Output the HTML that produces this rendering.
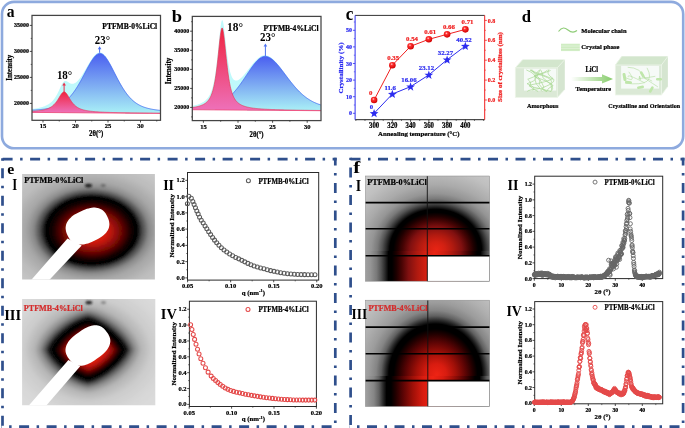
<!DOCTYPE html>
<html><head><meta charset="utf-8"><style>
html,body{margin:0;padding:0;background:#fff;overflow:hidden;}
svg{display:block;will-change:transform;}
text{font-family:"Liberation Serif",serif;font-weight:bold;}
</style></head><body>
<svg width="685" height="428" viewBox="0 0 685 428">
<defs>
<linearGradient id="bga" x1="0" y1="53.429182879377436" x2="0" y2="112.4" gradientUnits="userSpaceOnUse"><stop offset="0" stop-color="#4a5ff0"/><stop offset="0.5" stop-color="#7aa6f2"/><stop offset="1" stop-color="#a8eef6"/></linearGradient>
<linearGradient id="pga" x1="0" y1="91.85222688532514" x2="0" y2="112.4" gradientUnits="userSpaceOnUse"><stop offset="0" stop-color="#ef2440"/><stop offset="1" stop-color="#ee70b8"/></linearGradient>
<linearGradient id="bgb" x1="0" y1="56.36962344900046" x2="0" y2="109.7" gradientUnits="userSpaceOnUse"><stop offset="0" stop-color="#4a5ff0"/><stop offset="0.5" stop-color="#7aa6f2"/><stop offset="1" stop-color="#a8eef6"/></linearGradient>
<linearGradient id="pgb" x1="0" y1="28.04026920285156" x2="0" y2="109.7" gradientUnits="userSpaceOnUse"><stop offset="0" stop-color="#ef2440"/><stop offset="1" stop-color="#ee70b8"/></linearGradient>
<radialGradient id="sph" cx="0.4" cy="0.35" r="0.65"><stop offset="0" stop-color="#ffd0d0"/><stop offset="0.3" stop-color="#ff3030"/><stop offset="1" stop-color="#d00000"/></radialGradient>
<linearGradient id="arr" x1="0" y1="0" x2="1" y2="0"><stop offset="0" stop-color="#ffffff"/><stop offset="1" stop-color="#86cc6a"/></linearGradient>
<filter id="bl3" x="-50%" y="-50%" width="200%" height="200%"><feGaussianBlur stdDeviation="3"/></filter>
<filter id="bl5" x="-50%" y="-50%" width="200%" height="200%"><feGaussianBlur stdDeviation="5"/></filter>
<filter id="bl8" x="-50%" y="-50%" width="200%" height="200%"><feGaussianBlur stdDeviation="8"/></filter>
<filter id="bl1" x="-50%" y="-50%" width="200%" height="200%"><feGaussianBlur stdDeviation="1"/></filter>
<radialGradient id="wgf1" gradientUnits="userSpaceOnUse" cx="434.5" cy="251.0" fx="436.4" fy="249.5" r="118.00" gradientTransform="translate(434.5 251.0) scale(1 0.8900) translate(-434.5 -251.0)"><stop offset="0.0000" stop-color="#e82414"/><stop offset="0.0763" stop-color="#d22012"/><stop offset="0.1441" stop-color="#b01a10"/><stop offset="0.2203" stop-color="#801010"/><stop offset="0.2797" stop-color="#460404"/><stop offset="0.3220" stop-color="#1e0000"/><stop offset="0.3602" stop-color="#000000"/><stop offset="0.3898" stop-color="#000000"/><stop offset="0.4195" stop-color="#2a2a2a"/><stop offset="0.4534" stop-color="#555555"/><stop offset="0.4915" stop-color="#7a7a7a"/><stop offset="0.5424" stop-color="#959595"/><stop offset="0.6271" stop-color="#aaaaaa"/><stop offset="0.7627" stop-color="#c0c0c0"/><stop offset="1.0000" stop-color="#d2d2d2"/></radialGradient>
<linearGradient id="wlf1" gradientUnits="userSpaceOnUse" x1="316.50" y1="0" x2="552.50" y2="0"><stop offset="0.0000" stop-color="#d2d2d2"/><stop offset="0.1186" stop-color="#c0c0c0"/><stop offset="0.1864" stop-color="#aaaaaa"/><stop offset="0.2288" stop-color="#959595"/><stop offset="0.2542" stop-color="#7a7a7a"/><stop offset="0.2733" stop-color="#555555"/><stop offset="0.2903" stop-color="#2a2a2a"/><stop offset="0.3051" stop-color="#000000"/><stop offset="0.3199" stop-color="#000000"/><stop offset="0.3390" stop-color="#1e0000"/><stop offset="0.3602" stop-color="#460404"/><stop offset="0.3898" stop-color="#801010"/><stop offset="0.4280" stop-color="#b01a10"/><stop offset="0.4619" stop-color="#d22012"/><stop offset="0.5000" stop-color="#e82414"/><stop offset="0.5381" stop-color="#d22012"/><stop offset="0.5720" stop-color="#b01a10"/><stop offset="0.6102" stop-color="#801010"/><stop offset="0.6398" stop-color="#460404"/><stop offset="0.6610" stop-color="#1e0000"/><stop offset="0.6801" stop-color="#000000"/><stop offset="0.6949" stop-color="#000000"/><stop offset="0.7097" stop-color="#2a2a2a"/><stop offset="0.7267" stop-color="#555555"/><stop offset="0.7458" stop-color="#7a7a7a"/><stop offset="0.7712" stop-color="#959595"/><stop offset="0.8136" stop-color="#aaaaaa"/><stop offset="0.8814" stop-color="#c0c0c0"/><stop offset="1.0000" stop-color="#d2d2d2"/></linearGradient>
<radialGradient id="wgf3" gradientUnits="userSpaceOnUse" cx="433.0" cy="376.0" fx="436.8" fy="374.8" r="120.00" gradientTransform="translate(433.0 376.0) scale(1 1.1000) translate(-433.0 -376.0)"><stop offset="0.0000" stop-color="#ee2414"/><stop offset="0.0833" stop-color="#d81c10"/><stop offset="0.1667" stop-color="#a01008"/><stop offset="0.2500" stop-color="#5a0404"/><stop offset="0.3083" stop-color="#240000"/><stop offset="0.3500" stop-color="#000000"/><stop offset="0.3875" stop-color="#000000"/><stop offset="0.4167" stop-color="#2a2a2a"/><stop offset="0.4500" stop-color="#606060"/><stop offset="0.4917" stop-color="#858585"/><stop offset="0.5500" stop-color="#9c9c9c"/><stop offset="0.6417" stop-color="#b0b0b0"/><stop offset="0.7667" stop-color="#c4c4c4"/><stop offset="1.0000" stop-color="#d2d2d2"/></radialGradient>
<linearGradient id="wlf3" gradientUnits="userSpaceOnUse" x1="313.00" y1="0" x2="553.00" y2="0"><stop offset="0.0000" stop-color="#d2d2d2"/><stop offset="0.1167" stop-color="#c4c4c4"/><stop offset="0.1792" stop-color="#b0b0b0"/><stop offset="0.2250" stop-color="#9c9c9c"/><stop offset="0.2542" stop-color="#858585"/><stop offset="0.2750" stop-color="#606060"/><stop offset="0.2917" stop-color="#2a2a2a"/><stop offset="0.3063" stop-color="#000000"/><stop offset="0.3250" stop-color="#000000"/><stop offset="0.3458" stop-color="#240000"/><stop offset="0.3750" stop-color="#5a0404"/><stop offset="0.4167" stop-color="#a01008"/><stop offset="0.4583" stop-color="#d81c10"/><stop offset="0.5000" stop-color="#ee2414"/><stop offset="0.5417" stop-color="#d81c10"/><stop offset="0.5833" stop-color="#a01008"/><stop offset="0.6250" stop-color="#5a0404"/><stop offset="0.6542" stop-color="#240000"/><stop offset="0.6750" stop-color="#000000"/><stop offset="0.6937" stop-color="#000000"/><stop offset="0.7083" stop-color="#2a2a2a"/><stop offset="0.7250" stop-color="#606060"/><stop offset="0.7458" stop-color="#858585"/><stop offset="0.7750" stop-color="#9c9c9c"/><stop offset="0.8208" stop-color="#b0b0b0"/><stop offset="0.8833" stop-color="#c4c4c4"/><stop offset="1.0000" stop-color="#d2d2d2"/></linearGradient>
</defs>
<rect x="0" y="0" width="685" height="428" fill="#fff"/>
<rect x="2.0" y="1.9" width="681.2" height="146.4" rx="12" ry="12" fill="none" stroke="#8eaade" stroke-width="2.6"/>
<path d="M32.00,109.00 L32.50,108.93 L33.00,108.87 L33.50,108.80 L34.00,108.73 L34.50,108.66 L35.00,108.58 L35.50,108.50 L36.00,108.42 L36.50,108.33 L37.00,108.24 L37.50,108.15 L38.00,108.05 L38.50,107.95 L39.00,107.84 L39.50,107.73 L40.00,107.61 L40.50,107.49 L41.00,107.36 L41.50,107.23 L42.00,107.08 L42.50,106.93 L43.00,106.77 L43.50,106.61 L44.00,106.43 L44.50,106.24 L45.00,106.04 L45.50,105.83 L46.00,105.61 L46.50,105.37 L47.00,105.12 L47.50,104.85 L48.00,104.57 L48.50,104.26 L49.00,103.94 L49.50,103.59 L50.00,103.22 L50.50,102.83 L51.00,102.41 L51.50,101.95 L52.00,101.47 L52.50,100.95 L53.00,100.40 L53.50,99.81 L54.00,99.17 L54.50,98.50 L55.00,97.78 L55.50,97.01 L56.00,96.20 L56.50,95.34 L57.00,94.43 L57.50,93.47 L58.00,92.48 L58.50,91.44 L59.00,90.38 L59.50,89.29 L60.00,88.19 L60.50,87.11 L61.00,86.05 L61.50,85.04 L62.00,84.10 L62.50,83.25 L63.00,82.51 L63.50,81.90 L64.00,81.44 L64.50,81.11 L65.00,80.93 L65.50,80.89 L66.00,80.96 L66.50,81.13 L67.00,81.37 L67.50,81.67 L68.00,82.00 L68.50,82.33 L69.00,82.66 L69.50,82.97 L70.00,83.24 L70.50,83.47 L71.00,83.66 L71.50,83.78 L72.00,83.85 L72.50,83.87 L73.00,83.82 L73.50,83.72 L74.00,83.57 L74.50,83.35 L75.00,83.09 L75.50,82.78 L76.00,82.42 L76.50,82.01 L77.00,81.56 L77.50,81.07 L78.00,80.54 L78.50,79.97 L79.00,79.37 L79.50,78.74 L80.00,78.08 L80.50,77.39 L81.00,76.67 L81.50,75.93 L82.00,75.17 L82.50,74.39 L83.00,73.59 L83.50,72.78 L84.00,71.95 L84.50,71.11 L85.00,70.26 L85.50,69.40 L86.00,68.54 L86.50,67.68 L87.00,66.82 L87.50,65.95 L88.00,65.09 L88.50,64.24 L89.00,63.40 L89.50,62.57 L90.00,61.75 L90.50,60.95 L91.00,60.17 L91.50,59.41 L92.00,58.68 L92.50,57.98 L93.00,57.30 L93.50,56.67 L94.00,56.06 L94.50,55.50 L95.00,54.97 L95.50,54.50 L96.00,54.06 L96.50,53.68 L97.00,53.35 L97.50,53.07 L98.00,52.84 L98.50,52.67 L99.00,52.55 L99.50,52.49 L100.00,52.49 L100.50,52.55 L101.00,52.68 L101.50,52.86 L102.00,53.10 L102.50,53.40 L103.00,53.77 L103.50,54.18 L104.00,54.65 L104.50,55.18 L105.00,55.75 L105.50,56.37 L106.00,57.04 L106.50,57.74 L107.00,58.49 L107.50,59.27 L108.00,60.08 L108.50,60.93 L109.00,61.80 L109.50,62.69 L110.00,63.61 L110.50,64.54 L111.00,65.49 L111.50,66.46 L112.00,67.43 L112.50,68.41 L113.00,69.40 L113.50,70.40 L114.00,71.39 L114.50,72.39 L115.00,73.39 L115.50,74.38 L116.00,75.36 L116.50,76.34 L117.00,77.32 L117.50,78.28 L118.00,79.24 L118.50,80.18 L119.00,81.11 L119.50,82.03 L120.00,82.94 L120.50,83.83 L121.00,84.70 L121.50,85.56 L122.00,86.41 L122.50,87.24 L123.00,88.05 L123.50,88.84 L124.00,89.61 L124.50,90.37 L125.00,91.11 L125.50,91.83 L126.00,92.53 L126.50,93.21 L127.00,93.87 L127.50,94.52 L128.00,95.14 L128.50,95.75 L129.00,96.34 L129.50,96.91 L130.00,97.47 L130.50,98.00 L131.00,98.52 L131.50,99.02 L132.00,99.51 L132.50,99.97 L133.00,100.42 L133.50,100.86 L134.00,101.28 L134.50,101.68 L135.00,102.07 L135.50,102.44 L136.00,102.80 L136.50,103.15 L137.00,103.48 L137.50,103.80 L138.00,104.11 L138.50,104.40 L139.00,104.68 L139.50,104.95 L140.00,105.21 L140.50,105.46 L141.00,105.70 L141.50,105.93 L142.00,106.15 L142.50,106.36 L143.00,106.56 L143.50,106.76 L144.00,106.94 L144.50,107.12 L145.00,107.29 L145.50,107.45 L146.00,107.61 L146.50,107.76 L147.00,107.90 L147.50,108.04 L148.00,108.17 L148.50,108.30 L149.00,108.42 L149.50,108.54 L150.00,108.65 L150.50,108.76 L151.00,108.87 L151.50,108.97 L152.00,109.06 L152.50,109.16 L153.00,109.25 L153.50,109.33 L154.00,109.42 L154.50,109.50 L155.00,109.57 L155.50,109.65 L156.00,109.72 L156.50,109.79 L157.00,109.86 L157.50,109.93 L158.00,109.99 L158.50,110.05 L159.00,110.11 L159.50,110.17 L160.00,110.23 L160.50,110.28 L160.50,113.40 L160.00,113.40 L159.50,113.39 L159.00,113.39 L158.50,113.38 L158.00,113.38 L157.50,113.38 L157.00,113.37 L156.50,113.37 L156.00,113.36 L155.50,113.36 L155.00,113.36 L154.50,113.35 L154.00,113.35 L153.50,113.35 L153.00,113.34 L152.50,113.34 L152.00,113.33 L151.50,113.33 L151.00,113.33 L150.50,113.32 L150.00,113.32 L149.50,113.31 L149.00,113.31 L148.50,113.31 L148.00,113.30 L147.50,113.30 L147.00,113.29 L146.50,113.29 L146.00,113.29 L145.50,113.28 L145.00,113.28 L144.50,113.28 L144.00,113.27 L143.50,113.27 L143.00,113.26 L142.50,113.26 L142.00,113.26 L141.50,113.25 L141.00,113.25 L140.50,113.24 L140.00,113.24 L139.50,113.24 L139.00,113.23 L138.50,113.23 L138.00,113.22 L137.50,113.22 L137.00,113.22 L136.50,113.21 L136.00,113.21 L135.50,113.21 L135.00,113.20 L134.50,113.20 L134.00,113.19 L133.50,113.19 L133.00,113.19 L132.50,113.18 L132.00,113.18 L131.50,113.17 L131.00,113.17 L130.50,113.17 L130.00,113.16 L129.50,113.16 L129.00,113.15 L128.50,113.15 L128.00,113.15 L127.50,113.14 L127.00,113.14 L126.50,113.14 L126.00,113.13 L125.50,113.13 L125.00,113.12 L124.50,113.12 L124.00,113.12 L123.50,113.11 L123.00,113.11 L122.50,113.10 L122.00,113.10 L121.50,113.10 L121.00,113.09 L120.50,113.09 L120.00,113.08 L119.50,113.08 L119.00,113.08 L118.50,113.07 L118.00,113.07 L117.50,113.07 L117.00,113.06 L116.50,113.06 L116.00,113.05 L115.50,113.05 L115.00,113.05 L114.50,113.04 L114.00,113.04 L113.50,113.03 L113.00,113.03 L112.50,113.03 L112.00,113.02 L111.50,113.02 L111.00,113.01 L110.50,113.01 L110.00,113.01 L109.50,113.00 L109.00,113.00 L108.50,113.00 L108.00,112.99 L107.50,112.99 L107.00,112.98 L106.50,112.98 L106.00,112.98 L105.50,112.97 L105.00,112.97 L104.50,112.96 L104.00,112.96 L103.50,112.96 L103.00,112.95 L102.50,112.95 L102.00,112.94 L101.50,112.94 L101.00,112.94 L100.50,112.93 L100.00,112.93 L99.50,112.93 L99.00,112.92 L98.50,112.92 L98.00,112.91 L97.50,112.91 L97.00,112.91 L96.50,112.90 L96.00,112.90 L95.50,112.89 L95.00,112.89 L94.50,112.89 L94.00,112.88 L93.50,112.88 L93.00,112.87 L92.50,112.87 L92.00,112.87 L91.50,112.86 L91.00,112.86 L90.50,112.86 L90.00,112.85 L89.50,112.85 L89.00,112.84 L88.50,112.84 L88.00,112.84 L87.50,112.83 L87.00,112.83 L86.50,112.82 L86.00,112.82 L85.50,112.82 L85.00,112.81 L84.50,112.81 L84.00,112.80 L83.50,112.80 L83.00,112.80 L82.50,112.79 L82.00,112.79 L81.50,112.79 L81.00,112.78 L80.50,112.78 L80.00,112.77 L79.50,112.77 L79.00,112.77 L78.50,112.76 L78.00,112.76 L77.50,112.75 L77.00,112.75 L76.50,112.75 L76.00,112.74 L75.50,112.74 L75.00,112.73 L74.50,112.73 L74.00,112.73 L73.50,112.72 L73.00,112.72 L72.50,112.72 L72.00,112.71 L71.50,112.71 L71.00,112.70 L70.50,112.70 L70.00,112.70 L69.50,112.69 L69.00,112.69 L68.50,112.68 L68.00,112.68 L67.50,112.68 L67.00,112.67 L66.50,112.67 L66.00,112.66 L65.50,112.66 L65.00,112.66 L64.50,112.65 L64.00,112.65 L63.50,112.65 L63.00,112.64 L62.50,112.64 L62.00,112.63 L61.50,112.63 L61.00,112.63 L60.50,112.62 L60.00,112.62 L59.50,112.61 L59.00,112.61 L58.50,112.61 L58.00,112.60 L57.50,112.60 L57.00,112.59 L56.50,112.59 L56.00,112.59 L55.50,112.58 L55.00,112.58 L54.50,112.58 L54.00,112.57 L53.50,112.57 L53.00,112.56 L52.50,112.56 L52.00,112.56 L51.50,112.55 L51.00,112.55 L50.50,112.54 L50.00,112.54 L49.50,112.54 L49.00,112.53 L48.50,112.53 L48.00,112.52 L47.50,112.52 L47.00,112.52 L46.50,112.51 L46.00,112.51 L45.50,112.51 L45.00,112.50 L44.50,112.50 L44.00,112.49 L43.50,112.49 L43.00,112.49 L42.50,112.48 L42.00,112.48 L41.50,112.47 L41.00,112.47 L40.50,112.47 L40.00,112.46 L39.50,112.46 L39.00,112.45 L38.50,112.45 L38.00,112.45 L37.50,112.44 L37.00,112.44 L36.50,112.44 L36.00,112.43 L35.50,112.43 L35.00,112.42 L34.50,112.42 L34.00,112.42 L33.50,112.41 L33.00,112.41 L32.50,112.40 L32.00,112.40 Z" fill="#bff9fb"/>
<path d="M32.00,110.15 L32.50,110.12 L33.00,110.10 L33.50,110.07 L34.00,110.03 L34.50,110.00 L35.00,109.97 L35.50,109.94 L36.00,109.90 L36.50,109.87 L37.00,109.83 L37.50,109.79 L38.00,109.75 L38.50,109.71 L39.00,109.67 L39.50,109.62 L40.00,109.58 L40.50,109.53 L41.00,109.48 L41.50,109.43 L42.00,109.38 L42.50,109.32 L43.00,109.26 L43.50,109.21 L44.00,109.14 L44.50,109.08 L45.00,109.01 L45.50,108.94 L46.00,108.87 L46.50,108.79 L47.00,108.71 L47.50,108.63 L48.00,108.54 L48.50,108.45 L49.00,108.36 L49.50,108.26 L50.00,108.16 L50.50,108.05 L51.00,107.94 L51.50,107.82 L52.00,107.69 L52.50,107.56 L53.00,107.43 L53.50,107.29 L54.00,107.14 L54.50,106.98 L55.00,106.82 L55.50,106.65 L56.00,106.47 L56.50,106.28 L57.00,106.09 L57.50,105.88 L58.00,105.67 L58.50,105.44 L59.00,105.21 L59.50,104.97 L60.00,104.71 L60.50,104.44 L61.00,104.17 L61.50,103.88 L62.00,103.57 L62.50,103.26 L63.00,102.93 L63.50,102.59 L64.00,102.23 L64.50,101.86 L65.00,101.48 L65.50,101.08 L66.00,100.66 L66.50,100.23 L67.00,99.79 L67.50,99.32 L68.00,98.84 L68.50,98.35 L69.00,97.83 L69.50,97.30 L70.00,96.76 L70.50,96.19 L71.00,95.61 L71.50,95.01 L72.00,94.39 L72.50,93.75 L73.00,93.10 L73.50,92.42 L74.00,91.73 L74.50,91.02 L75.00,90.30 L75.50,89.55 L76.00,88.79 L76.50,88.01 L77.00,87.22 L77.50,86.41 L78.00,85.58 L78.50,84.74 L79.00,83.89 L79.50,83.02 L80.00,82.14 L80.50,81.24 L81.00,80.34 L81.50,79.42 L82.00,78.49 L82.50,77.56 L83.00,76.61 L83.50,75.67 L84.00,74.71 L84.50,73.75 L85.00,72.79 L85.50,71.83 L86.00,70.88 L86.50,69.92 L87.00,68.97 L87.50,68.02 L88.00,67.09 L88.50,66.16 L89.00,65.25 L89.50,64.35 L90.00,63.47 L90.50,62.61 L91.00,61.78 L91.50,60.97 L92.00,60.18 L92.50,59.43 L93.00,58.71 L93.50,58.03 L94.00,57.38 L94.50,56.78 L95.00,56.22 L95.50,55.70 L96.00,55.23 L96.50,54.81 L97.00,54.45 L97.50,54.14 L98.00,53.88 L98.50,53.68 L99.00,53.54 L99.50,53.45 L100.00,53.43 L100.50,53.46 L101.00,53.56 L101.50,53.72 L102.00,53.94 L102.50,54.23 L103.00,54.57 L103.50,54.97 L104.00,55.42 L104.50,55.92 L105.00,56.48 L105.50,57.08 L106.00,57.73 L106.50,58.42 L107.00,59.15 L107.50,59.92 L108.00,60.72 L108.50,61.55 L109.00,62.41 L109.50,63.29 L110.00,64.19 L110.50,65.11 L111.00,66.05 L111.50,67.00 L112.00,67.97 L112.50,68.94 L113.00,69.92 L113.50,70.90 L114.00,71.89 L114.50,72.88 L115.00,73.86 L115.50,74.84 L116.00,75.82 L116.50,76.79 L117.00,77.76 L117.50,78.72 L118.00,79.66 L118.50,80.60 L119.00,81.52 L119.50,82.44 L120.00,83.33 L120.50,84.22 L121.00,85.09 L121.50,85.94 L122.00,86.78 L122.50,87.60 L123.00,88.40 L123.50,89.19 L124.00,89.96 L124.50,90.71 L125.00,91.44 L125.50,92.16 L126.00,92.85 L126.50,93.53 L127.00,94.19 L127.50,94.83 L128.00,95.45 L128.50,96.05 L129.00,96.64 L129.50,97.21 L130.00,97.75 L130.50,98.29 L131.00,98.80 L131.50,99.30 L132.00,99.78 L132.50,100.24 L133.00,100.69 L133.50,101.12 L134.00,101.53 L134.50,101.93 L135.00,102.32 L135.50,102.69 L136.00,103.04 L136.50,103.39 L137.00,103.72 L137.50,104.03 L138.00,104.34 L138.50,104.63 L139.00,104.91 L139.50,105.17 L140.00,105.43 L140.50,105.68 L141.00,105.91 L141.50,106.14 L142.00,106.36 L142.50,106.57 L143.00,106.76 L143.50,106.96 L144.00,107.14 L144.50,107.31 L145.00,107.48 L145.50,107.64 L146.00,107.80 L146.50,107.94 L147.00,108.09 L147.50,108.22 L148.00,108.35 L148.50,108.48 L149.00,108.60 L149.50,108.71 L150.00,108.82 L150.50,108.93 L151.00,109.03 L151.50,109.13 L152.00,109.23 L152.50,109.32 L153.00,109.40 L153.50,109.49 L154.00,109.57 L154.50,109.65 L155.00,109.73 L155.50,109.80 L156.00,109.87 L156.50,109.94 L157.00,110.00 L157.50,110.07 L158.00,110.13 L158.50,110.19 L159.00,110.25 L159.50,110.31 L160.00,110.36 L160.50,110.42 L160.50,113.40 L160.00,113.40 L159.50,113.39 L159.00,113.39 L158.50,113.38 L158.00,113.38 L157.50,113.38 L157.00,113.37 L156.50,113.37 L156.00,113.36 L155.50,113.36 L155.00,113.36 L154.50,113.35 L154.00,113.35 L153.50,113.35 L153.00,113.34 L152.50,113.34 L152.00,113.33 L151.50,113.33 L151.00,113.33 L150.50,113.32 L150.00,113.32 L149.50,113.31 L149.00,113.31 L148.50,113.31 L148.00,113.30 L147.50,113.30 L147.00,113.29 L146.50,113.29 L146.00,113.29 L145.50,113.28 L145.00,113.28 L144.50,113.28 L144.00,113.27 L143.50,113.27 L143.00,113.26 L142.50,113.26 L142.00,113.26 L141.50,113.25 L141.00,113.25 L140.50,113.24 L140.00,113.24 L139.50,113.24 L139.00,113.23 L138.50,113.23 L138.00,113.22 L137.50,113.22 L137.00,113.22 L136.50,113.21 L136.00,113.21 L135.50,113.21 L135.00,113.20 L134.50,113.20 L134.00,113.19 L133.50,113.19 L133.00,113.19 L132.50,113.18 L132.00,113.18 L131.50,113.17 L131.00,113.17 L130.50,113.17 L130.00,113.16 L129.50,113.16 L129.00,113.15 L128.50,113.15 L128.00,113.15 L127.50,113.14 L127.00,113.14 L126.50,113.14 L126.00,113.13 L125.50,113.13 L125.00,113.12 L124.50,113.12 L124.00,113.12 L123.50,113.11 L123.00,113.11 L122.50,113.10 L122.00,113.10 L121.50,113.10 L121.00,113.09 L120.50,113.09 L120.00,113.08 L119.50,113.08 L119.00,113.08 L118.50,113.07 L118.00,113.07 L117.50,113.07 L117.00,113.06 L116.50,113.06 L116.00,113.05 L115.50,113.05 L115.00,113.05 L114.50,113.04 L114.00,113.04 L113.50,113.03 L113.00,113.03 L112.50,113.03 L112.00,113.02 L111.50,113.02 L111.00,113.01 L110.50,113.01 L110.00,113.01 L109.50,113.00 L109.00,113.00 L108.50,113.00 L108.00,112.99 L107.50,112.99 L107.00,112.98 L106.50,112.98 L106.00,112.98 L105.50,112.97 L105.00,112.97 L104.50,112.96 L104.00,112.96 L103.50,112.96 L103.00,112.95 L102.50,112.95 L102.00,112.94 L101.50,112.94 L101.00,112.94 L100.50,112.93 L100.00,112.93 L99.50,112.93 L99.00,112.92 L98.50,112.92 L98.00,112.91 L97.50,112.91 L97.00,112.91 L96.50,112.90 L96.00,112.90 L95.50,112.89 L95.00,112.89 L94.50,112.89 L94.00,112.88 L93.50,112.88 L93.00,112.87 L92.50,112.87 L92.00,112.87 L91.50,112.86 L91.00,112.86 L90.50,112.86 L90.00,112.85 L89.50,112.85 L89.00,112.84 L88.50,112.84 L88.00,112.84 L87.50,112.83 L87.00,112.83 L86.50,112.82 L86.00,112.82 L85.50,112.82 L85.00,112.81 L84.50,112.81 L84.00,112.80 L83.50,112.80 L83.00,112.80 L82.50,112.79 L82.00,112.79 L81.50,112.79 L81.00,112.78 L80.50,112.78 L80.00,112.77 L79.50,112.77 L79.00,112.77 L78.50,112.76 L78.00,112.76 L77.50,112.75 L77.00,112.75 L76.50,112.75 L76.00,112.74 L75.50,112.74 L75.00,112.73 L74.50,112.73 L74.00,112.73 L73.50,112.72 L73.00,112.72 L72.50,112.72 L72.00,112.71 L71.50,112.71 L71.00,112.70 L70.50,112.70 L70.00,112.70 L69.50,112.69 L69.00,112.69 L68.50,112.68 L68.00,112.68 L67.50,112.68 L67.00,112.67 L66.50,112.67 L66.00,112.66 L65.50,112.66 L65.00,112.66 L64.50,112.65 L64.00,112.65 L63.50,112.65 L63.00,112.64 L62.50,112.64 L62.00,112.63 L61.50,112.63 L61.00,112.63 L60.50,112.62 L60.00,112.62 L59.50,112.61 L59.00,112.61 L58.50,112.61 L58.00,112.60 L57.50,112.60 L57.00,112.59 L56.50,112.59 L56.00,112.59 L55.50,112.58 L55.00,112.58 L54.50,112.58 L54.00,112.57 L53.50,112.57 L53.00,112.56 L52.50,112.56 L52.00,112.56 L51.50,112.55 L51.00,112.55 L50.50,112.54 L50.00,112.54 L49.50,112.54 L49.00,112.53 L48.50,112.53 L48.00,112.52 L47.50,112.52 L47.00,112.52 L46.50,112.51 L46.00,112.51 L45.50,112.51 L45.00,112.50 L44.50,112.50 L44.00,112.49 L43.50,112.49 L43.00,112.49 L42.50,112.48 L42.00,112.48 L41.50,112.47 L41.00,112.47 L40.50,112.47 L40.00,112.46 L39.50,112.46 L39.00,112.45 L38.50,112.45 L38.00,112.45 L37.50,112.44 L37.00,112.44 L36.50,112.44 L36.00,112.43 L35.50,112.43 L35.00,112.42 L34.50,112.42 L34.00,112.42 L33.50,112.41 L33.00,112.41 L32.50,112.40 L32.00,112.40 Z" fill="url(#bga)"/>
<path d="M32.00,110.15 L32.50,110.12 L33.00,110.10 L33.50,110.07 L34.00,110.03 L34.50,110.00 L35.00,109.97 L35.50,109.94 L36.00,109.90 L36.50,109.87 L37.00,109.83 L37.50,109.79 L38.00,109.75 L38.50,109.71 L39.00,109.67 L39.50,109.62 L40.00,109.58 L40.50,109.53 L41.00,109.48 L41.50,109.43 L42.00,109.38 L42.50,109.32 L43.00,109.26 L43.50,109.21 L44.00,109.14 L44.50,109.08 L45.00,109.01 L45.50,108.94 L46.00,108.87 L46.50,108.79 L47.00,108.71 L47.50,108.63 L48.00,108.54 L48.50,108.45 L49.00,108.36 L49.50,108.26 L50.00,108.16 L50.50,108.05 L51.00,107.94 L51.50,107.82 L52.00,107.69 L52.50,107.56 L53.00,107.43 L53.50,107.29 L54.00,107.14 L54.50,106.98 L55.00,106.82 L55.50,106.65 L56.00,106.47 L56.50,106.28 L57.00,106.09 L57.50,105.88 L58.00,105.67 L58.50,105.44 L59.00,105.21 L59.50,104.97 L60.00,104.71 L60.50,104.44 L61.00,104.17 L61.50,103.88 L62.00,103.57 L62.50,103.26 L63.00,102.93 L63.50,102.59 L64.00,102.23 L64.50,101.86 L65.00,101.48 L65.50,101.08 L66.00,100.66 L66.50,100.23 L67.00,99.79 L67.50,99.32 L68.00,98.84 L68.50,98.35 L69.00,97.83 L69.50,97.30 L70.00,96.76 L70.50,96.19 L71.00,95.61 L71.50,95.01 L72.00,94.39 L72.50,93.75 L73.00,93.10 L73.50,92.42 L74.00,91.73 L74.50,91.02 L75.00,90.30 L75.50,89.55 L76.00,88.79 L76.50,88.01 L77.00,87.22 L77.50,86.41 L78.00,85.58 L78.50,84.74 L79.00,83.89 L79.50,83.02 L80.00,82.14 L80.50,81.24 L81.00,80.34 L81.50,79.42 L82.00,78.49 L82.50,77.56 L83.00,76.61 L83.50,75.67 L84.00,74.71 L84.50,73.75 L85.00,72.79 L85.50,71.83 L86.00,70.88 L86.50,69.92 L87.00,68.97 L87.50,68.02 L88.00,67.09 L88.50,66.16 L89.00,65.25 L89.50,64.35 L90.00,63.47 L90.50,62.61 L91.00,61.78 L91.50,60.97 L92.00,60.18 L92.50,59.43 L93.00,58.71 L93.50,58.03 L94.00,57.38 L94.50,56.78 L95.00,56.22 L95.50,55.70 L96.00,55.23 L96.50,54.81 L97.00,54.45 L97.50,54.14 L98.00,53.88 L98.50,53.68 L99.00,53.54 L99.50,53.45 L100.00,53.43 L100.50,53.46 L101.00,53.56 L101.50,53.72 L102.00,53.94 L102.50,54.23 L103.00,54.57 L103.50,54.97 L104.00,55.42 L104.50,55.92 L105.00,56.48 L105.50,57.08 L106.00,57.73 L106.50,58.42 L107.00,59.15 L107.50,59.92 L108.00,60.72 L108.50,61.55 L109.00,62.41 L109.50,63.29 L110.00,64.19 L110.50,65.11 L111.00,66.05 L111.50,67.00 L112.00,67.97 L112.50,68.94 L113.00,69.92 L113.50,70.90 L114.00,71.89 L114.50,72.88 L115.00,73.86 L115.50,74.84 L116.00,75.82 L116.50,76.79 L117.00,77.76 L117.50,78.72 L118.00,79.66 L118.50,80.60 L119.00,81.52 L119.50,82.44 L120.00,83.33 L120.50,84.22 L121.00,85.09 L121.50,85.94 L122.00,86.78 L122.50,87.60 L123.00,88.40 L123.50,89.19 L124.00,89.96 L124.50,90.71 L125.00,91.44 L125.50,92.16 L126.00,92.85 L126.50,93.53 L127.00,94.19 L127.50,94.83 L128.00,95.45 L128.50,96.05 L129.00,96.64 L129.50,97.21 L130.00,97.75 L130.50,98.29 L131.00,98.80 L131.50,99.30 L132.00,99.78 L132.50,100.24 L133.00,100.69 L133.50,101.12 L134.00,101.53 L134.50,101.93 L135.00,102.32 L135.50,102.69 L136.00,103.04 L136.50,103.39 L137.00,103.72 L137.50,104.03 L138.00,104.34 L138.50,104.63 L139.00,104.91 L139.50,105.17 L140.00,105.43 L140.50,105.68 L141.00,105.91 L141.50,106.14 L142.00,106.36 L142.50,106.57 L143.00,106.76 L143.50,106.96 L144.00,107.14 L144.50,107.31 L145.00,107.48 L145.50,107.64 L146.00,107.80 L146.50,107.94 L147.00,108.09 L147.50,108.22 L148.00,108.35 L148.50,108.48 L149.00,108.60 L149.50,108.71 L150.00,108.82 L150.50,108.93 L151.00,109.03 L151.50,109.13 L152.00,109.23 L152.50,109.32 L153.00,109.40 L153.50,109.49 L154.00,109.57 L154.50,109.65 L155.00,109.73 L155.50,109.80 L156.00,109.87 L156.50,109.94 L157.00,110.00 L157.50,110.07 L158.00,110.13 L158.50,110.19 L159.00,110.25 L159.50,110.31 L160.00,110.36 L160.50,110.42" fill="none" stroke="#3b5cf0" stroke-width="0.7"/>
<path d="M32.00,111.24 L32.50,111.21 L33.00,111.18 L33.50,111.15 L34.00,111.11 L34.50,111.07 L35.00,111.03 L35.50,110.99 L36.00,110.95 L36.50,110.90 L37.00,110.85 L37.50,110.80 L38.00,110.75 L38.50,110.69 L39.00,110.63 L39.50,110.57 L40.00,110.50 L40.50,110.43 L41.00,110.35 L41.50,110.27 L42.00,110.18 L42.50,110.09 L43.00,109.99 L43.50,109.89 L44.00,109.78 L44.50,109.66 L45.00,109.53 L45.50,109.40 L46.00,109.25 L46.50,109.09 L47.00,108.92 L47.50,108.74 L48.00,108.55 L48.50,108.34 L49.00,108.11 L49.50,107.87 L50.00,107.61 L50.50,107.32 L51.00,107.02 L51.50,106.69 L52.00,106.33 L52.50,105.95 L53.00,105.53 L53.50,105.09 L54.00,104.61 L54.50,104.09 L55.00,103.54 L55.50,102.95 L56.00,102.32 L56.50,101.65 L57.00,100.94 L57.50,100.19 L58.00,99.41 L58.50,98.60 L59.00,97.78 L59.50,96.94 L60.00,96.10 L60.50,95.29 L61.00,94.51 L61.50,93.79 L62.00,93.16 L62.50,92.63 L63.00,92.22 L63.50,91.96 L64.00,91.85 L64.50,91.90 L65.00,92.11 L65.50,92.47 L66.00,92.96 L66.50,93.56 L67.00,94.26 L67.50,95.02 L68.00,95.83 L68.50,96.67 L69.00,97.52 L69.50,98.36 L70.00,99.18 L70.50,99.98 L71.00,100.75 L71.50,101.48 L72.00,102.18 L72.50,102.83 L73.00,103.45 L73.50,104.02 L74.00,104.56 L74.50,105.06 L75.00,105.53 L75.50,105.96 L76.00,106.37 L76.50,106.74 L77.00,107.09 L77.50,107.41 L78.00,107.71 L78.50,107.99 L79.00,108.25 L79.50,108.49 L80.00,108.71 L80.50,108.92 L81.00,109.12 L81.50,109.30 L82.00,109.47 L82.50,109.62 L83.00,109.77 L83.50,109.91 L84.00,110.04 L84.50,110.16 L85.00,110.28 L85.50,110.39 L86.00,110.49 L86.50,110.58 L87.00,110.68 L87.50,110.76 L88.00,110.84 L88.50,110.92 L89.00,110.99 L89.50,111.06 L90.00,111.13 L90.50,111.19 L91.00,111.25 L91.50,111.31 L92.00,111.37 L92.50,111.42 L93.00,111.47 L93.50,111.52 L94.00,111.56 L94.50,111.61 L95.00,111.65 L95.50,111.69 L96.00,111.73 L96.50,111.77 L97.00,111.80 L97.50,111.84 L98.00,111.87 L98.50,111.90 L99.00,111.93 L99.50,111.97 L100.00,111.99 L100.50,112.02 L101.00,112.05 L101.50,112.08 L102.00,112.10 L102.50,112.13 L103.00,112.15 L103.50,112.17 L104.00,112.20 L104.50,112.22 L105.00,112.24 L105.50,112.26 L106.00,112.28 L106.50,112.30 L107.00,112.32 L107.50,112.34 L108.00,112.36 L108.50,112.37 L109.00,112.39 L109.50,112.41 L110.00,112.42 L110.50,112.44 L111.00,112.46 L111.50,112.47 L112.00,112.49 L112.50,112.50 L113.00,112.52 L113.50,112.53 L114.00,112.54 L114.50,112.56 L115.00,112.57 L115.50,112.58 L116.00,112.60 L116.50,112.61 L117.00,112.62 L117.50,112.63 L118.00,112.64 L118.50,112.65 L119.00,112.67 L119.50,112.68 L120.00,112.69 L120.50,112.70 L121.00,112.71 L121.50,112.72 L122.00,112.73 L122.50,112.74 L123.00,112.75 L123.50,112.76 L124.00,112.77 L124.50,112.78 L125.00,112.79 L125.50,112.80 L126.00,112.81 L126.50,112.82 L127.00,112.82 L127.50,112.83 L128.00,112.84 L128.50,112.85 L129.00,112.86 L129.50,112.87 L130.00,112.88 L130.50,112.88 L131.00,112.89 L131.50,112.90 L132.00,112.91 L132.50,112.92 L133.00,112.92 L133.50,112.93 L134.00,112.94 L134.50,112.95 L135.00,112.95 L135.50,112.96 L136.00,112.97 L136.50,112.97 L137.00,112.98 L137.50,112.99 L138.00,113.00 L138.50,113.00 L139.00,113.01 L139.50,113.02 L140.00,113.02 L140.50,113.03 L141.00,113.04 L141.50,113.04 L142.00,113.05 L142.50,113.06 L143.00,113.06 L143.50,113.07 L144.00,113.08 L144.50,113.08 L145.00,113.09 L145.50,113.09 L146.00,113.10 L146.50,113.11 L147.00,113.11 L147.50,113.12 L148.00,113.12 L148.50,113.13 L149.00,113.14 L149.50,113.14 L150.00,113.15 L150.50,113.15 L151.00,113.16 L151.50,113.17 L152.00,113.17 L152.50,113.18 L153.00,113.18 L153.50,113.19 L154.00,113.19 L154.50,113.20 L155.00,113.21 L155.50,113.21 L156.00,113.22 L156.50,113.22 L157.00,113.23 L157.50,113.23 L158.00,113.24 L158.50,113.24 L159.00,113.25 L159.50,113.25 L160.00,113.26 L160.50,113.26 L160.50,113.40 L160.00,113.40 L159.50,113.39 L159.00,113.39 L158.50,113.38 L158.00,113.38 L157.50,113.38 L157.00,113.37 L156.50,113.37 L156.00,113.36 L155.50,113.36 L155.00,113.36 L154.50,113.35 L154.00,113.35 L153.50,113.35 L153.00,113.34 L152.50,113.34 L152.00,113.33 L151.50,113.33 L151.00,113.33 L150.50,113.32 L150.00,113.32 L149.50,113.31 L149.00,113.31 L148.50,113.31 L148.00,113.30 L147.50,113.30 L147.00,113.29 L146.50,113.29 L146.00,113.29 L145.50,113.28 L145.00,113.28 L144.50,113.28 L144.00,113.27 L143.50,113.27 L143.00,113.26 L142.50,113.26 L142.00,113.26 L141.50,113.25 L141.00,113.25 L140.50,113.24 L140.00,113.24 L139.50,113.24 L139.00,113.23 L138.50,113.23 L138.00,113.22 L137.50,113.22 L137.00,113.22 L136.50,113.21 L136.00,113.21 L135.50,113.21 L135.00,113.20 L134.50,113.20 L134.00,113.19 L133.50,113.19 L133.00,113.19 L132.50,113.18 L132.00,113.18 L131.50,113.17 L131.00,113.17 L130.50,113.17 L130.00,113.16 L129.50,113.16 L129.00,113.15 L128.50,113.15 L128.00,113.15 L127.50,113.14 L127.00,113.14 L126.50,113.14 L126.00,113.13 L125.50,113.13 L125.00,113.12 L124.50,113.12 L124.00,113.12 L123.50,113.11 L123.00,113.11 L122.50,113.10 L122.00,113.10 L121.50,113.10 L121.00,113.09 L120.50,113.09 L120.00,113.08 L119.50,113.08 L119.00,113.08 L118.50,113.07 L118.00,113.07 L117.50,113.07 L117.00,113.06 L116.50,113.06 L116.00,113.05 L115.50,113.05 L115.00,113.05 L114.50,113.04 L114.00,113.04 L113.50,113.03 L113.00,113.03 L112.50,113.03 L112.00,113.02 L111.50,113.02 L111.00,113.01 L110.50,113.01 L110.00,113.01 L109.50,113.00 L109.00,113.00 L108.50,113.00 L108.00,112.99 L107.50,112.99 L107.00,112.98 L106.50,112.98 L106.00,112.98 L105.50,112.97 L105.00,112.97 L104.50,112.96 L104.00,112.96 L103.50,112.96 L103.00,112.95 L102.50,112.95 L102.00,112.94 L101.50,112.94 L101.00,112.94 L100.50,112.93 L100.00,112.93 L99.50,112.93 L99.00,112.92 L98.50,112.92 L98.00,112.91 L97.50,112.91 L97.00,112.91 L96.50,112.90 L96.00,112.90 L95.50,112.89 L95.00,112.89 L94.50,112.89 L94.00,112.88 L93.50,112.88 L93.00,112.87 L92.50,112.87 L92.00,112.87 L91.50,112.86 L91.00,112.86 L90.50,112.86 L90.00,112.85 L89.50,112.85 L89.00,112.84 L88.50,112.84 L88.00,112.84 L87.50,112.83 L87.00,112.83 L86.50,112.82 L86.00,112.82 L85.50,112.82 L85.00,112.81 L84.50,112.81 L84.00,112.80 L83.50,112.80 L83.00,112.80 L82.50,112.79 L82.00,112.79 L81.50,112.79 L81.00,112.78 L80.50,112.78 L80.00,112.77 L79.50,112.77 L79.00,112.77 L78.50,112.76 L78.00,112.76 L77.50,112.75 L77.00,112.75 L76.50,112.75 L76.00,112.74 L75.50,112.74 L75.00,112.73 L74.50,112.73 L74.00,112.73 L73.50,112.72 L73.00,112.72 L72.50,112.72 L72.00,112.71 L71.50,112.71 L71.00,112.70 L70.50,112.70 L70.00,112.70 L69.50,112.69 L69.00,112.69 L68.50,112.68 L68.00,112.68 L67.50,112.68 L67.00,112.67 L66.50,112.67 L66.00,112.66 L65.50,112.66 L65.00,112.66 L64.50,112.65 L64.00,112.65 L63.50,112.65 L63.00,112.64 L62.50,112.64 L62.00,112.63 L61.50,112.63 L61.00,112.63 L60.50,112.62 L60.00,112.62 L59.50,112.61 L59.00,112.61 L58.50,112.61 L58.00,112.60 L57.50,112.60 L57.00,112.59 L56.50,112.59 L56.00,112.59 L55.50,112.58 L55.00,112.58 L54.50,112.58 L54.00,112.57 L53.50,112.57 L53.00,112.56 L52.50,112.56 L52.00,112.56 L51.50,112.55 L51.00,112.55 L50.50,112.54 L50.00,112.54 L49.50,112.54 L49.00,112.53 L48.50,112.53 L48.00,112.52 L47.50,112.52 L47.00,112.52 L46.50,112.51 L46.00,112.51 L45.50,112.51 L45.00,112.50 L44.50,112.50 L44.00,112.49 L43.50,112.49 L43.00,112.49 L42.50,112.48 L42.00,112.48 L41.50,112.47 L41.00,112.47 L40.50,112.47 L40.00,112.46 L39.50,112.46 L39.00,112.45 L38.50,112.45 L38.00,112.45 L37.50,112.44 L37.00,112.44 L36.50,112.44 L36.00,112.43 L35.50,112.43 L35.00,112.42 L34.50,112.42 L34.00,112.42 L33.50,112.41 L33.00,112.41 L32.50,112.40 L32.00,112.40 Z" fill="url(#pga)"/>
<path d="M32.00,111.24 L32.50,111.21 L33.00,111.18 L33.50,111.15 L34.00,111.11 L34.50,111.07 L35.00,111.03 L35.50,110.99 L36.00,110.95 L36.50,110.90 L37.00,110.85 L37.50,110.80 L38.00,110.75 L38.50,110.69 L39.00,110.63 L39.50,110.57 L40.00,110.50 L40.50,110.43 L41.00,110.35 L41.50,110.27 L42.00,110.18 L42.50,110.09 L43.00,109.99 L43.50,109.89 L44.00,109.78 L44.50,109.66 L45.00,109.53 L45.50,109.40 L46.00,109.25 L46.50,109.09 L47.00,108.92 L47.50,108.74 L48.00,108.55 L48.50,108.34 L49.00,108.11 L49.50,107.87 L50.00,107.61 L50.50,107.32 L51.00,107.02 L51.50,106.69 L52.00,106.33 L52.50,105.95 L53.00,105.53 L53.50,105.09 L54.00,104.61 L54.50,104.09 L55.00,103.54 L55.50,102.95 L56.00,102.32 L56.50,101.65 L57.00,100.94 L57.50,100.19 L58.00,99.41 L58.50,98.60 L59.00,97.78 L59.50,96.94 L60.00,96.10 L60.50,95.29 L61.00,94.51 L61.50,93.79 L62.00,93.16 L62.50,92.63 L63.00,92.22 L63.50,91.96 L64.00,91.85 L64.50,91.90 L65.00,92.11 L65.50,92.47 L66.00,92.96 L66.50,93.56 L67.00,94.26 L67.50,95.02 L68.00,95.83 L68.50,96.67 L69.00,97.52 L69.50,98.36 L70.00,99.18 L70.50,99.98 L71.00,100.75 L71.50,101.48 L72.00,102.18 L72.50,102.83 L73.00,103.45 L73.50,104.02 L74.00,104.56 L74.50,105.06 L75.00,105.53 L75.50,105.96 L76.00,106.37 L76.50,106.74 L77.00,107.09 L77.50,107.41 L78.00,107.71 L78.50,107.99 L79.00,108.25 L79.50,108.49 L80.00,108.71 L80.50,108.92 L81.00,109.12 L81.50,109.30 L82.00,109.47 L82.50,109.62 L83.00,109.77 L83.50,109.91 L84.00,110.04 L84.50,110.16 L85.00,110.28 L85.50,110.39 L86.00,110.49 L86.50,110.58 L87.00,110.68 L87.50,110.76 L88.00,110.84 L88.50,110.92 L89.00,110.99 L89.50,111.06 L90.00,111.13 L90.50,111.19 L91.00,111.25 L91.50,111.31 L92.00,111.37 L92.50,111.42 L93.00,111.47 L93.50,111.52 L94.00,111.56 L94.50,111.61 L95.00,111.65 L95.50,111.69 L96.00,111.73 L96.50,111.77 L97.00,111.80 L97.50,111.84 L98.00,111.87 L98.50,111.90 L99.00,111.93 L99.50,111.97 L100.00,111.99 L100.50,112.02 L101.00,112.05 L101.50,112.08 L102.00,112.10 L102.50,112.13 L103.00,112.15 L103.50,112.17 L104.00,112.20 L104.50,112.22 L105.00,112.24 L105.50,112.26 L106.00,112.28 L106.50,112.30 L107.00,112.32 L107.50,112.34 L108.00,112.36 L108.50,112.37 L109.00,112.39 L109.50,112.41 L110.00,112.42 L110.50,112.44 L111.00,112.46 L111.50,112.47 L112.00,112.49 L112.50,112.50 L113.00,112.52 L113.50,112.53 L114.00,112.54 L114.50,112.56 L115.00,112.57 L115.50,112.58 L116.00,112.60 L116.50,112.61 L117.00,112.62 L117.50,112.63 L118.00,112.64 L118.50,112.65 L119.00,112.67 L119.50,112.68 L120.00,112.69 L120.50,112.70 L121.00,112.71 L121.50,112.72 L122.00,112.73 L122.50,112.74 L123.00,112.75 L123.50,112.76 L124.00,112.77 L124.50,112.78 L125.00,112.79 L125.50,112.80 L126.00,112.81 L126.50,112.82 L127.00,112.82 L127.50,112.83 L128.00,112.84 L128.50,112.85 L129.00,112.86 L129.50,112.87 L130.00,112.88 L130.50,112.88 L131.00,112.89 L131.50,112.90 L132.00,112.91 L132.50,112.92 L133.00,112.92 L133.50,112.93 L134.00,112.94 L134.50,112.95 L135.00,112.95 L135.50,112.96 L136.00,112.97 L136.50,112.97 L137.00,112.98 L137.50,112.99 L138.00,113.00 L138.50,113.00 L139.00,113.01 L139.50,113.02 L140.00,113.02 L140.50,113.03 L141.00,113.04 L141.50,113.04 L142.00,113.05 L142.50,113.06 L143.00,113.06 L143.50,113.07 L144.00,113.08 L144.50,113.08 L145.00,113.09 L145.50,113.09 L146.00,113.10 L146.50,113.11 L147.00,113.11 L147.50,113.12 L148.00,113.12 L148.50,113.13 L149.00,113.14 L149.50,113.14 L150.00,113.15 L150.50,113.15 L151.00,113.16 L151.50,113.17 L152.00,113.17 L152.50,113.18 L153.00,113.18 L153.50,113.19 L154.00,113.19 L154.50,113.20 L155.00,113.21 L155.50,113.21 L156.00,113.22 L156.50,113.22 L157.00,113.23 L157.50,113.23 L158.00,113.24 L158.50,113.24 L159.00,113.25 L159.50,113.25 L160.00,113.26 L160.50,113.26" fill="none" stroke="#e4304c" stroke-width="0.6"/>
<line x1="32.00" y1="112.40" x2="160.50" y2="113.40" stroke="#f05080" stroke-width="0.9" />
<rect x="32.00" y="15.40" width="128.50" height="104.90" fill="none" stroke="#444" stroke-width="1.25"/>
<line x1="29.80" y1="25.40" x2="32.00" y2="25.40" stroke="#222" stroke-width="0.8" />
<text x="29.00" y="27.44" font-size="6" fill="#000" text-anchor="end"  stroke="#000" stroke-width="0.22">35000</text>
<line x1="29.80" y1="51.40" x2="32.00" y2="51.40" stroke="#222" stroke-width="0.8" />
<text x="29.00" y="53.44" font-size="6" fill="#000" text-anchor="end"  stroke="#000" stroke-width="0.22">30000</text>
<line x1="29.80" y1="77.40" x2="32.00" y2="77.40" stroke="#222" stroke-width="0.8" />
<text x="29.00" y="79.44" font-size="6" fill="#000" text-anchor="end"  stroke="#000" stroke-width="0.22">25000</text>
<line x1="29.80" y1="103.40" x2="32.00" y2="103.40" stroke="#222" stroke-width="0.8" />
<text x="29.00" y="105.44" font-size="6" fill="#000" text-anchor="end"  stroke="#000" stroke-width="0.22">20000</text>
<line x1="30.68" y1="38.40" x2="32.00" y2="38.40" stroke="#222" stroke-width="0.6" />
<line x1="30.68" y1="64.40" x2="32.00" y2="64.40" stroke="#222" stroke-width="0.6" />
<line x1="30.68" y1="90.40" x2="32.00" y2="90.40" stroke="#222" stroke-width="0.6" />
<line x1="43.00" y1="120.30" x2="43.00" y2="122.50" stroke="#222" stroke-width="0.8" />
<text x="43.00" y="128.00" font-size="6.5" fill="#000" text-anchor="middle"  stroke="#000" stroke-width="0.22">15</text>
<line x1="75.50" y1="120.30" x2="75.50" y2="122.50" stroke="#222" stroke-width="0.8" />
<text x="75.50" y="128.00" font-size="6.5" fill="#000" text-anchor="middle"  stroke="#000" stroke-width="0.22">20</text>
<line x1="108.00" y1="120.30" x2="108.00" y2="122.50" stroke="#222" stroke-width="0.8" />
<text x="108.00" y="128.00" font-size="6.5" fill="#000" text-anchor="middle"  stroke="#000" stroke-width="0.22">25</text>
<line x1="140.50" y1="120.30" x2="140.50" y2="122.50" stroke="#222" stroke-width="0.8" />
<text x="140.50" y="128.00" font-size="6.5" fill="#000" text-anchor="middle"  stroke="#000" stroke-width="0.22">30</text>
<line x1="59.25" y1="120.30" x2="59.25" y2="121.62" stroke="#222" stroke-width="0.6" />
<line x1="91.75" y1="120.30" x2="91.75" y2="121.62" stroke="#222" stroke-width="0.6" />
<line x1="124.25" y1="120.30" x2="124.25" y2="121.62" stroke="#222" stroke-width="0.6" />
<line x1="156.75" y1="120.30" x2="156.75" y2="121.62" stroke="#222" stroke-width="0.6" />
<text x="0" y="0" font-size="7.4" fill="#000" text-anchor="middle" transform="translate(12.00,67.70) rotate(-90)"  textLength="26.0" lengthAdjust="spacingAndGlyphs" stroke="#000" stroke-width="0.22">Intensity</text>
<text x="89.10" y="136.30" font-size="7.3" fill="#000" text-anchor="start"  textLength="14.1" lengthAdjust="spacingAndGlyphs" stroke="#000" stroke-width="0.22">2θ(°)</text>
<text x="6.70" y="17.20" font-size="17" fill="#000" text-anchor="start"  textLength="7.8" lengthAdjust="spacingAndGlyphs">a</text>
<text x="102.30" y="28.90" font-size="7.6" fill="#000" text-anchor="start"  textLength="54.9" lengthAdjust="spacingAndGlyphs" stroke="#000" stroke-width="0.22">PTFMB-0%LiCl</text>
<text x="56.90" y="79.30" font-size="12" fill="#000" text-anchor="start"  textLength="15.3" lengthAdjust="spacingAndGlyphs">18°</text>
<text x="94.80" y="43.80" font-size="12" fill="#000" text-anchor="start"  textLength="15.2" lengthAdjust="spacingAndGlyphs">23°</text>
<line x1="64.10" y1="92.00" x2="64.10" y2="85.00" stroke="#e8304c" stroke-width="1.0" />
<path d="M62.30,85.50 L64.10,82.50 L65.90,85.50 Z" fill="#e8304c"/>
<line x1="99.60" y1="52.80" x2="99.60" y2="48.70" stroke="#4a70f0" stroke-width="1.0" />
<path d="M97.80,49.20 L99.60,46.20 L101.40,49.20 Z" fill="#4a70f0"/>
<path d="M192.30,105.83 L192.80,105.74 L193.30,105.64 L193.80,105.53 L194.30,105.42 L194.80,105.31 L195.30,105.19 L195.80,105.06 L196.30,104.92 L196.80,104.78 L197.30,104.63 L197.80,104.48 L198.30,104.31 L198.80,104.13 L199.30,103.95 L199.80,103.75 L200.30,103.54 L200.80,103.32 L201.30,103.08 L201.80,102.83 L202.30,102.56 L202.80,102.28 L203.30,101.97 L203.80,101.64 L204.30,101.29 L204.80,100.91 L205.30,100.51 L205.80,100.07 L206.30,99.59 L206.80,99.07 L207.30,98.51 L207.80,97.89 L208.30,97.21 L208.80,96.46 L209.30,95.64 L209.80,94.72 L210.30,93.70 L210.80,92.57 L211.30,91.30 L211.80,89.87 L212.30,88.28 L212.80,86.49 L213.30,84.49 L213.80,82.25 L214.30,79.75 L214.80,76.96 L215.30,73.87 L215.80,70.45 L216.30,66.70 L216.80,62.60 L217.30,58.18 L217.80,53.45 L218.30,48.49 L218.80,43.38 L219.30,38.26 L219.80,33.33 L220.30,28.82 L220.80,25.00 L221.30,22.12 L221.80,20.42 L222.30,20.01 L222.80,20.91 L223.30,23.02 L223.80,26.12 L224.30,29.96 L224.80,34.27 L225.30,38.81 L225.80,43.37 L226.30,47.81 L226.80,52.02 L227.30,55.93 L227.80,59.52 L228.30,62.76 L228.80,65.66 L229.30,68.22 L229.80,70.47 L230.30,72.43 L230.80,74.11 L231.30,75.54 L231.80,76.74 L232.30,77.74 L232.80,78.55 L233.30,79.21 L233.80,79.71 L234.30,80.09 L234.80,80.36 L235.30,80.53 L235.80,80.60 L236.30,80.60 L236.80,80.53 L237.30,80.40 L237.80,80.21 L238.30,79.97 L238.80,79.69 L239.30,79.36 L239.80,79.00 L240.30,78.61 L240.80,78.19 L241.30,77.73 L241.80,77.26 L242.30,76.76 L242.80,76.23 L243.30,75.69 L243.80,75.13 L244.30,74.56 L244.80,73.97 L245.30,73.37 L245.80,72.76 L246.30,72.13 L246.80,71.50 L247.30,70.87 L247.80,70.22 L248.30,69.58 L248.80,68.93 L249.30,68.28 L249.80,67.63 L250.30,66.98 L250.80,66.34 L251.30,65.70 L251.80,65.07 L252.30,64.44 L252.80,63.82 L253.30,63.22 L253.80,62.62 L254.30,62.04 L254.80,61.47 L255.30,60.92 L255.80,60.39 L256.30,59.88 L256.80,59.38 L257.30,58.91 L257.80,58.46 L258.30,58.04 L258.80,57.64 L259.30,57.27 L259.80,56.93 L260.30,56.62 L260.80,56.33 L261.30,56.08 L261.80,55.87 L262.30,55.68 L262.80,55.53 L263.30,55.41 L263.80,55.33 L264.30,55.28 L264.80,55.27 L265.30,55.30 L265.80,55.35 L266.30,55.44 L266.80,55.55 L267.30,55.69 L267.80,55.86 L268.30,56.06 L268.80,56.29 L269.30,56.55 L269.80,56.83 L270.30,57.13 L270.80,57.47 L271.30,57.82 L271.80,58.21 L272.30,58.61 L272.80,59.04 L273.30,59.49 L273.80,59.95 L274.30,60.44 L274.80,60.95 L275.30,61.47 L275.80,62.01 L276.30,62.57 L276.80,63.14 L277.30,63.72 L277.80,64.32 L278.30,64.93 L278.80,65.55 L279.30,66.17 L279.80,66.81 L280.30,67.46 L280.80,68.11 L281.30,68.77 L281.80,69.43 L282.30,70.10 L282.80,70.77 L283.30,71.44 L283.80,72.12 L284.30,72.80 L284.80,73.48 L285.30,74.15 L285.80,74.83 L286.30,75.51 L286.80,76.19 L287.30,76.86 L287.80,77.53 L288.30,78.20 L288.80,78.86 L289.30,79.52 L289.80,80.17 L290.30,80.82 L290.80,81.47 L291.30,82.11 L291.80,82.74 L292.30,83.36 L292.80,83.98 L293.30,84.59 L293.80,85.20 L294.30,85.79 L294.80,86.38 L295.30,86.96 L295.80,87.53 L296.30,88.09 L296.80,88.65 L297.30,89.19 L297.80,89.73 L298.30,90.25 L298.80,90.77 L299.30,91.28 L299.80,91.78 L300.30,92.27 L300.80,92.75 L301.30,93.21 L301.80,93.68 L302.30,94.13 L302.80,94.57 L303.30,95.00 L303.80,95.42 L304.30,95.83 L304.80,96.23 L305.30,96.63 L305.80,97.01 L306.30,97.38 L306.80,97.75 L307.30,98.10 L307.80,98.45 L308.30,98.79 L308.80,99.12 L309.30,99.44 L309.80,99.75 L310.30,100.05 L310.80,100.35 L311.30,100.63 L311.80,100.91 L312.30,101.18 L312.80,101.44 L313.30,101.70 L313.80,101.94 L314.30,102.18 L314.80,102.41 L315.30,102.64 L315.80,102.86 L316.30,103.07 L316.80,103.27 L317.30,103.47 L317.80,103.67 L318.30,103.85 L318.80,104.03 L319.30,104.21 L319.80,104.37 L320.30,104.54 L320.80,104.70 L320.80,110.70 L320.30,110.69 L319.80,110.69 L319.30,110.69 L318.80,110.68 L318.30,110.68 L317.80,110.68 L317.30,110.67 L316.80,110.67 L316.30,110.66 L315.80,110.66 L315.30,110.66 L314.80,110.65 L314.30,110.65 L313.80,110.64 L313.30,110.64 L312.80,110.64 L312.30,110.63 L311.80,110.63 L311.30,110.62 L310.80,110.62 L310.30,110.62 L309.80,110.61 L309.30,110.61 L308.80,110.61 L308.30,110.60 L307.80,110.60 L307.30,110.59 L306.80,110.59 L306.30,110.59 L305.80,110.58 L305.30,110.58 L304.80,110.57 L304.30,110.57 L303.80,110.57 L303.30,110.56 L302.80,110.56 L302.30,110.55 L301.80,110.55 L301.30,110.55 L300.80,110.54 L300.30,110.54 L299.80,110.54 L299.30,110.53 L298.80,110.53 L298.30,110.52 L297.80,110.52 L297.30,110.52 L296.80,110.51 L296.30,110.51 L295.80,110.50 L295.30,110.50 L294.80,110.50 L294.30,110.49 L293.80,110.49 L293.30,110.48 L292.80,110.48 L292.30,110.48 L291.80,110.47 L291.30,110.47 L290.80,110.47 L290.30,110.46 L289.80,110.46 L289.30,110.45 L288.80,110.45 L288.30,110.45 L287.80,110.44 L287.30,110.44 L286.80,110.43 L286.30,110.43 L285.80,110.43 L285.30,110.42 L284.80,110.42 L284.30,110.41 L283.80,110.41 L283.30,110.41 L282.80,110.40 L282.30,110.40 L281.80,110.40 L281.30,110.39 L280.80,110.39 L280.30,110.38 L279.80,110.38 L279.30,110.38 L278.80,110.37 L278.30,110.37 L277.80,110.36 L277.30,110.36 L276.80,110.36 L276.30,110.35 L275.80,110.35 L275.30,110.34 L274.80,110.34 L274.30,110.34 L273.80,110.33 L273.30,110.33 L272.80,110.33 L272.30,110.32 L271.80,110.32 L271.30,110.31 L270.80,110.31 L270.30,110.31 L269.80,110.30 L269.30,110.30 L268.80,110.29 L268.30,110.29 L267.80,110.29 L267.30,110.28 L266.80,110.28 L266.30,110.27 L265.80,110.27 L265.30,110.27 L264.80,110.26 L264.30,110.26 L263.80,110.26 L263.30,110.25 L262.80,110.25 L262.30,110.24 L261.80,110.24 L261.30,110.24 L260.80,110.23 L260.30,110.23 L259.80,110.22 L259.30,110.22 L258.80,110.22 L258.30,110.21 L257.80,110.21 L257.30,110.21 L256.80,110.20 L256.30,110.20 L255.80,110.19 L255.30,110.19 L254.80,110.19 L254.30,110.18 L253.80,110.18 L253.30,110.17 L252.80,110.17 L252.30,110.17 L251.80,110.16 L251.30,110.16 L250.80,110.15 L250.30,110.15 L249.80,110.15 L249.30,110.14 L248.80,110.14 L248.30,110.14 L247.80,110.13 L247.30,110.13 L246.80,110.12 L246.30,110.12 L245.80,110.12 L245.30,110.11 L244.80,110.11 L244.30,110.10 L243.80,110.10 L243.30,110.10 L242.80,110.09 L242.30,110.09 L241.80,110.08 L241.30,110.08 L240.80,110.08 L240.30,110.07 L239.80,110.07 L239.30,110.07 L238.80,110.06 L238.30,110.06 L237.80,110.05 L237.30,110.05 L236.80,110.05 L236.30,110.04 L235.80,110.04 L235.30,110.03 L234.80,110.03 L234.30,110.03 L233.80,110.02 L233.30,110.02 L232.80,110.01 L232.30,110.01 L231.80,110.01 L231.30,110.00 L230.80,110.00 L230.30,110.00 L229.80,109.99 L229.30,109.99 L228.80,109.98 L228.30,109.98 L227.80,109.98 L227.30,109.97 L226.80,109.97 L226.30,109.96 L225.80,109.96 L225.30,109.96 L224.80,109.95 L224.30,109.95 L223.80,109.94 L223.30,109.94 L222.80,109.94 L222.30,109.93 L221.80,109.93 L221.30,109.93 L220.80,109.92 L220.30,109.92 L219.80,109.91 L219.30,109.91 L218.80,109.91 L218.30,109.90 L217.80,109.90 L217.30,109.89 L216.80,109.89 L216.30,109.89 L215.80,109.88 L215.30,109.88 L214.80,109.87 L214.30,109.87 L213.80,109.87 L213.30,109.86 L212.80,109.86 L212.30,109.86 L211.80,109.85 L211.30,109.85 L210.80,109.84 L210.30,109.84 L209.80,109.84 L209.30,109.83 L208.80,109.83 L208.30,109.82 L207.80,109.82 L207.30,109.82 L206.80,109.81 L206.30,109.81 L205.80,109.80 L205.30,109.80 L204.80,109.80 L204.30,109.79 L203.80,109.79 L203.30,109.79 L202.80,109.78 L202.30,109.78 L201.80,109.77 L201.30,109.77 L200.80,109.77 L200.30,109.76 L199.80,109.76 L199.30,109.75 L198.80,109.75 L198.30,109.75 L197.80,109.74 L197.30,109.74 L196.80,109.73 L196.30,109.73 L195.80,109.73 L195.30,109.72 L194.80,109.72 L194.30,109.72 L193.80,109.71 L193.30,109.71 L192.80,109.70 L192.30,109.70 Z" fill="#bff9fb"/>
<path d="M192.30,108.05 L192.80,108.03 L193.30,108.01 L193.80,107.98 L194.30,107.96 L194.80,107.93 L195.30,107.91 L195.80,107.88 L196.30,107.85 L196.80,107.82 L197.30,107.79 L197.80,107.76 L198.30,107.72 L198.80,107.69 L199.30,107.65 L199.80,107.61 L200.30,107.57 L200.80,107.53 L201.30,107.48 L201.80,107.44 L202.30,107.39 L202.80,107.34 L203.30,107.29 L203.80,107.23 L204.30,107.17 L204.80,107.11 L205.30,107.05 L205.80,106.98 L206.30,106.91 L206.80,106.84 L207.30,106.76 L207.80,106.68 L208.30,106.60 L208.80,106.51 L209.30,106.42 L209.80,106.32 L210.30,106.22 L210.80,106.12 L211.30,106.01 L211.80,105.89 L212.30,105.77 L212.80,105.64 L213.30,105.51 L213.80,105.37 L214.30,105.23 L214.80,105.08 L215.30,104.92 L215.80,104.76 L216.30,104.59 L216.80,104.41 L217.30,104.23 L217.80,104.03 L218.30,103.83 L218.80,103.62 L219.30,103.40 L219.80,103.18 L220.30,102.94 L220.80,102.70 L221.30,102.44 L221.80,102.18 L222.30,101.90 L222.80,101.62 L223.30,101.32 L223.80,101.02 L224.30,100.70 L224.80,100.37 L225.30,100.04 L225.80,99.69 L226.30,99.32 L226.80,98.95 L227.30,98.57 L227.80,98.17 L228.30,97.76 L228.80,97.34 L229.30,96.90 L229.80,96.46 L230.30,96.00 L230.80,95.53 L231.30,95.04 L231.80,94.54 L232.30,94.03 L232.80,93.51 L233.30,92.98 L233.80,92.43 L234.30,91.87 L234.80,91.30 L235.30,90.71 L235.80,90.12 L236.30,89.51 L236.80,88.89 L237.30,88.26 L237.80,87.62 L238.30,86.96 L238.80,86.30 L239.30,85.63 L239.80,84.95 L240.30,84.25 L240.80,83.55 L241.30,82.84 L241.80,82.13 L242.30,81.41 L242.80,80.68 L243.30,79.94 L243.80,79.20 L244.30,78.45 L244.80,77.70 L245.30,76.95 L245.80,76.20 L246.30,75.44 L246.80,74.68 L247.30,73.93 L247.80,73.17 L248.30,72.42 L248.80,71.67 L249.30,70.92 L249.80,70.18 L250.30,69.45 L250.80,68.72 L251.30,68.00 L251.80,67.30 L252.30,66.60 L252.80,65.91 L253.30,65.24 L253.80,64.59 L254.30,63.95 L254.80,63.32 L255.30,62.72 L255.80,62.13 L256.30,61.57 L256.80,61.03 L257.30,60.51 L257.80,60.02 L258.30,59.56 L258.80,59.12 L259.30,58.71 L259.80,58.33 L260.30,57.98 L260.80,57.67 L261.30,57.38 L261.80,57.13 L262.30,56.92 L262.80,56.73 L263.30,56.59 L263.80,56.48 L264.30,56.41 L264.80,56.37 L265.30,56.37 L265.80,56.40 L266.30,56.46 L266.80,56.55 L267.30,56.67 L267.80,56.82 L268.30,57.00 L268.80,57.21 L269.30,57.45 L269.80,57.71 L270.30,58.00 L270.80,58.31 L271.30,58.65 L271.80,59.02 L272.30,59.41 L272.80,59.82 L273.30,60.25 L273.80,60.71 L274.30,61.18 L274.80,61.67 L275.30,62.18 L275.80,62.71 L276.30,63.25 L276.80,63.81 L277.30,64.38 L277.80,64.97 L278.30,65.56 L278.80,66.17 L279.30,66.79 L279.80,67.42 L280.30,68.05 L280.80,68.69 L281.30,69.34 L281.80,69.99 L282.30,70.65 L282.80,71.31 L283.30,71.98 L283.80,72.65 L284.30,73.32 L284.80,73.99 L285.30,74.66 L285.80,75.33 L286.30,76.00 L286.80,76.67 L287.30,77.33 L287.80,78.00 L288.30,78.66 L288.80,79.31 L289.30,79.97 L289.80,80.61 L290.30,81.26 L290.80,81.90 L291.30,82.53 L291.80,83.15 L292.30,83.77 L292.80,84.38 L293.30,84.99 L293.80,85.59 L294.30,86.18 L294.80,86.76 L295.30,87.34 L295.80,87.90 L296.30,88.46 L296.80,89.01 L297.30,89.55 L297.80,90.08 L298.30,90.60 L298.80,91.11 L299.30,91.62 L299.80,92.11 L300.30,92.60 L300.80,93.07 L301.30,93.54 L301.80,93.99 L302.30,94.44 L302.80,94.88 L303.30,95.30 L303.80,95.72 L304.30,96.13 L304.80,96.53 L305.30,96.92 L305.80,97.30 L306.30,97.67 L306.80,98.03 L307.30,98.38 L307.80,98.73 L308.30,99.06 L308.80,99.39 L309.30,99.70 L309.80,100.01 L310.30,100.31 L310.80,100.60 L311.30,100.89 L311.80,101.16 L312.30,101.43 L312.80,101.69 L313.30,101.94 L313.80,102.18 L314.30,102.42 L314.80,102.65 L315.30,102.87 L315.80,103.09 L316.30,103.30 L316.80,103.50 L317.30,103.70 L317.80,103.89 L318.30,104.07 L318.80,104.25 L319.30,104.42 L319.80,104.59 L320.30,104.75 L320.80,104.90 L320.80,110.70 L320.30,110.69 L319.80,110.69 L319.30,110.69 L318.80,110.68 L318.30,110.68 L317.80,110.68 L317.30,110.67 L316.80,110.67 L316.30,110.66 L315.80,110.66 L315.30,110.66 L314.80,110.65 L314.30,110.65 L313.80,110.64 L313.30,110.64 L312.80,110.64 L312.30,110.63 L311.80,110.63 L311.30,110.62 L310.80,110.62 L310.30,110.62 L309.80,110.61 L309.30,110.61 L308.80,110.61 L308.30,110.60 L307.80,110.60 L307.30,110.59 L306.80,110.59 L306.30,110.59 L305.80,110.58 L305.30,110.58 L304.80,110.57 L304.30,110.57 L303.80,110.57 L303.30,110.56 L302.80,110.56 L302.30,110.55 L301.80,110.55 L301.30,110.55 L300.80,110.54 L300.30,110.54 L299.80,110.54 L299.30,110.53 L298.80,110.53 L298.30,110.52 L297.80,110.52 L297.30,110.52 L296.80,110.51 L296.30,110.51 L295.80,110.50 L295.30,110.50 L294.80,110.50 L294.30,110.49 L293.80,110.49 L293.30,110.48 L292.80,110.48 L292.30,110.48 L291.80,110.47 L291.30,110.47 L290.80,110.47 L290.30,110.46 L289.80,110.46 L289.30,110.45 L288.80,110.45 L288.30,110.45 L287.80,110.44 L287.30,110.44 L286.80,110.43 L286.30,110.43 L285.80,110.43 L285.30,110.42 L284.80,110.42 L284.30,110.41 L283.80,110.41 L283.30,110.41 L282.80,110.40 L282.30,110.40 L281.80,110.40 L281.30,110.39 L280.80,110.39 L280.30,110.38 L279.80,110.38 L279.30,110.38 L278.80,110.37 L278.30,110.37 L277.80,110.36 L277.30,110.36 L276.80,110.36 L276.30,110.35 L275.80,110.35 L275.30,110.34 L274.80,110.34 L274.30,110.34 L273.80,110.33 L273.30,110.33 L272.80,110.33 L272.30,110.32 L271.80,110.32 L271.30,110.31 L270.80,110.31 L270.30,110.31 L269.80,110.30 L269.30,110.30 L268.80,110.29 L268.30,110.29 L267.80,110.29 L267.30,110.28 L266.80,110.28 L266.30,110.27 L265.80,110.27 L265.30,110.27 L264.80,110.26 L264.30,110.26 L263.80,110.26 L263.30,110.25 L262.80,110.25 L262.30,110.24 L261.80,110.24 L261.30,110.24 L260.80,110.23 L260.30,110.23 L259.80,110.22 L259.30,110.22 L258.80,110.22 L258.30,110.21 L257.80,110.21 L257.30,110.21 L256.80,110.20 L256.30,110.20 L255.80,110.19 L255.30,110.19 L254.80,110.19 L254.30,110.18 L253.80,110.18 L253.30,110.17 L252.80,110.17 L252.30,110.17 L251.80,110.16 L251.30,110.16 L250.80,110.15 L250.30,110.15 L249.80,110.15 L249.30,110.14 L248.80,110.14 L248.30,110.14 L247.80,110.13 L247.30,110.13 L246.80,110.12 L246.30,110.12 L245.80,110.12 L245.30,110.11 L244.80,110.11 L244.30,110.10 L243.80,110.10 L243.30,110.10 L242.80,110.09 L242.30,110.09 L241.80,110.08 L241.30,110.08 L240.80,110.08 L240.30,110.07 L239.80,110.07 L239.30,110.07 L238.80,110.06 L238.30,110.06 L237.80,110.05 L237.30,110.05 L236.80,110.05 L236.30,110.04 L235.80,110.04 L235.30,110.03 L234.80,110.03 L234.30,110.03 L233.80,110.02 L233.30,110.02 L232.80,110.01 L232.30,110.01 L231.80,110.01 L231.30,110.00 L230.80,110.00 L230.30,110.00 L229.80,109.99 L229.30,109.99 L228.80,109.98 L228.30,109.98 L227.80,109.98 L227.30,109.97 L226.80,109.97 L226.30,109.96 L225.80,109.96 L225.30,109.96 L224.80,109.95 L224.30,109.95 L223.80,109.94 L223.30,109.94 L222.80,109.94 L222.30,109.93 L221.80,109.93 L221.30,109.93 L220.80,109.92 L220.30,109.92 L219.80,109.91 L219.30,109.91 L218.80,109.91 L218.30,109.90 L217.80,109.90 L217.30,109.89 L216.80,109.89 L216.30,109.89 L215.80,109.88 L215.30,109.88 L214.80,109.87 L214.30,109.87 L213.80,109.87 L213.30,109.86 L212.80,109.86 L212.30,109.86 L211.80,109.85 L211.30,109.85 L210.80,109.84 L210.30,109.84 L209.80,109.84 L209.30,109.83 L208.80,109.83 L208.30,109.82 L207.80,109.82 L207.30,109.82 L206.80,109.81 L206.30,109.81 L205.80,109.80 L205.30,109.80 L204.80,109.80 L204.30,109.79 L203.80,109.79 L203.30,109.79 L202.80,109.78 L202.30,109.78 L201.80,109.77 L201.30,109.77 L200.80,109.77 L200.30,109.76 L199.80,109.76 L199.30,109.75 L198.80,109.75 L198.30,109.75 L197.80,109.74 L197.30,109.74 L196.80,109.73 L196.30,109.73 L195.80,109.73 L195.30,109.72 L194.80,109.72 L194.30,109.72 L193.80,109.71 L193.30,109.71 L192.80,109.70 L192.30,109.70 Z" fill="url(#bgb)"/>
<path d="M192.30,108.05 L192.80,108.03 L193.30,108.01 L193.80,107.98 L194.30,107.96 L194.80,107.93 L195.30,107.91 L195.80,107.88 L196.30,107.85 L196.80,107.82 L197.30,107.79 L197.80,107.76 L198.30,107.72 L198.80,107.69 L199.30,107.65 L199.80,107.61 L200.30,107.57 L200.80,107.53 L201.30,107.48 L201.80,107.44 L202.30,107.39 L202.80,107.34 L203.30,107.29 L203.80,107.23 L204.30,107.17 L204.80,107.11 L205.30,107.05 L205.80,106.98 L206.30,106.91 L206.80,106.84 L207.30,106.76 L207.80,106.68 L208.30,106.60 L208.80,106.51 L209.30,106.42 L209.80,106.32 L210.30,106.22 L210.80,106.12 L211.30,106.01 L211.80,105.89 L212.30,105.77 L212.80,105.64 L213.30,105.51 L213.80,105.37 L214.30,105.23 L214.80,105.08 L215.30,104.92 L215.80,104.76 L216.30,104.59 L216.80,104.41 L217.30,104.23 L217.80,104.03 L218.30,103.83 L218.80,103.62 L219.30,103.40 L219.80,103.18 L220.30,102.94 L220.80,102.70 L221.30,102.44 L221.80,102.18 L222.30,101.90 L222.80,101.62 L223.30,101.32 L223.80,101.02 L224.30,100.70 L224.80,100.37 L225.30,100.04 L225.80,99.69 L226.30,99.32 L226.80,98.95 L227.30,98.57 L227.80,98.17 L228.30,97.76 L228.80,97.34 L229.30,96.90 L229.80,96.46 L230.30,96.00 L230.80,95.53 L231.30,95.04 L231.80,94.54 L232.30,94.03 L232.80,93.51 L233.30,92.98 L233.80,92.43 L234.30,91.87 L234.80,91.30 L235.30,90.71 L235.80,90.12 L236.30,89.51 L236.80,88.89 L237.30,88.26 L237.80,87.62 L238.30,86.96 L238.80,86.30 L239.30,85.63 L239.80,84.95 L240.30,84.25 L240.80,83.55 L241.30,82.84 L241.80,82.13 L242.30,81.41 L242.80,80.68 L243.30,79.94 L243.80,79.20 L244.30,78.45 L244.80,77.70 L245.30,76.95 L245.80,76.20 L246.30,75.44 L246.80,74.68 L247.30,73.93 L247.80,73.17 L248.30,72.42 L248.80,71.67 L249.30,70.92 L249.80,70.18 L250.30,69.45 L250.80,68.72 L251.30,68.00 L251.80,67.30 L252.30,66.60 L252.80,65.91 L253.30,65.24 L253.80,64.59 L254.30,63.95 L254.80,63.32 L255.30,62.72 L255.80,62.13 L256.30,61.57 L256.80,61.03 L257.30,60.51 L257.80,60.02 L258.30,59.56 L258.80,59.12 L259.30,58.71 L259.80,58.33 L260.30,57.98 L260.80,57.67 L261.30,57.38 L261.80,57.13 L262.30,56.92 L262.80,56.73 L263.30,56.59 L263.80,56.48 L264.30,56.41 L264.80,56.37 L265.30,56.37 L265.80,56.40 L266.30,56.46 L266.80,56.55 L267.30,56.67 L267.80,56.82 L268.30,57.00 L268.80,57.21 L269.30,57.45 L269.80,57.71 L270.30,58.00 L270.80,58.31 L271.30,58.65 L271.80,59.02 L272.30,59.41 L272.80,59.82 L273.30,60.25 L273.80,60.71 L274.30,61.18 L274.80,61.67 L275.30,62.18 L275.80,62.71 L276.30,63.25 L276.80,63.81 L277.30,64.38 L277.80,64.97 L278.30,65.56 L278.80,66.17 L279.30,66.79 L279.80,67.42 L280.30,68.05 L280.80,68.69 L281.30,69.34 L281.80,69.99 L282.30,70.65 L282.80,71.31 L283.30,71.98 L283.80,72.65 L284.30,73.32 L284.80,73.99 L285.30,74.66 L285.80,75.33 L286.30,76.00 L286.80,76.67 L287.30,77.33 L287.80,78.00 L288.30,78.66 L288.80,79.31 L289.30,79.97 L289.80,80.61 L290.30,81.26 L290.80,81.90 L291.30,82.53 L291.80,83.15 L292.30,83.77 L292.80,84.38 L293.30,84.99 L293.80,85.59 L294.30,86.18 L294.80,86.76 L295.30,87.34 L295.80,87.90 L296.30,88.46 L296.80,89.01 L297.30,89.55 L297.80,90.08 L298.30,90.60 L298.80,91.11 L299.30,91.62 L299.80,92.11 L300.30,92.60 L300.80,93.07 L301.30,93.54 L301.80,93.99 L302.30,94.44 L302.80,94.88 L303.30,95.30 L303.80,95.72 L304.30,96.13 L304.80,96.53 L305.30,96.92 L305.80,97.30 L306.30,97.67 L306.80,98.03 L307.30,98.38 L307.80,98.73 L308.30,99.06 L308.80,99.39 L309.30,99.70 L309.80,100.01 L310.30,100.31 L310.80,100.60 L311.30,100.89 L311.80,101.16 L312.30,101.43 L312.80,101.69 L313.30,101.94 L313.80,102.18 L314.30,102.42 L314.80,102.65 L315.30,102.87 L315.80,103.09 L316.30,103.30 L316.80,103.50 L317.30,103.70 L317.80,103.89 L318.30,104.07 L318.80,104.25 L319.30,104.42 L319.80,104.59 L320.30,104.75 L320.80,104.90" fill="none" stroke="#3b5cf0" stroke-width="0.7"/>
<path d="M192.30,107.48 L192.80,107.41 L193.30,107.34 L193.80,107.26 L194.30,107.18 L194.80,107.10 L195.30,107.00 L195.80,106.91 L196.30,106.81 L196.80,106.70 L197.30,106.58 L197.80,106.46 L198.30,106.33 L198.80,106.20 L199.30,106.05 L199.80,105.90 L200.30,105.73 L200.80,105.56 L201.30,105.37 L201.80,105.17 L202.30,104.95 L202.80,104.72 L203.30,104.47 L203.80,104.20 L204.30,103.91 L204.80,103.60 L205.30,103.26 L205.80,102.89 L206.30,102.49 L206.80,102.04 L207.30,101.56 L207.80,101.03 L208.30,100.44 L208.80,99.78 L209.30,99.05 L209.80,98.24 L210.30,97.32 L210.80,96.29 L211.30,95.14 L211.80,93.84 L212.30,92.37 L212.80,90.71 L213.30,88.85 L213.80,86.75 L214.30,84.39 L214.80,81.76 L215.30,78.83 L215.80,75.57 L216.30,71.99 L216.80,68.08 L217.30,63.85 L217.80,59.32 L218.30,54.56 L218.80,49.66 L219.30,44.77 L219.80,40.07 L220.30,35.80 L220.80,32.22 L221.30,29.61 L221.80,28.17 L222.30,28.04 L222.80,29.23 L223.30,31.63 L223.80,35.05 L224.30,39.21 L224.80,43.85 L225.30,48.73 L225.80,53.65 L226.30,58.45 L226.80,63.03 L227.30,67.34 L227.80,71.33 L228.30,74.98 L228.80,78.31 L229.30,81.31 L229.80,84.01 L230.30,86.42 L230.80,88.58 L231.30,90.50 L231.80,92.20 L232.30,93.71 L232.80,95.06 L233.30,96.25 L233.80,97.31 L234.30,98.25 L234.80,99.09 L235.30,99.85 L235.80,100.52 L236.30,101.13 L236.80,101.69 L237.30,102.19 L237.80,102.65 L238.30,103.06 L238.80,103.45 L239.30,103.80 L239.80,104.13 L240.30,104.43 L240.80,104.71 L241.30,104.97 L241.80,105.21 L242.30,105.44 L242.80,105.65 L243.30,105.85 L243.80,106.04 L244.30,106.21 L244.80,106.37 L245.30,106.53 L245.80,106.68 L246.30,106.81 L246.80,106.94 L247.30,107.07 L247.80,107.18 L248.30,107.29 L248.80,107.40 L249.30,107.50 L249.80,107.59 L250.30,107.69 L250.80,107.77 L251.30,107.85 L251.80,107.93 L252.30,108.01 L252.80,108.08 L253.30,108.15 L253.80,108.21 L254.30,108.28 L254.80,108.34 L255.30,108.39 L255.80,108.45 L256.30,108.50 L256.80,108.55 L257.30,108.60 L257.80,108.65 L258.30,108.70 L258.80,108.74 L259.30,108.78 L259.80,108.82 L260.30,108.86 L260.80,108.90 L261.30,108.94 L261.80,108.97 L262.30,109.01 L262.80,109.04 L263.30,109.07 L263.80,109.11 L264.30,109.14 L264.80,109.17 L265.30,109.19 L265.80,109.22 L266.30,109.25 L266.80,109.28 L267.30,109.30 L267.80,109.33 L268.30,109.35 L268.80,109.37 L269.30,109.40 L269.80,109.42 L270.30,109.44 L270.80,109.46 L271.30,109.48 L271.80,109.50 L272.30,109.52 L272.80,109.54 L273.30,109.56 L273.80,109.58 L274.30,109.60 L274.80,109.62 L275.30,109.63 L275.80,109.65 L276.30,109.67 L276.80,109.68 L277.30,109.70 L277.80,109.72 L278.30,109.73 L278.80,109.75 L279.30,109.76 L279.80,109.77 L280.30,109.79 L280.80,109.80 L281.30,109.82 L281.80,109.83 L282.30,109.84 L282.80,109.86 L283.30,109.87 L283.80,109.88 L284.30,109.89 L284.80,109.91 L285.30,109.92 L285.80,109.93 L286.30,109.94 L286.80,109.95 L287.30,109.96 L287.80,109.97 L288.30,109.99 L288.80,110.00 L289.30,110.01 L289.80,110.02 L290.30,110.03 L290.80,110.04 L291.30,110.05 L291.80,110.06 L292.30,110.07 L292.80,110.08 L293.30,110.09 L293.80,110.10 L294.30,110.10 L294.80,110.11 L295.30,110.12 L295.80,110.13 L296.30,110.14 L296.80,110.15 L297.30,110.16 L297.80,110.17 L298.30,110.18 L298.80,110.18 L299.30,110.19 L299.80,110.20 L300.30,110.21 L300.80,110.22 L301.30,110.22 L301.80,110.23 L302.30,110.24 L302.80,110.25 L303.30,110.26 L303.80,110.26 L304.30,110.27 L304.80,110.28 L305.30,110.29 L305.80,110.29 L306.30,110.30 L306.80,110.31 L307.30,110.31 L307.80,110.32 L308.30,110.33 L308.80,110.34 L309.30,110.34 L309.80,110.35 L310.30,110.36 L310.80,110.36 L311.30,110.37 L311.80,110.38 L312.30,110.38 L312.80,110.39 L313.30,110.40 L313.80,110.40 L314.30,110.41 L314.80,110.42 L315.30,110.42 L315.80,110.43 L316.30,110.44 L316.80,110.44 L317.30,110.45 L317.80,110.45 L318.30,110.46 L318.80,110.47 L319.30,110.47 L319.80,110.48 L320.30,110.48 L320.80,110.49 L320.80,110.70 L320.30,110.69 L319.80,110.69 L319.30,110.69 L318.80,110.68 L318.30,110.68 L317.80,110.68 L317.30,110.67 L316.80,110.67 L316.30,110.66 L315.80,110.66 L315.30,110.66 L314.80,110.65 L314.30,110.65 L313.80,110.64 L313.30,110.64 L312.80,110.64 L312.30,110.63 L311.80,110.63 L311.30,110.62 L310.80,110.62 L310.30,110.62 L309.80,110.61 L309.30,110.61 L308.80,110.61 L308.30,110.60 L307.80,110.60 L307.30,110.59 L306.80,110.59 L306.30,110.59 L305.80,110.58 L305.30,110.58 L304.80,110.57 L304.30,110.57 L303.80,110.57 L303.30,110.56 L302.80,110.56 L302.30,110.55 L301.80,110.55 L301.30,110.55 L300.80,110.54 L300.30,110.54 L299.80,110.54 L299.30,110.53 L298.80,110.53 L298.30,110.52 L297.80,110.52 L297.30,110.52 L296.80,110.51 L296.30,110.51 L295.80,110.50 L295.30,110.50 L294.80,110.50 L294.30,110.49 L293.80,110.49 L293.30,110.48 L292.80,110.48 L292.30,110.48 L291.80,110.47 L291.30,110.47 L290.80,110.47 L290.30,110.46 L289.80,110.46 L289.30,110.45 L288.80,110.45 L288.30,110.45 L287.80,110.44 L287.30,110.44 L286.80,110.43 L286.30,110.43 L285.80,110.43 L285.30,110.42 L284.80,110.42 L284.30,110.41 L283.80,110.41 L283.30,110.41 L282.80,110.40 L282.30,110.40 L281.80,110.40 L281.30,110.39 L280.80,110.39 L280.30,110.38 L279.80,110.38 L279.30,110.38 L278.80,110.37 L278.30,110.37 L277.80,110.36 L277.30,110.36 L276.80,110.36 L276.30,110.35 L275.80,110.35 L275.30,110.34 L274.80,110.34 L274.30,110.34 L273.80,110.33 L273.30,110.33 L272.80,110.33 L272.30,110.32 L271.80,110.32 L271.30,110.31 L270.80,110.31 L270.30,110.31 L269.80,110.30 L269.30,110.30 L268.80,110.29 L268.30,110.29 L267.80,110.29 L267.30,110.28 L266.80,110.28 L266.30,110.27 L265.80,110.27 L265.30,110.27 L264.80,110.26 L264.30,110.26 L263.80,110.26 L263.30,110.25 L262.80,110.25 L262.30,110.24 L261.80,110.24 L261.30,110.24 L260.80,110.23 L260.30,110.23 L259.80,110.22 L259.30,110.22 L258.80,110.22 L258.30,110.21 L257.80,110.21 L257.30,110.21 L256.80,110.20 L256.30,110.20 L255.80,110.19 L255.30,110.19 L254.80,110.19 L254.30,110.18 L253.80,110.18 L253.30,110.17 L252.80,110.17 L252.30,110.17 L251.80,110.16 L251.30,110.16 L250.80,110.15 L250.30,110.15 L249.80,110.15 L249.30,110.14 L248.80,110.14 L248.30,110.14 L247.80,110.13 L247.30,110.13 L246.80,110.12 L246.30,110.12 L245.80,110.12 L245.30,110.11 L244.80,110.11 L244.30,110.10 L243.80,110.10 L243.30,110.10 L242.80,110.09 L242.30,110.09 L241.80,110.08 L241.30,110.08 L240.80,110.08 L240.30,110.07 L239.80,110.07 L239.30,110.07 L238.80,110.06 L238.30,110.06 L237.80,110.05 L237.30,110.05 L236.80,110.05 L236.30,110.04 L235.80,110.04 L235.30,110.03 L234.80,110.03 L234.30,110.03 L233.80,110.02 L233.30,110.02 L232.80,110.01 L232.30,110.01 L231.80,110.01 L231.30,110.00 L230.80,110.00 L230.30,110.00 L229.80,109.99 L229.30,109.99 L228.80,109.98 L228.30,109.98 L227.80,109.98 L227.30,109.97 L226.80,109.97 L226.30,109.96 L225.80,109.96 L225.30,109.96 L224.80,109.95 L224.30,109.95 L223.80,109.94 L223.30,109.94 L222.80,109.94 L222.30,109.93 L221.80,109.93 L221.30,109.93 L220.80,109.92 L220.30,109.92 L219.80,109.91 L219.30,109.91 L218.80,109.91 L218.30,109.90 L217.80,109.90 L217.30,109.89 L216.80,109.89 L216.30,109.89 L215.80,109.88 L215.30,109.88 L214.80,109.87 L214.30,109.87 L213.80,109.87 L213.30,109.86 L212.80,109.86 L212.30,109.86 L211.80,109.85 L211.30,109.85 L210.80,109.84 L210.30,109.84 L209.80,109.84 L209.30,109.83 L208.80,109.83 L208.30,109.82 L207.80,109.82 L207.30,109.82 L206.80,109.81 L206.30,109.81 L205.80,109.80 L205.30,109.80 L204.80,109.80 L204.30,109.79 L203.80,109.79 L203.30,109.79 L202.80,109.78 L202.30,109.78 L201.80,109.77 L201.30,109.77 L200.80,109.77 L200.30,109.76 L199.80,109.76 L199.30,109.75 L198.80,109.75 L198.30,109.75 L197.80,109.74 L197.30,109.74 L196.80,109.73 L196.30,109.73 L195.80,109.73 L195.30,109.72 L194.80,109.72 L194.30,109.72 L193.80,109.71 L193.30,109.71 L192.80,109.70 L192.30,109.70 Z" fill="url(#pgb)"/>
<path d="M192.30,107.48 L192.80,107.41 L193.30,107.34 L193.80,107.26 L194.30,107.18 L194.80,107.10 L195.30,107.00 L195.80,106.91 L196.30,106.81 L196.80,106.70 L197.30,106.58 L197.80,106.46 L198.30,106.33 L198.80,106.20 L199.30,106.05 L199.80,105.90 L200.30,105.73 L200.80,105.56 L201.30,105.37 L201.80,105.17 L202.30,104.95 L202.80,104.72 L203.30,104.47 L203.80,104.20 L204.30,103.91 L204.80,103.60 L205.30,103.26 L205.80,102.89 L206.30,102.49 L206.80,102.04 L207.30,101.56 L207.80,101.03 L208.30,100.44 L208.80,99.78 L209.30,99.05 L209.80,98.24 L210.30,97.32 L210.80,96.29 L211.30,95.14 L211.80,93.84 L212.30,92.37 L212.80,90.71 L213.30,88.85 L213.80,86.75 L214.30,84.39 L214.80,81.76 L215.30,78.83 L215.80,75.57 L216.30,71.99 L216.80,68.08 L217.30,63.85 L217.80,59.32 L218.30,54.56 L218.80,49.66 L219.30,44.77 L219.80,40.07 L220.30,35.80 L220.80,32.22 L221.30,29.61 L221.80,28.17 L222.30,28.04 L222.80,29.23 L223.30,31.63 L223.80,35.05 L224.30,39.21 L224.80,43.85 L225.30,48.73 L225.80,53.65 L226.30,58.45 L226.80,63.03 L227.30,67.34 L227.80,71.33 L228.30,74.98 L228.80,78.31 L229.30,81.31 L229.80,84.01 L230.30,86.42 L230.80,88.58 L231.30,90.50 L231.80,92.20 L232.30,93.71 L232.80,95.06 L233.30,96.25 L233.80,97.31 L234.30,98.25 L234.80,99.09 L235.30,99.85 L235.80,100.52 L236.30,101.13 L236.80,101.69 L237.30,102.19 L237.80,102.65 L238.30,103.06 L238.80,103.45 L239.30,103.80 L239.80,104.13 L240.30,104.43 L240.80,104.71 L241.30,104.97 L241.80,105.21 L242.30,105.44 L242.80,105.65 L243.30,105.85 L243.80,106.04 L244.30,106.21 L244.80,106.37 L245.30,106.53 L245.80,106.68 L246.30,106.81 L246.80,106.94 L247.30,107.07 L247.80,107.18 L248.30,107.29 L248.80,107.40 L249.30,107.50 L249.80,107.59 L250.30,107.69 L250.80,107.77 L251.30,107.85 L251.80,107.93 L252.30,108.01 L252.80,108.08 L253.30,108.15 L253.80,108.21 L254.30,108.28 L254.80,108.34 L255.30,108.39 L255.80,108.45 L256.30,108.50 L256.80,108.55 L257.30,108.60 L257.80,108.65 L258.30,108.70 L258.80,108.74 L259.30,108.78 L259.80,108.82 L260.30,108.86 L260.80,108.90 L261.30,108.94 L261.80,108.97 L262.30,109.01 L262.80,109.04 L263.30,109.07 L263.80,109.11 L264.30,109.14 L264.80,109.17 L265.30,109.19 L265.80,109.22 L266.30,109.25 L266.80,109.28 L267.30,109.30 L267.80,109.33 L268.30,109.35 L268.80,109.37 L269.30,109.40 L269.80,109.42 L270.30,109.44 L270.80,109.46 L271.30,109.48 L271.80,109.50 L272.30,109.52 L272.80,109.54 L273.30,109.56 L273.80,109.58 L274.30,109.60 L274.80,109.62 L275.30,109.63 L275.80,109.65 L276.30,109.67 L276.80,109.68 L277.30,109.70 L277.80,109.72 L278.30,109.73 L278.80,109.75 L279.30,109.76 L279.80,109.77 L280.30,109.79 L280.80,109.80 L281.30,109.82 L281.80,109.83 L282.30,109.84 L282.80,109.86 L283.30,109.87 L283.80,109.88 L284.30,109.89 L284.80,109.91 L285.30,109.92 L285.80,109.93 L286.30,109.94 L286.80,109.95 L287.30,109.96 L287.80,109.97 L288.30,109.99 L288.80,110.00 L289.30,110.01 L289.80,110.02 L290.30,110.03 L290.80,110.04 L291.30,110.05 L291.80,110.06 L292.30,110.07 L292.80,110.08 L293.30,110.09 L293.80,110.10 L294.30,110.10 L294.80,110.11 L295.30,110.12 L295.80,110.13 L296.30,110.14 L296.80,110.15 L297.30,110.16 L297.80,110.17 L298.30,110.18 L298.80,110.18 L299.30,110.19 L299.80,110.20 L300.30,110.21 L300.80,110.22 L301.30,110.22 L301.80,110.23 L302.30,110.24 L302.80,110.25 L303.30,110.26 L303.80,110.26 L304.30,110.27 L304.80,110.28 L305.30,110.29 L305.80,110.29 L306.30,110.30 L306.80,110.31 L307.30,110.31 L307.80,110.32 L308.30,110.33 L308.80,110.34 L309.30,110.34 L309.80,110.35 L310.30,110.36 L310.80,110.36 L311.30,110.37 L311.80,110.38 L312.30,110.38 L312.80,110.39 L313.30,110.40 L313.80,110.40 L314.30,110.41 L314.80,110.42 L315.30,110.42 L315.80,110.43 L316.30,110.44 L316.80,110.44 L317.30,110.45 L317.80,110.45 L318.30,110.46 L318.80,110.47 L319.30,110.47 L319.80,110.48 L320.30,110.48 L320.80,110.49" fill="none" stroke="#e4304c" stroke-width="0.6"/>
<line x1="192.30" y1="109.70" x2="321.00" y2="110.70" stroke="#f05080" stroke-width="0.9" />
<rect x="192.30" y="16.40" width="128.70" height="104.20" fill="none" stroke="#444" stroke-width="1.25"/>
<line x1="190.10" y1="31.20" x2="192.30" y2="31.20" stroke="#222" stroke-width="0.8" />
<text x="189.30" y="33.24" font-size="6" fill="#000" text-anchor="end"  stroke="#000" stroke-width="0.22">40000</text>
<line x1="190.10" y1="50.30" x2="192.30" y2="50.30" stroke="#222" stroke-width="0.8" />
<text x="189.30" y="52.34" font-size="6" fill="#000" text-anchor="end"  stroke="#000" stroke-width="0.22">35000</text>
<line x1="190.10" y1="69.40" x2="192.30" y2="69.40" stroke="#222" stroke-width="0.8" />
<text x="189.30" y="71.44" font-size="6" fill="#000" text-anchor="end"  stroke="#000" stroke-width="0.22">30000</text>
<line x1="190.10" y1="88.40" x2="192.30" y2="88.40" stroke="#222" stroke-width="0.8" />
<text x="189.30" y="90.44" font-size="6" fill="#000" text-anchor="end"  stroke="#000" stroke-width="0.22">25000</text>
<line x1="190.10" y1="107.40" x2="192.30" y2="107.40" stroke="#222" stroke-width="0.8" />
<text x="189.30" y="109.44" font-size="6" fill="#000" text-anchor="end"  stroke="#000" stroke-width="0.22">20000</text>
<line x1="190.98" y1="21.70" x2="192.30" y2="21.70" stroke="#222" stroke-width="0.6" />
<line x1="190.98" y1="40.70" x2="192.30" y2="40.70" stroke="#222" stroke-width="0.6" />
<line x1="190.98" y1="59.90" x2="192.30" y2="59.90" stroke="#222" stroke-width="0.6" />
<line x1="190.98" y1="78.90" x2="192.30" y2="78.90" stroke="#222" stroke-width="0.6" />
<line x1="190.98" y1="97.90" x2="192.30" y2="97.90" stroke="#222" stroke-width="0.6" />
<line x1="190.98" y1="116.90" x2="192.30" y2="116.90" stroke="#222" stroke-width="0.6" />
<line x1="203.40" y1="120.60" x2="203.40" y2="122.80" stroke="#222" stroke-width="0.8" />
<text x="203.40" y="129.10" font-size="6.5" fill="#000" text-anchor="middle"  stroke="#000" stroke-width="0.22">15</text>
<line x1="238.00" y1="120.60" x2="238.00" y2="122.80" stroke="#222" stroke-width="0.8" />
<text x="238.00" y="129.10" font-size="6.5" fill="#000" text-anchor="middle"  stroke="#000" stroke-width="0.22">20</text>
<line x1="272.60" y1="120.60" x2="272.60" y2="122.80" stroke="#222" stroke-width="0.8" />
<text x="272.60" y="129.10" font-size="6.5" fill="#000" text-anchor="middle"  stroke="#000" stroke-width="0.22">25</text>
<line x1="307.20" y1="120.60" x2="307.20" y2="122.80" stroke="#222" stroke-width="0.8" />
<text x="307.20" y="129.10" font-size="6.5" fill="#000" text-anchor="middle"  stroke="#000" stroke-width="0.22">30</text>
<line x1="220.70" y1="120.60" x2="220.70" y2="121.92" stroke="#222" stroke-width="0.6" />
<line x1="255.30" y1="120.60" x2="255.30" y2="121.92" stroke="#222" stroke-width="0.6" />
<line x1="289.90" y1="120.60" x2="289.90" y2="121.92" stroke="#222" stroke-width="0.6" />
<text x="0" y="0" font-size="7.4" fill="#000" text-anchor="middle" transform="translate(170.90,71.00) rotate(-90)"  textLength="26.4" lengthAdjust="spacingAndGlyphs" stroke="#000" stroke-width="0.22">Intensity</text>
<text x="249.60" y="136.70" font-size="7.2" fill="#000" text-anchor="start"  textLength="14.0" lengthAdjust="spacingAndGlyphs" stroke="#000" stroke-width="0.22">2θ(°)</text>
<text x="171.70" y="21.80" font-size="16.5" fill="#000" text-anchor="start"  textLength="10.3" lengthAdjust="spacingAndGlyphs">b</text>
<text x="263.60" y="30.60" font-size="7.6" fill="#000" text-anchor="start"  textLength="55.1" lengthAdjust="spacingAndGlyphs" stroke="#000" stroke-width="0.22">PTFMB-4%LiCl</text>
<text x="227.10" y="31.20" font-size="12.3" fill="#000" text-anchor="start"  textLength="15.9" lengthAdjust="spacingAndGlyphs">18°</text>
<text x="260.10" y="41.10" font-size="11.8" fill="#000" text-anchor="start"  textLength="15.4" lengthAdjust="spacingAndGlyphs">23°</text>
<line x1="265.40" y1="56.00" x2="265.40" y2="46.10" stroke="#4a70f0" stroke-width="1.0" />
<path d="M263.60,46.60 L265.40,43.60 L267.20,46.60 Z" fill="#4a70f0"/>
<line x1="355.10" y1="15.40" x2="484.70" y2="15.40" stroke="#333" stroke-width="1.0" />
<line x1="355.10" y1="119.70" x2="484.70" y2="119.70" stroke="#222" stroke-width="1.0" />
<line x1="355.10" y1="15.40" x2="355.10" y2="119.70" stroke="#2d2df0" stroke-width="1.0" />
<line x1="484.70" y1="15.40" x2="484.70" y2="119.70" stroke="#f02020" stroke-width="1.0" />
<line x1="352.90" y1="113.30" x2="355.10" y2="113.30" stroke="#2d2df0" stroke-width="0.8" />
<text x="352.10" y="115.40" font-size="6" fill="#2d2df0" text-anchor="end"  stroke="#2d2df0" stroke-width="0.22">0</text>
<line x1="352.90" y1="96.70" x2="355.10" y2="96.70" stroke="#2d2df0" stroke-width="0.8" />
<text x="352.10" y="98.80" font-size="6" fill="#2d2df0" text-anchor="end"  stroke="#2d2df0" stroke-width="0.22">10</text>
<line x1="352.90" y1="80.10" x2="355.10" y2="80.10" stroke="#2d2df0" stroke-width="0.8" />
<text x="352.10" y="82.20" font-size="6" fill="#2d2df0" text-anchor="end"  stroke="#2d2df0" stroke-width="0.22">20</text>
<line x1="352.90" y1="63.50" x2="355.10" y2="63.50" stroke="#2d2df0" stroke-width="0.8" />
<text x="352.10" y="65.60" font-size="6" fill="#2d2df0" text-anchor="end"  stroke="#2d2df0" stroke-width="0.22">30</text>
<line x1="352.90" y1="46.90" x2="355.10" y2="46.90" stroke="#2d2df0" stroke-width="0.8" />
<text x="352.10" y="49.00" font-size="6" fill="#2d2df0" text-anchor="end"  stroke="#2d2df0" stroke-width="0.22">40</text>
<line x1="352.90" y1="30.30" x2="355.10" y2="30.30" stroke="#2d2df0" stroke-width="0.8" />
<text x="352.10" y="32.40" font-size="6" fill="#2d2df0" text-anchor="end"  stroke="#2d2df0" stroke-width="0.22">50</text>
<line x1="353.80" y1="105.00" x2="355.10" y2="105.00" stroke="#2d2df0" stroke-width="0.6" />
<line x1="353.80" y1="88.40" x2="355.10" y2="88.40" stroke="#2d2df0" stroke-width="0.6" />
<line x1="353.80" y1="71.80" x2="355.10" y2="71.80" stroke="#2d2df0" stroke-width="0.6" />
<line x1="353.80" y1="55.20" x2="355.10" y2="55.20" stroke="#2d2df0" stroke-width="0.6" />
<line x1="353.80" y1="38.60" x2="355.10" y2="38.60" stroke="#2d2df0" stroke-width="0.6" />
<line x1="353.80" y1="22.00" x2="355.10" y2="22.00" stroke="#2d2df0" stroke-width="0.6" />
<line x1="484.70" y1="100.00" x2="486.90" y2="100.00" stroke="#f02020" stroke-width="0.8" />
<text x="487.70" y="102.10" font-size="6" fill="#f02020" text-anchor="start"  stroke="#f02020" stroke-width="0.22">0.0</text>
<line x1="484.70" y1="80.10" x2="486.90" y2="80.10" stroke="#f02020" stroke-width="0.8" />
<text x="487.70" y="82.20" font-size="6" fill="#f02020" text-anchor="start"  stroke="#f02020" stroke-width="0.22">0.2</text>
<line x1="484.70" y1="60.20" x2="486.90" y2="60.20" stroke="#f02020" stroke-width="0.8" />
<text x="487.70" y="62.30" font-size="6" fill="#f02020" text-anchor="start"  stroke="#f02020" stroke-width="0.22">0.4</text>
<line x1="484.70" y1="40.30" x2="486.90" y2="40.30" stroke="#f02020" stroke-width="0.8" />
<text x="487.70" y="42.40" font-size="6" fill="#f02020" text-anchor="start"  stroke="#f02020" stroke-width="0.22">0.6</text>
<line x1="484.70" y1="20.40" x2="486.90" y2="20.40" stroke="#f02020" stroke-width="0.8" />
<text x="487.70" y="22.50" font-size="6" fill="#f02020" text-anchor="start"  stroke="#f02020" stroke-width="0.22">0.8</text>
<line x1="484.70" y1="109.95" x2="486.00" y2="109.95" stroke="#f02020" stroke-width="0.6" />
<line x1="484.70" y1="90.05" x2="486.00" y2="90.05" stroke="#f02020" stroke-width="0.6" />
<line x1="484.70" y1="70.15" x2="486.00" y2="70.15" stroke="#f02020" stroke-width="0.6" />
<line x1="484.70" y1="50.25" x2="486.00" y2="50.25" stroke="#f02020" stroke-width="0.6" />
<line x1="484.70" y1="30.35" x2="486.00" y2="30.35" stroke="#f02020" stroke-width="0.6" />
<line x1="374.10" y1="119.70" x2="374.10" y2="121.90" stroke="#222" stroke-width="0.8" />
<text x="374.10" y="127.80" font-size="7.4" fill="#000" text-anchor="middle"  textLength="10.2" lengthAdjust="spacingAndGlyphs" stroke="#000" stroke-width="0.22">300</text>
<line x1="392.35" y1="119.70" x2="392.35" y2="121.90" stroke="#222" stroke-width="0.8" />
<text x="392.35" y="127.80" font-size="7.4" fill="#000" text-anchor="middle"  textLength="10.2" lengthAdjust="spacingAndGlyphs" stroke="#000" stroke-width="0.22">320</text>
<line x1="410.60" y1="119.70" x2="410.60" y2="121.90" stroke="#222" stroke-width="0.8" />
<text x="410.60" y="127.80" font-size="7.4" fill="#000" text-anchor="middle"  textLength="10.2" lengthAdjust="spacingAndGlyphs" stroke="#000" stroke-width="0.22">340</text>
<line x1="428.85" y1="119.70" x2="428.85" y2="121.90" stroke="#222" stroke-width="0.8" />
<text x="428.85" y="127.80" font-size="7.4" fill="#000" text-anchor="middle"  textLength="10.2" lengthAdjust="spacingAndGlyphs" stroke="#000" stroke-width="0.22">360</text>
<line x1="447.10" y1="119.70" x2="447.10" y2="121.90" stroke="#222" stroke-width="0.8" />
<text x="447.10" y="127.80" font-size="7.4" fill="#000" text-anchor="middle"  textLength="10.2" lengthAdjust="spacingAndGlyphs" stroke="#000" stroke-width="0.22">380</text>
<line x1="465.35" y1="119.70" x2="465.35" y2="121.90" stroke="#222" stroke-width="0.8" />
<text x="465.35" y="127.80" font-size="7.4" fill="#000" text-anchor="middle"  textLength="10.2" lengthAdjust="spacingAndGlyphs" stroke="#000" stroke-width="0.22">400</text>
<line x1="355.85" y1="119.70" x2="355.85" y2="121.00" stroke="#222" stroke-width="0.6" />
<line x1="364.98" y1="119.70" x2="364.98" y2="121.00" stroke="#222" stroke-width="0.6" />
<line x1="383.23" y1="119.70" x2="383.23" y2="121.00" stroke="#222" stroke-width="0.6" />
<line x1="401.48" y1="119.70" x2="401.48" y2="121.00" stroke="#222" stroke-width="0.6" />
<line x1="419.73" y1="119.70" x2="419.73" y2="121.00" stroke="#222" stroke-width="0.6" />
<line x1="437.98" y1="119.70" x2="437.98" y2="121.00" stroke="#222" stroke-width="0.6" />
<line x1="456.23" y1="119.70" x2="456.23" y2="121.00" stroke="#222" stroke-width="0.6" />
<line x1="474.48" y1="119.70" x2="474.48" y2="121.00" stroke="#222" stroke-width="0.6" />
<line x1="483.60" y1="119.70" x2="483.60" y2="121.00" stroke="#222" stroke-width="0.6" />
<text x="378.00" y="135.60" font-size="6.7" fill="#000" text-anchor="start"  textLength="81.5" lengthAdjust="spacingAndGlyphs" stroke="#000" stroke-width="0.22">Annealing temperature (°C)</text>
<text x="0" y="0" font-size="7" fill="#2d2df0" text-anchor="middle" transform="translate(342.50,68.00) rotate(-90)"  stroke="#2d2df0" stroke-width="0.22">Crystallinity (%)</text>
<text x="0" y="0" font-size="7" fill="#f02020" text-anchor="middle" transform="translate(501.50,67.00) rotate(-90)"  stroke="#f02020" stroke-width="0.22">Size of crystallites (nm)</text>
<text x="345.80" y="20.20" font-size="18.5" fill="#000" text-anchor="start"  textLength="7.6" lengthAdjust="spacingAndGlyphs">c</text>
<path d="M374.10,113.30 L392.35,94.04 L410.60,86.64 L428.85,74.92 L447.10,59.73 L465.35,46.04" fill="none" stroke="#2d2df0" stroke-width="1"/>
<path d="M374.10,100.00 L392.35,65.18 L410.60,46.27 L428.85,39.30 L447.10,34.33 L465.35,29.36" fill="none" stroke="#f02020" stroke-width="1"/>
<path d="M374.10,109.00 L375.22,112.06 L378.47,112.18 L375.91,114.19 L376.80,117.32 L374.10,115.50 L371.40,117.32 L372.29,114.19 L369.73,112.18 L372.98,112.06 Z" fill="#2d2df0"/>
<path d="M392.35,89.74 L393.47,92.81 L396.72,92.92 L394.16,94.93 L395.05,98.07 L392.35,96.24 L389.65,98.07 L390.54,94.93 L387.98,92.92 L391.23,92.81 Z" fill="#2d2df0"/>
<path d="M410.60,82.34 L411.72,85.40 L414.97,85.52 L412.41,87.53 L413.30,90.66 L410.60,88.84 L407.90,90.66 L408.79,87.53 L406.23,85.52 L409.48,85.40 Z" fill="#2d2df0"/>
<path d="M428.85,70.62 L429.97,73.68 L433.22,73.80 L430.66,75.81 L431.55,78.94 L428.85,77.12 L426.15,78.94 L427.04,75.81 L424.48,73.80 L427.73,73.68 Z" fill="#2d2df0"/>
<path d="M447.10,55.43 L448.22,58.49 L451.47,58.61 L448.91,60.62 L449.80,63.75 L447.10,61.93 L444.40,63.75 L445.29,60.62 L442.73,58.61 L445.98,58.49 Z" fill="#2d2df0"/>
<path d="M465.35,41.74 L466.47,44.80 L469.72,44.92 L467.16,46.92 L468.05,50.06 L465.35,48.24 L462.65,50.06 L463.54,46.92 L460.98,44.92 L464.23,44.80 Z" fill="#2d2df0"/>
<circle cx="374.10" cy="100.00" r="3.3" fill="url(#sph)"/>
<circle cx="392.35" cy="65.18" r="3.3" fill="url(#sph)"/>
<circle cx="410.60" cy="46.27" r="3.3" fill="url(#sph)"/>
<circle cx="428.85" cy="39.30" r="3.3" fill="url(#sph)"/>
<circle cx="447.10" cy="34.33" r="3.3" fill="url(#sph)"/>
<circle cx="465.35" cy="29.36" r="3.3" fill="url(#sph)"/>
<text x="371.50" y="108.80" font-size="6.8" fill="#2d2df0" text-anchor="middle"  stroke="#2d2df0" stroke-width="0.22">0</text>
<text x="390.20" y="89.80" font-size="6.8" fill="#2d2df0" text-anchor="middle"  stroke="#2d2df0" stroke-width="0.22">11.6</text>
<text x="408.90" y="82.30" font-size="6.8" fill="#2d2df0" text-anchor="middle"  stroke="#2d2df0" stroke-width="0.22">16.06</text>
<text x="426.50" y="69.60" font-size="6.8" fill="#2d2df0" text-anchor="middle"  stroke="#2d2df0" stroke-width="0.22">23.12</text>
<text x="445.40" y="54.60" font-size="6.8" fill="#2d2df0" text-anchor="middle"  stroke="#2d2df0" stroke-width="0.22">32.27</text>
<text x="464.00" y="41.60" font-size="6.8" fill="#2d2df0" text-anchor="middle"  stroke="#2d2df0" stroke-width="0.22">40.52</text>
<text x="370.60" y="95.30" font-size="6.8" fill="#f02020" text-anchor="middle"  stroke="#f02020" stroke-width="0.22">0</text>
<text x="393.20" y="60.40" font-size="6.8" fill="#f02020" text-anchor="middle"  stroke="#f02020" stroke-width="0.22">0.35</text>
<text x="412.00" y="41.40" font-size="6.8" fill="#f02020" text-anchor="middle"  stroke="#f02020" stroke-width="0.22">0.54</text>
<text x="430.10" y="34.40" font-size="6.8" fill="#f02020" text-anchor="middle"  stroke="#f02020" stroke-width="0.22">0.61</text>
<text x="448.90" y="29.10" font-size="6.8" fill="#f02020" text-anchor="middle"  stroke="#f02020" stroke-width="0.22">0.66</text>
<text x="467.50" y="24.40" font-size="6.8" fill="#f02020" text-anchor="middle"  stroke="#f02020" stroke-width="0.22">0.71</text>
<text x="521.70" y="21.80" font-size="17" fill="#000" text-anchor="start"  textLength="9.3" lengthAdjust="spacingAndGlyphs">d</text>
<path d="M558.5,31.5 C562,26.5 565,27.5 568,30 C571,32.5 574,33 577,30.5" fill="none" stroke="#8fcc78" stroke-width="1.1"/>
<text x="581.30" y="33.00" font-size="6.5" fill="#000" text-anchor="start"  stroke="#000" stroke-width="0.22">Molecular chain</text>
<rect x="561" y="43.8" width="18.8" height="6.8" fill="#e6f5de"/>
<line x1="561.00" y1="44.30" x2="579.80" y2="44.30" stroke="#b7e2a4" stroke-width="0.6" />
<line x1="561.00" y1="46.00" x2="579.80" y2="46.00" stroke="#b7e2a4" stroke-width="0.6" />
<line x1="561.00" y1="47.70" x2="579.80" y2="47.70" stroke="#b7e2a4" stroke-width="0.6" />
<line x1="561.00" y1="49.40" x2="579.80" y2="49.40" stroke="#b7e2a4" stroke-width="0.6" />
<line x1="561.00" y1="50.60" x2="579.80" y2="50.60" stroke="#b7e2a4" stroke-width="0.6" />
<text x="581.30" y="49.40" font-size="6.5" fill="#000" text-anchor="start"  stroke="#000" stroke-width="0.22">Crystal phase</text>
<path d="M515.30,67.80 L522.60,59.80 L564.60,59.80 L564.60,89.60 L557.30,97.60 L515.30,97.60 Z" fill="#dbe9d6"/>
<path d="M515.30,67.80 L522.60,59.80 L564.60,59.80 L557.30,67.80 Z" fill="#d3e6cd"/>
<path d="M557.30,67.80 L564.60,59.80 L564.60,89.60 L557.30,97.60 Z" fill="#d5e5d0"/>
<rect x="524" y="68.6" width="32.200000000000045" height="22.0" fill="#f6faf7"/>
<rect x="515.3" y="67.8" width="42.0" height="29.799999999999997" fill="none" stroke="#eef6ea" stroke-width="0.8"/>
<line x1="557.30" y1="67.80" x2="564.60" y2="59.80" stroke="#eef6ea" stroke-width="0.8" />
<line x1="557.30" y1="97.60" x2="564.60" y2="89.60" stroke="#eef6ea" stroke-width="0.8" />
<line x1="515.30" y1="67.80" x2="522.60" y2="59.80" stroke="#eef6ea" stroke-width="0.8" />
<path d="M532.1,69.6 Q535.9,73.6 536.1,77.7 Q536.3,80.7 527.0,83.7 Q536.8,87.2 532.8,90.6" fill="none" stroke="#a9d993" stroke-width="0.7"/>
<path d="M539.1,70.2 Q534.3,74.3 539.3,78.4 Q542.0,82.9 544.0,87.4 Q539.5,89.5 547.2,91.5" fill="none" stroke="#a9d993" stroke-width="0.7"/>
<path d="M547.7,69.7 Q546.0,72.7 534.0,75.8 Q541.9,80.0 539.2,84.3 Q541.3,87.9 546.4,91.5" fill="none" stroke="#a9d993" stroke-width="0.7"/>
<path d="M549.0,69.4 Q545.4,73.9 553.1,78.5 Q547.6,81.8 529.1,85.2 Q530.8,88.4 538.1,91.5" fill="none" stroke="#a9d993" stroke-width="0.7"/>
<path d="M540.2,69.3 Q539.1,73.3 535.5,77.3 Q549.8,81.5 552.1,85.7 Q553.8,88.6 550.7,91.5" fill="none" stroke="#a9d993" stroke-width="0.7"/>
<path d="M529.9,70.2 Q542.9,74.8 553.9,79.4 Q554.8,82.8 546.4,86.1 Q538.2,88.8 542.2,91.5" fill="none" stroke="#a9d993" stroke-width="0.7"/>
<path d="M550.6,70.5 Q537.9,74.9 527.7,79.3 Q532.4,82.8 529.5,86.3 Q542.0,88.9 551.2,91.5" fill="none" stroke="#a9d993" stroke-width="0.7"/>
<path d="M526.3,69.9 Q537.4,74.5 534.9,79.0 Q534.9,83.8 540.2,88.5 Q527.2,90.0 527.3,91.5" fill="none" stroke="#a9d993" stroke-width="0.7"/>
<path d="M530.9,69.3 Q530.7,72.6 543.3,75.9 Q553.6,79.4 551.0,83.0 Q550.9,86.6 551.9,90.3" fill="none" stroke="#a9d993" stroke-width="0.7"/>
<path d="M540.6,69.8 Q543.4,73.8 542.9,77.7 Q547.1,81.6 553.2,85.5 Q547.1,88.5 546.6,91.5" fill="none" stroke="#a9d993" stroke-width="0.7"/>
<text x="526.90" y="108.00" font-size="6.3" fill="#000" text-anchor="start"  textLength="31.5" lengthAdjust="spacingAndGlyphs" stroke="#000" stroke-width="0.22">Amorphous</text>
<path d="M615.30,65.00 L621.60,56.60 L667.70,56.60 L667.70,86.60 L661.40,95.00 L615.30,95.00 Z" fill="#dbe9d6"/>
<path d="M615.30,65.00 L621.60,56.60 L667.70,56.60 L661.40,65.00 Z" fill="#d3e6cd"/>
<path d="M661.40,65.00 L667.70,56.60 L667.70,86.60 L661.40,95.00 Z" fill="#d5e5d0"/>
<rect x="621.1" y="65.8" width="38.0" height="22.799999999999997" fill="#f6faf7"/>
<rect x="615.3" y="65.0" width="46.10000000000002" height="30.0" fill="none" stroke="#eef6ea" stroke-width="0.8"/>
<line x1="661.40" y1="65.00" x2="667.70" y2="56.60" stroke="#eef6ea" stroke-width="0.8" />
<line x1="661.40" y1="95.00" x2="667.70" y2="86.60" stroke="#eef6ea" stroke-width="0.8" />
<line x1="615.30" y1="65.00" x2="621.60" y2="56.60" stroke="#eef6ea" stroke-width="0.8" />
<path d="M638.3,78.2 Q640.3,78.9 655.3,76.3" fill="none" stroke="#b0dc9c" stroke-width="0.6"/>
<path d="M628.6,77.2 Q625.4,72.7 644.7,82.9" fill="none" stroke="#b0dc9c" stroke-width="0.6"/>
<path d="M625.3,83.2 Q657.4,87.2 647.0,67.8" fill="none" stroke="#b0dc9c" stroke-width="0.6"/>
<path d="M645.5,79.3 Q641.0,67.3 627.7,67.3" fill="none" stroke="#b0dc9c" stroke-width="0.6"/>
<path d="M628.8,71.8 Q637.9,84.5 623.1,76.3" fill="none" stroke="#b0dc9c" stroke-width="0.6"/>
<path d="M640.7,79.8 Q638.5,72.1 640.0,80.2" fill="none" stroke="#b0dc9c" stroke-width="0.6"/>
<path d="M657.9,86.9 Q633.3,71.1 652.2,81.2" fill="none" stroke="#b0dc9c" stroke-width="0.6"/>
<rect x="623.0" y="73.0" width="3" height="8" rx="1.2" fill="#bfe6aa" transform="rotate(-10 624.5 77.0)"/>
<rect x="625.0" y="81.0" width="7" height="2.8" rx="1.2" fill="#bfe6aa" transform="rotate(5 628.5 82.4)"/>
<rect x="641.0" y="71.0" width="2.6" height="7" rx="1.2" fill="#bfe6aa" transform="rotate(-30 642.3 74.5)"/>
<rect x="637.0" y="86.0" width="7" height="2.6" rx="1.2" fill="#bfe6aa" transform="rotate(-10 640.5 87.3)"/>
<rect x="656.0" y="78.0" width="6" height="2.5" rx="1.2" fill="#bfe6aa" transform="rotate(0 659.0 79.2)"/>
<rect x="650.0" y="86.0" width="2.6" height="7" rx="1.2" fill="#bfe6aa" transform="rotate(30 651.3 89.5)"/>
<text x="608.30" y="108.00" font-size="6.3" fill="#000" text-anchor="start"  textLength="71.8" lengthAdjust="spacingAndGlyphs" stroke="#000" stroke-width="0.22">Crystalline and Orientation</text>
<path d="M571,77 L602,77 L602,74.3 L613,79 L602,83.6 L602,81 L571,81 Z" fill="url(#arr)"/>
<text x="585.60" y="72.00" font-size="7.2" fill="#000" text-anchor="start"  textLength="12.4" lengthAdjust="spacingAndGlyphs" stroke="#000" stroke-width="0.22">LiCl</text>
<text x="575.60" y="90.60" font-size="6.5" fill="#000" text-anchor="start"  textLength="35.5" lengthAdjust="spacingAndGlyphs" stroke="#000" stroke-width="0.22">Temperature</text>
<line x1="1.15" y1="159.2" x2="336.7" y2="159.2" stroke="#2f4f8c" stroke-width="2.7" stroke-dasharray="10 7.5 2.5 7.5" stroke-dashoffset="26.05"/>
<line x1="335.3" y1="157.85" x2="335.3" y2="428" stroke="#2f4f8c" stroke-width="2.7" stroke-dasharray="10 7.5 2.5 7.5" stroke-dashoffset="2.35"/>
<line x1="1.15" y1="426.6" x2="336.7" y2="426.6" stroke="#2f4f8c" stroke-width="2.7" stroke-dasharray="10 7.5 2.5 7.5" stroke-dashoffset="9.55"/>
<line x1="2.5" y1="157.85" x2="2.5" y2="428" stroke="#2f4f8c" stroke-width="2.7" stroke-dasharray="10 7.5 2.5 7.5" stroke-dashoffset="17.15"/>
<line x1="349.2" y1="159.2" x2="684.5" y2="159.2" stroke="#2f4f8c" stroke-width="2.7" stroke-dasharray="10 7.5 2.5 7.5" stroke-dashoffset="26.20"/>
<line x1="683.1" y1="157.85" x2="683.1" y2="428" stroke="#2f4f8c" stroke-width="2.7" stroke-dasharray="10 7.5 2.5 7.5" stroke-dashoffset="2.35"/>
<line x1="349.2" y1="426.6" x2="684.5" y2="426.6" stroke="#2f4f8c" stroke-width="2.7" stroke-dasharray="10 7.5 2.5 7.5" stroke-dashoffset="9.70"/>
<line x1="350.6" y1="157.85" x2="350.6" y2="428" stroke="#2f4f8c" stroke-width="2.7" stroke-dasharray="10 7.5 2.5 7.5" stroke-dashoffset="17.85"/>
<clipPath id="clipe1"><rect x="22.1" y="174.0" width="132.8" height="105.60000000000002"/></clipPath>
<g clip-path="url(#clipe1)">
<g filter="url(#bl1)">
<rect x="12.100000000000001" y="164.0" width="152.8" height="125.60000000000002" fill="#d2d2d2"/>
<path d="M224.9,230.5 L224.1,241.6 L221.6,252.5 L217.5,263.1 L211.7,273.4 L204.5,283.1 L195.8,292.1 L185.8,300.4 L174.6,307.8 L162.4,314.2 L149.3,319.5 L135.4,323.8 L121.0,326.8 L106.3,328.7 L91.3,329.3 L76.3,328.7 L61.6,326.8 L47.2,323.8 L33.3,319.5 L20.2,314.2 L8.0,307.8 L-3.2,300.4 L-13.2,292.1 L-21.9,283.1 L-29.1,273.4 L-34.9,263.1 L-39.0,252.5 L-41.5,241.6 L-42.4,230.5 L-41.5,219.4 L-39.0,208.5 L-34.9,197.9 L-29.1,187.6 L-21.9,177.9 L-13.2,168.9 L-3.2,160.6 L8.0,153.2 L20.2,146.8 L33.3,141.5 L47.2,137.2 L61.6,134.2 L76.3,132.3 L91.3,131.7 L106.3,132.3 L121.0,134.2 L135.4,137.2 L149.3,141.5 L162.4,146.8 L174.6,153.2 L185.8,160.6 L195.8,168.9 L204.5,177.9 L211.7,187.6 L217.5,197.9 L221.6,208.5 L224.1,219.4 Z" fill="#d2d2d2"/><path d="M222.5,230.5 L221.7,241.4 L219.2,252.1 L215.1,262.5 L209.5,272.6 L202.4,282.1 L193.9,291.0 L184.1,299.1 L173.1,306.3 L161.1,312.6 L148.2,317.9 L134.6,322.0 L120.5,325.1 L106.0,326.9 L91.3,327.5 L76.6,326.9 L62.1,325.1 L48.0,322.0 L34.4,317.9 L21.5,312.6 L9.5,306.3 L-1.5,299.1 L-11.3,291.0 L-19.8,282.1 L-26.9,272.6 L-32.5,262.5 L-36.6,252.1 L-39.1,241.4 L-39.9,230.5 L-39.1,219.6 L-36.6,208.9 L-32.5,198.5 L-26.9,188.4 L-19.8,178.9 L-11.3,170.0 L-1.5,161.9 L9.5,154.7 L21.5,148.4 L34.4,143.1 L48.0,139.0 L62.1,135.9 L76.6,134.1 L91.3,133.5 L106.0,134.1 L120.5,135.9 L134.6,139.0 L148.2,143.1 L161.1,148.4 L173.1,154.7 L184.1,161.9 L193.9,170.0 L202.4,178.9 L209.5,188.4 L215.1,198.5 L219.2,208.9 L221.7,219.6 Z" fill="#d1d1d1"/><path d="M220.0,230.5 L219.2,241.2 L216.8,251.7 L212.8,261.9 L207.3,271.8 L200.3,281.1 L191.9,289.8 L182.3,297.8 L171.5,304.9 L159.8,311.1 L147.1,316.2 L133.8,320.3 L119.9,323.3 L105.7,325.1 L91.3,325.7 L76.9,325.1 L62.7,323.3 L48.8,320.3 L35.5,316.2 L22.8,311.1 L11.1,304.9 L0.3,297.8 L-9.3,289.8 L-17.7,281.1 L-24.7,271.8 L-30.2,261.9 L-34.2,251.7 L-36.6,241.2 L-37.4,230.5 L-36.6,219.8 L-34.2,209.3 L-30.2,199.1 L-24.7,189.2 L-17.7,179.9 L-9.3,171.2 L0.3,163.2 L11.1,156.1 L22.8,149.9 L35.5,144.8 L48.8,140.7 L62.7,137.7 L76.9,135.9 L91.3,135.3 L105.7,135.9 L119.9,137.7 L133.8,140.7 L147.1,144.8 L159.8,149.9 L171.5,156.1 L182.3,163.2 L191.9,171.2 L200.3,179.9 L207.3,189.2 L212.8,199.1 L216.8,209.3 L219.2,219.8 Z" fill="#d1d1d1"/><path d="M217.5,230.5 L216.7,240.9 L214.4,251.3 L210.4,261.3 L205.0,271.0 L198.2,280.2 L190.0,288.7 L180.6,296.5 L170.0,303.5 L158.5,309.5 L146.1,314.6 L133.0,318.6 L119.4,321.5 L105.4,323.2 L91.3,323.8 L77.2,323.2 L63.2,321.5 L49.6,318.6 L36.5,314.6 L24.1,309.5 L12.6,303.5 L2.0,296.5 L-7.4,288.7 L-15.6,280.2 L-22.4,271.0 L-27.8,261.3 L-31.8,251.3 L-34.1,240.9 L-34.9,230.5 L-34.1,220.1 L-31.8,209.7 L-27.8,199.7 L-22.4,190.0 L-15.6,180.8 L-7.4,172.3 L2.0,164.5 L12.6,157.5 L24.1,151.5 L36.5,146.4 L49.6,142.4 L63.2,139.5 L77.2,137.8 L91.3,137.2 L105.4,137.8 L119.4,139.5 L133.0,142.4 L146.1,146.4 L158.5,151.5 L170.0,157.5 L180.6,164.5 L190.0,172.3 L198.2,180.8 L205.0,190.0 L210.4,199.7 L214.4,209.7 L216.7,220.1 Z" fill="#d0d0d0"/><path d="M215.1,230.5 L214.3,240.7 L211.9,250.9 L208.1,260.7 L202.8,270.2 L196.1,279.2 L188.1,287.5 L178.8,295.2 L168.5,302.0 L157.1,308.0 L145.0,312.9 L132.2,316.9 L118.8,319.7 L105.2,321.4 L91.3,322.0 L77.4,321.4 L63.8,319.7 L50.4,316.9 L37.6,312.9 L25.5,308.0 L14.1,302.0 L3.8,295.2 L-5.5,287.5 L-13.5,279.2 L-20.2,270.2 L-25.5,260.7 L-29.3,250.9 L-31.7,240.7 L-32.5,230.5 L-31.7,220.3 L-29.3,210.1 L-25.5,200.3 L-20.2,190.8 L-13.5,181.8 L-5.5,173.5 L3.8,165.8 L14.1,159.0 L25.5,153.0 L37.6,148.1 L50.4,144.1 L63.8,141.3 L77.4,139.6 L91.3,139.0 L105.2,139.6 L118.8,141.3 L132.2,144.1 L145.0,148.1 L157.1,153.0 L168.5,159.0 L178.8,165.8 L188.1,173.5 L196.1,181.8 L202.8,190.8 L208.1,200.3 L211.9,210.1 L214.3,220.3 Z" fill="#d0d0d0"/><path d="M212.6,230.5 L211.8,240.5 L209.5,250.5 L205.8,260.1 L200.6,269.4 L194.0,278.2 L186.1,286.4 L177.1,293.9 L166.9,300.6 L155.8,306.4 L143.9,311.3 L131.4,315.1 L118.3,317.9 L104.9,319.6 L91.3,320.2 L77.7,319.6 L64.3,317.9 L51.2,315.1 L38.7,311.3 L26.8,306.4 L15.7,300.6 L5.5,293.9 L-3.5,286.4 L-11.4,278.2 L-18.0,269.4 L-23.2,260.1 L-26.9,250.5 L-29.2,240.5 L-30.0,230.5 L-29.2,220.5 L-26.9,210.5 L-23.2,200.9 L-18.0,191.6 L-11.4,182.8 L-3.5,174.6 L5.5,167.1 L15.7,160.4 L26.8,154.6 L38.7,149.7 L51.2,145.9 L64.3,143.1 L77.7,141.4 L91.3,140.8 L104.9,141.4 L118.3,143.1 L131.4,145.9 L143.9,149.7 L155.8,154.6 L166.9,160.4 L177.1,167.1 L186.1,174.6 L194.0,182.8 L200.6,191.6 L205.8,200.9 L209.5,210.5 L211.8,220.5 Z" fill="#cfcfcf"/><path d="M210.1,230.5 L209.4,240.3 L207.1,250.0 L203.4,259.5 L198.3,268.6 L191.9,277.2 L184.2,285.3 L175.3,292.6 L165.4,299.2 L154.5,304.9 L142.8,309.6 L130.5,313.4 L117.7,316.1 L104.6,317.8 L91.3,318.3 L78.0,317.8 L64.9,316.1 L52.1,313.4 L39.8,309.6 L28.1,304.9 L17.2,299.2 L7.3,292.6 L-1.6,285.3 L-9.3,277.2 L-15.7,268.6 L-20.8,259.5 L-24.5,250.0 L-26.8,240.3 L-27.5,230.5 L-26.8,220.7 L-24.5,211.0 L-20.8,201.5 L-15.7,192.4 L-9.3,183.8 L-1.6,175.7 L7.3,168.4 L17.2,161.8 L28.1,156.1 L39.8,151.4 L52.1,147.6 L64.9,144.9 L78.0,143.2 L91.3,142.7 L104.6,143.2 L117.7,144.9 L130.5,147.6 L142.8,151.4 L154.5,156.1 L165.4,161.8 L175.3,168.4 L184.2,175.7 L191.9,183.8 L198.3,192.4 L203.4,201.5 L207.1,211.0 L209.4,220.7 Z" fill="#cecece"/><path d="M207.6,230.5 L206.9,240.1 L204.7,249.6 L201.1,258.9 L196.1,267.8 L189.8,276.3 L182.2,284.1 L173.6,291.3 L163.8,297.7 L153.2,303.3 L141.8,308.0 L129.7,311.7 L117.2,314.4 L104.3,316.0 L91.3,316.5 L78.3,316.0 L65.4,314.4 L52.9,311.7 L40.8,308.0 L29.4,303.3 L18.8,297.7 L9.0,291.3 L0.4,284.1 L-7.2,276.3 L-13.5,267.8 L-18.5,258.9 L-22.1,249.6 L-24.3,240.1 L-25.0,230.5 L-24.3,220.9 L-22.1,211.4 L-18.5,202.1 L-13.5,193.2 L-7.2,184.7 L0.4,176.9 L9.0,169.7 L18.8,163.3 L29.4,157.7 L40.8,153.0 L52.9,149.3 L65.4,146.6 L78.3,145.0 L91.3,144.5 L104.3,145.0 L117.2,146.6 L129.7,149.3 L141.8,153.0 L153.2,157.7 L163.8,163.3 L173.6,169.7 L182.2,176.9 L189.8,184.7 L196.1,193.2 L201.1,202.1 L204.7,211.4 L206.9,220.9 Z" fill="#cecece"/><path d="M205.2,230.5 L204.4,239.9 L202.3,249.2 L198.8,258.3 L193.9,267.0 L187.7,275.3 L180.3,283.0 L171.8,290.0 L162.3,296.3 L151.9,301.8 L140.7,306.3 L128.9,310.0 L116.6,312.6 L104.0,314.2 L91.3,314.7 L78.6,314.2 L66.0,312.6 L53.7,310.0 L41.9,306.3 L30.7,301.8 L20.3,296.3 L10.8,290.0 L2.3,283.0 L-5.1,275.3 L-11.3,267.0 L-16.2,258.3 L-19.7,249.2 L-21.8,239.9 L-22.6,230.5 L-21.8,221.1 L-19.7,211.8 L-16.2,202.7 L-11.3,194.0 L-5.1,185.7 L2.3,178.0 L10.8,171.0 L20.3,164.7 L30.7,159.2 L41.9,154.7 L53.7,151.0 L66.0,148.4 L78.6,146.8 L91.3,146.3 L104.0,146.8 L116.6,148.4 L128.9,151.0 L140.7,154.7 L151.9,159.2 L162.3,164.7 L171.8,171.0 L180.3,178.0 L187.7,185.7 L193.9,194.0 L198.8,202.7 L202.3,211.8 L204.4,221.1 Z" fill="#cdcdcd"/><path d="M202.7,230.5 L202.0,239.7 L199.9,248.8 L196.4,257.7 L191.6,266.2 L185.6,274.3 L178.4,281.8 L170.1,288.7 L160.7,294.9 L150.6,300.2 L139.6,304.7 L128.1,308.2 L116.1,310.8 L103.8,312.3 L91.3,312.9 L78.8,312.3 L66.5,310.8 L54.5,308.2 L43.0,304.7 L32.0,300.2 L21.9,294.9 L12.5,288.7 L4.2,281.8 L-3.0,274.3 L-9.0,266.2 L-13.8,257.7 L-17.3,248.8 L-19.4,239.7 L-20.1,230.5 L-19.4,221.3 L-17.3,212.2 L-13.8,203.3 L-9.0,194.8 L-3.0,186.7 L4.2,179.2 L12.5,172.3 L21.9,166.1 L32.0,160.8 L43.0,156.3 L54.5,152.8 L66.5,150.2 L78.8,148.7 L91.3,148.1 L103.8,148.7 L116.1,150.2 L128.1,152.8 L139.6,156.3 L150.6,160.8 L160.7,166.1 L170.1,172.3 L178.4,179.2 L185.6,186.7 L191.6,194.8 L196.4,203.3 L199.9,212.2 L202.0,221.3 Z" fill="#cdcdcd"/><path d="M200.2,230.5 L199.5,239.5 L197.5,248.4 L194.1,257.1 L189.4,265.4 L183.5,273.3 L176.4,280.7 L168.3,287.4 L159.2,293.5 L149.2,298.7 L138.5,303.0 L127.3,306.5 L115.5,309.0 L103.5,310.5 L91.3,311.0 L79.1,310.5 L67.1,309.0 L55.3,306.5 L44.1,303.0 L33.4,298.7 L23.4,293.5 L14.3,287.4 L6.2,280.7 L-0.9,273.3 L-6.8,265.4 L-11.5,257.1 L-14.9,248.4 L-16.9,239.5 L-17.6,230.5 L-16.9,221.5 L-14.9,212.6 L-11.5,203.9 L-6.8,195.6 L-0.9,187.7 L6.2,180.3 L14.3,173.6 L23.4,167.5 L33.4,162.3 L44.1,158.0 L55.3,154.5 L67.1,152.0 L79.1,150.5 L91.3,150.0 L103.5,150.5 L115.5,152.0 L127.3,154.5 L138.5,158.0 L149.2,162.3 L159.2,167.5 L168.3,173.6 L176.4,180.3 L183.5,187.7 L189.4,195.6 L194.1,203.9 L197.5,212.6 L199.5,221.5 Z" fill="#cccccc"/><path d="M197.7,230.5 L197.1,239.3 L195.1,248.0 L191.8,256.5 L187.2,264.6 L181.4,272.4 L174.5,279.6 L166.6,286.1 L157.7,292.0 L147.9,297.1 L137.5,301.4 L126.4,304.8 L115.0,307.2 L103.2,308.7 L91.3,309.2 L79.4,308.7 L67.6,307.2 L56.2,304.8 L45.1,301.4 L34.7,297.1 L24.9,292.0 L16.0,286.1 L8.1,279.6 L1.2,272.4 L-4.6,264.6 L-9.2,256.5 L-12.5,248.0 L-14.5,239.3 L-15.1,230.5 L-14.5,221.7 L-12.5,213.0 L-9.2,204.5 L-4.6,196.4 L1.2,188.6 L8.1,181.4 L16.0,174.9 L24.9,169.0 L34.7,163.9 L45.1,159.6 L56.2,156.2 L67.6,153.8 L79.4,152.3 L91.3,151.8 L103.2,152.3 L115.0,153.8 L126.4,156.2 L137.5,159.6 L147.9,163.9 L157.7,169.0 L166.6,174.9 L174.5,181.4 L181.4,188.6 L187.2,196.4 L191.8,204.5 L195.1,213.0 L197.1,221.7 Z" fill="#cccccc"/><path d="M195.3,230.5 L194.6,239.1 L192.6,247.6 L189.4,255.9 L185.0,263.8 L179.3,271.4 L172.6,278.4 L164.8,284.8 L156.1,290.6 L146.6,295.6 L136.4,299.7 L125.6,303.0 L114.4,305.4 L102.9,306.9 L91.3,307.4 L79.7,306.9 L68.2,305.4 L57.0,303.0 L46.2,299.7 L36.0,295.6 L26.5,290.6 L17.8,284.8 L10.0,278.4 L3.3,271.4 L-2.4,263.8 L-6.8,255.9 L-10.0,247.6 L-12.0,239.1 L-12.7,230.5 L-12.0,221.9 L-10.0,213.4 L-6.8,205.1 L-2.4,197.2 L3.3,189.6 L10.0,182.6 L17.8,176.2 L26.5,170.4 L36.0,165.4 L46.2,161.3 L57.0,158.0 L68.2,155.6 L79.7,154.1 L91.3,153.6 L102.9,154.1 L114.4,155.6 L125.6,158.0 L136.4,161.3 L146.6,165.4 L156.1,170.4 L164.8,176.2 L172.6,182.6 L179.3,189.6 L185.0,197.2 L189.4,205.1 L192.6,213.4 L194.6,221.9 Z" fill="#cbcbcb"/><path d="M192.8,230.5 L192.1,238.9 L190.2,247.2 L187.1,255.3 L182.7,263.1 L177.2,270.4 L170.6,277.3 L163.1,283.6 L154.6,289.2 L145.3,294.0 L135.3,298.1 L124.8,301.3 L113.9,303.6 L102.7,305.1 L91.3,305.5 L79.9,305.1 L68.7,303.6 L57.8,301.3 L47.3,298.1 L37.3,294.0 L28.0,289.2 L19.5,283.6 L12.0,277.3 L5.4,270.4 L-0.1,263.1 L-4.5,255.3 L-7.6,247.2 L-9.5,238.9 L-10.2,230.5 L-9.5,222.1 L-7.6,213.8 L-4.5,205.7 L-0.1,197.9 L5.4,190.6 L12.0,183.7 L19.5,177.4 L28.0,171.8 L37.3,167.0 L47.3,162.9 L57.8,159.7 L68.7,157.4 L79.9,155.9 L91.3,155.5 L102.7,155.9 L113.9,157.4 L124.8,159.7 L135.3,162.9 L145.3,167.0 L154.6,171.8 L163.1,177.4 L170.6,183.7 L177.2,190.6 L182.7,197.9 L187.1,205.7 L190.2,213.8 L192.1,222.1 Z" fill="#c9c9c9"/><path d="M190.3,230.5 L189.7,238.7 L187.8,246.8 L184.7,254.7 L180.5,262.3 L175.1,269.4 L168.7,276.1 L161.3,282.3 L153.0,287.7 L144.0,292.5 L134.3,296.5 L124.0,299.6 L113.3,301.9 L102.4,303.2 L91.3,303.7 L80.2,303.2 L69.3,301.9 L58.6,299.6 L48.3,296.5 L38.6,292.5 L29.6,287.7 L21.3,282.3 L13.9,276.1 L7.5,269.4 L2.1,262.3 L-2.1,254.7 L-5.2,246.8 L-7.1,238.7 L-7.7,230.5 L-7.1,222.3 L-5.2,214.2 L-2.1,206.3 L2.1,198.7 L7.5,191.6 L13.9,184.9 L21.3,178.7 L29.6,173.3 L38.6,168.5 L48.3,164.5 L58.6,161.4 L69.3,159.1 L80.2,157.8 L91.3,157.3 L102.4,157.8 L113.3,159.1 L124.0,161.4 L134.3,164.5 L144.0,168.5 L153.0,173.3 L161.3,178.7 L168.7,184.9 L175.1,191.6 L180.5,198.7 L184.7,206.3 L187.8,214.2 L189.7,222.3 Z" fill="#c8c8c8"/><path d="M187.8,230.5 L187.2,238.5 L185.4,246.4 L182.4,254.1 L178.3,261.5 L173.0,268.5 L166.8,275.0 L159.6,281.0 L151.5,286.3 L142.7,290.9 L133.2,294.8 L123.2,297.9 L112.8,300.1 L102.1,301.4 L91.3,301.9 L80.5,301.4 L69.8,300.1 L59.4,297.9 L49.4,294.8 L39.9,290.9 L31.1,286.3 L23.0,281.0 L15.8,275.0 L9.6,268.5 L4.3,261.5 L0.2,254.1 L-2.8,246.4 L-4.6,238.5 L-5.2,230.5 L-4.6,222.5 L-2.8,214.6 L0.2,206.9 L4.3,199.5 L9.6,192.5 L15.8,186.0 L23.0,180.0 L31.1,174.7 L39.9,170.1 L49.4,166.2 L59.4,163.1 L69.8,160.9 L80.5,159.6 L91.3,159.1 L102.1,159.6 L112.8,160.9 L123.2,163.1 L133.2,166.2 L142.7,170.1 L151.5,174.7 L159.6,180.0 L166.8,186.0 L173.0,192.5 L178.3,199.5 L182.4,206.9 L185.4,214.6 L187.2,222.5 Z" fill="#c6c6c6"/><path d="M185.4,230.5 L184.8,238.3 L183.0,246.0 L180.1,253.5 L176.0,260.7 L170.9,267.5 L164.8,273.9 L157.8,279.7 L149.9,284.9 L141.3,289.4 L132.1,293.2 L122.4,296.1 L112.2,298.3 L101.8,299.6 L91.3,300.0 L80.8,299.6 L70.4,298.3 L60.2,296.1 L50.5,293.2 L41.3,289.4 L32.7,284.9 L24.8,279.7 L17.8,273.9 L11.7,267.5 L6.6,260.7 L2.5,253.5 L-0.4,246.0 L-2.2,238.3 L-2.8,230.5 L-2.2,222.7 L-0.4,215.0 L2.5,207.5 L6.6,200.3 L11.7,193.5 L17.8,187.1 L24.8,181.3 L32.7,176.1 L41.3,171.6 L50.5,167.8 L60.2,164.9 L70.4,162.7 L80.8,161.4 L91.3,161.0 L101.8,161.4 L112.2,162.7 L122.4,164.9 L132.1,167.8 L141.3,171.6 L149.9,176.1 L157.8,181.3 L164.8,187.1 L170.9,193.5 L176.0,200.3 L180.1,207.5 L183.0,215.0 L184.8,222.7 Z" fill="#c4c4c4"/><path d="M182.9,230.5 L182.3,238.1 L180.6,245.6 L177.7,252.9 L173.8,259.9 L168.8,266.5 L162.9,272.7 L156.1,278.4 L148.4,283.4 L140.0,287.8 L131.0,291.5 L121.5,294.4 L111.7,296.5 L101.6,297.8 L91.3,298.2 L81.0,297.8 L70.9,296.5 L61.1,294.4 L51.6,291.5 L42.6,287.8 L34.2,283.4 L26.5,278.4 L19.7,272.7 L13.8,266.5 L8.8,259.9 L4.9,252.9 L2.0,245.6 L0.3,238.1 L-0.3,230.5 L0.3,222.9 L2.0,215.4 L4.9,208.1 L8.8,201.1 L13.8,194.5 L19.7,188.3 L26.5,182.6 L34.2,177.6 L42.6,173.2 L51.6,169.5 L61.1,166.6 L70.9,164.5 L81.0,163.2 L91.3,162.8 L101.6,163.2 L111.7,164.5 L121.5,166.6 L131.0,169.5 L140.0,173.2 L148.4,177.6 L156.1,182.6 L162.9,188.3 L168.8,194.5 L173.8,201.1 L177.7,208.1 L180.6,215.4 L182.3,222.9 Z" fill="#c3c3c3"/><path d="M180.4,230.5 L179.8,237.9 L178.2,245.2 L175.4,252.3 L171.6,259.1 L166.7,265.6 L161.0,271.6 L154.3,277.1 L146.9,282.0 L138.7,286.3 L130.0,289.9 L120.7,292.7 L111.1,294.7 L101.3,296.0 L91.3,296.4 L81.3,296.0 L71.5,294.7 L61.9,292.7 L52.6,289.9 L43.9,286.3 L35.7,282.0 L28.3,277.1 L21.6,271.6 L15.9,265.6 L11.0,259.1 L7.2,252.3 L4.4,245.2 L2.8,237.9 L2.2,230.5 L2.8,223.1 L4.4,215.8 L7.2,208.7 L11.0,201.9 L15.9,195.4 L21.6,189.4 L28.3,183.9 L35.7,179.0 L43.9,174.7 L52.6,171.1 L61.9,168.3 L71.5,166.3 L81.3,165.0 L91.3,164.6 L101.3,165.0 L111.1,166.3 L120.7,168.3 L130.0,171.1 L138.7,174.7 L146.9,179.0 L154.3,183.9 L161.0,189.4 L166.7,195.4 L171.6,201.9 L175.4,208.7 L178.2,215.8 L179.8,223.1 Z" fill="#c1c1c1"/><path d="M177.9,230.5 L177.4,237.7 L175.8,244.8 L173.1,251.7 L169.3,258.3 L164.6,264.6 L159.0,270.4 L152.6,275.8 L145.3,280.6 L137.4,284.7 L128.9,288.2 L119.9,291.0 L110.6,292.9 L101.0,294.1 L91.3,294.6 L81.6,294.1 L72.0,292.9 L62.7,291.0 L53.7,288.2 L45.2,284.7 L37.3,280.6 L30.0,275.8 L23.6,270.4 L18.0,264.6 L13.3,258.3 L9.5,251.7 L6.8,244.8 L5.2,237.7 L4.7,230.5 L5.2,223.3 L6.8,216.2 L9.5,209.3 L13.3,202.7 L18.0,196.4 L23.6,190.6 L30.0,185.2 L37.3,180.4 L45.2,176.3 L53.7,172.8 L62.7,170.0 L72.0,168.1 L81.6,166.9 L91.3,166.4 L101.0,166.9 L110.6,168.1 L119.9,170.0 L128.9,172.8 L137.4,176.3 L145.3,180.4 L152.6,185.2 L159.0,190.6 L164.6,196.4 L169.3,202.7 L173.1,209.3 L175.8,216.2 L177.4,223.3 Z" fill="#bfbfbf"/><path d="M175.5,230.5 L174.9,237.5 L173.3,244.3 L170.7,251.0 L167.1,257.5 L162.6,263.6 L157.1,269.3 L150.8,274.5 L143.8,279.1 L136.1,283.2 L127.8,286.6 L119.1,289.2 L110.0,291.2 L100.7,292.3 L91.3,292.7 L81.9,292.3 L72.6,291.2 L63.5,289.2 L54.8,286.6 L46.5,283.2 L38.8,279.1 L31.8,274.5 L25.5,269.3 L20.0,263.6 L15.5,257.5 L11.9,251.0 L9.3,244.3 L7.7,237.5 L7.1,230.5 L7.7,223.5 L9.3,216.7 L11.9,210.0 L15.5,203.5 L20.0,197.4 L25.5,191.7 L31.8,186.5 L38.8,181.9 L46.5,177.8 L54.8,174.4 L63.5,171.8 L72.6,169.8 L81.9,168.7 L91.3,168.3 L100.7,168.7 L110.0,169.8 L119.1,171.8 L127.8,174.4 L136.1,177.8 L143.8,181.9 L150.8,186.5 L157.1,191.7 L162.6,197.4 L167.1,203.5 L170.7,210.0 L173.3,216.7 L174.9,223.5 Z" fill="#bebebe"/><path d="M173.0,230.5 L172.5,237.3 L170.9,243.9 L168.4,250.4 L164.9,256.7 L160.5,262.6 L155.2,268.2 L149.1,273.2 L142.2,277.7 L134.8,281.6 L126.7,284.9 L118.3,287.5 L109.5,289.4 L100.4,290.5 L91.3,290.9 L82.2,290.5 L73.1,289.4 L64.3,287.5 L55.9,284.9 L47.8,281.6 L40.4,277.7 L33.5,273.2 L27.4,268.2 L22.1,262.6 L17.7,256.7 L14.2,250.4 L11.7,243.9 L10.1,237.3 L9.6,230.5 L10.1,223.7 L11.7,217.1 L14.2,210.6 L17.7,204.3 L22.1,198.4 L27.4,192.8 L33.5,187.8 L40.4,183.3 L47.8,179.4 L55.9,176.1 L64.3,173.5 L73.1,171.6 L82.2,170.5 L91.3,170.1 L100.4,170.5 L109.5,171.6 L118.3,173.5 L126.7,176.1 L134.8,179.4 L142.2,183.3 L149.1,187.8 L155.2,192.8 L160.5,198.4 L164.9,204.3 L168.4,210.6 L170.9,217.1 L172.5,223.7 Z" fill="#bcbcbc"/><path d="M170.5,230.5 L170.0,237.1 L168.5,243.5 L166.1,249.8 L162.7,255.9 L158.4,261.7 L153.2,267.0 L147.3,271.9 L140.7,276.3 L133.4,280.1 L125.7,283.3 L117.5,285.8 L108.9,287.6 L100.2,288.7 L91.3,289.1 L82.4,288.7 L73.7,287.6 L65.1,285.8 L56.9,283.3 L49.2,280.1 L41.9,276.3 L35.3,271.9 L29.4,267.0 L24.2,261.7 L19.9,255.9 L16.5,249.8 L14.1,243.5 L12.6,237.1 L12.1,230.5 L12.6,223.9 L14.1,217.5 L16.5,211.2 L19.9,205.1 L24.2,199.3 L29.4,194.0 L35.3,189.1 L41.9,184.7 L49.2,180.9 L56.9,177.7 L65.1,175.2 L73.7,173.4 L82.4,172.3 L91.3,171.9 L100.2,172.3 L108.9,173.4 L117.5,175.2 L125.7,177.7 L133.4,180.9 L140.7,184.7 L147.3,189.1 L153.2,194.0 L158.4,199.3 L162.7,205.1 L166.1,211.2 L168.5,217.5 L170.0,223.9 Z" fill="#b8b8b8"/><path d="M168.0,230.5 L167.5,236.9 L166.1,243.1 L163.7,249.2 L160.4,255.1 L156.3,260.7 L151.3,265.9 L145.6,270.6 L139.1,274.9 L132.1,278.5 L124.6,281.6 L116.6,284.0 L108.4,285.8 L99.9,286.9 L91.3,287.2 L82.7,286.9 L74.2,285.8 L66.0,284.0 L58.0,281.6 L50.5,278.5 L43.5,274.9 L37.0,270.6 L31.3,265.9 L26.3,260.7 L22.2,255.1 L18.9,249.2 L16.5,243.1 L15.1,236.9 L14.6,230.5 L15.1,224.1 L16.5,217.9 L18.9,211.8 L22.2,205.9 L26.3,200.3 L31.3,195.1 L37.0,190.4 L43.5,186.1 L50.5,182.5 L58.0,179.4 L66.0,177.0 L74.2,175.2 L82.7,174.1 L91.3,173.8 L99.9,174.1 L108.4,175.2 L116.6,177.0 L124.6,179.4 L132.1,182.5 L139.1,186.1 L145.6,190.4 L151.3,195.1 L156.3,200.3 L160.4,205.9 L163.7,211.8 L166.1,217.9 L167.5,224.1 Z" fill="#b5b5b5"/><path d="M165.6,230.5 L165.1,236.6 L163.7,242.7 L161.4,248.6 L158.2,254.3 L154.2,259.7 L149.4,264.7 L143.8,269.3 L137.6,273.4 L130.8,277.0 L123.5,280.0 L115.8,282.3 L107.8,284.0 L99.6,285.1 L91.3,285.4 L83.0,285.1 L74.8,284.0 L66.8,282.3 L59.1,280.0 L51.8,277.0 L45.0,273.4 L38.8,269.3 L33.2,264.7 L28.4,259.7 L24.4,254.3 L21.2,248.6 L18.9,242.7 L17.5,236.6 L17.0,230.5 L17.5,224.4 L18.9,218.3 L21.2,212.4 L24.4,206.7 L28.4,201.3 L33.2,196.3 L38.8,191.7 L45.0,187.6 L51.8,184.0 L59.1,181.0 L66.8,178.7 L74.8,177.0 L83.0,175.9 L91.3,175.6 L99.6,175.9 L107.8,177.0 L115.8,178.7 L123.5,181.0 L130.8,184.0 L137.6,187.6 L143.8,191.7 L149.4,196.3 L154.2,201.3 L158.2,206.7 L161.4,212.4 L163.7,218.3 L165.1,224.4 Z" fill="#b1b1b1"/><path d="M163.1,230.5 L162.6,236.4 L161.3,242.3 L159.0,248.0 L156.0,253.5 L152.1,258.7 L147.4,263.6 L142.1,268.0 L136.1,272.0 L129.5,275.4 L122.4,278.3 L115.0,280.6 L107.3,282.2 L99.3,283.2 L91.3,283.6 L83.3,283.2 L75.3,282.2 L67.6,280.6 L60.2,278.3 L53.1,275.4 L46.5,272.0 L40.5,268.0 L35.2,263.6 L30.5,258.7 L26.6,253.5 L23.6,248.0 L21.3,242.3 L20.0,236.4 L19.5,230.5 L20.0,224.6 L21.3,218.7 L23.6,213.0 L26.6,207.5 L30.5,202.3 L35.2,197.4 L40.5,193.0 L46.5,189.0 L53.1,185.6 L60.2,182.7 L67.6,180.4 L75.3,178.8 L83.3,177.8 L91.3,177.4 L99.3,177.8 L107.3,178.8 L115.0,180.4 L122.4,182.7 L129.5,185.6 L136.1,189.0 L142.1,193.0 L147.4,197.4 L152.1,202.3 L156.0,207.5 L159.0,213.0 L161.3,218.7 L162.6,224.6 Z" fill="#adadad"/><path d="M160.6,230.5 L160.2,236.2 L158.9,241.9 L156.7,247.4 L153.7,252.7 L150.0,257.8 L145.5,262.4 L140.3,266.7 L134.5,270.6 L128.2,273.9 L121.4,276.7 L114.2,278.9 L106.7,280.5 L99.1,281.4 L91.3,281.7 L83.5,281.4 L75.9,280.5 L68.4,278.9 L61.2,276.7 L54.4,273.9 L48.1,270.6 L42.3,266.7 L37.1,262.4 L32.6,257.8 L28.9,252.7 L25.9,247.4 L23.7,241.9 L22.4,236.2 L22.0,230.5 L22.4,224.8 L23.7,219.1 L25.9,213.6 L28.9,208.3 L32.6,203.2 L37.1,198.6 L42.3,194.3 L48.1,190.4 L54.4,187.1 L61.2,184.3 L68.4,182.1 L75.9,180.5 L83.5,179.6 L91.3,179.3 L99.1,179.6 L106.7,180.5 L114.2,182.1 L121.4,184.3 L128.2,187.1 L134.5,190.4 L140.3,194.3 L145.5,198.6 L150.0,203.2 L153.7,208.3 L156.7,213.6 L158.9,219.1 L160.2,224.8 Z" fill="#aaaaaa"/><path d="M158.1,230.5 L157.7,236.0 L156.4,241.5 L154.4,246.8 L151.5,251.9 L147.9,256.8 L143.5,261.3 L138.6,265.4 L133.0,269.1 L126.9,272.3 L120.3,275.0 L113.4,277.1 L106.2,278.7 L98.8,279.6 L91.3,279.9 L83.8,279.6 L76.4,278.7 L69.2,277.1 L62.3,275.0 L55.7,272.3 L49.6,269.1 L44.0,265.4 L39.1,261.3 L34.7,256.8 L31.1,251.9 L28.2,246.8 L26.2,241.5 L24.9,236.0 L24.5,230.5 L24.9,225.0 L26.2,219.5 L28.2,214.2 L31.1,209.1 L34.7,204.2 L39.1,199.7 L44.0,195.6 L49.6,191.9 L55.7,188.7 L62.3,186.0 L69.2,183.9 L76.4,182.3 L83.8,181.4 L91.3,181.1 L98.8,181.4 L106.2,182.3 L113.4,183.9 L120.3,186.0 L126.9,188.7 L133.0,191.9 L138.6,195.6 L143.5,199.7 L147.9,204.2 L151.5,209.1 L154.4,214.2 L156.4,219.5 L157.7,225.0 Z" fill="#a6a6a6"/><path d="M155.7,230.5 L155.2,235.8 L154.0,241.1 L152.0,246.2 L149.3,251.1 L145.8,255.8 L141.6,260.2 L136.8,264.1 L131.4,267.7 L125.5,270.8 L119.2,273.4 L112.6,275.4 L105.6,276.9 L98.5,277.8 L91.3,278.1 L84.1,277.8 L77.0,276.9 L70.0,275.4 L63.4,273.4 L57.1,270.8 L51.2,267.7 L45.8,264.1 L41.0,260.2 L36.8,255.8 L33.3,251.1 L30.6,246.2 L28.6,241.1 L27.4,235.8 L26.9,230.5 L27.4,225.2 L28.6,219.9 L30.6,214.8 L33.3,209.9 L36.8,205.2 L41.0,200.8 L45.8,196.9 L51.2,193.3 L57.1,190.2 L63.4,187.6 L70.0,185.6 L77.0,184.1 L84.1,183.2 L91.3,182.9 L98.5,183.2 L105.6,184.1 L112.6,185.6 L119.2,187.6 L125.5,190.2 L131.4,193.3 L136.8,196.9 L141.6,200.8 L145.8,205.2 L149.3,209.9 L152.0,214.8 L154.0,219.9 L155.2,225.2 Z" fill="#9e9e9e"/><path d="M153.2,230.5 L152.8,235.6 L151.6,240.7 L149.7,245.6 L147.0,250.4 L143.7,254.8 L139.7,259.0 L135.1,262.9 L129.9,266.3 L124.2,269.2 L118.1,271.7 L111.7,273.7 L105.1,275.1 L98.2,276.0 L91.3,276.3 L84.4,276.0 L77.5,275.1 L70.9,273.7 L64.5,271.7 L58.4,269.2 L52.7,266.3 L47.5,262.9 L42.9,259.0 L38.9,254.8 L35.6,250.4 L32.9,245.6 L31.0,240.7 L29.8,235.6 L29.4,230.5 L29.8,225.4 L31.0,220.3 L32.9,215.4 L35.6,210.6 L38.9,206.2 L42.9,202.0 L47.5,198.1 L52.7,194.7 L58.4,191.8 L64.5,189.3 L70.9,187.3 L77.5,185.9 L84.4,185.0 L91.3,184.7 L98.2,185.0 L105.1,185.9 L111.7,187.3 L118.1,189.3 L124.2,191.8 L129.9,194.7 L135.1,198.1 L139.7,202.0 L143.7,206.2 L147.0,210.6 L149.7,215.4 L151.6,220.3 L152.8,225.4 Z" fill="#969696"/><path d="M151.7,230.5 L151.3,235.5 L150.2,240.4 L148.3,245.2 L145.7,249.9 L142.4,254.3 L138.5,258.3 L134.0,262.1 L129.0,265.4 L123.4,268.3 L117.5,270.7 L111.2,272.6 L104.7,274.0 L98.1,274.9 L91.3,275.2 L84.5,274.9 L77.9,274.0 L71.4,272.6 L65.1,270.7 L59.2,268.3 L53.6,265.4 L48.6,262.1 L44.1,258.3 L40.2,254.3 L36.9,249.9 L34.3,245.2 L32.4,240.4 L31.3,235.5 L30.9,230.5 L31.3,225.5 L32.4,220.6 L34.3,215.8 L36.9,211.1 L40.2,206.7 L44.1,202.7 L48.6,198.9 L53.6,195.6 L59.2,192.7 L65.1,190.3 L71.4,188.4 L77.9,187.0 L84.5,186.1 L91.3,185.8 L98.1,186.1 L104.7,187.0 L111.2,188.4 L117.5,190.3 L123.4,192.7 L129.0,195.6 L134.0,198.9 L138.5,202.7 L142.4,206.7 L145.7,211.1 L148.3,215.8 L150.2,220.6 L151.3,225.5 Z" fill="#919191"/><path d="M150.2,230.5 L149.8,235.4 L148.7,240.2 L146.9,244.9 L144.4,249.4 L141.2,253.7 L137.4,257.7 L133.0,261.3 L128.0,264.6 L122.6,267.4 L116.9,269.7 L110.8,271.6 L104.4,273.0 L97.9,273.8 L91.3,274.1 L84.7,273.8 L78.2,273.0 L71.8,271.6 L65.7,269.7 L60.0,267.4 L54.6,264.6 L49.6,261.3 L45.2,257.7 L41.4,253.7 L38.2,249.4 L35.7,244.9 L33.9,240.2 L32.8,235.4 L32.4,230.5 L32.8,225.6 L33.9,220.8 L35.7,216.1 L38.2,211.6 L41.4,207.3 L45.2,203.3 L49.6,199.7 L54.6,196.4 L60.0,193.6 L65.7,191.3 L71.8,189.4 L78.2,188.0 L84.7,187.2 L91.3,186.9 L97.9,187.2 L104.4,188.0 L110.8,189.4 L116.9,191.3 L122.6,193.6 L128.0,196.4 L133.0,199.7 L137.4,203.3 L141.2,207.3 L144.4,211.6 L146.9,216.1 L148.7,220.8 L149.8,225.6 Z" fill="#8c8c8c"/><path d="M148.7,230.5 L148.4,235.3 L147.3,239.9 L145.5,244.5 L143.0,248.9 L139.9,253.1 L136.2,257.0 L131.9,260.5 L127.1,263.7 L121.8,266.4 L116.2,268.8 L110.3,270.6 L104.1,271.9 L97.7,272.7 L91.3,273.0 L84.9,272.7 L78.5,271.9 L72.3,270.6 L66.4,268.8 L60.8,266.4 L55.5,263.7 L50.7,260.5 L46.4,257.0 L42.7,253.1 L39.6,248.9 L37.1,244.5 L35.3,239.9 L34.2,235.3 L33.9,230.5 L34.2,225.7 L35.3,221.1 L37.1,216.5 L39.6,212.1 L42.7,207.9 L46.4,204.0 L50.7,200.5 L55.5,197.3 L60.8,194.6 L66.4,192.2 L72.3,190.4 L78.5,189.1 L84.9,188.3 L91.3,188.0 L97.7,188.3 L104.1,189.1 L110.3,190.4 L116.2,192.2 L121.8,194.6 L127.1,197.3 L131.9,200.5 L136.2,204.0 L139.9,207.9 L143.0,212.1 L145.5,216.5 L147.3,221.1 L148.4,225.7 Z" fill="#818181"/><path d="M147.2,230.5 L146.9,235.1 L145.8,239.7 L144.1,244.2 L141.7,248.4 L138.7,252.5 L135.0,256.3 L130.9,259.7 L126.2,262.8 L121.1,265.5 L115.6,267.8 L109.8,269.5 L103.7,270.8 L97.6,271.6 L91.3,271.9 L85.0,271.6 L78.9,270.8 L72.8,269.5 L67.0,267.8 L61.5,265.5 L56.4,262.8 L51.7,259.7 L47.6,256.3 L43.9,252.5 L40.9,248.4 L38.5,244.2 L36.8,239.7 L35.7,235.1 L35.4,230.5 L35.7,225.9 L36.8,221.3 L38.5,216.8 L40.9,212.6 L43.9,208.5 L47.6,204.7 L51.7,201.3 L56.4,198.2 L61.5,195.5 L67.0,193.2 L72.8,191.5 L78.9,190.2 L85.0,189.4 L91.3,189.1 L97.6,189.4 L103.7,190.2 L109.8,191.5 L115.6,193.2 L121.1,195.5 L126.2,198.2 L130.9,201.3 L135.0,204.7 L138.7,208.5 L141.7,212.6 L144.1,216.8 L145.8,221.3 L146.9,225.9 Z" fill="#727272"/><path d="M145.8,230.5 L145.4,235.0 L144.4,239.5 L142.7,243.8 L140.4,248.0 L137.4,251.9 L133.9,255.6 L129.8,259.0 L125.2,262.0 L120.3,264.6 L114.9,266.8 L109.3,268.5 L103.4,269.8 L97.4,270.5 L91.3,270.8 L85.2,270.5 L79.2,269.8 L73.3,268.5 L67.7,266.8 L62.3,264.6 L57.4,262.0 L52.8,259.0 L48.7,255.6 L45.2,251.9 L42.2,248.0 L39.9,243.8 L38.2,239.5 L37.2,235.0 L36.8,230.5 L37.2,226.0 L38.2,221.5 L39.9,217.2 L42.2,213.0 L45.2,209.1 L48.7,205.4 L52.8,202.0 L57.4,199.0 L62.3,196.4 L67.7,194.2 L73.3,192.5 L79.2,191.2 L85.2,190.5 L91.3,190.2 L97.4,190.5 L103.4,191.2 L109.3,192.5 L114.9,194.2 L120.3,196.4 L125.2,199.0 L129.8,202.0 L133.9,205.4 L137.4,209.1 L140.4,213.0 L142.7,217.2 L144.4,221.5 L145.4,226.0 Z" fill="#646464"/><path d="M144.3,230.5 L143.9,234.9 L142.9,239.2 L141.3,243.4 L139.0,247.5 L136.1,251.3 L132.7,254.9 L128.8,258.2 L124.3,261.1 L119.5,263.7 L114.3,265.8 L108.8,267.5 L103.1,268.7 L97.2,269.4 L91.3,269.7 L85.4,269.4 L79.5,268.7 L73.8,267.5 L68.3,265.8 L63.1,263.7 L58.3,261.1 L53.8,258.2 L49.9,254.9 L46.5,251.3 L43.6,247.5 L41.3,243.4 L39.7,239.2 L38.7,234.9 L38.3,230.5 L38.7,226.1 L39.7,221.8 L41.3,217.6 L43.6,213.5 L46.5,209.7 L49.9,206.1 L53.8,202.8 L58.3,199.9 L63.1,197.3 L68.3,195.2 L73.8,193.5 L79.5,192.3 L85.4,191.6 L91.3,191.3 L97.2,191.6 L103.1,192.3 L108.8,193.5 L114.3,195.2 L119.5,197.3 L124.3,199.9 L128.8,202.8 L132.7,206.1 L136.1,209.7 L139.0,213.5 L141.3,217.6 L142.9,221.8 L143.9,226.1 Z" fill="#565656"/><path d="M142.8,230.5 L142.5,234.8 L141.5,239.0 L139.9,243.1 L137.7,247.0 L134.9,250.8 L131.5,254.2 L127.7,257.4 L123.4,260.3 L118.7,262.7 L113.6,264.8 L108.3,266.4 L102.8,267.6 L97.1,268.3 L91.3,268.6 L85.5,268.3 L79.8,267.6 L74.3,266.4 L69.0,264.8 L63.9,262.7 L59.2,260.3 L54.9,257.4 L51.1,254.2 L47.7,250.8 L44.9,247.0 L42.7,243.1 L41.1,239.0 L40.1,234.8 L39.8,230.5 L40.1,226.2 L41.1,222.0 L42.7,217.9 L44.9,214.0 L47.7,210.2 L51.1,206.8 L54.9,203.6 L59.2,200.7 L63.9,198.3 L69.0,196.2 L74.3,194.6 L79.8,193.4 L85.5,192.7 L91.3,192.4 L97.1,192.7 L102.8,193.4 L108.3,194.6 L113.6,196.2 L118.7,198.3 L123.4,200.7 L127.7,203.6 L131.5,206.8 L134.9,210.2 L137.7,214.0 L139.9,217.9 L141.5,222.0 L142.5,226.2 Z" fill="#484848"/><path d="M141.3,230.5 L141.0,234.6 L140.0,238.7 L138.5,242.7 L136.3,246.5 L133.6,250.2 L130.4,253.5 L126.7,256.6 L122.5,259.4 L117.9,261.8 L113.0,263.8 L107.8,265.4 L102.4,266.5 L96.9,267.2 L91.3,267.5 L85.7,267.2 L80.2,266.5 L74.8,265.4 L69.6,263.8 L64.7,261.8 L60.1,259.4 L55.9,256.6 L52.2,253.5 L49.0,250.2 L46.3,246.5 L44.1,242.7 L42.6,238.7 L41.6,234.6 L41.3,230.5 L41.6,226.4 L42.6,222.3 L44.1,218.3 L46.3,214.5 L49.0,210.8 L52.2,207.5 L55.9,204.4 L60.1,201.6 L64.7,199.2 L69.6,197.2 L74.8,195.6 L80.2,194.5 L85.7,193.8 L91.3,193.5 L96.9,193.8 L102.4,194.5 L107.8,195.6 L113.0,197.2 L117.9,199.2 L122.5,201.6 L126.7,204.4 L130.4,207.5 L133.6,210.8 L136.3,214.5 L138.5,218.3 L140.0,222.3 L141.0,226.4 Z" fill="#313131"/><path d="M139.9,230.5 L139.6,234.5 L138.6,238.5 L137.1,242.4 L135.1,246.1 L132.4,249.6 L129.3,252.9 L125.7,255.9 L121.6,258.6 L117.2,260.9 L112.4,262.8 L107.4,264.4 L102.1,265.5 L96.8,266.2 L91.3,266.4 L85.9,266.2 L80.6,265.5 L75.3,264.4 L70.3,262.8 L65.5,260.9 L61.1,258.6 L57.0,255.9 L53.4,252.9 L50.3,249.6 L47.6,246.1 L45.6,242.4 L44.1,238.5 L43.1,234.5 L42.8,230.5 L43.1,226.5 L44.1,222.5 L45.6,218.7 L47.6,215.0 L50.3,211.4 L53.4,208.2 L57.0,205.2 L61.1,202.5 L65.5,200.2 L70.3,198.2 L75.3,196.7 L80.6,195.6 L85.9,194.9 L91.3,194.7 L96.8,194.9 L102.1,195.6 L107.4,196.7 L112.4,198.2 L117.2,200.2 L121.6,202.5 L125.7,205.2 L129.3,208.2 L132.4,211.4 L135.1,215.0 L137.1,218.7 L138.6,222.5 L139.6,226.5 Z" fill="#1a1a1a"/><path d="M138.5,230.6 L138.2,234.5 L137.3,238.3 L135.8,242.1 L133.8,245.7 L131.2,249.1 L128.2,252.3 L124.7,255.2 L120.7,257.8 L116.4,260.0 L111.8,261.9 L107.0,263.4 L101.9,264.5 L96.7,265.1 L91.4,265.3 L86.2,265.1 L81.0,264.5 L75.9,263.4 L71.0,261.9 L66.4,260.0 L62.1,257.8 L58.2,255.2 L54.7,252.3 L51.6,249.1 L49.1,245.7 L47.0,242.1 L45.6,238.3 L44.7,234.5 L44.4,230.6 L44.7,226.7 L45.6,222.8 L47.0,219.1 L49.1,215.5 L51.6,212.1 L54.7,208.9 L58.2,206.0 L62.1,203.4 L66.4,201.1 L71.0,199.2 L75.9,197.8 L81.0,196.7 L86.2,196.0 L91.4,195.8 L96.7,196.0 L101.9,196.7 L107.0,197.8 L111.8,199.2 L116.4,201.1 L120.7,203.4 L124.7,206.0 L128.2,208.9 L131.2,212.1 L133.8,215.5 L135.8,219.1 L137.3,222.8 L138.2,226.7 Z" fill="#080808"/><path d="M137.0,230.6 L136.8,234.4 L135.9,238.1 L134.5,241.7 L132.5,245.2 L130.1,248.5 L127.1,251.6 L123.7,254.4 L119.9,256.9 L115.7,259.1 L111.3,261.0 L106.5,262.4 L101.6,263.4 L96.6,264.1 L91.5,264.3 L86.4,264.1 L81.4,263.4 L76.5,262.4 L71.7,261.0 L67.3,259.1 L63.1,256.9 L59.3,254.4 L55.9,251.6 L52.9,248.5 L50.5,245.2 L48.5,241.7 L47.1,238.1 L46.2,234.4 L46.0,230.6 L46.2,226.8 L47.1,223.1 L48.5,219.5 L50.5,216.0 L52.9,212.7 L55.9,209.6 L59.3,206.8 L63.1,204.3 L67.3,202.1 L71.7,200.3 L76.5,198.8 L81.4,197.8 L86.4,197.2 L91.5,196.9 L96.6,197.2 L101.6,197.8 L106.5,198.8 L111.3,200.3 L115.7,202.1 L119.9,204.3 L123.7,206.8 L127.1,209.6 L130.1,212.7 L132.5,216.0 L134.5,219.5 L135.9,223.1 L136.8,226.8 Z" fill="#030303"/><path d="M135.6,230.7 L135.4,234.3 L134.5,237.9 L133.2,241.4 L131.3,244.8 L128.9,248.0 L126.0,251.0 L122.7,253.7 L119.0,256.1 L115.0,258.2 L110.7,260.0 L106.1,261.4 L101.4,262.4 L96.5,263.0 L91.6,263.2 L86.6,263.0 L81.8,262.4 L77.0,261.4 L72.5,260.0 L68.1,258.2 L64.1,256.1 L60.4,253.7 L57.1,251.0 L54.3,248.0 L51.9,244.8 L50.0,241.4 L48.6,237.9 L47.8,234.3 L47.5,230.7 L47.8,227.0 L48.6,223.4 L50.0,219.9 L51.9,216.5 L54.3,213.3 L57.1,210.4 L60.4,207.6 L64.1,205.2 L68.1,203.1 L72.5,201.3 L77.0,199.9 L81.8,198.9 L86.6,198.3 L91.6,198.1 L96.5,198.3 L101.4,198.9 L106.1,199.9 L110.7,201.3 L115.0,203.1 L119.0,205.2 L122.7,207.6 L126.0,210.4 L128.9,213.3 L131.3,216.5 L133.2,219.9 L134.5,223.4 L135.4,227.0 Z" fill="#020000"/><path d="M134.2,230.7 L134.0,234.2 L133.2,237.7 L131.8,241.1 L130.0,244.4 L127.7,247.5 L124.9,250.3 L121.8,253.0 L118.2,255.3 L114.3,257.4 L110.1,259.1 L105.7,260.4 L101.1,261.4 L96.4,262.0 L91.6,262.2 L86.9,262.0 L82.2,261.4 L77.6,260.4 L73.2,259.1 L69.0,257.4 L65.1,255.3 L61.5,253.0 L58.4,250.3 L55.6,247.5 L53.3,244.4 L51.5,241.1 L50.1,237.7 L49.3,234.2 L49.1,230.7 L49.3,227.2 L50.1,223.7 L51.5,220.3 L53.3,217.1 L55.6,214.0 L58.4,211.1 L61.5,208.5 L65.1,206.1 L69.0,204.1 L73.2,202.4 L77.6,201.0 L82.2,200.0 L86.9,199.4 L91.6,199.2 L96.4,199.4 L101.1,200.0 L105.7,201.0 L110.1,202.4 L114.3,204.1 L118.2,206.1 L121.8,208.5 L124.9,211.1 L127.7,214.0 L130.0,217.1 L131.8,220.3 L133.2,223.7 L134.0,227.2 Z" fill="#0a0000"/><path d="M132.8,230.8 L132.6,234.2 L131.8,237.5 L130.5,240.8 L128.7,243.9 L126.5,246.9 L123.8,249.7 L120.8,252.2 L117.3,254.5 L113.6,256.5 L109.6,258.1 L105.3,259.4 L100.9,260.4 L96.3,260.9 L91.7,261.1 L87.1,260.9 L82.6,260.4 L78.2,259.4 L73.9,258.1 L69.9,256.5 L66.1,254.5 L62.7,252.2 L59.6,249.7 L56.9,246.9 L54.7,243.9 L52.9,240.8 L51.7,237.5 L50.9,234.2 L50.6,230.8 L50.9,227.4 L51.7,224.0 L52.9,220.7 L54.7,217.6 L56.9,214.6 L59.6,211.8 L62.7,209.3 L66.1,207.0 L69.9,205.0 L73.9,203.4 L78.2,202.1 L82.6,201.1 L87.1,200.6 L91.7,200.4 L96.3,200.6 L100.9,201.1 L105.3,202.1 L109.6,203.4 L113.6,205.0 L117.3,207.0 L120.8,209.3 L123.8,211.8 L126.5,214.6 L128.7,217.6 L130.5,220.7 L131.8,224.0 L132.6,227.4 Z" fill="#110000"/><path d="M131.4,230.8 L131.2,234.1 L130.4,237.3 L129.2,240.5 L127.5,243.5 L125.3,246.4 L122.8,249.1 L119.8,251.5 L116.5,253.7 L112.9,255.6 L109.0,257.2 L104.9,258.4 L100.6,259.3 L96.2,259.9 L91.8,260.1 L87.4,259.9 L83.0,259.3 L78.7,258.4 L74.6,257.2 L70.7,255.6 L67.1,253.7 L63.8,251.5 L60.8,249.1 L58.3,246.4 L56.1,243.5 L54.4,240.5 L53.2,237.3 L52.4,234.1 L52.2,230.8 L52.4,227.5 L53.2,224.3 L54.4,221.1 L56.1,218.1 L58.3,215.2 L60.8,212.5 L63.8,210.1 L67.1,207.9 L70.7,206.0 L74.6,204.4 L78.7,203.2 L83.0,202.3 L87.4,201.7 L91.8,201.5 L96.2,201.7 L100.6,202.3 L104.9,203.2 L109.0,204.4 L112.9,206.0 L116.5,207.9 L119.8,210.1 L122.8,212.5 L125.3,215.2 L127.5,218.1 L129.2,221.1 L130.4,224.3 L131.2,227.5 Z" fill="#180000"/><path d="M130.0,230.8 L129.8,234.0 L129.0,237.1 L127.9,240.2 L126.2,243.1 L124.1,245.8 L121.7,248.4 L118.8,250.8 L115.6,252.9 L112.2,254.7 L108.4,256.2 L104.5,257.4 L100.4,258.3 L96.1,258.8 L91.9,259.0 L87.6,258.8 L83.4,258.3 L79.3,257.4 L75.3,256.2 L71.6,254.7 L68.1,252.9 L64.9,250.8 L62.1,248.4 L59.6,245.8 L57.5,243.1 L55.9,240.2 L54.7,237.1 L54.0,234.0 L53.8,230.8 L54.0,227.7 L54.7,224.6 L55.9,221.5 L57.5,218.6 L59.6,215.9 L62.1,213.3 L64.9,210.9 L68.1,208.8 L71.6,207.0 L75.3,205.5 L79.3,204.2 L83.4,203.4 L87.6,202.8 L91.9,202.7 L96.1,202.8 L100.4,203.4 L104.5,204.2 L108.4,205.5 L112.2,207.0 L115.6,208.8 L118.8,210.9 L121.7,213.3 L124.1,215.9 L126.2,218.6 L127.9,221.5 L129.0,224.6 L129.8,227.7 Z" fill="#250101"/><path d="M128.6,230.9 L128.3,233.9 L127.7,236.9 L126.5,239.8 L125.0,242.6 L123.0,245.3 L120.6,247.8 L117.9,250.0 L114.8,252.1 L111.4,253.8 L107.8,255.3 L104.0,256.5 L100.1,257.3 L96.1,257.8 L91.9,258.0 L87.8,257.8 L83.8,257.3 L79.9,256.5 L76.1,255.3 L72.5,253.8 L69.1,252.1 L66.0,250.0 L63.3,247.8 L60.9,245.3 L58.9,242.6 L57.4,239.8 L56.2,236.9 L55.6,233.9 L55.3,230.9 L55.6,227.9 L56.2,224.9 L57.4,221.9 L58.9,219.1 L60.9,216.5 L63.3,214.0 L66.0,211.7 L69.1,209.7 L72.5,208.0 L76.1,206.5 L79.9,205.3 L83.8,204.5 L87.8,204.0 L91.9,203.8 L96.1,204.0 L100.1,204.5 L104.0,205.3 L107.8,206.5 L111.4,208.0 L114.8,209.7 L117.9,211.7 L120.6,214.0 L123.0,216.5 L125.0,219.1 L126.5,221.9 L127.7,224.9 L128.3,227.9 Z" fill="#310202"/><path d="M127.2,230.9 L126.9,233.8 L126.3,236.7 L125.2,239.5 L123.7,242.2 L121.8,244.8 L119.5,247.1 L116.9,249.3 L113.9,251.3 L110.7,252.9 L107.3,254.3 L103.6,255.5 L99.8,256.3 L96.0,256.8 L92.0,256.9 L88.1,256.8 L84.2,256.3 L80.4,255.5 L76.8,254.3 L73.3,252.9 L70.1,251.3 L67.2,249.3 L64.5,247.1 L62.3,244.8 L60.4,242.2 L58.9,239.5 L57.8,236.7 L57.1,233.8 L56.9,230.9 L57.1,228.0 L57.8,225.2 L58.9,222.4 L60.4,219.7 L62.3,217.1 L64.5,214.7 L67.2,212.6 L70.1,210.6 L73.3,208.9 L76.8,207.5 L80.4,206.4 L84.2,205.6 L88.1,205.1 L92.0,204.9 L96.0,205.1 L99.8,205.6 L103.6,206.4 L107.3,207.5 L110.7,208.9 L113.9,210.6 L116.9,212.6 L119.5,214.7 L121.8,217.1 L123.7,219.7 L125.2,222.4 L126.3,225.2 L126.9,228.0 Z" fill="#3e0303"/><path d="M125.8,231.0 L125.5,233.8 L124.9,236.5 L123.9,239.2 L122.4,241.8 L120.6,244.2 L118.4,246.5 L115.9,248.6 L113.1,250.4 L110.0,252.1 L106.7,253.4 L103.2,254.5 L99.6,255.2 L95.9,255.7 L92.1,255.9 L88.3,255.7 L84.6,255.2 L81.0,254.5 L77.5,253.4 L74.2,252.1 L71.1,250.4 L68.3,248.6 L65.8,246.5 L63.6,244.2 L61.8,241.8 L60.3,239.2 L59.3,236.5 L58.7,233.8 L58.4,231.0 L58.7,228.2 L59.3,225.4 L60.3,222.8 L61.8,220.2 L63.6,217.7 L65.8,215.5 L68.3,213.4 L71.1,211.5 L74.2,209.9 L77.5,208.6 L81.0,207.5 L84.6,206.7 L88.3,206.2 L92.1,206.1 L95.9,206.2 L99.6,206.7 L103.2,207.5 L106.7,208.6 L110.0,209.9 L113.1,211.5 L115.9,213.4 L118.4,215.5 L120.6,217.7 L122.4,220.2 L123.9,222.8 L124.9,225.4 L125.5,228.2 Z" fill="#4b0403"/><path d="M124.4,231.0 L124.1,233.7 L123.5,236.3 L122.5,238.9 L121.2,241.3 L119.4,243.7 L117.3,245.9 L114.9,247.8 L112.2,249.6 L109.3,251.2 L106.1,252.5 L102.8,253.5 L99.3,254.2 L95.8,254.7 L92.2,254.8 L88.6,254.7 L85.0,254.2 L81.5,253.5 L78.2,252.5 L75.1,251.2 L72.1,249.6 L69.4,247.8 L67.0,245.9 L64.9,243.7 L63.2,241.3 L61.8,238.9 L60.8,236.3 L60.2,233.7 L60.0,231.0 L60.2,228.4 L60.8,225.7 L61.8,223.2 L63.2,220.7 L64.9,218.4 L67.0,216.2 L69.4,214.2 L72.1,212.4 L75.1,210.9 L78.2,209.6 L81.5,208.6 L85.0,207.8 L88.6,207.4 L92.2,207.2 L95.8,207.4 L99.3,207.8 L102.8,208.6 L106.1,209.6 L109.3,210.9 L112.2,212.4 L114.9,214.2 L117.3,216.2 L119.4,218.4 L121.2,220.7 L122.5,223.2 L123.5,225.7 L124.1,228.4 Z" fill="#580504"/><path d="M122.9,231.1 L122.7,233.6 L122.2,236.1 L121.2,238.6 L119.9,240.9 L118.2,243.1 L116.2,245.2 L114.0,247.1 L111.4,248.8 L108.6,250.3 L105.6,251.5 L102.4,252.5 L99.1,253.2 L95.7,253.6 L92.2,253.8 L88.8,253.6 L85.4,253.2 L82.1,252.5 L78.9,251.5 L75.9,250.3 L73.1,248.8 L70.5,247.1 L68.3,245.2 L66.3,243.1 L64.6,240.9 L63.3,238.6 L62.3,236.1 L61.8,233.6 L61.6,231.1 L61.8,228.5 L62.3,226.0 L63.3,223.6 L64.6,221.2 L66.3,219.0 L68.3,216.9 L70.5,215.0 L73.1,213.3 L75.9,211.9 L78.9,210.6 L82.1,209.7 L85.4,208.9 L88.8,208.5 L92.2,208.4 L95.7,208.5 L99.1,208.9 L102.4,209.7 L105.6,210.6 L108.6,211.9 L111.4,213.3 L114.0,215.0 L116.2,216.9 L118.2,219.0 L119.9,221.2 L121.2,223.6 L122.2,226.0 L122.7,228.5 Z" fill="#650705"/><path d="M121.5,231.1 L121.3,233.5 L120.8,235.9 L119.9,238.2 L118.6,240.5 L117.1,242.6 L115.2,244.6 L113.0,246.4 L110.5,248.0 L107.9,249.4 L105.0,250.6 L102.0,251.5 L98.8,252.2 L95.6,252.6 L92.3,252.7 L89.1,252.6 L85.8,252.2 L82.7,251.5 L79.7,250.6 L76.8,249.4 L74.1,248.0 L71.7,246.4 L69.5,244.6 L67.6,242.6 L66.0,240.5 L64.8,238.2 L63.9,235.9 L63.3,233.5 L63.1,231.1 L63.3,228.7 L63.9,226.3 L64.8,224.0 L66.0,221.7 L67.6,219.6 L69.5,217.7 L71.7,215.8 L74.1,214.2 L76.8,212.8 L79.7,211.7 L82.7,210.7 L85.8,210.1 L89.1,209.7 L92.3,209.5 L95.6,209.7 L98.8,210.1 L102.0,210.7 L105.0,211.7 L107.9,212.8 L110.5,214.2 L113.0,215.8 L115.2,217.7 L117.1,219.6 L118.6,221.7 L119.9,224.0 L120.8,226.3 L121.3,228.7 Z" fill="#720806"/><path d="M120.1,231.2 L119.9,233.5 L119.4,235.7 L118.6,237.9 L117.4,240.1 L115.9,242.1 L114.1,243.9 L112.0,245.7 L109.7,247.2 L107.1,248.5 L104.4,249.6 L101.6,250.5 L98.6,251.1 L95.5,251.5 L92.4,251.7 L89.3,251.5 L86.2,251.1 L83.2,250.5 L80.4,249.6 L77.7,248.5 L75.1,247.2 L72.8,245.7 L70.7,243.9 L68.9,242.1 L67.4,240.1 L66.2,237.9 L65.4,235.7 L64.9,233.5 L64.7,231.2 L64.9,228.9 L65.4,226.6 L66.2,224.4 L67.4,222.3 L68.9,220.3 L70.7,218.4 L72.8,216.7 L75.1,215.1 L77.7,213.8 L80.4,212.7 L83.2,211.8 L86.2,211.2 L89.3,210.8 L92.4,210.7 L95.5,210.8 L98.6,211.2 L101.6,211.8 L104.4,212.7 L107.1,213.8 L109.7,215.1 L112.0,216.7 L114.1,218.4 L115.9,220.3 L117.4,222.3 L118.6,224.4 L119.4,226.6 L119.9,228.9 Z" fill="#7d0a07"/><path d="M118.7,231.2 L118.5,233.4 L118.1,235.5 L117.2,237.6 L116.1,239.6 L114.7,241.5 L113.0,243.3 L111.0,244.9 L108.8,246.4 L106.4,247.6 L103.9,248.7 L101.1,249.5 L98.3,250.1 L95.4,250.5 L92.5,250.6 L89.5,250.5 L86.6,250.1 L83.8,249.5 L81.1,248.7 L78.5,247.6 L76.1,246.4 L73.9,244.9 L72.0,243.3 L70.3,241.5 L68.8,239.6 L67.7,237.6 L66.9,235.5 L66.4,233.4 L66.2,231.2 L66.4,229.0 L66.9,226.9 L67.7,224.8 L68.8,222.8 L70.3,220.9 L72.0,219.1 L73.9,217.5 L76.1,216.0 L78.5,214.8 L81.1,213.7 L83.8,212.9 L86.6,212.3 L89.5,211.9 L92.5,211.8 L95.4,211.9 L98.3,212.3 L101.1,212.9 L103.9,213.7 L106.4,214.8 L108.8,216.0 L111.0,217.5 L113.0,219.1 L114.7,220.9 L116.1,222.8 L117.2,224.8 L118.1,226.9 L118.5,229.0 Z" fill="#870c08"/><path d="M117.3,231.2 L117.1,233.3 L116.7,235.3 L115.9,237.3 L114.8,239.2 L113.5,241.0 L111.9,242.7 L110.1,244.2 L108.0,245.6 L105.7,246.7 L103.3,247.7 L100.7,248.5 L98.1,249.1 L95.3,249.4 L92.5,249.6 L89.8,249.4 L87.0,249.1 L84.4,248.5 L81.8,247.7 L79.4,246.7 L77.1,245.6 L75.0,244.2 L73.2,242.7 L71.6,241.0 L70.3,239.2 L69.2,237.3 L68.4,235.3 L68.0,233.3 L67.8,231.2 L68.0,229.2 L68.4,227.2 L69.2,225.2 L70.3,223.3 L71.6,221.5 L73.2,219.8 L75.0,218.3 L77.1,216.9 L79.4,215.8 L81.8,214.8 L84.4,214.0 L87.0,213.4 L89.8,213.1 L92.5,212.9 L95.3,213.1 L98.1,213.4 L100.7,214.0 L103.3,214.8 L105.7,215.8 L108.0,216.9 L110.1,218.3 L111.9,219.8 L113.5,221.5 L114.8,223.3 L115.9,225.2 L116.7,227.2 L117.1,229.2 Z" fill="#910f08"/><path d="M115.9,231.3 L115.7,233.2 L115.3,235.1 L114.6,237.0 L113.6,238.8 L112.3,240.4 L110.8,242.0 L109.1,243.5 L107.1,244.7 L105.0,245.9 L102.7,246.8 L100.3,247.5 L97.8,248.1 L95.2,248.4 L92.6,248.5 L90.0,248.4 L87.4,248.1 L84.9,247.5 L82.5,246.8 L80.2,245.9 L78.1,244.7 L76.2,243.5 L74.4,242.0 L72.9,240.4 L71.7,238.8 L70.7,237.0 L69.9,235.1 L69.5,233.2 L69.4,231.3 L69.5,229.4 L69.9,227.5 L70.7,225.6 L71.7,223.8 L72.9,222.1 L74.4,220.6 L76.2,219.1 L78.1,217.8 L80.2,216.7 L82.5,215.8 L84.9,215.1 L87.4,214.5 L90.0,214.2 L92.6,214.1 L95.2,214.2 L97.8,214.5 L100.3,215.1 L102.7,215.8 L105.0,216.7 L107.1,217.8 L109.1,219.1 L110.8,220.6 L112.3,222.1 L113.6,223.8 L114.6,225.6 L115.3,227.5 L115.7,229.4 Z" fill="#9b1109"/><path d="M114.5,231.3 L114.3,233.1 L113.9,234.9 L113.3,236.7 L112.3,238.3 L111.1,239.9 L109.7,241.4 L108.1,242.7 L106.3,243.9 L104.3,245.0 L102.1,245.8 L99.9,246.5 L97.5,247.0 L95.1,247.3 L92.7,247.4 L90.3,247.3 L87.9,247.0 L85.5,246.5 L83.3,245.8 L81.1,245.0 L79.1,243.9 L77.3,242.7 L75.7,241.4 L74.3,239.9 L73.1,238.3 L72.1,236.7 L71.5,234.9 L71.1,233.1 L70.9,231.3 L71.1,229.5 L71.5,227.8 L72.1,226.0 L73.1,224.4 L74.3,222.8 L75.7,221.3 L77.3,220.0 L79.1,218.7 L81.1,217.7 L83.3,216.8 L85.5,216.1 L87.9,215.6 L90.3,215.3 L92.7,215.2 L95.1,215.3 L97.5,215.6 L99.9,216.1 L102.1,216.8 L104.3,217.7 L106.3,218.7 L108.1,220.0 L109.7,221.3 L111.1,222.8 L112.3,224.4 L113.3,226.0 L113.9,227.8 L114.3,229.5 Z" fill="#a5130a"/><path d="M113.1,231.4 L112.9,233.1 L112.6,234.7 L111.9,236.3 L111.1,237.9 L110.0,239.4 L108.6,240.7 L107.1,242.0 L105.4,243.1 L103.6,244.1 L101.6,244.9 L99.5,245.5 L97.3,246.0 L95.0,246.3 L92.8,246.4 L90.5,246.3 L88.3,246.0 L86.1,245.5 L84.0,244.9 L82.0,244.1 L80.1,243.1 L78.4,242.0 L76.9,240.7 L75.6,239.4 L74.5,237.9 L73.6,236.3 L73.0,234.7 L72.6,233.1 L72.5,231.4 L72.6,229.7 L73.0,228.0 L73.6,226.4 L74.5,224.9 L75.6,223.4 L76.9,222.0 L78.4,220.8 L80.1,219.7 L82.0,218.7 L84.0,217.9 L86.1,217.2 L88.3,216.8 L90.5,216.5 L92.8,216.4 L95.0,216.5 L97.3,216.8 L99.5,217.2 L101.6,217.9 L103.6,218.7 L105.4,219.7 L107.1,220.8 L108.6,222.0 L110.0,223.4 L111.1,224.9 L111.9,226.4 L112.6,228.0 L112.9,229.7 Z" fill="#b0150b"/><path d="M111.7,231.4 L111.5,233.0 L111.2,234.5 L110.6,236.0 L109.8,237.5 L108.8,238.8 L107.6,240.1 L106.2,241.3 L104.6,242.3 L102.9,243.2 L101.0,244.0 L99.1,244.6 L97.0,245.0 L95.0,245.3 L92.8,245.3 L90.7,245.3 L88.7,245.0 L86.6,244.6 L84.7,244.0 L82.8,243.2 L81.1,242.3 L79.5,241.3 L78.1,240.1 L76.9,238.8 L75.9,237.5 L75.1,236.0 L74.5,234.5 L74.2,233.0 L74.0,231.4 L74.2,229.9 L74.5,228.3 L75.1,226.8 L75.9,225.4 L76.9,224.0 L78.1,222.8 L79.5,221.6 L81.1,220.6 L82.8,219.7 L84.7,218.9 L86.6,218.3 L88.7,217.9 L90.7,217.6 L92.8,217.5 L95.0,217.6 L97.0,217.9 L99.1,218.3 L101.0,218.9 L102.9,219.7 L104.6,220.6 L106.2,221.6 L107.6,222.8 L108.8,224.0 L109.8,225.4 L110.6,226.8 L111.2,228.3 L111.5,229.9 Z" fill="#ba170c"/><path d="M110.3,231.5 L110.1,232.9 L109.8,234.3 L109.3,235.7 L108.5,237.0 L107.6,238.3 L106.5,239.5 L105.2,240.5 L103.7,241.5 L102.1,242.3 L100.4,243.0 L98.6,243.6 L96.8,244.0 L94.9,244.2 L92.9,244.3 L91.0,244.2 L89.1,244.0 L87.2,243.6 L85.4,243.0 L83.7,242.3 L82.1,241.5 L80.7,240.5 L79.4,239.5 L78.3,238.3 L77.3,237.0 L76.6,235.7 L76.0,234.3 L75.7,232.9 L75.6,231.5 L75.7,230.0 L76.0,228.6 L76.6,227.2 L77.3,225.9 L78.3,224.7 L79.4,223.5 L80.7,222.4 L82.1,221.5 L83.7,220.6 L85.4,219.9 L87.2,219.4 L89.1,219.0 L91.0,218.7 L92.9,218.7 L94.9,218.7 L96.8,219.0 L98.6,219.4 L100.4,219.9 L102.1,220.6 L103.7,221.5 L105.2,222.4 L106.5,223.5 L107.6,224.7 L108.5,225.9 L109.3,227.2 L109.8,228.6 L110.1,230.0 Z" fill="#c5190d"/><path d="M108.8,231.5 L108.7,232.8 L108.4,234.1 L108.0,235.4 L107.3,236.6 L106.4,237.8 L105.4,238.8 L104.2,239.8 L102.9,240.7 L101.4,241.4 L99.9,242.1 L98.2,242.6 L96.5,242.9 L94.8,243.2 L93.0,243.2 L91.2,243.2 L89.5,242.9 L87.8,242.6 L86.1,242.1 L84.6,241.4 L83.1,240.7 L81.8,239.8 L80.6,238.8 L79.6,237.8 L78.7,236.6 L78.0,235.4 L77.6,234.1 L77.3,232.8 L77.2,231.5 L77.3,230.2 L77.6,228.9 L78.0,227.7 L78.7,226.4 L79.6,225.3 L80.6,224.2 L81.8,223.2 L83.1,222.4 L84.6,221.6 L86.1,221.0 L87.8,220.5 L89.5,220.1 L91.2,219.9 L93.0,219.8 L94.8,219.9 L96.5,220.1 L98.2,220.5 L99.9,221.0 L101.4,221.6 L102.9,222.4 L104.2,223.2 L105.4,224.2 L106.4,225.3 L107.3,226.4 L108.0,227.7 L108.4,228.9 L108.7,230.2 Z" fill="#cd1a0e"/><path d="M107.4,231.6 L107.3,232.8 L107.1,233.9 L106.6,235.1 L106.0,236.2 L105.2,237.2 L104.3,238.2 L103.2,239.1 L102.0,239.9 L100.7,240.6 L99.3,241.1 L97.8,241.6 L96.3,241.9 L94.7,242.1 L93.1,242.2 L91.5,242.1 L89.9,241.9 L88.3,241.6 L86.8,241.1 L85.4,240.6 L84.1,239.9 L82.9,239.1 L81.9,238.2 L80.9,237.2 L80.1,236.2 L79.5,235.1 L79.1,233.9 L78.8,232.8 L78.7,231.6 L78.8,230.4 L79.1,229.2 L79.5,228.1 L80.1,227.0 L80.9,225.9 L81.9,224.9 L82.9,224.1 L84.1,223.3 L85.4,222.6 L86.8,222.0 L88.3,221.5 L89.9,221.2 L91.5,221.0 L93.1,221.0 L94.7,221.0 L96.3,221.2 L97.8,221.5 L99.3,222.0 L100.7,222.6 L102.0,223.3 L103.2,224.1 L104.3,224.9 L105.2,225.9 L106.0,227.0 L106.6,228.1 L107.1,229.2 L107.3,230.4 Z" fill="#ce1b0f"/><path d="M106.0,231.6 L105.9,232.7 L105.7,233.7 L105.3,234.8 L104.7,235.7 L104.0,236.7 L103.2,237.5 L102.3,238.3 L101.2,239.0 L100.0,239.7 L98.7,240.2 L97.4,240.6 L96.0,240.9 L94.6,241.1 L93.1,241.1 L91.7,241.1 L90.3,240.9 L88.9,240.6 L87.6,240.2 L86.3,239.7 L85.1,239.0 L84.0,238.3 L83.1,237.5 L82.3,236.7 L81.6,235.7 L81.0,234.8 L80.6,233.7 L80.4,232.7 L80.3,231.6 L80.4,230.5 L80.6,229.5 L81.0,228.5 L81.6,227.5 L82.3,226.5 L83.1,225.7 L84.0,224.9 L85.1,224.2 L86.3,223.6 L87.6,223.0 L88.9,222.6 L90.3,222.3 L91.7,222.2 L93.1,222.1 L94.6,222.2 L96.0,222.3 L97.4,222.6 L98.7,223.0 L100.0,223.6 L101.2,224.2 L102.3,224.9 L103.2,225.7 L104.0,226.5 L104.7,227.5 L105.3,228.5 L105.7,229.5 L105.9,230.5 Z" fill="#d01c0f"/><path d="M104.6,231.7 L104.5,232.6 L104.3,233.5 L104.0,234.4 L103.5,235.3 L102.9,236.1 L102.1,236.9 L101.3,237.6 L100.3,238.2 L99.3,238.8 L98.2,239.2 L97.0,239.6 L95.8,239.9 L94.5,240.0 L93.2,240.1 L92.0,240.0 L90.7,239.9 L89.5,239.6 L88.3,239.2 L87.2,238.8 L86.1,238.2 L85.2,237.6 L84.3,236.9 L83.6,236.1 L83.0,235.3 L82.5,234.4 L82.1,233.5 L81.9,232.6 L81.8,231.7 L81.9,230.7 L82.1,229.8 L82.5,228.9 L83.0,228.0 L83.6,227.2 L84.3,226.4 L85.2,225.7 L86.1,225.1 L87.2,224.5 L88.3,224.1 L89.5,223.7 L90.7,223.4 L92.0,223.3 L93.2,223.2 L94.5,223.3 L95.8,223.4 L97.0,223.7 L98.2,224.1 L99.3,224.5 L100.3,225.1 L101.3,225.7 L102.1,226.4 L102.9,227.2 L103.5,228.0 L104.0,228.9 L104.3,229.8 L104.5,230.7 Z" fill="#d21d10"/><path d="M103.2,231.7 L103.1,232.5 L103.0,233.3 L102.6,234.1 L102.2,234.9 L101.7,235.6 L101.0,236.3 L100.3,236.9 L99.5,237.4 L98.6,237.9 L97.6,238.3 L96.6,238.6 L95.5,238.8 L94.4,239.0 L93.3,239.0 L92.2,239.0 L91.1,238.8 L90.0,238.6 L89.0,238.3 L88.0,237.9 L87.1,237.4 L86.3,236.9 L85.6,236.3 L84.9,235.6 L84.4,234.9 L84.0,234.1 L83.6,233.3 L83.5,232.5 L83.4,231.7 L83.5,230.9 L83.6,230.1 L84.0,229.3 L84.4,228.5 L84.9,227.8 L85.6,227.1 L86.3,226.5 L87.1,226.0 L88.0,225.5 L89.0,225.1 L90.0,224.8 L91.1,224.6 L92.2,224.4 L93.3,224.4 L94.4,224.4 L95.5,224.6 L96.6,224.8 L97.6,225.1 L98.6,225.5 L99.5,226.0 L100.3,226.5 L101.0,227.1 L101.7,227.8 L102.2,228.5 L102.6,229.3 L103.0,230.1 L103.1,230.9 Z" fill="#d41e10"/><path d="M101.8,231.7 L101.7,232.4 L101.6,233.1 L101.3,233.8 L101.0,234.4 L100.5,235.1 L100.0,235.6 L99.3,236.1 L98.6,236.6 L97.9,237.0 L97.0,237.4 L96.2,237.6 L95.2,237.8 L94.3,237.9 L93.4,238.0 L92.4,237.9 L91.5,237.8 L90.6,237.6 L89.7,237.4 L88.9,237.0 L88.1,236.6 L87.4,236.1 L86.8,235.6 L86.2,235.1 L85.8,234.4 L85.4,233.8 L85.2,233.1 L85.0,232.4 L85.0,231.7 L85.0,231.0 L85.2,230.4 L85.4,229.7 L85.8,229.0 L86.2,228.4 L86.8,227.9 L87.4,227.3 L88.1,226.9 L88.9,226.5 L89.7,226.1 L90.6,225.9 L91.5,225.7 L92.4,225.6 L93.4,225.5 L94.3,225.6 L95.2,225.7 L96.2,225.9 L97.0,226.1 L97.9,226.5 L98.6,226.9 L99.3,227.3 L100.0,227.9 L100.5,228.4 L101.0,229.0 L101.3,229.7 L101.6,230.4 L101.7,231.0 Z" fill="#d61f11"/><path d="M100.4,231.8 L100.3,232.4 L100.2,232.9 L100.0,233.5 L99.7,234.0 L99.3,234.5 L98.9,235.0 L98.4,235.4 L97.8,235.8 L97.1,236.1 L96.5,236.4 L95.7,236.6 L95.0,236.8 L94.2,236.9 L93.4,236.9 L92.7,236.9 L91.9,236.8 L91.2,236.6 L90.4,236.4 L89.8,236.1 L89.1,235.8 L88.5,235.4 L88.0,235.0 L87.6,234.5 L87.2,234.0 L86.9,233.5 L86.7,232.9 L86.6,232.4 L86.5,231.8 L86.6,231.2 L86.7,230.6 L86.9,230.1 L87.2,229.6 L87.6,229.1 L88.0,228.6 L88.5,228.2 L89.1,227.8 L89.8,227.5 L90.4,227.2 L91.2,227.0 L91.9,226.8 L92.7,226.7 L93.4,226.7 L94.2,226.7 L95.0,226.8 L95.7,227.0 L96.5,227.2 L97.1,227.5 L97.8,227.8 L98.4,228.2 L98.9,228.6 L99.3,229.1 L99.7,229.6 L100.0,230.1 L100.2,230.6 L100.3,231.2 Z" fill="#d82011"/><path d="M99.0,231.8 L98.9,232.3 L98.8,232.7 L98.7,233.2 L98.4,233.6 L98.1,234.0 L97.8,234.3 L97.4,234.7 L96.9,235.0 L96.4,235.2 L95.9,235.5 L95.3,235.6 L94.7,235.8 L94.1,235.8 L93.5,235.9 L92.9,235.8 L92.3,235.8 L91.7,235.6 L91.2,235.5 L90.6,235.2 L90.1,235.0 L89.7,234.7 L89.3,234.3 L88.9,234.0 L88.6,233.6 L88.4,233.2 L88.2,232.7 L88.1,232.3 L88.1,231.8 L88.1,231.4 L88.2,230.9 L88.4,230.5 L88.6,230.1 L88.9,229.7 L89.3,229.3 L89.7,229.0 L90.1,228.7 L90.6,228.4 L91.2,228.2 L91.7,228.0 L92.3,227.9 L92.9,227.8 L93.5,227.8 L94.1,227.8 L94.7,227.9 L95.3,228.0 L95.9,228.2 L96.4,228.4 L96.9,228.7 L97.4,229.0 L97.8,229.3 L98.1,229.7 L98.4,230.1 L98.7,230.5 L98.8,230.9 L98.9,231.4 Z" fill="#d92112"/><path d="M97.6,231.9 L97.5,232.2 L97.5,232.5 L97.3,232.8 L97.2,233.2 L97.0,233.4 L96.7,233.7 L96.4,234.0 L96.1,234.2 L95.7,234.4 L95.3,234.5 L94.9,234.6 L94.5,234.7 L94.0,234.8 L93.6,234.8 L93.2,234.8 L92.7,234.7 L92.3,234.6 L91.9,234.5 L91.5,234.4 L91.1,234.2 L90.8,234.0 L90.5,233.7 L90.2,233.4 L90.0,233.2 L89.9,232.8 L89.7,232.5 L89.7,232.2 L89.6,231.9 L89.7,231.6 L89.7,231.2 L89.9,230.9 L90.0,230.6 L90.2,230.3 L90.5,230.1 L90.8,229.8 L91.1,229.6 L91.5,229.4 L91.9,229.2 L92.3,229.1 L92.7,229.0 L93.2,229.0 L93.6,229.0 L94.0,229.0 L94.5,229.0 L94.9,229.1 L95.3,229.2 L95.7,229.4 L96.1,229.6 L96.4,229.8 L96.7,230.1 L97.0,230.3 L97.2,230.6 L97.3,230.9 L97.5,231.2 L97.5,231.6 Z" fill="#db2213"/><path d="M96.2,231.9 L96.1,232.1 L96.1,232.3 L96.0,232.5 L95.9,232.7 L95.8,232.9 L95.6,233.1 L95.4,233.2 L95.2,233.4 L95.0,233.5 L94.7,233.6 L94.5,233.7 L94.2,233.7 L94.0,233.7 L93.7,233.8 L93.4,233.7 L93.1,233.7 L92.9,233.7 L92.6,233.6 L92.4,233.5 L92.1,233.4 L91.9,233.2 L91.7,233.1 L91.6,232.9 L91.4,232.7 L91.3,232.5 L91.3,232.3 L91.2,232.1 L91.2,231.9 L91.2,231.7 L91.3,231.5 L91.3,231.3 L91.4,231.1 L91.6,231.0 L91.7,230.8 L91.9,230.6 L92.1,230.5 L92.4,230.4 L92.6,230.3 L92.9,230.2 L93.1,230.1 L93.4,230.1 L93.7,230.1 L94.0,230.1 L94.2,230.1 L94.5,230.2 L94.7,230.3 L95.0,230.4 L95.2,230.5 L95.4,230.6 L95.6,230.8 L95.8,231.0 L95.9,231.1 L96.0,231.3 L96.1,231.5 L96.1,231.7 Z" fill="#dd2213"/><path d="M94.7,232.0 L94.7,232.1 L94.7,232.1 L94.7,232.2 L94.6,232.3 L94.6,232.4 L94.5,232.4 L94.5,232.5 L94.4,232.5 L94.3,232.6 L94.2,232.6 L94.1,232.7 L94.0,232.7 L93.9,232.7 L93.8,232.7 L93.6,232.7 L93.5,232.7 L93.4,232.7 L93.3,232.6 L93.2,232.6 L93.1,232.5 L93.0,232.5 L93.0,232.4 L92.9,232.4 L92.9,232.3 L92.8,232.2 L92.8,232.1 L92.8,232.1 L92.8,232.0 L92.8,231.9 L92.8,231.8 L92.8,231.7 L92.9,231.7 L92.9,231.6 L93.0,231.5 L93.0,231.5 L93.1,231.4 L93.2,231.4 L93.3,231.3 L93.4,231.3 L93.5,231.3 L93.6,231.2 L93.8,231.2 L93.9,231.2 L94.0,231.3 L94.1,231.3 L94.2,231.3 L94.3,231.4 L94.4,231.4 L94.5,231.5 L94.5,231.5 L94.6,231.6 L94.6,231.7 L94.7,231.7 L94.7,231.8 L94.7,231.9 Z" fill="#df2314"/>
</g>
<ellipse cx="88.5" cy="185.6" rx="3.4" ry="1.9" fill="#1a1a1a" filter="url(#bl1)"/>
<ellipse cx="103.2" cy="185.6" rx="2.6" ry="1.6" fill="#6a6a6a" filter="url(#bl1)"/>
<path d="M107.4,216.8 L108.3,218.7 L108.8,220.2 L109.1,221.6 L109.3,222.9 L109.4,224.2 L109.3,225.4 L109.1,226.7 L108.8,227.9 L108.4,229.0 L107.8,230.2 L107.1,231.3 L106.3,232.4 L105.4,233.5 L104.3,234.5 L103.2,235.6 L101.9,236.6 L100.4,237.6 L98.8,238.5 L96.9,239.5 L94.3,240.8 L91.7,242.0 L89.8,242.7 L88.0,243.4 L86.3,243.8 L84.7,244.2 L83.1,244.4 L81.7,244.6 L80.2,244.6 L78.9,244.5 L77.6,244.3 L76.3,244.0 L75.1,243.5 L74.0,243.0 L73.0,242.4 L72.0,241.6 L71.0,240.8 L70.1,239.8 L69.3,238.6 L68.5,237.3 L67.6,235.4 L66.7,233.5 L66.2,232.0 L65.9,230.6 L65.7,229.3 L65.6,228.0 L65.7,226.8 L65.9,225.5 L66.2,224.3 L66.6,223.2 L67.2,222.0 L67.9,220.9 L68.7,219.8 L69.6,218.7 L70.7,217.7 L71.8,216.6 L73.1,215.6 L74.6,214.6 L76.2,213.7 L78.1,212.7 L80.7,211.4 L83.3,210.2 L85.2,209.5 L87.0,208.8 L88.7,208.4 L90.3,208.0 L91.9,207.8 L93.3,207.6 L94.8,207.6 L96.1,207.7 L97.4,207.9 L98.7,208.2 L99.9,208.7 L101.0,209.2 L102.0,209.8 L103.0,210.6 L104.0,211.4 L104.9,212.4 L105.7,213.6 L106.5,214.9 Z" fill="#fff"/>
<path d="M67.50,238.50 L81.70,245.50 L48.30,281.00 L30.30,281.00 Z" fill="#fff"/>
</g>
<clipPath id="clipe3"><rect x="22.1" y="299.1" width="133.20000000000002" height="106.19999999999999"/></clipPath>
<g clip-path="url(#clipe3)">
<g filter="url(#bl1)">
<rect x="12.100000000000001" y="289.1" width="153.20000000000002" height="126.19999999999999" fill="#dedede"/>
<path d="M197.2,349.6 L196.5,359.6 L194.4,369.4 L191.0,379.0 L186.3,388.3 L180.4,397.0 L173.3,405.2 L165.1,412.6 L156.0,419.3 L146.0,425.0 L135.2,429.9 L123.9,433.7 L112.1,436.5 L100.0,438.1 L87.8,438.7 L75.6,438.1 L63.5,436.5 L51.7,433.7 L40.4,429.9 L29.6,425.0 L19.6,419.3 L10.5,412.6 L2.3,405.2 L-4.8,397.0 L-10.7,388.3 L-15.4,379.0 L-18.8,369.4 L-20.9,359.6 L-21.6,349.6 L-20.9,339.6 L-18.8,329.8 L-15.4,320.2 L-10.7,310.9 L-4.8,302.2 L2.3,294.0 L10.5,286.6 L19.6,279.9 L29.6,274.2 L40.4,269.3 L51.7,265.5 L63.5,262.7 L75.6,261.1 L87.8,260.5 L100.0,261.1 L112.1,262.7 L123.9,265.5 L135.2,269.3 L146.0,274.2 L156.0,279.9 L165.1,286.6 L173.3,294.0 L180.4,302.2 L186.3,310.9 L191.0,320.2 L194.4,329.8 L196.5,339.6 Z" fill="#dddddd"/><path d="M195.1,349.6 L194.5,359.4 L192.4,369.1 L189.1,378.5 L184.5,387.5 L178.7,396.1 L171.7,404.1 L163.7,411.4 L154.7,418.0 L144.9,423.6 L134.4,428.4 L123.2,432.1 L111.7,434.9 L99.8,436.5 L87.8,437.1 L75.8,436.5 L63.9,434.9 L52.4,432.1 L41.2,428.4 L30.7,423.6 L20.9,418.0 L11.9,411.4 L3.9,404.1 L-3.1,396.1 L-8.9,387.5 L-13.5,378.5 L-16.8,369.1 L-18.9,359.4 L-19.5,349.6 L-18.9,339.8 L-16.8,330.1 L-13.5,320.7 L-8.9,311.7 L-3.1,303.1 L3.9,295.1 L11.9,287.8 L20.9,281.2 L30.7,275.6 L41.2,270.8 L52.4,267.1 L63.9,264.3 L75.8,262.7 L87.8,262.1 L99.8,262.7 L111.7,264.3 L123.2,267.1 L134.4,270.8 L144.9,275.6 L154.7,281.2 L163.7,287.8 L171.7,295.1 L178.7,303.1 L184.5,311.7 L189.1,320.7 L192.4,330.1 L194.5,339.8 Z" fill="#dddddd"/><path d="M193.1,349.6 L192.4,359.2 L190.5,368.7 L187.2,377.9 L182.7,386.8 L177.0,395.2 L170.1,403.1 L162.3,410.3 L153.5,416.7 L143.8,422.2 L133.5,426.9 L122.6,430.6 L111.2,433.2 L99.6,434.9 L87.8,435.4 L76.0,434.9 L64.4,433.2 L53.0,430.6 L42.1,426.9 L31.8,422.2 L22.1,416.7 L13.3,410.3 L5.5,403.1 L-1.4,395.2 L-7.1,386.8 L-11.6,377.9 L-14.9,368.7 L-16.8,359.2 L-17.5,349.6 L-16.8,340.0 L-14.9,330.5 L-11.6,321.3 L-7.1,312.4 L-1.4,304.0 L5.5,296.1 L13.3,288.9 L22.1,282.5 L31.8,277.0 L42.1,272.3 L53.0,268.6 L64.4,266.0 L76.0,264.3 L87.8,263.8 L99.6,264.3 L111.2,266.0 L122.6,268.6 L133.5,272.3 L143.8,277.0 L153.5,282.5 L162.3,288.9 L170.1,296.1 L177.0,304.0 L182.7,312.4 L187.2,321.3 L190.5,330.5 L192.4,340.0 Z" fill="#dcdcdc"/><path d="M191.1,349.6 L190.4,359.0 L188.5,368.3 L185.3,377.4 L180.8,386.1 L175.2,394.4 L168.5,402.1 L160.8,409.1 L152.2,415.4 L142.7,420.9 L132.6,425.4 L121.9,429.0 L110.8,431.6 L99.4,433.2 L87.8,433.8 L76.2,433.2 L64.8,431.6 L53.7,429.0 L43.0,425.4 L32.9,420.9 L23.4,415.4 L14.8,409.1 L7.1,402.1 L0.4,394.4 L-5.2,386.1 L-9.7,377.4 L-12.9,368.3 L-14.8,359.0 L-15.5,349.6 L-14.8,340.2 L-12.9,330.9 L-9.7,321.8 L-5.2,313.1 L0.4,304.8 L7.1,297.1 L14.8,290.1 L23.4,283.8 L32.9,278.3 L43.0,273.8 L53.7,270.2 L64.8,267.6 L76.2,266.0 L87.8,265.4 L99.4,266.0 L110.8,267.6 L121.9,270.2 L132.6,273.8 L142.7,278.3 L152.2,283.8 L160.8,290.1 L168.5,297.1 L175.2,304.8 L180.8,313.1 L185.3,321.8 L188.5,330.9 L190.4,340.2 Z" fill="#dcdcdc"/><path d="M189.1,349.6 L188.4,358.8 L186.5,368.0 L183.4,376.8 L179.0,385.4 L173.5,393.5 L167.0,401.0 L159.4,407.9 L150.9,414.1 L141.7,419.5 L131.7,423.9 L121.2,427.5 L110.3,430.0 L99.1,431.6 L87.8,432.1 L76.5,431.6 L65.3,430.0 L54.4,427.5 L43.9,423.9 L33.9,419.5 L24.7,414.1 L16.2,407.9 L8.6,401.0 L2.1,393.5 L-3.4,385.4 L-7.8,376.8 L-10.9,368.0 L-12.8,358.8 L-13.5,349.6 L-12.8,340.4 L-10.9,331.2 L-7.8,322.4 L-3.4,313.8 L2.1,305.7 L8.6,298.2 L16.2,291.3 L24.7,285.1 L33.9,279.7 L43.9,275.3 L54.4,271.7 L65.3,269.2 L76.5,267.6 L87.8,267.1 L99.1,267.6 L110.3,269.2 L121.2,271.7 L131.7,275.3 L141.7,279.7 L150.9,285.1 L159.4,291.3 L167.0,298.2 L173.5,305.7 L179.0,313.8 L183.4,322.4 L186.5,331.2 L188.4,340.4 Z" fill="#dcdcdc"/><path d="M187.0,349.6 L186.4,358.7 L184.5,367.6 L181.5,376.3 L177.2,384.7 L171.8,392.6 L165.4,400.0 L158.0,406.8 L149.7,412.8 L140.6,418.1 L130.9,422.4 L120.6,425.9 L109.9,428.4 L98.9,429.9 L87.8,430.5 L76.7,429.9 L65.7,428.4 L55.0,425.9 L44.7,422.4 L35.0,418.1 L25.9,412.8 L17.6,406.8 L10.2,400.0 L3.8,392.6 L-1.6,384.7 L-5.9,376.3 L-8.9,367.6 L-10.8,358.7 L-11.4,349.6 L-10.8,340.5 L-8.9,331.6 L-5.9,322.9 L-1.6,314.5 L3.8,306.6 L10.2,299.2 L17.6,292.4 L25.9,286.4 L35.0,281.1 L44.7,276.8 L55.0,273.3 L65.7,270.8 L76.7,269.3 L87.8,268.8 L98.9,269.3 L109.9,270.8 L120.6,273.3 L130.9,276.8 L140.6,281.1 L149.7,286.4 L158.0,292.4 L165.4,299.2 L171.8,306.6 L177.2,314.5 L181.5,322.9 L184.5,331.6 L186.4,340.5 Z" fill="#dbdbdb"/><path d="M185.0,349.6 L184.4,358.5 L182.6,367.2 L179.5,375.8 L175.4,384.0 L170.1,391.7 L163.8,399.0 L156.5,405.6 L148.4,411.5 L139.5,416.7 L130.0,421.0 L119.9,424.4 L109.4,426.8 L98.7,428.3 L87.8,428.8 L76.9,428.3 L66.2,426.8 L55.7,424.4 L45.6,421.0 L36.1,416.7 L27.2,411.5 L19.1,405.6 L11.8,399.0 L5.5,391.7 L0.2,384.0 L-3.9,375.8 L-7.0,367.2 L-8.8,358.5 L-9.4,349.6 L-8.8,340.7 L-7.0,332.0 L-3.9,323.4 L0.2,315.2 L5.5,307.5 L11.8,300.2 L19.1,293.6 L27.2,287.7 L36.1,282.5 L45.6,278.2 L55.7,274.8 L66.2,272.4 L76.9,270.9 L87.8,270.4 L98.7,270.9 L109.4,272.4 L119.9,274.8 L130.0,278.2 L139.5,282.5 L148.4,287.7 L156.5,293.6 L163.8,300.2 L170.1,307.5 L175.4,315.2 L179.5,323.4 L182.6,332.0 L184.4,340.7 Z" fill="#dbdbdb"/><path d="M183.0,349.6 L182.4,358.3 L180.6,366.9 L177.6,375.2 L173.5,383.2 L168.4,390.9 L162.2,398.0 L155.1,404.4 L147.1,410.2 L138.4,415.3 L129.1,419.5 L119.2,422.8 L109.0,425.2 L98.5,426.7 L87.8,427.2 L77.1,426.7 L66.6,425.2 L56.4,422.8 L46.5,419.5 L37.2,415.3 L28.5,410.2 L20.5,404.4 L13.4,398.0 L7.2,390.9 L2.1,383.2 L-2.0,375.2 L-5.0,366.9 L-6.8,358.3 L-7.4,349.6 L-6.8,340.9 L-5.0,332.3 L-2.0,324.0 L2.1,316.0 L7.2,308.3 L13.4,301.2 L20.5,294.8 L28.5,289.0 L37.2,283.9 L46.5,279.7 L56.4,276.4 L66.6,274.0 L77.1,272.5 L87.8,272.0 L98.5,272.5 L109.0,274.0 L119.2,276.4 L129.1,279.7 L138.4,283.9 L147.1,289.0 L155.1,294.8 L162.2,301.2 L168.4,308.3 L173.5,316.0 L177.6,324.0 L180.6,332.3 L182.4,340.9 Z" fill="#dbdbdb"/><path d="M181.0,349.6 L180.4,358.1 L178.6,366.5 L175.7,374.7 L171.7,382.5 L166.7,390.0 L160.6,396.9 L153.7,403.3 L145.9,408.9 L137.4,413.9 L128.2,418.0 L118.6,421.2 L108.5,423.6 L98.2,425.0 L87.8,425.5 L77.4,425.0 L67.1,423.6 L57.0,421.2 L47.4,418.0 L38.2,413.9 L29.7,408.9 L21.9,403.3 L15.0,396.9 L8.9,390.0 L3.9,382.5 L-0.1,374.7 L-3.0,366.5 L-4.8,358.1 L-5.4,349.6 L-4.8,341.1 L-3.0,332.7 L-0.1,324.5 L3.9,316.7 L8.9,309.2 L15.0,302.3 L21.9,295.9 L29.7,290.3 L38.2,285.3 L47.4,281.2 L57.0,278.0 L67.1,275.6 L77.4,274.2 L87.8,273.7 L98.2,274.2 L108.5,275.6 L118.6,278.0 L128.2,281.2 L137.4,285.3 L145.9,290.3 L153.7,295.9 L160.6,302.3 L166.7,309.2 L171.7,316.7 L175.7,324.5 L178.6,332.7 L180.4,341.1 Z" fill="#dadada"/><path d="M178.9,349.6 L178.4,357.9 L176.6,366.1 L173.8,374.1 L169.9,381.8 L165.0,389.1 L159.0,395.9 L152.2,402.1 L144.6,407.7 L136.3,412.5 L127.3,416.5 L117.9,419.7 L108.1,422.0 L98.0,423.4 L87.8,423.9 L77.6,423.4 L67.5,422.0 L57.7,419.7 L48.3,416.5 L39.3,412.5 L31.0,407.7 L23.4,402.1 L16.6,395.9 L10.6,389.1 L5.7,381.8 L1.8,374.1 L-1.0,366.1 L-2.8,357.9 L-3.3,349.6 L-2.8,341.3 L-1.0,333.1 L1.8,325.1 L5.7,317.4 L10.6,310.1 L16.6,303.3 L23.4,297.1 L31.0,291.5 L39.3,286.7 L48.3,282.7 L57.7,279.5 L67.5,277.2 L77.6,275.8 L87.8,275.3 L98.0,275.8 L108.1,277.2 L117.9,279.5 L127.3,282.7 L136.3,286.7 L144.6,291.5 L152.2,297.1 L159.0,303.3 L165.0,310.1 L169.9,317.4 L173.8,325.1 L176.6,333.1 L178.4,341.3 Z" fill="#dadada"/><path d="M176.9,349.6 L176.3,357.7 L174.7,365.8 L171.9,373.6 L168.1,381.1 L163.2,388.2 L157.5,394.9 L150.8,400.9 L143.4,406.4 L135.2,411.1 L126.5,415.0 L117.2,418.1 L107.6,420.4 L97.8,421.7 L87.8,422.2 L77.8,421.7 L68.0,420.4 L58.4,418.1 L49.1,415.0 L40.4,411.1 L32.2,406.4 L24.8,400.9 L18.1,394.9 L12.4,388.2 L7.5,381.1 L3.7,373.6 L0.9,365.8 L-0.7,357.7 L-1.3,349.6 L-0.7,341.5 L0.9,333.4 L3.7,325.6 L7.5,318.1 L12.4,311.0 L18.1,304.3 L24.8,298.3 L32.2,292.8 L40.4,288.1 L49.1,284.2 L58.4,281.1 L68.0,278.8 L77.8,277.5 L87.8,277.0 L97.8,277.5 L107.6,278.8 L117.2,281.1 L126.5,284.2 L135.2,288.1 L143.4,292.8 L150.8,298.3 L157.5,304.3 L163.2,311.0 L168.1,318.1 L171.9,325.6 L174.7,333.4 L176.3,341.5 Z" fill="#dadada"/><path d="M174.9,349.6 L174.3,357.5 L172.7,365.4 L170.0,373.0 L166.3,380.4 L161.5,387.3 L155.9,393.8 L149.4,399.8 L142.1,405.1 L134.1,409.7 L125.6,413.5 L116.6,416.6 L107.2,418.8 L97.5,420.1 L87.8,420.6 L78.1,420.1 L68.4,418.8 L59.0,416.6 L50.0,413.5 L41.5,409.7 L33.5,405.1 L26.2,399.8 L19.7,393.8 L14.1,387.3 L9.3,380.4 L5.6,373.0 L2.9,365.4 L1.3,357.5 L0.7,349.6 L1.3,341.7 L2.9,333.8 L5.6,326.2 L9.3,318.8 L14.1,311.9 L19.7,305.4 L26.2,299.4 L33.5,294.1 L41.5,289.5 L50.0,285.7 L59.0,282.6 L68.4,280.4 L78.1,279.1 L87.8,278.6 L97.5,279.1 L107.2,280.4 L116.6,282.6 L125.6,285.7 L134.1,289.5 L142.1,294.1 L149.4,299.4 L155.9,305.4 L161.5,311.9 L166.3,318.8 L170.0,326.2 L172.7,333.8 L174.3,341.7 Z" fill="#d9d9d9"/><path d="M172.9,349.6 L172.3,357.4 L170.7,365.0 L168.1,372.5 L164.4,379.7 L159.8,386.5 L154.3,392.8 L147.9,398.6 L140.8,403.8 L133.0,408.3 L124.7,412.0 L115.9,415.0 L106.7,417.2 L97.3,418.5 L87.8,418.9 L78.3,418.5 L68.9,417.2 L59.7,415.0 L50.9,412.0 L42.6,408.3 L34.8,403.8 L27.7,398.6 L21.3,392.8 L15.8,386.5 L11.2,379.7 L7.5,372.5 L4.9,365.0 L3.3,357.4 L2.7,349.6 L3.3,341.8 L4.9,334.2 L7.5,326.7 L11.2,319.5 L15.8,312.7 L21.3,306.4 L27.7,300.6 L34.8,295.4 L42.6,290.9 L50.9,287.2 L59.7,284.2 L68.9,282.0 L78.3,280.7 L87.8,280.3 L97.3,280.7 L106.7,282.0 L115.9,284.2 L124.7,287.2 L133.0,290.9 L140.8,295.4 L147.9,300.6 L154.3,306.4 L159.8,312.7 L164.4,319.5 L168.1,326.7 L170.7,334.2 L172.3,341.8 Z" fill="#d9d9d9"/><path d="M170.8,349.6 L170.3,357.2 L168.7,364.7 L166.2,371.9 L162.6,379.0 L158.1,385.6 L152.7,391.8 L146.5,397.4 L139.6,402.5 L132.0,406.9 L123.8,410.6 L115.2,413.5 L106.3,415.6 L97.1,416.8 L87.8,417.3 L78.5,416.8 L69.3,415.6 L60.4,413.5 L51.8,410.6 L43.6,406.9 L36.0,402.5 L29.1,397.4 L22.9,391.8 L17.5,385.6 L13.0,379.0 L9.4,371.9 L6.9,364.7 L5.3,357.2 L4.8,349.6 L5.3,342.0 L6.9,334.5 L9.4,327.3 L13.0,320.2 L17.5,313.6 L22.9,307.4 L29.1,301.8 L36.0,296.7 L43.6,292.3 L51.8,288.6 L60.4,285.7 L69.3,283.6 L78.5,282.4 L87.8,281.9 L97.1,282.4 L106.3,283.6 L115.2,285.7 L123.8,288.6 L132.0,292.3 L139.6,296.7 L146.5,301.8 L152.7,307.4 L158.1,313.6 L162.6,320.2 L166.2,327.3 L168.7,334.5 L170.3,342.0 Z" fill="#d8d8d8"/><path d="M168.8,349.6 L168.3,357.0 L166.8,364.3 L164.3,371.4 L160.8,378.2 L156.4,384.7 L151.1,390.8 L145.1,396.3 L138.3,401.2 L130.9,405.5 L122.9,409.1 L114.6,411.9 L105.8,413.9 L96.9,415.2 L87.8,415.6 L78.7,415.2 L69.8,413.9 L61.0,411.9 L52.7,409.1 L44.7,405.5 L37.3,401.2 L30.5,396.3 L24.5,390.8 L19.2,384.7 L14.8,378.2 L11.3,371.4 L8.8,364.3 L7.3,357.0 L6.8,349.6 L7.3,342.2 L8.8,334.9 L11.3,327.8 L14.8,321.0 L19.2,314.5 L24.5,308.4 L30.5,302.9 L37.3,298.0 L44.7,293.7 L52.7,290.1 L61.0,287.3 L69.8,285.3 L78.7,284.0 L87.8,283.6 L96.9,284.0 L105.8,285.3 L114.6,287.3 L122.9,290.1 L130.9,293.7 L138.3,298.0 L145.1,302.9 L151.1,308.4 L156.4,314.5 L160.8,321.0 L164.3,327.8 L166.8,334.9 L168.3,342.2 Z" fill="#d8d8d8"/><path d="M166.8,349.6 L166.3,356.8 L164.8,363.9 L162.3,370.9 L159.0,377.5 L154.7,383.8 L149.5,389.7 L143.6,395.1 L137.0,399.9 L129.8,404.1 L122.1,407.6 L113.9,410.3 L105.4,412.3 L96.6,413.5 L87.8,414.0 L79.0,413.5 L70.2,412.3 L61.7,410.3 L53.5,407.6 L45.8,404.1 L38.6,399.9 L32.0,395.1 L26.1,389.7 L20.9,383.8 L16.6,377.5 L13.3,370.9 L10.8,363.9 L9.3,356.8 L8.8,349.6 L9.3,342.4 L10.8,335.3 L13.3,328.3 L16.6,321.7 L20.9,315.4 L26.1,309.5 L32.0,304.1 L38.6,299.3 L45.8,295.1 L53.5,291.6 L61.7,288.9 L70.2,286.9 L79.0,285.7 L87.8,285.2 L96.6,285.7 L105.4,286.9 L113.9,288.9 L122.1,291.6 L129.8,295.1 L137.0,299.3 L143.6,304.1 L149.5,309.5 L154.7,315.4 L159.0,321.7 L162.3,328.3 L164.8,335.3 L166.3,342.4 Z" fill="#d7d7d7"/><path d="M164.8,349.6 L164.3,356.6 L162.8,363.6 L160.4,370.3 L157.1,376.8 L153.0,383.0 L148.0,388.7 L142.2,393.9 L135.8,398.6 L128.7,402.7 L121.2,406.1 L113.2,408.8 L104.9,410.7 L96.4,411.9 L87.8,412.3 L79.2,411.9 L70.7,410.7 L62.4,408.8 L54.4,406.1 L46.9,402.7 L39.8,398.6 L33.4,393.9 L27.6,388.7 L22.6,383.0 L18.5,376.8 L15.2,370.3 L12.8,363.6 L11.3,356.6 L10.8,349.6 L11.3,342.6 L12.8,335.6 L15.2,328.9 L18.5,322.4 L22.6,316.2 L27.6,310.5 L33.4,305.3 L39.8,300.6 L46.9,296.5 L54.4,293.1 L62.4,290.4 L70.7,288.5 L79.2,287.3 L87.8,286.9 L96.4,287.3 L104.9,288.5 L113.2,290.4 L121.2,293.1 L128.7,296.5 L135.8,300.6 L142.2,305.3 L148.0,310.5 L153.0,316.2 L157.1,322.4 L160.4,328.9 L162.8,335.6 L164.3,342.6 Z" fill="#d5d5d5"/><path d="M162.7,349.6 L162.3,356.4 L160.8,363.2 L158.5,369.8 L155.3,376.1 L151.2,382.1 L146.4,387.7 L140.8,392.8 L134.5,397.3 L127.7,401.3 L120.3,404.6 L112.5,407.2 L104.5,409.1 L96.2,410.3 L87.8,410.7 L79.4,410.3 L71.1,409.1 L63.1,407.2 L55.3,404.6 L47.9,401.3 L41.1,397.3 L34.8,392.8 L29.2,387.7 L24.4,382.1 L20.3,376.1 L17.1,369.8 L14.8,363.2 L13.3,356.4 L12.9,349.6 L13.3,342.8 L14.8,336.0 L17.1,329.4 L20.3,323.1 L24.4,317.1 L29.2,311.5 L34.8,306.4 L41.1,301.9 L47.9,297.9 L55.3,294.6 L63.1,292.0 L71.1,290.1 L79.4,288.9 L87.8,288.5 L96.2,288.9 L104.5,290.1 L112.5,292.0 L120.3,294.6 L127.7,297.9 L134.5,301.9 L140.8,306.4 L146.4,311.5 L151.2,317.1 L155.3,323.1 L158.5,329.4 L160.8,336.0 L162.3,342.8 Z" fill="#d4d4d4"/><path d="M160.7,349.6 L160.2,356.3 L158.9,362.8 L156.6,369.2 L153.5,375.4 L149.5,381.2 L144.8,386.6 L139.3,391.6 L133.3,396.0 L126.6,399.9 L119.4,403.1 L111.9,405.7 L104.0,407.5 L96.0,408.6 L87.8,409.0 L79.6,408.6 L71.6,407.5 L63.7,405.7 L56.2,403.1 L49.0,399.9 L42.3,396.0 L36.3,391.6 L30.8,386.6 L26.1,381.2 L22.1,375.4 L19.0,369.2 L16.7,362.8 L15.4,356.3 L14.9,349.6 L15.4,342.9 L16.7,336.4 L19.0,330.0 L22.1,323.8 L26.1,318.0 L30.8,312.6 L36.3,307.6 L42.3,303.2 L49.0,299.3 L56.2,296.1 L63.7,293.5 L71.6,291.7 L79.6,290.6 L87.8,290.2 L96.0,290.6 L104.0,291.7 L111.9,293.5 L119.4,296.1 L126.6,299.3 L133.3,303.2 L139.3,307.6 L144.8,312.6 L149.5,318.0 L153.5,323.8 L156.6,330.0 L158.9,336.4 L160.2,342.9 Z" fill="#d2d2d2"/><path d="M158.7,349.6 L158.2,355.8 L156.9,362.1 L154.6,368.3 L151.5,374.3 L147.6,380.0 L143.0,385.3 L137.6,390.2 L131.6,394.5 L125.1,398.3 L118.1,401.5 L110.7,404.0 L103.1,405.9 L95.4,407.0 L87.8,407.4 L80.2,407.0 L72.5,405.9 L64.9,404.0 L57.5,401.5 L50.5,398.3 L44.0,394.5 L38.0,390.2 L32.6,385.3 L28.0,380.0 L24.1,374.3 L21.0,368.3 L18.7,362.1 L17.4,355.8 L16.9,349.6 L17.4,343.4 L18.7,337.1 L21.0,330.9 L24.1,324.9 L28.0,319.2 L32.6,313.9 L38.0,309.0 L44.0,304.7 L50.5,300.9 L57.5,297.7 L64.9,295.2 L72.5,293.3 L80.2,292.2 L87.8,291.8 L95.4,292.2 L103.1,293.3 L110.7,295.2 L118.1,297.7 L125.1,300.9 L131.6,304.7 L137.6,309.0 L143.0,313.9 L147.6,319.2 L151.5,324.9 L154.6,330.9 L156.9,337.1 L158.2,343.4 Z" fill="#d1d1d1"/><path d="M156.7,349.6 L156.2,355.4 L154.9,361.4 L152.6,367.3 L149.6,373.2 L145.7,378.7 L141.1,383.9 L135.8,388.7 L129.9,393.0 L123.5,396.8 L116.7,399.9 L109.6,402.4 L102.2,404.2 L94.9,405.3 L87.8,405.7 L80.7,405.3 L73.4,404.2 L66.0,402.4 L58.9,399.9 L52.1,396.8 L45.7,393.0 L39.8,388.7 L34.5,383.9 L29.9,378.7 L26.0,373.2 L23.0,367.3 L20.7,361.4 L19.4,355.4 L18.9,349.6 L19.4,343.8 L20.7,337.8 L23.0,331.9 L26.0,326.0 L29.9,320.5 L34.5,315.3 L39.8,310.5 L45.7,306.2 L52.1,302.4 L58.9,299.3 L66.0,296.8 L73.4,295.0 L80.7,293.9 L87.8,293.5 L94.9,293.9 L102.2,295.0 L109.6,296.8 L116.7,299.3 L123.5,302.4 L129.9,306.2 L135.8,310.5 L141.1,315.3 L145.7,320.5 L149.6,326.0 L152.6,331.9 L154.9,337.8 L156.2,343.8 Z" fill="#cfcfcf"/><path d="M154.6,349.6 L154.2,355.0 L152.9,360.7 L150.7,366.4 L147.6,372.1 L143.8,377.5 L139.3,382.6 L134.1,387.3 L128.3,391.6 L122.0,395.2 L115.4,398.4 L108.5,400.8 L101.4,402.6 L94.4,403.7 L87.8,404.1 L81.2,403.7 L74.2,402.6 L67.1,400.8 L60.2,398.4 L53.6,395.2 L47.3,391.6 L41.5,387.3 L36.3,382.6 L31.8,377.5 L28.0,372.1 L24.9,366.4 L22.7,360.7 L21.4,355.0 L21.0,349.6 L21.4,344.2 L22.7,338.5 L24.9,332.8 L28.0,327.1 L31.8,321.7 L36.3,316.6 L41.5,311.9 L47.3,307.6 L53.6,304.0 L60.2,300.8 L67.1,298.4 L74.2,296.6 L81.2,295.5 L87.8,295.1 L94.4,295.5 L101.4,296.6 L108.5,298.4 L115.4,300.8 L122.0,304.0 L128.3,307.6 L134.1,311.9 L139.3,316.6 L143.8,321.7 L147.6,327.1 L150.7,332.8 L152.9,338.5 L154.2,344.2 Z" fill="#cecece"/><path d="M152.6,349.6 L152.2,354.6 L150.8,360.0 L148.7,365.5 L145.7,371.0 L141.9,376.3 L137.5,381.3 L132.4,385.9 L126.7,390.1 L120.6,393.7 L114.1,396.8 L107.4,399.2 L100.6,401.0 L93.9,402.0 L87.8,402.4 L81.7,402.0 L75.0,401.0 L68.2,399.2 L61.5,396.8 L55.0,393.7 L48.9,390.1 L43.2,385.9 L38.1,381.3 L33.7,376.3 L29.9,371.0 L26.9,365.5 L24.8,360.0 L23.4,354.6 L23.0,349.6 L23.4,344.6 L24.8,339.2 L26.9,333.7 L29.9,328.2 L33.7,322.9 L38.1,317.9 L43.2,313.3 L48.9,309.1 L55.0,305.5 L61.5,302.4 L68.2,300.0 L75.0,298.2 L81.7,297.2 L87.8,296.8 L93.9,297.2 L100.6,298.2 L107.4,300.0 L114.1,302.4 L120.6,305.5 L126.7,309.1 L132.4,313.3 L137.5,317.9 L141.9,322.9 L145.7,328.2 L148.7,333.7 L150.8,339.2 L152.2,344.6 Z" fill="#cccccc"/><path d="M150.6,349.6 L150.1,354.2 L148.8,359.3 L146.7,364.7 L143.8,370.0 L140.0,375.1 L135.6,380.0 L130.6,384.5 L125.1,388.6 L119.1,392.2 L112.8,395.2 L106.3,397.6 L99.8,399.3 L93.4,400.4 L87.8,400.8 L82.2,400.4 L75.8,399.3 L69.3,397.6 L62.8,395.2 L56.5,392.2 L50.5,388.6 L45.0,384.5 L40.0,380.0 L35.6,375.1 L31.8,370.0 L28.9,364.7 L26.8,359.3 L25.5,354.2 L25.0,349.6 L25.5,345.0 L26.8,339.9 L28.9,334.5 L31.8,329.2 L35.6,324.1 L40.0,319.2 L45.0,314.7 L50.5,310.6 L56.5,307.0 L62.8,304.0 L69.3,301.6 L75.8,299.9 L82.2,298.8 L87.8,298.4 L93.4,298.8 L99.8,299.9 L106.3,301.6 L112.8,304.0 L119.1,307.0 L125.1,310.6 L130.6,314.7 L135.6,319.2 L140.0,324.1 L143.8,329.2 L146.7,334.5 L148.8,339.9 L150.1,345.0 Z" fill="#c8c8c8"/><path d="M148.6,349.6 L148.1,353.8 L146.8,358.7 L144.7,363.8 L141.8,368.9 L138.2,373.9 L133.8,378.7 L128.9,383.1 L123.5,387.1 L117.6,390.6 L111.5,393.6 L105.2,396.0 L99.0,397.7 L93.0,398.7 L87.8,399.1 L82.6,398.7 L76.6,397.7 L70.4,396.0 L64.1,393.6 L58.0,390.6 L52.1,387.1 L46.7,383.1 L41.8,378.7 L37.4,373.9 L33.8,368.9 L30.9,363.8 L28.8,358.7 L27.5,353.8 L27.0,349.6 L27.5,345.4 L28.8,340.5 L30.9,335.4 L33.8,330.3 L37.4,325.3 L41.8,320.5 L46.7,316.1 L52.1,312.1 L58.0,308.6 L64.1,305.6 L70.4,303.2 L76.6,301.5 L82.6,300.5 L87.8,300.1 L93.0,300.5 L99.0,301.5 L105.2,303.2 L111.5,305.6 L117.6,308.6 L123.5,312.1 L128.9,316.1 L133.8,320.5 L138.2,325.3 L141.8,330.3 L144.7,335.4 L146.8,340.5 L148.1,345.4 Z" fill="#c3c3c3"/><path d="M146.5,349.6 L146.1,353.4 L144.8,358.1 L142.7,363.0 L139.9,367.9 L136.3,372.7 L132.0,377.4 L127.2,381.7 L121.9,385.6 L116.2,389.1 L110.3,392.0 L104.2,394.4 L98.2,396.1 L92.5,397.1 L87.8,397.5 L83.1,397.1 L77.4,396.1 L71.4,394.4 L65.3,392.0 L59.4,389.1 L53.7,385.6 L48.4,381.7 L43.6,377.4 L39.3,372.7 L35.7,367.9 L32.9,363.0 L30.8,358.1 L29.5,353.4 L29.1,349.6 L29.5,345.8 L30.8,341.1 L32.9,336.2 L35.7,331.3 L39.3,326.5 L43.6,321.8 L48.4,317.5 L53.7,313.6 L59.4,310.1 L65.3,307.2 L71.4,304.8 L77.4,303.1 L83.1,302.1 L87.8,301.7 L92.5,302.1 L98.2,303.1 L104.2,304.8 L110.3,307.2 L116.2,310.1 L121.9,313.6 L127.2,317.5 L132.0,321.8 L136.3,326.5 L139.9,331.3 L142.7,336.2 L144.8,341.1 L146.1,345.8 Z" fill="#bfbfbf"/><path d="M144.5,349.6 L144.1,353.1 L142.8,357.5 L140.8,362.1 L138.0,366.9 L134.4,371.6 L130.2,376.1 L125.5,380.3 L120.3,384.2 L114.8,387.6 L109.0,390.5 L103.2,392.8 L97.5,394.4 L92.1,395.5 L87.8,395.8 L83.5,395.5 L78.1,394.4 L72.4,392.8 L66.6,390.5 L60.8,387.6 L55.3,384.2 L50.1,380.3 L45.4,376.1 L41.2,371.6 L37.6,366.9 L34.8,362.1 L32.8,357.5 L31.5,353.1 L31.1,349.6 L31.5,346.1 L32.8,341.7 L34.8,337.1 L37.6,332.3 L41.2,327.6 L45.4,323.1 L50.1,318.9 L55.3,315.0 L60.8,311.6 L66.6,308.7 L72.4,306.4 L78.1,304.8 L83.5,303.7 L87.8,303.4 L92.1,303.7 L97.5,304.8 L103.2,306.4 L109.0,308.7 L114.8,311.6 L120.3,315.0 L125.5,318.9 L130.2,323.1 L134.4,327.6 L138.0,332.3 L140.8,337.1 L142.8,341.7 L144.1,346.1 Z" fill="#bababa"/><path d="M142.5,349.6 L142.1,352.8 L140.8,356.9 L138.8,361.4 L136.0,365.9 L132.6,370.5 L128.5,374.8 L123.8,379.0 L118.8,382.7 L113.4,386.1 L107.8,388.9 L102.2,391.2 L96.8,392.8 L91.7,393.8 L87.8,394.2 L83.9,393.8 L78.8,392.8 L73.4,391.2 L67.8,388.9 L62.2,386.1 L56.8,382.7 L51.8,379.0 L47.1,374.8 L43.0,370.5 L39.6,365.9 L36.8,361.4 L34.8,356.9 L33.5,352.8 L33.1,349.6 L33.5,346.4 L34.8,342.3 L36.8,337.8 L39.6,333.3 L43.0,328.7 L47.1,324.4 L51.8,320.2 L56.8,316.5 L62.2,313.1 L67.8,310.3 L73.4,308.0 L78.8,306.4 L83.9,305.4 L87.8,305.0 L91.7,305.4 L96.8,306.4 L102.2,308.0 L107.8,310.3 L113.4,313.1 L118.8,316.5 L123.8,320.2 L128.5,324.4 L132.6,328.7 L136.0,333.3 L138.8,337.8 L140.8,342.3 L142.1,346.4 Z" fill="#b6b6b6"/><path d="M140.5,349.6 L140.0,352.5 L138.8,356.3 L136.8,360.6 L134.1,365.0 L130.7,369.3 L126.7,373.6 L122.2,377.6 L117.2,381.3 L112.0,384.6 L106.6,387.3 L101.3,389.6 L96.1,391.2 L91.4,392.2 L87.8,392.5 L84.2,392.2 L79.5,391.2 L74.3,389.6 L69.0,387.3 L63.6,384.6 L58.4,381.3 L53.4,377.6 L48.9,373.6 L44.9,369.3 L41.5,365.0 L38.8,360.6 L36.8,356.3 L35.6,352.5 L35.1,349.6 L35.6,346.7 L36.8,342.9 L38.8,338.6 L41.5,334.2 L44.9,329.9 L48.9,325.6 L53.4,321.6 L58.4,317.9 L63.6,314.6 L69.0,311.9 L74.3,309.6 L79.5,308.0 L84.2,307.0 L87.8,306.7 L91.4,307.0 L96.1,308.0 L101.3,309.6 L106.6,311.9 L112.0,314.6 L117.2,317.9 L122.2,321.6 L126.7,325.6 L130.7,329.9 L134.1,334.2 L136.8,338.6 L138.8,342.9 L140.0,346.7 Z" fill="#ababab"/><path d="M138.4,349.6 L138.0,352.2 L136.8,355.8 L134.9,359.8 L132.2,364.0 L128.9,368.2 L124.9,372.3 L120.5,376.3 L115.7,379.9 L110.7,383.0 L105.5,385.8 L100.3,388.0 L95.4,389.6 L91.0,390.5 L87.8,390.9 L84.6,390.5 L80.2,389.6 L75.3,388.0 L70.1,385.8 L64.9,383.0 L59.9,379.9 L55.1,376.3 L50.7,372.3 L46.7,368.2 L43.4,364.0 L40.7,359.8 L38.8,355.8 L37.6,352.2 L37.2,349.6 L37.6,347.0 L38.8,343.4 L40.7,339.4 L43.4,335.2 L46.7,331.0 L50.7,326.9 L55.1,322.9 L59.9,319.3 L64.9,316.2 L70.1,313.4 L75.3,311.2 L80.2,309.6 L84.6,308.7 L87.8,308.3 L91.0,308.7 L95.4,309.6 L100.3,311.2 L105.5,313.4 L110.7,316.2 L115.7,319.3 L120.5,322.9 L124.9,326.9 L128.9,331.0 L132.2,335.2 L134.9,339.4 L136.8,343.4 L138.0,347.0 Z" fill="#a0a0a0"/><path d="M137.2,349.6 L136.8,352.1 L135.6,355.5 L133.7,359.4 L131.0,363.5 L127.7,367.6 L123.9,371.6 L119.5,375.5 L114.8,379.0 L109.9,382.1 L104.8,384.8 L99.8,387.0 L95.0,388.6 L90.8,389.5 L87.8,389.9 L84.8,389.5 L80.6,388.6 L75.8,387.0 L70.8,384.8 L65.7,382.1 L60.8,379.0 L56.1,375.5 L51.7,371.6 L47.9,367.6 L44.6,363.5 L41.9,359.4 L40.0,355.5 L38.8,352.1 L38.4,349.6 L38.8,347.1 L40.0,343.7 L41.9,339.8 L44.6,335.7 L47.9,331.6 L51.7,327.6 L56.1,323.7 L60.8,320.2 L65.7,317.1 L70.8,314.4 L75.8,312.2 L80.6,310.6 L84.8,309.7 L87.8,309.3 L90.8,309.7 L95.0,310.6 L99.8,312.2 L104.8,314.4 L109.9,317.1 L114.8,320.2 L119.5,323.7 L123.9,327.6 L127.7,331.6 L131.0,335.7 L133.7,339.8 L135.6,343.7 L136.8,347.1 Z" fill="#999999"/><path d="M136.0,349.6 L135.6,351.9 L134.4,355.2 L132.5,358.9 L129.9,362.9 L126.6,366.9 L122.8,370.9 L118.5,374.7 L113.9,378.1 L109.1,381.2 L104.1,383.9 L99.3,386.0 L94.7,387.6 L90.6,388.6 L87.8,388.9 L85.0,388.6 L80.9,387.6 L76.3,386.0 L71.5,383.9 L66.5,381.2 L61.7,378.1 L57.1,374.7 L52.8,370.9 L49.0,366.9 L45.7,362.9 L43.1,358.9 L41.2,355.2 L40.0,351.9 L39.6,349.6 L40.0,347.3 L41.2,344.0 L43.1,340.3 L45.7,336.3 L49.0,332.3 L52.8,328.3 L57.1,324.5 L61.7,321.1 L66.5,318.0 L71.5,315.3 L76.3,313.2 L80.9,311.6 L85.0,310.6 L87.8,310.3 L90.6,310.6 L94.7,311.6 L99.3,313.2 L104.1,315.3 L109.1,318.0 L113.9,321.1 L118.5,324.5 L122.8,328.3 L126.6,332.3 L129.9,336.3 L132.5,340.3 L134.4,344.0 L135.6,347.3 Z" fill="#929292"/><path d="M134.8,349.6 L134.4,351.7 L133.2,354.9 L131.3,358.5 L128.8,362.4 L125.5,366.3 L121.8,370.2 L117.6,373.9 L113.0,377.3 L108.3,380.4 L103.5,383.0 L98.7,385.1 L94.3,386.6 L90.4,387.6 L87.8,387.9 L85.2,387.6 L81.3,386.6 L76.9,385.1 L72.1,383.0 L67.3,380.4 L62.6,377.3 L58.0,373.9 L53.8,370.2 L50.1,366.3 L46.8,362.4 L44.3,358.5 L42.4,354.9 L41.2,351.7 L40.8,349.6 L41.2,347.5 L42.4,344.3 L44.3,340.7 L46.8,336.8 L50.1,332.9 L53.8,329.0 L58.0,325.3 L62.6,321.9 L67.3,318.8 L72.1,316.2 L76.9,314.1 L81.3,312.6 L85.2,311.6 L87.8,311.3 L90.4,311.6 L94.3,312.6 L98.7,314.1 L103.5,316.2 L108.3,318.8 L113.0,321.9 L117.6,325.3 L121.8,329.0 L125.5,332.9 L128.8,336.8 L131.3,340.7 L133.2,344.3 L134.4,347.5 Z" fill="#868686"/><path d="M133.6,349.6 L133.2,351.6 L132.0,354.6 L130.2,358.1 L127.6,361.8 L124.4,365.7 L120.7,369.4 L116.6,373.1 L112.2,376.4 L107.5,379.5 L102.8,382.0 L98.2,384.1 L94.0,385.6 L90.3,386.6 L87.8,386.9 L85.3,386.6 L81.6,385.6 L77.4,384.1 L72.8,382.0 L68.1,379.5 L63.4,376.4 L59.0,373.1 L54.9,369.4 L51.2,365.7 L48.0,361.8 L45.4,358.1 L43.6,354.6 L42.4,351.6 L42.0,349.6 L42.4,347.6 L43.6,344.6 L45.4,341.1 L48.0,337.4 L51.2,333.5 L54.9,329.8 L59.0,326.1 L63.4,322.8 L68.1,319.7 L72.8,317.2 L77.4,315.1 L81.6,313.6 L85.3,312.6 L87.8,312.3 L90.3,312.6 L94.0,313.6 L98.2,315.1 L102.8,317.2 L107.5,319.7 L112.2,322.8 L116.6,326.1 L120.7,329.8 L124.4,333.5 L127.6,337.4 L130.2,341.1 L132.0,344.6 L133.2,347.6 Z" fill="#777777"/><path d="M132.4,349.6 L132.0,351.5 L130.8,354.3 L129.0,357.7 L126.5,361.3 L123.4,365.0 L119.7,368.7 L115.6,372.3 L111.3,375.6 L106.7,378.6 L102.2,381.1 L97.7,383.2 L93.6,384.7 L90.1,385.6 L87.8,385.9 L85.5,385.6 L82.0,384.7 L77.9,383.2 L73.4,381.1 L68.9,378.6 L64.3,375.6 L60.0,372.3 L55.9,368.7 L52.2,365.0 L49.1,361.3 L46.6,357.7 L44.8,354.3 L43.6,351.5 L43.2,349.6 L43.6,347.7 L44.8,344.9 L46.6,341.5 L49.1,337.9 L52.2,334.2 L55.9,330.5 L60.0,326.9 L64.3,323.6 L68.9,320.6 L73.4,318.1 L77.9,316.0 L82.0,314.5 L85.5,313.6 L87.8,313.3 L90.1,313.6 L93.6,314.5 L97.7,316.0 L102.2,318.1 L106.7,320.6 L111.3,323.6 L115.6,326.9 L119.7,330.5 L123.4,334.2 L126.5,337.9 L129.0,341.5 L130.8,344.9 L132.0,347.7 Z" fill="#696969"/><path d="M131.1,349.6 L130.8,351.3 L129.6,354.1 L127.8,357.3 L125.3,360.8 L122.3,364.4 L118.7,368.0 L114.7,371.5 L110.4,374.8 L106.0,377.7 L101.5,380.2 L97.2,382.2 L93.3,383.7 L89.9,384.6 L87.8,384.9 L85.7,384.6 L82.3,383.7 L78.4,382.2 L74.1,380.2 L69.6,377.7 L65.2,374.8 L60.9,371.5 L56.9,368.0 L53.3,364.4 L50.3,360.8 L47.8,357.3 L46.0,354.1 L44.8,351.3 L44.5,349.6 L44.8,347.9 L46.0,345.1 L47.8,341.9 L50.3,338.4 L53.3,334.8 L56.9,331.2 L60.9,327.7 L65.2,324.4 L69.6,321.5 L74.1,319.0 L78.4,317.0 L82.3,315.5 L85.7,314.6 L87.8,314.3 L89.9,314.6 L93.3,315.5 L97.2,317.0 L101.5,319.0 L106.0,321.5 L110.4,324.4 L114.7,327.7 L118.7,331.2 L122.3,334.8 L125.3,338.4 L127.8,341.9 L129.6,345.1 L130.8,347.9 Z" fill="#5a5a5a"/><path d="M129.9,349.6 L129.6,351.2 L128.5,353.8 L126.7,356.9 L124.2,360.3 L121.2,363.8 L117.7,367.3 L113.7,370.7 L109.6,373.9 L105.2,376.8 L100.9,379.3 L96.7,381.3 L92.9,382.7 L89.8,383.6 L87.8,383.9 L85.8,383.6 L82.7,382.7 L78.9,381.3 L74.7,379.3 L70.4,376.8 L66.0,373.9 L61.9,370.7 L57.9,367.3 L54.4,363.8 L51.4,360.3 L48.9,356.9 L47.1,353.8 L46.0,351.2 L45.7,349.6 L46.0,348.0 L47.1,345.4 L48.9,342.3 L51.4,338.9 L54.4,335.4 L57.9,331.9 L61.9,328.5 L66.0,325.3 L70.4,322.4 L74.7,319.9 L78.9,317.9 L82.7,316.5 L85.8,315.6 L87.8,315.3 L89.8,315.6 L92.9,316.5 L96.7,317.9 L100.9,319.9 L105.2,322.4 L109.6,325.3 L113.7,328.5 L117.7,331.9 L121.2,335.4 L124.2,338.9 L126.7,342.3 L128.5,345.4 L129.6,348.0 Z" fill="#464646"/><path d="M128.7,349.6 L128.3,351.1 L127.3,353.5 L125.5,356.5 L123.1,359.8 L120.1,363.2 L116.6,366.6 L112.8,370.0 L108.7,373.1 L104.5,375.9 L100.3,378.3 L96.3,380.3 L92.6,381.7 L89.6,382.6 L87.8,382.9 L86.0,382.6 L83.0,381.7 L79.3,380.3 L75.3,378.3 L71.1,375.9 L66.9,373.1 L62.8,370.0 L59.0,366.6 L55.5,363.2 L52.5,359.8 L50.1,356.5 L48.3,353.5 L47.3,351.1 L46.9,349.6 L47.3,348.1 L48.3,345.7 L50.1,342.7 L52.5,339.4 L55.5,336.0 L59.0,332.6 L62.8,329.2 L66.9,326.1 L71.1,323.3 L75.3,320.9 L79.3,318.9 L83.0,317.5 L86.0,316.6 L87.8,316.3 L89.6,316.6 L92.6,317.5 L96.3,318.9 L100.3,320.9 L104.5,323.3 L108.7,326.1 L112.8,329.2 L116.6,332.6 L120.1,336.0 L123.1,339.4 L125.5,342.7 L127.3,345.7 L128.3,348.1 Z" fill="#303030"/><path d="M127.5,349.6 L127.2,351.0 L126.1,353.4 L124.4,356.3 L122.0,359.4 L119.1,362.8 L115.8,366.1 L112.0,369.3 L108.1,372.4 L104.0,375.1 L99.9,377.5 L96.0,379.4 L92.5,380.8 L89.6,381.7 L87.8,382.0 L86.1,381.7 L83.2,380.8 L79.7,379.4 L75.8,377.5 L71.7,375.1 L67.6,372.4 L63.6,369.3 L59.9,366.1 L56.5,362.8 L53.6,359.4 L51.3,356.3 L49.6,353.4 L48.5,351.0 L48.1,349.6 L48.5,348.2 L49.6,345.9 L51.3,343.0 L53.6,339.8 L56.5,336.5 L59.9,333.2 L63.6,329.9 L67.6,326.9 L71.7,324.1 L75.8,321.8 L79.7,319.9 L83.2,318.4 L86.1,317.6 L87.8,317.3 L89.6,317.6 L92.5,318.4 L96.0,319.9 L99.9,321.8 L104.0,324.1 L108.1,326.9 L112.0,329.9 L115.8,333.2 L119.1,336.5 L122.0,339.8 L124.4,343.0 L126.1,345.9 L127.2,348.2 Z" fill="#191919"/><path d="M126.4,349.7 L126.0,351.0 L125.0,353.3 L123.3,356.1 L121.0,359.2 L118.2,362.4 L115.0,365.6 L111.4,368.8 L107.5,371.7 L103.5,374.4 L99.6,376.7 L95.8,378.5 L92.4,379.9 L89.6,380.7 L87.9,381.0 L86.2,380.7 L83.4,379.9 L80.0,378.5 L76.2,376.7 L72.3,374.4 L68.3,371.7 L64.4,368.8 L60.8,365.6 L57.6,362.4 L54.8,359.2 L52.5,356.1 L50.8,353.3 L49.8,351.0 L49.4,349.7 L49.8,348.3 L50.8,346.0 L52.5,343.2 L54.8,340.2 L57.6,336.9 L60.8,333.7 L64.4,330.6 L68.3,327.6 L72.3,325.0 L76.2,322.7 L80.0,320.8 L83.4,319.4 L86.2,318.6 L87.9,318.3 L89.6,318.6 L92.4,319.4 L95.8,320.8 L99.6,322.7 L103.5,325.0 L107.5,327.6 L111.4,330.6 L115.0,333.7 L118.2,336.9 L121.0,340.2 L123.3,343.2 L125.0,346.0 L126.0,348.3 Z" fill="#0f0f0f"/><path d="M125.2,349.7 L124.9,351.0 L123.9,353.3 L122.3,356.0 L120.1,358.9 L117.3,362.0 L114.2,365.2 L110.7,368.2 L106.9,371.1 L103.1,373.7 L99.3,375.9 L95.6,377.7 L92.3,379.0 L89.6,379.8 L88.0,380.1 L86.3,379.8 L83.6,379.0 L80.3,377.7 L76.7,375.9 L72.8,373.7 L69.0,371.1 L65.2,368.2 L61.7,365.2 L58.6,362.0 L55.9,358.9 L53.7,356.0 L52.0,353.3 L51.0,351.0 L50.7,349.7 L51.0,348.4 L52.0,346.2 L53.7,343.5 L55.9,340.5 L58.6,337.4 L61.7,334.3 L65.2,331.2 L69.0,328.4 L72.8,325.8 L76.7,323.6 L80.3,321.8 L83.6,320.4 L86.3,319.6 L88.0,319.4 L89.6,319.6 L92.3,320.4 L95.6,321.8 L99.3,323.6 L103.1,325.8 L106.9,328.4 L110.7,331.2 L114.2,334.3 L117.3,337.4 L120.1,340.5 L122.3,343.5 L123.9,346.2 L124.9,348.4 Z" fill="#0a0a0a"/><path d="M124.1,349.8 L123.7,351.1 L122.8,353.2 L121.2,355.8 L119.1,358.7 L116.4,361.7 L113.4,364.7 L110.0,367.7 L106.4,370.4 L102.7,372.9 L99.0,375.1 L95.4,376.8 L92.2,378.1 L89.6,378.9 L88.0,379.1 L86.4,378.9 L83.8,378.1 L80.6,376.8 L77.1,375.1 L73.4,372.9 L69.7,370.4 L66.1,367.7 L62.7,364.7 L59.6,361.7 L57.0,358.7 L54.8,355.8 L53.3,353.2 L52.3,351.1 L52.0,349.8 L52.3,348.5 L53.3,346.3 L54.8,343.7 L57.0,340.9 L59.6,337.8 L62.7,334.8 L66.1,331.9 L69.7,329.1 L73.4,326.6 L77.1,324.5 L80.6,322.7 L83.8,321.4 L86.4,320.7 L88.0,320.4 L89.6,320.7 L92.2,321.4 L95.4,322.7 L99.0,324.5 L102.7,326.6 L106.4,329.1 L110.0,331.9 L113.4,334.8 L116.4,337.8 L119.1,340.9 L121.2,343.7 L122.8,346.3 L123.7,348.5 Z" fill="#050505"/><path d="M122.9,349.8 L122.6,351.1 L121.7,353.1 L120.2,355.6 L118.1,358.4 L115.5,361.3 L112.6,364.3 L109.3,367.1 L105.8,369.8 L102.2,372.2 L98.6,374.3 L95.2,375.9 L92.2,377.2 L89.6,377.9 L88.1,378.2 L86.6,377.9 L84.0,377.2 L80.9,375.9 L77.5,374.3 L73.9,372.2 L70.3,369.8 L66.9,367.1 L63.6,364.3 L60.6,361.3 L58.1,358.4 L56.0,355.6 L54.5,353.1 L53.6,351.1 L53.2,349.8 L53.6,348.6 L54.5,346.5 L56.0,344.0 L58.1,341.2 L60.6,338.3 L63.6,335.4 L66.9,332.5 L70.3,329.8 L73.9,327.4 L77.5,325.4 L80.9,323.7 L84.0,322.4 L86.6,321.7 L88.1,321.4 L89.6,321.7 L92.2,322.4 L95.2,323.7 L98.6,325.4 L102.2,327.4 L105.8,329.8 L109.3,332.5 L112.6,335.4 L115.5,338.3 L118.1,341.2 L120.2,344.0 L121.7,346.5 L122.6,348.6 Z" fill="#000000"/><path d="M121.8,349.9 L121.5,351.1 L120.6,353.1 L119.1,355.5 L117.1,358.2 L114.6,361.0 L111.8,363.8 L108.6,366.5 L105.3,369.1 L101.8,371.5 L98.3,373.5 L95.0,375.1 L92.1,376.3 L89.6,377.0 L88.1,377.2 L86.7,377.0 L84.2,376.3 L81.2,375.1 L77.9,373.5 L74.5,371.5 L71.0,369.1 L67.7,366.5 L64.5,363.8 L61.6,361.0 L59.2,358.2 L57.2,355.5 L55.7,353.1 L54.8,351.1 L54.5,349.9 L54.8,348.7 L55.7,346.7 L57.2,344.2 L59.2,341.5 L61.6,338.7 L64.5,335.9 L67.7,333.2 L71.0,330.6 L74.5,328.3 L77.9,326.3 L81.2,324.6 L84.2,323.4 L86.7,322.7 L88.1,322.5 L89.6,322.7 L92.1,323.4 L95.0,324.6 L98.3,326.3 L101.8,328.3 L105.3,330.6 L108.6,333.2 L111.8,335.9 L114.6,338.7 L117.1,341.5 L119.1,344.2 L120.6,346.7 L121.5,348.7 Z" fill="#0c0000"/><path d="M120.6,349.9 L120.3,351.1 L119.4,353.0 L118.0,355.3 L116.1,357.9 L113.7,360.6 L111.0,363.3 L107.9,366.0 L104.7,368.5 L101.4,370.7 L98.0,372.6 L94.9,374.2 L92.0,375.4 L89.6,376.1 L88.2,376.3 L86.8,376.1 L84.4,375.4 L81.5,374.2 L78.4,372.6 L75.0,370.7 L71.7,368.5 L68.5,366.0 L65.4,363.3 L62.7,360.6 L60.3,357.9 L58.4,355.3 L57.0,353.0 L56.1,351.1 L55.8,349.9 L56.1,348.7 L57.0,346.8 L58.4,344.5 L60.3,341.9 L62.7,339.2 L65.4,336.5 L68.5,333.8 L71.7,331.3 L75.0,329.1 L78.4,327.2 L81.5,325.6 L84.4,324.4 L86.8,323.7 L88.2,323.5 L89.6,323.7 L92.0,324.4 L94.9,325.6 L98.0,327.2 L101.4,329.1 L104.7,331.3 L107.9,333.8 L111.0,336.5 L113.7,339.2 L116.1,341.9 L118.0,344.5 L119.4,346.8 L120.3,348.7 Z" fill="#180000"/><path d="M119.4,349.9 L119.2,351.1 L118.3,352.9 L117.0,355.2 L115.1,357.7 L112.8,360.3 L110.2,362.9 L107.3,365.4 L104.1,367.8 L100.9,370.0 L97.7,371.8 L94.7,373.3 L91.9,374.4 L89.6,375.1 L88.3,375.4 L86.9,375.1 L84.6,374.4 L81.9,373.3 L78.8,371.8 L75.6,370.0 L72.4,367.8 L69.3,365.4 L66.3,362.9 L63.7,360.3 L61.4,357.7 L59.5,355.2 L58.2,352.9 L57.4,351.1 L57.1,349.9 L57.4,348.8 L58.2,347.0 L59.5,344.7 L61.4,342.2 L63.7,339.6 L66.3,337.0 L69.3,334.5 L72.4,332.1 L75.6,329.9 L78.8,328.1 L81.9,326.5 L84.6,325.4 L86.9,324.8 L88.3,324.5 L89.6,324.8 L91.9,325.4 L94.7,326.5 L97.7,328.1 L100.9,329.9 L104.1,332.1 L107.3,334.5 L110.2,337.0 L112.8,339.6 L115.1,342.2 L117.0,344.7 L118.3,347.0 L119.2,348.8 Z" fill="#240000"/><path d="M118.3,350.0 L118.0,351.1 L117.2,352.8 L115.9,355.0 L114.1,357.4 L111.9,359.9 L109.4,362.4 L106.6,364.9 L103.6,367.2 L100.5,369.2 L97.4,371.0 L94.5,372.5 L91.8,373.5 L89.6,374.2 L88.3,374.4 L87.0,374.2 L84.8,373.5 L82.2,372.5 L79.2,371.0 L76.2,369.2 L73.1,367.2 L70.1,364.9 L67.2,362.4 L64.7,359.9 L62.5,357.4 L60.7,355.0 L59.4,352.8 L58.6,351.1 L58.3,350.0 L58.6,348.9 L59.4,347.1 L60.7,345.0 L62.5,342.6 L64.7,340.1 L67.2,337.6 L70.1,335.1 L73.1,332.8 L76.2,330.7 L79.2,329.0 L82.2,327.5 L84.8,326.4 L87.0,325.8 L88.3,325.6 L89.6,325.8 L91.8,326.4 L94.5,327.5 L97.4,329.0 L100.5,330.7 L103.6,332.8 L106.6,335.1 L109.4,337.6 L111.9,340.1 L114.1,342.6 L115.9,345.0 L117.2,347.1 L118.0,348.9 Z" fill="#360101"/><path d="M117.1,350.0 L116.9,351.1 L116.1,352.8 L114.9,354.8 L113.2,357.1 L111.1,359.5 L108.6,362.0 L105.9,364.3 L103.0,366.5 L100.1,368.5 L97.1,370.2 L94.3,371.6 L91.7,372.6 L89.6,373.3 L88.4,373.5 L87.1,373.3 L85.0,372.6 L82.5,371.6 L79.7,370.2 L76.7,368.5 L73.7,366.5 L70.9,364.3 L68.1,362.0 L65.7,359.5 L63.6,357.1 L61.9,354.8 L60.6,352.8 L59.9,351.1 L59.6,350.0 L59.9,349.0 L60.6,347.3 L61.9,345.2 L63.6,342.9 L65.7,340.5 L68.1,338.1 L70.9,335.8 L73.7,333.6 L76.7,331.6 L79.7,329.8 L82.5,328.5 L85.0,327.4 L87.1,326.8 L88.4,326.6 L89.6,326.8 L91.7,327.4 L94.3,328.5 L97.1,329.8 L100.1,331.6 L103.0,333.6 L105.9,335.8 L108.6,338.1 L111.1,340.5 L113.2,342.9 L114.9,345.2 L116.1,347.3 L116.9,349.0 Z" fill="#4a0302"/><path d="M116.0,350.1 L115.7,351.1 L115.0,352.7 L113.8,354.7 L112.2,356.9 L110.2,359.2 L107.8,361.5 L105.2,363.8 L102.5,365.9 L99.6,367.8 L96.8,369.4 L94.1,370.7 L91.7,371.7 L89.6,372.3 L88.4,372.5 L87.2,372.3 L85.2,371.7 L82.8,370.7 L80.1,369.4 L77.3,367.8 L74.4,365.9 L71.7,363.8 L69.1,361.5 L66.7,359.2 L64.7,356.9 L63.1,354.7 L61.9,352.7 L61.1,351.1 L60.9,350.1 L61.1,349.1 L61.9,347.5 L63.1,345.5 L64.7,343.3 L66.7,341.0 L69.1,338.7 L71.7,336.4 L74.4,334.3 L77.3,332.4 L80.1,330.7 L82.8,329.4 L85.2,328.4 L87.2,327.8 L88.4,327.6 L89.6,327.8 L91.7,328.4 L94.1,329.4 L96.8,330.7 L99.6,332.4 L102.5,334.3 L105.2,336.4 L107.8,338.7 L110.2,341.0 L112.2,343.3 L113.8,345.5 L115.0,347.5 L115.7,349.1 Z" fill="#5f0504"/><path d="M114.8,350.1 L114.6,351.1 L113.9,352.6 L112.7,354.5 L111.2,356.6 L109.3,358.8 L107.0,361.0 L104.5,363.2 L101.9,365.2 L99.2,367.0 L96.5,368.6 L93.9,369.9 L91.6,370.8 L89.7,371.4 L88.5,371.6 L87.3,371.4 L85.4,370.8 L83.1,369.9 L80.5,368.6 L77.8,367.0 L75.1,365.2 L72.5,363.2 L70.0,361.0 L67.7,358.8 L65.8,356.6 L64.3,354.5 L63.1,352.6 L62.4,351.1 L62.2,350.1 L62.4,349.2 L63.1,347.6 L64.3,345.7 L65.8,343.6 L67.7,341.4 L70.0,339.2 L72.5,337.1 L75.1,335.0 L77.8,333.2 L80.5,331.6 L83.1,330.4 L85.4,329.4 L87.3,328.9 L88.5,328.7 L89.7,328.9 L91.6,329.4 L93.9,330.4 L96.5,331.6 L99.2,333.2 L101.9,335.0 L104.5,337.1 L107.0,339.2 L109.3,341.4 L111.2,343.6 L112.7,345.7 L113.9,347.6 L114.6,349.2 Z" fill="#730705"/><path d="M113.7,350.2 L113.4,351.1 L112.8,352.6 L111.7,354.4 L110.2,356.4 L108.4,358.5 L106.2,360.6 L103.9,362.6 L101.3,364.6 L98.8,366.3 L96.2,367.8 L93.7,369.0 L91.5,369.9 L89.7,370.4 L88.6,370.6 L87.5,370.4 L85.6,369.9 L83.4,369.0 L80.9,367.8 L78.4,366.3 L75.8,364.6 L73.3,362.6 L70.9,360.6 L68.8,358.5 L66.9,356.4 L65.4,354.4 L64.3,352.6 L63.7,351.1 L63.4,350.2 L63.7,349.3 L64.3,347.8 L65.4,346.0 L66.9,344.0 L68.8,341.9 L70.9,339.8 L73.3,337.7 L75.8,335.8 L78.4,334.0 L80.9,332.5 L83.4,331.3 L85.6,330.4 L87.5,329.9 L88.6,329.7 L89.7,329.9 L91.5,330.4 L93.7,331.3 L96.2,332.5 L98.8,334.0 L101.3,335.8 L103.9,337.7 L106.2,339.8 L108.4,341.9 L110.2,344.0 L111.7,346.0 L112.8,347.8 L113.4,349.3 Z" fill="#840a07"/><path d="M112.5,350.2 L112.3,351.1 L111.7,352.5 L110.6,354.2 L109.2,356.1 L107.5,358.1 L105.4,360.1 L103.2,362.1 L100.8,363.9 L98.3,365.6 L95.9,367.0 L93.5,368.1 L91.4,369.0 L89.7,369.5 L88.6,369.7 L87.6,369.5 L85.8,369.0 L83.7,368.1 L81.4,367.0 L78.9,365.6 L76.5,363.9 L74.1,362.1 L71.8,360.1 L69.8,358.1 L68.0,356.1 L66.6,354.2 L65.6,352.5 L64.9,351.1 L64.7,350.2 L64.9,349.4 L65.6,347.9 L66.6,346.2 L68.0,344.3 L69.8,342.3 L71.8,340.3 L74.1,338.3 L76.5,336.5 L78.9,334.9 L81.4,333.4 L83.7,332.3 L85.8,331.4 L87.6,330.9 L88.6,330.7 L89.7,330.9 L91.4,331.4 L93.5,332.3 L95.9,333.4 L98.3,334.9 L100.8,336.5 L103.2,338.3 L105.4,340.3 L107.5,342.3 L109.2,344.3 L110.6,346.2 L111.7,347.9 L112.3,349.4 Z" fill="#940d08"/><path d="M111.4,350.3 L111.2,351.1 L110.6,352.4 L109.6,354.1 L108.2,355.9 L106.6,357.8 L104.6,359.7 L102.5,361.5 L100.2,363.3 L97.9,364.8 L95.6,366.2 L93.3,367.3 L91.3,368.1 L89.7,368.6 L88.7,368.7 L87.7,368.6 L86.0,368.1 L84.0,367.3 L81.8,366.2 L79.5,364.8 L77.1,363.3 L74.9,361.5 L72.7,359.7 L70.8,357.8 L69.1,355.9 L67.8,354.1 L66.8,352.4 L66.2,351.1 L66.0,350.3 L66.2,349.5 L66.8,348.1 L67.8,346.5 L69.1,344.7 L70.8,342.8 L72.7,340.8 L74.9,339.0 L77.1,337.3 L79.5,335.7 L81.8,334.3 L84.0,333.2 L86.0,332.4 L87.7,331.9 L88.7,331.8 L89.7,331.9 L91.3,332.4 L93.3,333.2 L95.6,334.3 L97.9,335.7 L100.2,337.3 L102.5,339.0 L104.6,340.8 L106.6,342.8 L108.2,344.7 L109.6,346.5 L110.6,348.1 L111.2,349.5 Z" fill="#a31009"/><path d="M110.2,350.3 L110.0,351.1 L109.4,352.3 L108.5,353.9 L107.2,355.6 L105.7,357.4 L103.8,359.2 L101.8,361.0 L99.7,362.6 L97.5,364.1 L95.3,365.4 L93.1,366.4 L91.2,367.2 L89.7,367.6 L88.7,367.8 L87.8,367.6 L86.2,367.2 L84.3,366.4 L82.2,365.4 L80.0,364.1 L77.8,362.6 L75.7,361.0 L73.6,359.2 L71.8,357.4 L70.2,355.6 L69.0,353.9 L68.0,352.3 L67.5,351.1 L67.3,350.3 L67.5,349.5 L68.0,348.3 L69.0,346.7 L70.2,345.0 L71.8,343.2 L73.6,341.4 L75.7,339.6 L77.8,338.0 L80.0,336.5 L82.2,335.2 L84.3,334.2 L86.2,333.4 L87.8,333.0 L88.7,332.8 L89.7,333.0 L91.2,333.4 L93.1,334.2 L95.3,335.2 L97.5,336.5 L99.7,338.0 L101.8,339.6 L103.8,341.4 L105.7,343.2 L107.2,345.0 L108.5,346.7 L109.4,348.3 L110.0,349.5 Z" fill="#b3130a"/><path d="M109.1,350.4 L108.9,351.1 L108.3,352.3 L107.4,353.7 L106.2,355.4 L104.8,357.0 L103.0,358.8 L101.1,360.4 L99.1,362.0 L97.0,363.4 L94.9,364.6 L93.0,365.5 L91.2,366.3 L89.7,366.7 L88.8,366.9 L87.9,366.7 L86.4,366.3 L84.6,365.5 L82.7,364.6 L80.6,363.4 L78.5,362.0 L76.5,360.4 L74.6,358.8 L72.8,357.0 L71.4,355.4 L70.2,353.7 L69.3,352.3 L68.7,351.1 L68.5,350.4 L68.7,349.6 L69.3,348.4 L70.2,347.0 L71.4,345.3 L72.8,343.7 L74.6,341.9 L76.5,340.3 L78.5,338.7 L80.6,337.3 L82.7,336.1 L84.6,335.2 L86.4,334.4 L87.9,334.0 L88.8,333.8 L89.7,334.0 L91.2,334.4 L93.0,335.2 L94.9,336.1 L97.0,337.3 L99.1,338.7 L101.1,340.3 L103.0,341.9 L104.8,343.7 L106.2,345.3 L107.4,347.0 L108.3,348.4 L108.9,349.6 Z" fill="#be160b"/><path d="M107.9,350.4 L107.7,351.1 L107.2,352.2 L106.4,353.6 L105.3,355.1 L103.9,356.7 L102.3,358.3 L100.5,359.8 L98.6,361.3 L96.6,362.6 L94.6,363.8 L92.8,364.7 L91.1,365.4 L89.7,365.8 L88.9,365.9 L88.0,365.8 L86.6,365.4 L84.9,364.7 L83.1,363.8 L81.1,362.6 L79.2,361.3 L77.3,359.8 L75.5,358.3 L73.9,356.7 L72.5,355.1 L71.3,353.6 L70.5,352.2 L70.0,351.1 L69.8,350.4 L70.0,349.7 L70.5,348.6 L71.3,347.2 L72.5,345.7 L73.9,344.1 L75.5,342.5 L77.3,340.9 L79.2,339.5 L81.1,338.2 L83.1,337.0 L84.9,336.1 L86.6,335.4 L88.0,335.0 L88.9,334.9 L89.7,335.0 L91.1,335.4 L92.8,336.1 L94.6,337.0 L96.6,338.2 L98.6,339.5 L100.5,340.9 L102.3,342.5 L103.9,344.1 L105.3,345.7 L106.4,347.2 L107.2,348.6 L107.7,349.7 Z" fill="#c7180c"/><path d="M106.7,350.4 L106.6,351.1 L106.1,352.1 L105.3,353.4 L104.3,354.8 L103.0,356.3 L101.5,357.8 L99.8,359.3 L98.0,360.7 L96.2,361.9 L94.3,363.0 L92.6,363.8 L91.0,364.4 L89.7,364.8 L88.9,365.0 L88.1,364.8 L86.8,364.4 L85.3,363.8 L83.5,363.0 L81.7,361.9 L79.8,360.7 L78.1,359.3 L76.4,357.8 L74.9,356.3 L73.6,354.8 L72.5,353.4 L71.7,352.1 L71.3,351.1 L71.1,350.4 L71.3,349.8 L71.7,348.7 L72.5,347.5 L73.6,346.0 L74.9,344.5 L76.4,343.0 L78.1,341.6 L79.8,340.2 L81.7,339.0 L83.5,337.9 L85.3,337.1 L86.8,336.4 L88.1,336.1 L88.9,335.9 L89.7,336.1 L91.0,336.4 L92.6,337.1 L94.3,337.9 L96.2,339.0 L98.0,340.2 L99.8,341.6 L101.5,343.0 L103.0,344.5 L104.3,346.0 L105.3,347.5 L106.1,348.7 L106.6,349.8 Z" fill="#d01b0e"/><path d="M105.6,350.5 L105.4,351.1 L105.0,352.1 L104.3,353.3 L103.3,354.6 L102.1,356.0 L100.7,357.4 L99.1,358.7 L97.4,360.0 L95.7,361.2 L94.0,362.1 L92.4,362.9 L90.9,363.5 L89.7,363.9 L89.0,364.0 L88.3,363.9 L87.0,363.5 L85.6,362.9 L83.9,362.1 L82.2,361.2 L80.5,360.0 L78.9,358.7 L77.3,357.4 L75.9,356.0 L74.7,354.6 L73.7,353.3 L73.0,352.1 L72.5,351.1 L72.4,350.5 L72.5,349.9 L73.0,348.9 L73.7,347.7 L74.7,346.4 L75.9,345.0 L77.3,343.6 L78.9,342.2 L80.5,341.0 L82.2,339.8 L83.9,338.8 L85.6,338.0 L87.0,337.4 L88.3,337.1 L89.0,337.0 L89.7,337.1 L90.9,337.4 L92.4,338.0 L94.0,338.8 L95.7,339.8 L97.4,341.0 L99.1,342.2 L100.7,343.6 L102.1,345.0 L103.3,346.4 L104.3,347.7 L105.0,348.9 L105.4,349.9 Z" fill="#d91d0f"/><path d="M104.4,350.5 L104.3,351.1 L103.9,352.0 L103.2,353.1 L102.3,354.3 L101.2,355.6 L99.9,356.9 L98.4,358.2 L96.9,359.4 L95.3,360.4 L93.7,361.3 L92.2,362.1 L90.8,362.6 L89.7,363.0 L89.0,363.1 L88.4,363.0 L87.2,362.6 L85.9,362.1 L84.4,361.3 L82.8,360.4 L81.2,359.4 L79.7,358.2 L78.2,356.9 L76.9,355.6 L75.8,354.3 L74.9,353.1 L74.2,352.0 L73.8,351.1 L73.6,350.5 L73.8,350.0 L74.2,349.1 L74.9,348.0 L75.8,346.7 L76.9,345.4 L78.2,344.1 L79.7,342.9 L81.2,341.7 L82.8,340.6 L84.4,339.7 L85.9,339.0 L87.2,338.4 L88.4,338.1 L89.0,338.0 L89.7,338.1 L90.8,338.4 L92.2,339.0 L93.7,339.7 L95.3,340.6 L96.9,341.7 L98.4,342.9 L99.9,344.1 L101.2,345.4 L102.3,346.7 L103.2,348.0 L103.9,349.1 L104.3,350.0 Z" fill="#dd1e10"/><path d="M103.3,350.6 L103.1,351.1 L102.8,351.9 L102.2,352.9 L101.3,354.1 L100.3,355.3 L99.1,356.5 L97.7,357.6 L96.3,358.7 L94.9,359.7 L93.4,360.5 L92.0,361.2 L90.8,361.7 L89.7,362.0 L89.1,362.1 L88.5,362.0 L87.4,361.7 L86.2,361.2 L84.8,360.5 L83.3,359.7 L81.9,358.7 L80.5,357.6 L79.1,356.5 L77.9,355.3 L76.9,354.1 L76.0,352.9 L75.4,351.9 L75.1,351.1 L74.9,350.6 L75.1,350.1 L75.4,349.2 L76.0,348.2 L76.9,347.1 L77.9,345.9 L79.1,344.7 L80.5,343.5 L81.9,342.4 L83.3,341.5 L84.8,340.6 L86.2,339.9 L87.4,339.4 L88.5,339.1 L89.1,339.0 L89.7,339.1 L90.8,339.4 L92.0,339.9 L93.4,340.6 L94.9,341.5 L96.3,342.4 L97.7,343.5 L99.1,344.7 L100.3,345.9 L101.3,347.1 L102.2,348.2 L102.8,349.2 L103.1,350.1 Z" fill="#de1f10"/><path d="M102.1,350.6 L102.0,351.1 L101.7,351.9 L101.1,352.8 L100.3,353.8 L99.4,354.9 L98.3,356.0 L97.1,357.1 L95.8,358.0 L94.4,358.9 L93.1,359.7 L91.8,360.3 L90.7,360.8 L89.7,361.1 L89.2,361.2 L88.6,361.1 L87.6,360.8 L86.5,360.3 L85.2,359.7 L83.9,358.9 L82.6,358.0 L81.3,357.1 L80.0,356.0 L78.9,354.9 L78.0,353.8 L77.2,352.8 L76.7,351.9 L76.3,351.1 L76.2,350.6 L76.3,350.2 L76.7,349.4 L77.2,348.5 L78.0,347.4 L78.9,346.3 L80.0,345.2 L81.3,344.2 L82.6,343.2 L83.9,342.3 L85.2,341.5 L86.5,340.9 L87.6,340.4 L88.6,340.2 L89.2,340.1 L89.7,340.2 L90.7,340.4 L91.8,340.9 L93.1,341.5 L94.4,342.3 L95.8,343.2 L97.1,344.2 L98.3,345.2 L99.4,346.3 L100.3,347.4 L101.1,348.5 L101.7,349.4 L102.0,350.2 Z" fill="#df2011"/><path d="M101.0,350.7 L100.9,351.1 L100.5,351.8 L100.0,352.6 L99.3,353.6 L98.5,354.6 L97.5,355.5 L96.4,356.5 L95.2,357.4 L94.0,358.2 L92.8,358.9 L91.6,359.5 L90.6,359.9 L89.7,360.1 L89.2,360.2 L88.7,360.1 L87.8,359.9 L86.8,359.5 L85.7,358.9 L84.5,358.2 L83.2,357.4 L82.1,356.5 L81.0,355.5 L80.0,354.6 L79.1,353.6 L78.4,352.6 L77.9,351.8 L77.6,351.1 L77.5,350.7 L77.6,350.2 L77.9,349.5 L78.4,348.7 L79.1,347.8 L80.0,346.8 L81.0,345.8 L82.1,344.8 L83.2,343.9 L84.5,343.1 L85.7,342.4 L86.8,341.9 L87.8,341.4 L88.7,341.2 L89.2,341.1 L89.7,341.2 L90.6,341.4 L91.6,341.9 L92.8,342.4 L94.0,343.1 L95.2,343.9 L96.4,344.8 L97.5,345.8 L98.5,346.8 L99.3,347.8 L100.0,348.7 L100.5,349.5 L100.9,350.2 Z" fill="#e02111"/><path d="M99.8,350.7 L99.7,351.1 L99.4,351.7 L99.0,352.5 L98.4,353.3 L97.6,354.2 L96.7,355.1 L95.7,355.9 L94.6,356.7 L93.6,357.5 L92.5,358.1 L91.4,358.6 L90.5,359.0 L89.7,359.2 L89.3,359.3 L88.8,359.2 L88.0,359.0 L87.1,358.6 L86.1,358.1 L85.0,357.5 L83.9,356.7 L82.9,355.9 L81.9,355.1 L81.0,354.2 L80.2,353.3 L79.6,352.5 L79.1,351.7 L78.8,351.1 L78.7,350.7 L78.8,350.3 L79.1,349.7 L79.6,348.9 L80.2,348.1 L81.0,347.2 L81.9,346.3 L82.9,345.5 L83.9,344.7 L85.0,343.9 L86.1,343.3 L87.1,342.8 L88.0,342.4 L88.8,342.2 L89.3,342.1 L89.7,342.2 L90.5,342.4 L91.4,342.8 L92.5,343.3 L93.6,343.9 L94.6,344.7 L95.7,345.5 L96.7,346.3 L97.6,347.2 L98.4,348.1 L99.0,348.9 L99.4,349.7 L99.7,350.3 Z" fill="#e22111"/><path d="M98.7,350.8 L98.6,351.1 L98.3,351.6 L97.9,352.3 L97.4,353.1 L96.7,353.8 L95.9,354.6 L95.0,355.4 L94.1,356.1 L93.1,356.7 L92.2,357.3 L91.3,357.7 L90.4,358.1 L89.7,358.3 L89.3,358.3 L88.9,358.3 L88.3,358.1 L87.4,357.7 L86.5,357.3 L85.6,356.7 L84.6,356.1 L83.7,355.4 L82.8,354.6 L82.0,353.8 L81.3,353.1 L80.8,352.3 L80.4,351.6 L80.1,351.1 L80.0,350.8 L80.1,350.4 L80.4,349.9 L80.8,349.2 L81.3,348.5 L82.0,347.7 L82.8,346.9 L83.7,346.1 L84.6,345.4 L85.6,344.8 L86.5,344.2 L87.4,343.8 L88.3,343.4 L88.9,343.2 L89.3,343.2 L89.7,343.2 L90.4,343.4 L91.3,343.8 L92.2,344.2 L93.1,344.8 L94.1,345.4 L95.0,346.1 L95.9,346.9 L96.7,347.7 L97.4,348.5 L97.9,349.2 L98.3,349.9 L98.6,350.4 Z" fill="#e32212"/><path d="M97.5,350.8 L97.4,351.1 L97.2,351.6 L96.9,352.2 L96.4,352.8 L95.8,353.5 L95.1,354.2 L94.3,354.8 L93.5,355.4 L92.7,356.0 L91.9,356.5 L91.1,356.9 L90.3,357.2 L89.8,357.3 L89.4,357.4 L89.0,357.3 L88.5,357.2 L87.7,356.9 L86.9,356.5 L86.1,356.0 L85.3,355.4 L84.5,354.8 L83.7,354.2 L83.0,353.5 L82.4,352.8 L81.9,352.2 L81.6,351.6 L81.4,351.1 L81.3,350.8 L81.4,350.5 L81.6,350.0 L81.9,349.4 L82.4,348.8 L83.0,348.1 L83.7,347.4 L84.5,346.8 L85.3,346.2 L86.1,345.6 L86.9,345.1 L87.7,344.7 L88.5,344.4 L89.0,344.3 L89.4,344.2 L89.8,344.3 L90.3,344.4 L91.1,344.7 L91.9,345.1 L92.7,345.6 L93.5,346.2 L94.3,346.8 L95.1,347.4 L95.8,348.1 L96.4,348.8 L96.9,349.4 L97.2,350.0 L97.4,350.5 Z" fill="#e42312"/><path d="M96.3,350.8 L96.3,351.1 L96.1,351.5 L95.8,352.0 L95.4,352.5 L94.9,353.1 L94.3,353.7 L93.7,354.3 L93.0,354.8 L92.3,355.3 L91.5,355.7 L90.9,356.0 L90.3,356.3 L89.8,356.4 L89.5,356.5 L89.2,356.4 L88.7,356.3 L88.0,356.0 L87.4,355.7 L86.7,355.3 L86.0,354.8 L85.3,354.3 L84.6,353.7 L84.0,353.1 L83.5,352.5 L83.1,352.0 L82.8,351.5 L82.6,351.1 L82.6,350.8 L82.6,350.6 L82.8,350.2 L83.1,349.7 L83.5,349.1 L84.0,348.6 L84.6,348.0 L85.3,347.4 L86.0,346.9 L86.7,346.4 L87.4,346.0 L88.0,345.7 L88.7,345.4 L89.2,345.3 L89.5,345.2 L89.8,345.3 L90.3,345.4 L90.9,345.7 L91.5,346.0 L92.3,346.4 L93.0,346.9 L93.7,347.4 L94.3,348.0 L94.9,348.6 L95.4,349.1 L95.8,349.7 L96.1,350.2 L96.3,350.6 Z" fill="#e52412"/><path d="M95.2,350.9 L95.1,351.1 L95.0,351.4 L94.7,351.8 L94.4,352.3 L94.0,352.8 L93.5,353.2 L93.0,353.7 L92.4,354.1 L91.8,354.5 L91.2,354.9 L90.7,355.1 L90.2,355.3 L89.8,355.5 L89.5,355.5 L89.3,355.5 L88.9,355.3 L88.4,355.1 L87.8,354.9 L87.2,354.5 L86.6,354.1 L86.1,353.7 L85.5,353.2 L85.0,352.8 L84.6,352.3 L84.3,351.8 L84.1,351.4 L83.9,351.1 L83.8,350.9 L83.9,350.7 L84.1,350.4 L84.3,349.9 L84.6,349.5 L85.0,349.0 L85.5,348.5 L86.1,348.1 L86.6,347.6 L87.2,347.2 L87.8,346.9 L88.4,346.6 L88.9,346.4 L89.3,346.3 L89.5,346.3 L89.8,346.3 L90.2,346.4 L90.7,346.6 L91.2,346.9 L91.8,347.2 L92.4,347.6 L93.0,348.1 L93.5,348.5 L94.0,349.0 L94.4,349.5 L94.7,349.9 L95.0,350.4 L95.1,350.7 Z" fill="#e62413"/><path d="M94.0,350.9 L94.0,351.1 L93.9,351.4 L93.7,351.7 L93.4,352.0 L93.1,352.4 L92.7,352.8 L92.3,353.1 L91.8,353.5 L91.4,353.8 L90.9,354.1 L90.5,354.3 L90.1,354.4 L89.8,354.5 L89.6,354.6 L89.4,354.5 L89.1,354.4 L88.7,354.3 L88.2,354.1 L87.8,353.8 L87.3,353.5 L86.9,353.1 L86.4,352.8 L86.1,352.4 L85.7,352.0 L85.5,351.7 L85.3,351.4 L85.2,351.1 L85.1,350.9 L85.2,350.8 L85.3,350.5 L85.5,350.2 L85.7,349.8 L86.1,349.5 L86.4,349.1 L86.9,348.7 L87.3,348.4 L87.8,348.1 L88.2,347.8 L88.7,347.6 L89.1,347.4 L89.4,347.3 L89.6,347.3 L89.8,347.3 L90.1,347.4 L90.5,347.6 L90.9,347.8 L91.4,348.1 L91.8,348.4 L92.3,348.7 L92.7,349.1 L93.1,349.5 L93.4,349.8 L93.7,350.2 L93.9,350.5 L94.0,350.8 Z" fill="#e82513"/><path d="M92.9,351.0 L92.9,351.1 L92.8,351.3 L92.6,351.5 L92.4,351.8 L92.2,352.1 L91.9,352.3 L91.6,352.6 L91.3,352.8 L91.0,353.1 L90.6,353.3 L90.3,353.4 L90.0,353.5 L89.8,353.6 L89.6,353.6 L89.5,353.6 L89.3,353.5 L89.0,353.4 L88.7,353.3 L88.3,353.1 L88.0,352.8 L87.7,352.6 L87.4,352.3 L87.1,352.1 L86.8,351.8 L86.7,351.5 L86.5,351.3 L86.4,351.1 L86.4,351.0 L86.4,350.9 L86.5,350.7 L86.7,350.4 L86.8,350.2 L87.1,349.9 L87.4,349.6 L87.7,349.4 L88.0,349.1 L88.3,348.9 L88.7,348.7 L89.0,348.5 L89.3,348.4 L89.5,348.4 L89.6,348.3 L89.8,348.4 L90.0,348.4 L90.3,348.5 L90.6,348.7 L91.0,348.9 L91.3,349.1 L91.6,349.4 L91.9,349.6 L92.2,349.9 L92.4,350.2 L92.6,350.4 L92.8,350.7 L92.9,350.9 Z" fill="#e92613"/><path d="M91.7,351.0 L91.7,351.1 L91.7,351.2 L91.6,351.4 L91.4,351.5 L91.3,351.7 L91.1,351.9 L90.9,352.0 L90.7,352.2 L90.5,352.3 L90.3,352.4 L90.1,352.5 L89.9,352.6 L89.8,352.7 L89.7,352.7 L89.6,352.7 L89.5,352.6 L89.3,352.5 L89.1,352.4 L88.9,352.3 L88.7,352.2 L88.5,352.0 L88.3,351.9 L88.1,351.7 L88.0,351.5 L87.8,351.4 L87.7,351.2 L87.7,351.1 L87.7,351.0 L87.7,351.0 L87.7,350.8 L87.8,350.7 L88.0,350.5 L88.1,350.4 L88.3,350.2 L88.5,350.0 L88.7,349.9 L88.9,349.7 L89.1,349.6 L89.3,349.5 L89.5,349.4 L89.6,349.4 L89.7,349.4 L89.8,349.4 L89.9,349.4 L90.1,349.5 L90.3,349.6 L90.5,349.7 L90.7,349.9 L90.9,350.0 L91.1,350.2 L91.3,350.4 L91.4,350.5 L91.6,350.7 L91.7,350.8 L91.7,351.0 Z" fill="#ea2713"/><path d="M90.6,351.1 L90.6,351.1 L90.5,351.1 L90.5,351.2 L90.5,351.3 L90.4,351.3 L90.3,351.4 L90.3,351.5 L90.2,351.5 L90.1,351.6 L90.0,351.6 L89.9,351.7 L89.9,351.7 L89.8,351.7 L89.8,351.7 L89.7,351.7 L89.7,351.7 L89.6,351.7 L89.5,351.6 L89.4,351.6 L89.3,351.5 L89.3,351.5 L89.2,351.4 L89.1,351.3 L89.1,351.3 L89.0,351.2 L89.0,351.1 L89.0,351.1 L88.9,351.1 L89.0,351.0 L89.0,351.0 L89.0,350.9 L89.1,350.9 L89.1,350.8 L89.2,350.7 L89.3,350.7 L89.3,350.6 L89.4,350.5 L89.5,350.5 L89.6,350.5 L89.7,350.4 L89.7,350.4 L89.8,350.4 L89.8,350.4 L89.9,350.4 L89.9,350.5 L90.0,350.5 L90.1,350.5 L90.2,350.6 L90.3,350.7 L90.3,350.7 L90.4,350.8 L90.5,350.9 L90.5,350.9 L90.5,351.0 L90.6,351.0 Z" fill="#eb2714"/>
</g>
<ellipse cx="88.8" cy="302.6" rx="3.4" ry="1.9" fill="#2a2a2a" filter="url(#bl1)"/>
<ellipse cx="103.5" cy="302.6" rx="2.6" ry="1.6" fill="#8a8a8a" filter="url(#bl1)"/>
<path d="M106.9,332.2 L108.2,334.1 L108.9,335.5 L109.5,336.8 L109.9,338.0 L110.2,339.2 L110.3,340.5 L110.3,341.7 L110.1,342.9 L109.9,344.1 L109.5,345.3 L109.0,346.6 L108.3,347.8 L107.6,349.0 L106.7,350.2 L105.6,351.5 L104.4,352.7 L103.1,354.0 L101.6,355.3 L99.7,356.7 L97.1,358.6 L94.4,360.5 L92.4,361.7 L90.7,362.7 L89.0,363.5 L87.5,364.2 L85.9,364.7 L84.5,365.2 L83.1,365.5 L81.7,365.7 L80.4,365.7 L79.1,365.7 L77.9,365.5 L76.7,365.2 L75.5,364.8 L74.4,364.3 L73.3,363.6 L72.3,362.8 L71.3,361.8 L70.2,360.6 L68.9,358.8 L67.6,356.9 L66.9,355.5 L66.3,354.2 L65.9,353.0 L65.6,351.8 L65.5,350.5 L65.5,349.3 L65.7,348.1 L65.9,346.9 L66.3,345.7 L66.8,344.4 L67.5,343.2 L68.2,342.0 L69.1,340.8 L70.2,339.5 L71.4,338.3 L72.7,337.0 L74.2,335.7 L76.1,334.3 L78.7,332.4 L81.4,330.5 L83.4,329.3 L85.1,328.3 L86.8,327.5 L88.3,326.8 L89.9,326.3 L91.3,325.8 L92.7,325.5 L94.1,325.3 L95.4,325.3 L96.7,325.3 L97.9,325.5 L99.1,325.8 L100.3,326.2 L101.4,326.7 L102.5,327.4 L103.5,328.2 L104.5,329.2 L105.6,330.4 Z" fill="#fff"/>
<path d="M68.40,360.00 L80.20,366.30 L45.90,406.00 L28.40,406.00 Z" fill="#fff"/>
</g>
<text x="24.20" y="183.40" font-size="7.9" fill="#000" text-anchor="start"  textLength="59.2" lengthAdjust="spacingAndGlyphs" stroke="#000" stroke-width="0.22">PTFMB-0%LiCl</text>
<text x="23.80" y="310.50" font-size="7.9" fill="#d42a2a" text-anchor="start"  textLength="59.0" lengthAdjust="spacingAndGlyphs" stroke="#d42a2a" stroke-width="0.22">PTFMB-4%LiCl</text>
<text x="7.20" y="173.80" font-size="15.5" fill="#000" text-anchor="start"  textLength="7.0" lengthAdjust="spacingAndGlyphs">e</text>
<text x="12.20" y="190.40" font-size="16" fill="#000" text-anchor="start"  textLength="5.0" lengthAdjust="spacingAndGlyphs">I</text>
<text x="4.20" y="319.50" font-size="15" fill="#000" text-anchor="start"  textLength="17.0" lengthAdjust="spacingAndGlyphs">III</text>
<text x="163.20" y="190.00" font-size="14.5" fill="#000" text-anchor="start"  textLength="10.8" lengthAdjust="spacingAndGlyphs">II</text>
<text x="160.80" y="318.70" font-size="15.5" fill="#000" text-anchor="start"  textLength="16.0" lengthAdjust="spacingAndGlyphs">IV</text>
<rect x="187.50" y="172.50" width="131.20" height="107.60" fill="none" stroke="#2a2a2a" stroke-width="1.0"/>
<line x1="185.30" y1="277.90" x2="187.50" y2="277.90" stroke="#222" stroke-width="0.8" />
<text x="184.70" y="279.90" font-size="6.5" fill="#000" text-anchor="end"  stroke="#000" stroke-width="0.22">0.0</text>
<line x1="185.30" y1="261.64" x2="187.50" y2="261.64" stroke="#222" stroke-width="0.8" />
<text x="184.70" y="263.64" font-size="6.5" fill="#000" text-anchor="end"  stroke="#000" stroke-width="0.22">0.2</text>
<line x1="185.30" y1="245.38" x2="187.50" y2="245.38" stroke="#222" stroke-width="0.8" />
<text x="184.70" y="247.38" font-size="6.5" fill="#000" text-anchor="end"  stroke="#000" stroke-width="0.22">0.4</text>
<line x1="185.30" y1="229.12" x2="187.50" y2="229.12" stroke="#222" stroke-width="0.8" />
<text x="184.70" y="231.12" font-size="6.5" fill="#000" text-anchor="end"  stroke="#000" stroke-width="0.22">0.6</text>
<line x1="185.30" y1="212.86" x2="187.50" y2="212.86" stroke="#222" stroke-width="0.8" />
<text x="184.70" y="214.86" font-size="6.5" fill="#000" text-anchor="end"  stroke="#000" stroke-width="0.22">0.8</text>
<line x1="185.30" y1="196.60" x2="187.50" y2="196.60" stroke="#222" stroke-width="0.8" />
<text x="184.70" y="198.60" font-size="6.5" fill="#000" text-anchor="end"  stroke="#000" stroke-width="0.22">1.0</text>
<line x1="185.30" y1="180.34" x2="187.50" y2="180.34" stroke="#222" stroke-width="0.8" />
<text x="184.70" y="182.34" font-size="6.5" fill="#000" text-anchor="end"  stroke="#000" stroke-width="0.22">1.2</text>
<line x1="186.20" y1="269.77" x2="187.50" y2="269.77" stroke="#222" stroke-width="0.6" />
<line x1="186.20" y1="253.51" x2="187.50" y2="253.51" stroke="#222" stroke-width="0.6" />
<line x1="186.20" y1="237.25" x2="187.50" y2="237.25" stroke="#222" stroke-width="0.6" />
<line x1="186.20" y1="220.99" x2="187.50" y2="220.99" stroke="#222" stroke-width="0.6" />
<line x1="186.20" y1="204.73" x2="187.50" y2="204.73" stroke="#222" stroke-width="0.6" />
<line x1="186.20" y1="188.47" x2="187.50" y2="188.47" stroke="#222" stroke-width="0.6" />
<line x1="187.60" y1="280.10" x2="187.60" y2="282.30" stroke="#222" stroke-width="0.8" />
<text x="187.60" y="288.10" font-size="6.5" fill="#000" text-anchor="middle"  stroke="#000" stroke-width="0.22">0.05</text>
<line x1="230.65" y1="280.10" x2="230.65" y2="282.30" stroke="#222" stroke-width="0.8" />
<text x="230.65" y="288.10" font-size="6.5" fill="#000" text-anchor="middle"  stroke="#000" stroke-width="0.22">0.10</text>
<line x1="273.70" y1="280.10" x2="273.70" y2="282.30" stroke="#222" stroke-width="0.8" />
<text x="273.70" y="288.10" font-size="6.5" fill="#000" text-anchor="middle"  stroke="#000" stroke-width="0.22">0.15</text>
<line x1="316.75" y1="280.10" x2="316.75" y2="282.30" stroke="#222" stroke-width="0.8" />
<text x="316.75" y="288.10" font-size="6.5" fill="#000" text-anchor="middle"  stroke="#000" stroke-width="0.22">0.20</text>
<line x1="209.12" y1="280.10" x2="209.12" y2="281.40" stroke="#222" stroke-width="0.6" />
<line x1="252.18" y1="280.10" x2="252.18" y2="281.40" stroke="#222" stroke-width="0.6" />
<line x1="295.22" y1="280.10" x2="295.22" y2="281.40" stroke="#222" stroke-width="0.6" />
<g><circle cx="187.40" cy="203.80" r="2.0" fill="none" stroke="#5c5c5c" stroke-width="1.05"/><circle cx="188.80" cy="196.20" r="2.0" fill="none" stroke="#5c5c5c" stroke-width="1.05"/><circle cx="191.32" cy="198.33" r="2.0" fill="none" stroke="#5c5c5c" stroke-width="1.05"/><circle cx="192.82" cy="201.43" r="2.0" fill="none" stroke="#5c5c5c" stroke-width="1.05"/><circle cx="194.10" cy="204.62" r="2.0" fill="none" stroke="#5c5c5c" stroke-width="1.05"/><circle cx="195.46" cy="207.77" r="2.0" fill="none" stroke="#5c5c5c" stroke-width="1.05"/><circle cx="196.81" cy="210.90" r="2.0" fill="none" stroke="#5c5c5c" stroke-width="1.05"/><circle cx="198.17" cy="214.07" r="2.0" fill="none" stroke="#5c5c5c" stroke-width="1.05"/><circle cx="199.59" cy="217.18" r="2.0" fill="none" stroke="#5c5c5c" stroke-width="1.05"/><circle cx="201.26" cy="220.19" r="2.0" fill="none" stroke="#5c5c5c" stroke-width="1.05"/><circle cx="203.20" cy="223.09" r="2.0" fill="none" stroke="#5c5c5c" stroke-width="1.05"/><circle cx="205.06" cy="225.99" r="2.0" fill="none" stroke="#5c5c5c" stroke-width="1.05"/><circle cx="206.81" cy="228.80" r="2.0" fill="none" stroke="#5c5c5c" stroke-width="1.05"/><circle cx="208.69" cy="231.74" r="2.0" fill="none" stroke="#5c5c5c" stroke-width="1.05"/><circle cx="210.61" cy="234.60" r="2.0" fill="none" stroke="#5c5c5c" stroke-width="1.05"/><circle cx="212.61" cy="237.47" r="2.0" fill="none" stroke="#5c5c5c" stroke-width="1.05"/><circle cx="214.55" cy="240.14" r="2.0" fill="none" stroke="#5c5c5c" stroke-width="1.05"/><circle cx="216.68" cy="242.83" r="2.0" fill="none" stroke="#5c5c5c" stroke-width="1.05"/><circle cx="218.94" cy="245.29" r="2.0" fill="none" stroke="#5c5c5c" stroke-width="1.05"/><circle cx="221.38" cy="247.71" r="2.0" fill="none" stroke="#5c5c5c" stroke-width="1.05"/><circle cx="223.99" cy="249.99" r="2.0" fill="none" stroke="#5c5c5c" stroke-width="1.05"/><circle cx="226.75" cy="252.06" r="2.0" fill="none" stroke="#5c5c5c" stroke-width="1.05"/><circle cx="229.64" cy="253.99" r="2.0" fill="none" stroke="#5c5c5c" stroke-width="1.05"/><circle cx="232.63" cy="255.79" r="2.0" fill="none" stroke="#5c5c5c" stroke-width="1.05"/><circle cx="235.70" cy="257.43" r="2.0" fill="none" stroke="#5c5c5c" stroke-width="1.05"/><circle cx="238.68" cy="258.86" r="2.0" fill="none" stroke="#5c5c5c" stroke-width="1.05"/><circle cx="241.78" cy="260.35" r="2.0" fill="none" stroke="#5c5c5c" stroke-width="1.05"/><circle cx="244.74" cy="261.86" r="2.0" fill="none" stroke="#5c5c5c" stroke-width="1.05"/><circle cx="247.89" cy="263.39" r="2.0" fill="none" stroke="#5c5c5c" stroke-width="1.05"/><circle cx="250.93" cy="264.79" r="2.0" fill="none" stroke="#5c5c5c" stroke-width="1.05"/><circle cx="254.07" cy="265.94" r="2.0" fill="none" stroke="#5c5c5c" stroke-width="1.05"/><circle cx="257.35" cy="266.95" r="2.0" fill="none" stroke="#5c5c5c" stroke-width="1.05"/><circle cx="260.62" cy="267.91" r="2.0" fill="none" stroke="#5c5c5c" stroke-width="1.05"/><circle cx="263.95" cy="268.83" r="2.0" fill="none" stroke="#5c5c5c" stroke-width="1.05"/><circle cx="267.28" cy="269.74" r="2.0" fill="none" stroke="#5c5c5c" stroke-width="1.05"/><circle cx="270.62" cy="270.64" r="2.0" fill="none" stroke="#5c5c5c" stroke-width="1.05"/><circle cx="273.97" cy="271.36" r="2.0" fill="none" stroke="#5c5c5c" stroke-width="1.05"/><circle cx="277.32" cy="272.08" r="2.0" fill="none" stroke="#5c5c5c" stroke-width="1.05"/><circle cx="280.67" cy="272.80" r="2.0" fill="none" stroke="#5c5c5c" stroke-width="1.05"/><circle cx="284.08" cy="273.23" r="2.0" fill="none" stroke="#5c5c5c" stroke-width="1.05"/><circle cx="287.49" cy="273.65" r="2.0" fill="none" stroke="#5c5c5c" stroke-width="1.05"/><circle cx="290.90" cy="274.07" r="2.0" fill="none" stroke="#5c5c5c" stroke-width="1.05"/><circle cx="294.30" cy="274.25" r="2.0" fill="none" stroke="#5c5c5c" stroke-width="1.05"/><circle cx="297.70" cy="274.43" r="2.0" fill="none" stroke="#5c5c5c" stroke-width="1.05"/><circle cx="301.10" cy="274.60" r="2.0" fill="none" stroke="#5c5c5c" stroke-width="1.05"/><circle cx="304.57" cy="274.64" r="2.0" fill="none" stroke="#5c5c5c" stroke-width="1.05"/><circle cx="308.03" cy="274.68" r="2.0" fill="none" stroke="#5c5c5c" stroke-width="1.05"/><circle cx="311.50" cy="274.70" r="2.0" fill="none" stroke="#5c5c5c" stroke-width="1.05"/><circle cx="314.96" cy="274.70" r="2.0" fill="none" stroke="#5c5c5c" stroke-width="1.05"/></g>
<circle cx="248.40" cy="180.80" r="2.0" fill="none" stroke="#5c5c5c" stroke-width="1.05"/>
<text x="258.40" y="183.70" font-size="7.4" fill="#000" text-anchor="start"  textLength="50.2" lengthAdjust="spacingAndGlyphs" stroke="#000" stroke-width="0.22">PTFMB-0%LiCl</text>
<text x="0" y="0" font-size="7.0" fill="#000" text-anchor="middle" transform="translate(174.20,225.80) rotate(-90)"  textLength="63.5" lengthAdjust="spacingAndGlyphs" stroke="#000" stroke-width="0.22">Normalized Intensity</text>
<text x="253.40" y="295.00" font-size="6.8" fill="#000" text-anchor="middle"  stroke="#000" stroke-width="0.22">q (nm<tspan font-size="4.5" dy="-2.6">-1</tspan><tspan dy="2.6">)</tspan></text>
<rect x="189.40" y="301.20" width="127.00" height="105.30" fill="none" stroke="#2a2a2a" stroke-width="1.0"/>
<line x1="187.20" y1="404.40" x2="189.40" y2="404.40" stroke="#222" stroke-width="0.8" />
<text x="186.60" y="406.40" font-size="6.5" fill="#000" text-anchor="end"  stroke="#000" stroke-width="0.22">0.0</text>
<line x1="187.20" y1="388.54" x2="189.40" y2="388.54" stroke="#222" stroke-width="0.8" />
<text x="186.60" y="390.54" font-size="6.5" fill="#000" text-anchor="end"  stroke="#000" stroke-width="0.22">0.2</text>
<line x1="187.20" y1="372.68" x2="189.40" y2="372.68" stroke="#222" stroke-width="0.8" />
<text x="186.60" y="374.68" font-size="6.5" fill="#000" text-anchor="end"  stroke="#000" stroke-width="0.22">0.4</text>
<line x1="187.20" y1="356.82" x2="189.40" y2="356.82" stroke="#222" stroke-width="0.8" />
<text x="186.60" y="358.82" font-size="6.5" fill="#000" text-anchor="end"  stroke="#000" stroke-width="0.22">0.6</text>
<line x1="187.20" y1="340.96" x2="189.40" y2="340.96" stroke="#222" stroke-width="0.8" />
<text x="186.60" y="342.96" font-size="6.5" fill="#000" text-anchor="end"  stroke="#000" stroke-width="0.22">0.8</text>
<line x1="187.20" y1="325.10" x2="189.40" y2="325.10" stroke="#222" stroke-width="0.8" />
<text x="186.60" y="327.10" font-size="6.5" fill="#000" text-anchor="end"  stroke="#000" stroke-width="0.22">1.0</text>
<line x1="187.20" y1="309.24" x2="189.40" y2="309.24" stroke="#222" stroke-width="0.8" />
<text x="186.60" y="311.24" font-size="6.5" fill="#000" text-anchor="end"  stroke="#000" stroke-width="0.22">1.2</text>
<line x1="188.10" y1="396.47" x2="189.40" y2="396.47" stroke="#222" stroke-width="0.6" />
<line x1="188.10" y1="380.61" x2="189.40" y2="380.61" stroke="#222" stroke-width="0.6" />
<line x1="188.10" y1="364.75" x2="189.40" y2="364.75" stroke="#222" stroke-width="0.6" />
<line x1="188.10" y1="348.89" x2="189.40" y2="348.89" stroke="#222" stroke-width="0.6" />
<line x1="188.10" y1="333.03" x2="189.40" y2="333.03" stroke="#222" stroke-width="0.6" />
<line x1="188.10" y1="317.17" x2="189.40" y2="317.17" stroke="#222" stroke-width="0.6" />
<line x1="189.20" y1="406.50" x2="189.20" y2="408.70" stroke="#222" stroke-width="0.8" />
<text x="189.20" y="414.50" font-size="6.5" fill="#000" text-anchor="middle"  stroke="#000" stroke-width="0.22">0.05</text>
<line x1="231.60" y1="406.50" x2="231.60" y2="408.70" stroke="#222" stroke-width="0.8" />
<text x="231.60" y="414.50" font-size="6.5" fill="#000" text-anchor="middle"  stroke="#000" stroke-width="0.22">0.10</text>
<line x1="274.00" y1="406.50" x2="274.00" y2="408.70" stroke="#222" stroke-width="0.8" />
<text x="274.00" y="414.50" font-size="6.5" fill="#000" text-anchor="middle"  stroke="#000" stroke-width="0.22">0.15</text>
<line x1="316.40" y1="406.50" x2="316.40" y2="408.70" stroke="#222" stroke-width="0.8" />
<text x="316.40" y="414.50" font-size="6.5" fill="#000" text-anchor="middle"  stroke="#000" stroke-width="0.22">0.20</text>
<line x1="210.40" y1="406.50" x2="210.40" y2="407.80" stroke="#222" stroke-width="0.6" />
<line x1="252.80" y1="406.50" x2="252.80" y2="407.80" stroke="#222" stroke-width="0.6" />
<line x1="295.20" y1="406.50" x2="295.20" y2="407.80" stroke="#222" stroke-width="0.6" />
<g><circle cx="190.60" cy="324.70" r="2.0" fill="none" stroke="#e44a4a" stroke-width="1.05"/><circle cx="191.94" cy="329.56" r="2.0" fill="none" stroke="#e44a4a" stroke-width="1.05"/><circle cx="193.26" cy="334.44" r="2.0" fill="none" stroke="#e44a4a" stroke-width="1.05"/><circle cx="194.59" cy="339.38" r="2.0" fill="none" stroke="#e44a4a" stroke-width="1.05"/><circle cx="196.01" cy="344.30" r="2.0" fill="none" stroke="#e44a4a" stroke-width="1.05"/><circle cx="197.52" cy="349.15" r="2.0" fill="none" stroke="#e44a4a" stroke-width="1.05"/><circle cx="199.06" cy="353.95" r="2.0" fill="none" stroke="#e44a4a" stroke-width="1.05"/><circle cx="200.80" cy="358.68" r="2.0" fill="none" stroke="#e44a4a" stroke-width="1.05"/><circle cx="203.00" cy="363.19" r="2.0" fill="none" stroke="#e44a4a" stroke-width="1.05"/><circle cx="205.46" cy="367.69" r="2.0" fill="none" stroke="#e44a4a" stroke-width="1.05"/><circle cx="208.12" cy="372.13" r="2.0" fill="none" stroke="#e44a4a" stroke-width="1.05"/><circle cx="211.17" cy="376.10" r="2.0" fill="none" stroke="#e44a4a" stroke-width="1.05"/><circle cx="213.30" cy="378.50" r="2.0" fill="none" stroke="#e44a4a" stroke-width="1.05"/><circle cx="215.57" cy="380.59" r="2.0" fill="none" stroke="#e44a4a" stroke-width="1.05"/><circle cx="217.89" cy="382.62" r="2.0" fill="none" stroke="#e44a4a" stroke-width="1.05"/><circle cx="220.26" cy="384.58" r="2.0" fill="none" stroke="#e44a4a" stroke-width="1.05"/><circle cx="222.69" cy="386.34" r="2.0" fill="none" stroke="#e44a4a" stroke-width="1.05"/><circle cx="225.25" cy="387.91" r="2.0" fill="none" stroke="#e44a4a" stroke-width="1.05"/><circle cx="227.89" cy="389.37" r="2.0" fill="none" stroke="#e44a4a" stroke-width="1.05"/><circle cx="230.69" cy="390.44" r="2.0" fill="none" stroke="#e44a4a" stroke-width="1.05"/><circle cx="233.56" cy="391.38" r="2.0" fill="none" stroke="#e44a4a" stroke-width="1.05"/><circle cx="236.51" cy="392.15" r="2.0" fill="none" stroke="#e44a4a" stroke-width="1.05"/><circle cx="239.49" cy="392.86" r="2.0" fill="none" stroke="#e44a4a" stroke-width="1.05"/><circle cx="242.48" cy="393.54" r="2.0" fill="none" stroke="#e44a4a" stroke-width="1.05"/><circle cx="245.44" cy="394.17" r="2.0" fill="none" stroke="#e44a4a" stroke-width="1.05"/><circle cx="248.39" cy="394.79" r="2.0" fill="none" stroke="#e44a4a" stroke-width="1.05"/><circle cx="251.35" cy="395.37" r="2.0" fill="none" stroke="#e44a4a" stroke-width="1.05"/><circle cx="254.37" cy="395.87" r="2.0" fill="none" stroke="#e44a4a" stroke-width="1.05"/><circle cx="257.39" cy="396.36" r="2.0" fill="none" stroke="#e44a4a" stroke-width="1.05"/><circle cx="260.40" cy="396.85" r="2.0" fill="none" stroke="#e44a4a" stroke-width="1.05"/><circle cx="263.41" cy="397.25" r="2.0" fill="none" stroke="#e44a4a" stroke-width="1.05"/><circle cx="266.42" cy="397.65" r="2.0" fill="none" stroke="#e44a4a" stroke-width="1.05"/><circle cx="269.42" cy="398.04" r="2.0" fill="none" stroke="#e44a4a" stroke-width="1.05"/><circle cx="272.43" cy="398.38" r="2.0" fill="none" stroke="#e44a4a" stroke-width="1.05"/><circle cx="275.45" cy="398.69" r="2.0" fill="none" stroke="#e44a4a" stroke-width="1.05"/><circle cx="278.46" cy="399.00" r="2.0" fill="none" stroke="#e44a4a" stroke-width="1.05"/><circle cx="281.48" cy="399.27" r="2.0" fill="none" stroke="#e44a4a" stroke-width="1.05"/><circle cx="284.48" cy="399.46" r="2.0" fill="none" stroke="#e44a4a" stroke-width="1.05"/><circle cx="287.49" cy="399.64" r="2.0" fill="none" stroke="#e44a4a" stroke-width="1.05"/><circle cx="290.50" cy="399.83" r="2.0" fill="none" stroke="#e44a4a" stroke-width="1.05"/><circle cx="293.54" cy="399.91" r="2.0" fill="none" stroke="#e44a4a" stroke-width="1.05"/><circle cx="296.59" cy="399.98" r="2.0" fill="none" stroke="#e44a4a" stroke-width="1.05"/><circle cx="299.63" cy="400.04" r="2.0" fill="none" stroke="#e44a4a" stroke-width="1.05"/><circle cx="302.68" cy="400.10" r="2.0" fill="none" stroke="#e44a4a" stroke-width="1.05"/><circle cx="305.71" cy="400.10" r="2.0" fill="none" stroke="#e44a4a" stroke-width="1.05"/><circle cx="308.73" cy="400.10" r="2.0" fill="none" stroke="#e44a4a" stroke-width="1.05"/><circle cx="311.76" cy="400.10" r="2.0" fill="none" stroke="#e44a4a" stroke-width="1.05"/><circle cx="314.79" cy="400.10" r="2.0" fill="none" stroke="#e44a4a" stroke-width="1.05"/></g>
<circle cx="248.00" cy="309.40" r="2.0" fill="none" stroke="#e44a4a" stroke-width="1.05"/>
<text x="258.40" y="312.20" font-size="7.4" fill="#000" text-anchor="start"  textLength="50.2" lengthAdjust="spacingAndGlyphs" stroke="#000" stroke-width="0.22">PTFMB-4%LiCl</text>
<text x="0" y="0" font-size="7.0" fill="#000" text-anchor="middle" transform="translate(175.80,353.80) rotate(-90)"  textLength="63.5" lengthAdjust="spacingAndGlyphs" stroke="#000" stroke-width="0.22">Normalized Intensity</text>
<text x="253.40" y="421.20" font-size="6.8" fill="#000" text-anchor="middle"  stroke="#000" stroke-width="0.22">q (nm<tspan font-size="4.5" dy="-2.6">-1</tspan><tspan dy="2.6">)</tspan></text>
<rect x="365.4" y="176.0" width="124.30000000000001" height="75.00" fill="url(#wgf1)"/>
<rect x="365.4" y="250.95" width="124.30000000000001" height="30.25" fill="url(#wlf1)"/>
<rect x="427.3" y="255.8" width="62.39999999999998" height="25.399999999999977" fill="#fff" stroke="#999" stroke-width="0.5"/>
<line x1="365.40" y1="202.60" x2="489.70" y2="202.60" stroke="#000" stroke-width="1.6" />
<line x1="365.40" y1="228.70" x2="489.70" y2="228.70" stroke="#000" stroke-width="1.6" />
<line x1="365.40" y1="255.80" x2="489.70" y2="255.80" stroke="#000" stroke-width="1.6" />
<line x1="427.30" y1="176.00" x2="427.30" y2="281.20" stroke="#111" stroke-width="0.9" />
<rect x="365.4" y="176.0" width="124.30000000000001" height="105.19999999999999" fill="none" stroke="#888" stroke-width="0.5"/>
<rect x="365.4" y="300.2" width="124.30000000000001" height="75.80" fill="url(#wgf3)"/>
<rect x="365.4" y="375.95" width="124.30000000000001" height="30.55" fill="url(#wlf3)"/>
<rect x="427.8" y="380.6" width="61.89999999999998" height="25.899999999999977" fill="#fff" stroke="#999" stroke-width="0.5"/>
<line x1="365.40" y1="327.10" x2="489.70" y2="327.10" stroke="#000" stroke-width="1.6" />
<line x1="365.40" y1="353.70" x2="489.70" y2="353.70" stroke="#000" stroke-width="1.6" />
<line x1="365.40" y1="380.60" x2="489.70" y2="380.60" stroke="#000" stroke-width="1.6" />
<line x1="427.80" y1="300.20" x2="427.80" y2="406.50" stroke="#111" stroke-width="0.9" />
<rect x="365.4" y="300.2" width="124.30000000000001" height="106.30000000000001" fill="none" stroke="#888" stroke-width="0.5"/>
<text x="367.20" y="185.30" font-size="8.1" fill="#000" text-anchor="start"  textLength="59.6" lengthAdjust="spacingAndGlyphs" stroke="#000" stroke-width="0.22">PTFMB-0%LiCl</text>
<text x="368.40" y="310.80" font-size="7.8" fill="#d42a2a" text-anchor="start"  textLength="59.0" lengthAdjust="spacingAndGlyphs" stroke="#d42a2a" stroke-width="0.22">PTFMB-4%LiCl</text>
<text x="353.20" y="173.40" font-size="16.5" fill="#000" text-anchor="start"  textLength="7.0" lengthAdjust="spacingAndGlyphs">f</text>
<text x="355.80" y="190.70" font-size="16" fill="#000" text-anchor="start"  textLength="5.4" lengthAdjust="spacingAndGlyphs">I</text>
<text x="351.50" y="319.20" font-size="15.5" fill="#000" text-anchor="start"  textLength="15.6" lengthAdjust="spacingAndGlyphs">III</text>
<text x="507.50" y="190.30" font-size="14.5" fill="#000" text-anchor="start"  textLength="11.0" lengthAdjust="spacingAndGlyphs">II</text>
<text x="506.40" y="315.80" font-size="15.5" fill="#000" text-anchor="start"  textLength="15.4" lengthAdjust="spacingAndGlyphs">IV</text>
<rect x="534.70" y="176.20" width="128.00" height="102.40" fill="none" stroke="#2a2a2a" stroke-width="1.0"/>
<line x1="532.50" y1="278.60" x2="534.70" y2="278.60" stroke="#222" stroke-width="0.8" />
<text x="531.90" y="280.60" font-size="5.8" fill="#000" text-anchor="end"  stroke="#000" stroke-width="0.22">0.0</text>
<line x1="532.50" y1="262.85" x2="534.70" y2="262.85" stroke="#222" stroke-width="0.8" />
<text x="531.90" y="264.85" font-size="5.8" fill="#000" text-anchor="end"  stroke="#000" stroke-width="0.22">0.2</text>
<line x1="532.50" y1="247.10" x2="534.70" y2="247.10" stroke="#222" stroke-width="0.8" />
<text x="531.90" y="249.10" font-size="5.8" fill="#000" text-anchor="end"  stroke="#000" stroke-width="0.22">0.4</text>
<line x1="532.50" y1="231.35" x2="534.70" y2="231.35" stroke="#222" stroke-width="0.8" />
<text x="531.90" y="233.35" font-size="5.8" fill="#000" text-anchor="end"  stroke="#000" stroke-width="0.22">0.6</text>
<line x1="532.50" y1="215.60" x2="534.70" y2="215.60" stroke="#222" stroke-width="0.8" />
<text x="531.90" y="217.60" font-size="5.8" fill="#000" text-anchor="end"  stroke="#000" stroke-width="0.22">0.8</text>
<line x1="532.50" y1="199.85" x2="534.70" y2="199.85" stroke="#222" stroke-width="0.8" />
<text x="531.90" y="201.85" font-size="5.8" fill="#000" text-anchor="end"  stroke="#000" stroke-width="0.22">1.0</text>
<line x1="532.50" y1="184.10" x2="534.70" y2="184.10" stroke="#222" stroke-width="0.8" />
<text x="531.90" y="186.10" font-size="5.8" fill="#000" text-anchor="end"  stroke="#000" stroke-width="0.22">1.2</text>
<line x1="533.40" y1="270.73" x2="534.70" y2="270.73" stroke="#222" stroke-width="0.6" />
<line x1="533.40" y1="254.98" x2="534.70" y2="254.98" stroke="#222" stroke-width="0.6" />
<line x1="533.40" y1="239.23" x2="534.70" y2="239.23" stroke="#222" stroke-width="0.6" />
<line x1="533.40" y1="223.48" x2="534.70" y2="223.48" stroke="#222" stroke-width="0.6" />
<line x1="533.40" y1="207.73" x2="534.70" y2="207.73" stroke="#222" stroke-width="0.6" />
<line x1="533.40" y1="191.98" x2="534.70" y2="191.98" stroke="#222" stroke-width="0.6" />
<line x1="534.30" y1="278.60" x2="534.30" y2="280.80" stroke="#222" stroke-width="0.8" />
<text x="534.30" y="286.60" font-size="5.8" fill="#000" text-anchor="middle"  stroke="#000" stroke-width="0.22">0</text>
<line x1="561.30" y1="278.60" x2="561.30" y2="280.80" stroke="#222" stroke-width="0.8" />
<text x="561.30" y="286.60" font-size="5.8" fill="#000" text-anchor="middle"  stroke="#000" stroke-width="0.22">10</text>
<line x1="588.30" y1="278.60" x2="588.30" y2="280.80" stroke="#222" stroke-width="0.8" />
<text x="588.30" y="286.60" font-size="5.8" fill="#000" text-anchor="middle"  stroke="#000" stroke-width="0.22">20</text>
<line x1="615.30" y1="278.60" x2="615.30" y2="280.80" stroke="#222" stroke-width="0.8" />
<text x="615.30" y="286.60" font-size="5.8" fill="#000" text-anchor="middle"  stroke="#000" stroke-width="0.22">30</text>
<line x1="642.30" y1="278.60" x2="642.30" y2="280.80" stroke="#222" stroke-width="0.8" />
<text x="642.30" y="286.60" font-size="5.8" fill="#000" text-anchor="middle"  stroke="#000" stroke-width="0.22">40</text>
<line x1="547.80" y1="278.60" x2="547.80" y2="279.90" stroke="#222" stroke-width="0.6" />
<line x1="574.80" y1="278.60" x2="574.80" y2="279.90" stroke="#222" stroke-width="0.6" />
<line x1="601.80" y1="278.60" x2="601.80" y2="279.90" stroke="#222" stroke-width="0.6" />
<line x1="628.80" y1="278.60" x2="628.80" y2="279.90" stroke="#222" stroke-width="0.6" />
<line x1="655.80" y1="278.60" x2="655.80" y2="279.90" stroke="#222" stroke-width="0.6" />
<g><circle cx="534.30" cy="274.85" r="2.0" fill="none" stroke="#666666" stroke-width="0.9"/><circle cx="534.52" cy="274.84" r="2.0" fill="none" stroke="#666666" stroke-width="0.9"/><circle cx="534.73" cy="273.94" r="2.0" fill="none" stroke="#666666" stroke-width="0.9"/><circle cx="534.95" cy="275.41" r="2.0" fill="none" stroke="#666666" stroke-width="0.9"/><circle cx="535.16" cy="274.34" r="2.0" fill="none" stroke="#666666" stroke-width="0.9"/><circle cx="535.38" cy="275.39" r="2.0" fill="none" stroke="#666666" stroke-width="0.9"/><circle cx="535.60" cy="273.72" r="2.0" fill="none" stroke="#666666" stroke-width="0.9"/><circle cx="535.81" cy="274.17" r="2.0" fill="none" stroke="#666666" stroke-width="0.9"/><circle cx="536.03" cy="273.60" r="2.0" fill="none" stroke="#666666" stroke-width="0.9"/><circle cx="536.24" cy="274.52" r="2.0" fill="none" stroke="#666666" stroke-width="0.9"/><circle cx="536.46" cy="274.07" r="2.0" fill="none" stroke="#666666" stroke-width="0.9"/><circle cx="536.68" cy="274.41" r="2.0" fill="none" stroke="#666666" stroke-width="0.9"/><circle cx="536.89" cy="274.64" r="2.0" fill="none" stroke="#666666" stroke-width="0.9"/><circle cx="537.11" cy="274.20" r="2.0" fill="none" stroke="#666666" stroke-width="0.9"/><circle cx="537.32" cy="274.89" r="2.0" fill="none" stroke="#666666" stroke-width="0.9"/><circle cx="537.54" cy="274.44" r="2.0" fill="none" stroke="#666666" stroke-width="0.9"/><circle cx="537.76" cy="273.92" r="2.0" fill="none" stroke="#666666" stroke-width="0.9"/><circle cx="537.97" cy="274.24" r="2.0" fill="none" stroke="#666666" stroke-width="0.9"/><circle cx="538.19" cy="274.47" r="2.0" fill="none" stroke="#666666" stroke-width="0.9"/><circle cx="538.40" cy="273.18" r="2.0" fill="none" stroke="#666666" stroke-width="0.9"/><circle cx="538.62" cy="274.24" r="2.0" fill="none" stroke="#666666" stroke-width="0.9"/><circle cx="538.84" cy="274.56" r="2.0" fill="none" stroke="#666666" stroke-width="0.9"/><circle cx="539.05" cy="274.19" r="2.0" fill="none" stroke="#666666" stroke-width="0.9"/><circle cx="539.27" cy="274.53" r="2.0" fill="none" stroke="#666666" stroke-width="0.9"/><circle cx="539.48" cy="274.46" r="2.0" fill="none" stroke="#666666" stroke-width="0.9"/><circle cx="539.70" cy="274.44" r="2.0" fill="none" stroke="#666666" stroke-width="0.9"/><circle cx="539.92" cy="273.26" r="2.0" fill="none" stroke="#666666" stroke-width="0.9"/><circle cx="540.13" cy="274.26" r="2.0" fill="none" stroke="#666666" stroke-width="0.9"/><circle cx="540.35" cy="274.18" r="2.0" fill="none" stroke="#666666" stroke-width="0.9"/><circle cx="540.56" cy="273.93" r="2.0" fill="none" stroke="#666666" stroke-width="0.9"/><circle cx="540.78" cy="273.27" r="2.0" fill="none" stroke="#666666" stroke-width="0.9"/><circle cx="541.00" cy="274.38" r="2.0" fill="none" stroke="#666666" stroke-width="0.9"/><circle cx="541.21" cy="274.58" r="2.0" fill="none" stroke="#666666" stroke-width="0.9"/><circle cx="541.43" cy="273.04" r="2.0" fill="none" stroke="#666666" stroke-width="0.9"/><circle cx="541.64" cy="274.99" r="2.0" fill="none" stroke="#666666" stroke-width="0.9"/><circle cx="541.86" cy="274.45" r="2.0" fill="none" stroke="#666666" stroke-width="0.9"/><circle cx="542.08" cy="273.94" r="2.0" fill="none" stroke="#666666" stroke-width="0.9"/><circle cx="542.29" cy="273.14" r="2.0" fill="none" stroke="#666666" stroke-width="0.9"/><circle cx="542.51" cy="274.74" r="2.0" fill="none" stroke="#666666" stroke-width="0.9"/><circle cx="542.72" cy="275.47" r="2.0" fill="none" stroke="#666666" stroke-width="0.9"/><circle cx="542.94" cy="273.94" r="2.0" fill="none" stroke="#666666" stroke-width="0.9"/><circle cx="543.16" cy="274.53" r="2.0" fill="none" stroke="#666666" stroke-width="0.9"/><circle cx="543.37" cy="274.46" r="2.0" fill="none" stroke="#666666" stroke-width="0.9"/><circle cx="543.59" cy="274.04" r="2.0" fill="none" stroke="#666666" stroke-width="0.9"/><circle cx="543.80" cy="274.16" r="2.0" fill="none" stroke="#666666" stroke-width="0.9"/><circle cx="544.02" cy="274.12" r="2.0" fill="none" stroke="#666666" stroke-width="0.9"/><circle cx="544.24" cy="274.48" r="2.0" fill="none" stroke="#666666" stroke-width="0.9"/><circle cx="544.45" cy="273.63" r="2.0" fill="none" stroke="#666666" stroke-width="0.9"/><circle cx="544.67" cy="273.52" r="2.0" fill="none" stroke="#666666" stroke-width="0.9"/><circle cx="544.88" cy="274.25" r="2.0" fill="none" stroke="#666666" stroke-width="0.9"/><circle cx="545.10" cy="274.49" r="2.0" fill="none" stroke="#666666" stroke-width="0.9"/><circle cx="545.32" cy="273.90" r="2.0" fill="none" stroke="#666666" stroke-width="0.9"/><circle cx="545.53" cy="274.03" r="2.0" fill="none" stroke="#666666" stroke-width="0.9"/><circle cx="545.75" cy="274.78" r="2.0" fill="none" stroke="#666666" stroke-width="0.9"/><circle cx="545.96" cy="274.50" r="2.0" fill="none" stroke="#666666" stroke-width="0.9"/><circle cx="546.18" cy="273.75" r="2.0" fill="none" stroke="#666666" stroke-width="0.9"/><circle cx="546.40" cy="274.32" r="2.0" fill="none" stroke="#666666" stroke-width="0.9"/><circle cx="546.61" cy="274.43" r="2.0" fill="none" stroke="#666666" stroke-width="0.9"/><circle cx="546.83" cy="274.16" r="2.0" fill="none" stroke="#666666" stroke-width="0.9"/><circle cx="547.04" cy="274.29" r="2.0" fill="none" stroke="#666666" stroke-width="0.9"/><circle cx="547.26" cy="274.27" r="2.0" fill="none" stroke="#666666" stroke-width="0.9"/><circle cx="547.48" cy="275.23" r="2.0" fill="none" stroke="#666666" stroke-width="0.9"/><circle cx="547.69" cy="273.40" r="2.0" fill="none" stroke="#666666" stroke-width="0.9"/><circle cx="547.91" cy="274.23" r="2.0" fill="none" stroke="#666666" stroke-width="0.9"/><circle cx="548.12" cy="274.87" r="2.0" fill="none" stroke="#666666" stroke-width="0.9"/><circle cx="548.34" cy="274.10" r="2.0" fill="none" stroke="#666666" stroke-width="0.9"/><circle cx="548.56" cy="274.54" r="2.0" fill="none" stroke="#666666" stroke-width="0.9"/><circle cx="548.77" cy="274.79" r="2.0" fill="none" stroke="#666666" stroke-width="0.9"/><circle cx="548.99" cy="274.44" r="2.0" fill="none" stroke="#666666" stroke-width="0.9"/><circle cx="549.20" cy="274.02" r="2.0" fill="none" stroke="#666666" stroke-width="0.9"/><circle cx="549.42" cy="274.91" r="2.0" fill="none" stroke="#666666" stroke-width="0.9"/><circle cx="549.64" cy="274.58" r="2.0" fill="none" stroke="#666666" stroke-width="0.9"/><circle cx="549.85" cy="274.47" r="2.0" fill="none" stroke="#666666" stroke-width="0.9"/><circle cx="550.07" cy="275.95" r="2.0" fill="none" stroke="#666666" stroke-width="0.9"/><circle cx="550.28" cy="275.87" r="2.0" fill="none" stroke="#666666" stroke-width="0.9"/><circle cx="550.50" cy="275.47" r="2.0" fill="none" stroke="#666666" stroke-width="0.9"/><circle cx="550.72" cy="276.60" r="2.0" fill="none" stroke="#666666" stroke-width="0.9"/><circle cx="550.93" cy="276.16" r="2.0" fill="none" stroke="#666666" stroke-width="0.9"/><circle cx="551.15" cy="275.70" r="2.0" fill="none" stroke="#666666" stroke-width="0.9"/><circle cx="551.36" cy="275.94" r="2.0" fill="none" stroke="#666666" stroke-width="0.9"/><circle cx="551.58" cy="276.25" r="2.0" fill="none" stroke="#666666" stroke-width="0.9"/><circle cx="551.80" cy="277.27" r="2.0" fill="none" stroke="#666666" stroke-width="0.9"/><circle cx="552.01" cy="275.81" r="2.0" fill="none" stroke="#666666" stroke-width="0.9"/><circle cx="552.23" cy="276.45" r="2.0" fill="none" stroke="#666666" stroke-width="0.9"/><circle cx="552.44" cy="276.38" r="2.0" fill="none" stroke="#666666" stroke-width="0.9"/><circle cx="552.66" cy="276.49" r="2.0" fill="none" stroke="#666666" stroke-width="0.9"/><circle cx="552.88" cy="277.27" r="2.0" fill="none" stroke="#666666" stroke-width="0.9"/><circle cx="553.09" cy="277.18" r="2.0" fill="none" stroke="#666666" stroke-width="0.9"/><circle cx="553.31" cy="277.11" r="2.0" fill="none" stroke="#666666" stroke-width="0.9"/><circle cx="553.52" cy="276.02" r="2.0" fill="none" stroke="#666666" stroke-width="0.9"/><circle cx="553.74" cy="276.99" r="2.0" fill="none" stroke="#666666" stroke-width="0.9"/><circle cx="553.96" cy="276.79" r="2.0" fill="none" stroke="#666666" stroke-width="0.9"/><circle cx="554.17" cy="276.81" r="2.0" fill="none" stroke="#666666" stroke-width="0.9"/><circle cx="554.39" cy="276.53" r="2.0" fill="none" stroke="#666666" stroke-width="0.9"/><circle cx="554.60" cy="276.56" r="2.0" fill="none" stroke="#666666" stroke-width="0.9"/><circle cx="554.82" cy="276.65" r="2.0" fill="none" stroke="#666666" stroke-width="0.9"/><circle cx="555.04" cy="277.19" r="2.0" fill="none" stroke="#666666" stroke-width="0.9"/><circle cx="555.25" cy="277.85" r="2.0" fill="none" stroke="#666666" stroke-width="0.9"/><circle cx="555.47" cy="276.71" r="2.0" fill="none" stroke="#666666" stroke-width="0.9"/><circle cx="555.68" cy="276.68" r="2.0" fill="none" stroke="#666666" stroke-width="0.9"/><circle cx="555.90" cy="276.36" r="2.0" fill="none" stroke="#666666" stroke-width="0.9"/><circle cx="556.12" cy="276.83" r="2.0" fill="none" stroke="#666666" stroke-width="0.9"/><circle cx="556.33" cy="277.01" r="2.0" fill="none" stroke="#666666" stroke-width="0.9"/><circle cx="556.55" cy="276.66" r="2.0" fill="none" stroke="#666666" stroke-width="0.9"/><circle cx="556.76" cy="277.35" r="2.0" fill="none" stroke="#666666" stroke-width="0.9"/><circle cx="556.98" cy="277.18" r="2.0" fill="none" stroke="#666666" stroke-width="0.9"/><circle cx="557.20" cy="277.17" r="2.0" fill="none" stroke="#666666" stroke-width="0.9"/><circle cx="557.41" cy="276.74" r="2.0" fill="none" stroke="#666666" stroke-width="0.9"/><circle cx="557.63" cy="276.13" r="2.0" fill="none" stroke="#666666" stroke-width="0.9"/><circle cx="557.84" cy="276.59" r="2.0" fill="none" stroke="#666666" stroke-width="0.9"/><circle cx="558.06" cy="276.47" r="2.0" fill="none" stroke="#666666" stroke-width="0.9"/><circle cx="558.28" cy="276.79" r="2.0" fill="none" stroke="#666666" stroke-width="0.9"/><circle cx="558.49" cy="276.78" r="2.0" fill="none" stroke="#666666" stroke-width="0.9"/><circle cx="558.71" cy="277.04" r="2.0" fill="none" stroke="#666666" stroke-width="0.9"/><circle cx="558.92" cy="276.99" r="2.0" fill="none" stroke="#666666" stroke-width="0.9"/><circle cx="559.14" cy="277.72" r="2.0" fill="none" stroke="#666666" stroke-width="0.9"/><circle cx="559.36" cy="277.32" r="2.0" fill="none" stroke="#666666" stroke-width="0.9"/><circle cx="559.57" cy="277.35" r="2.0" fill="none" stroke="#666666" stroke-width="0.9"/><circle cx="559.79" cy="276.64" r="2.0" fill="none" stroke="#666666" stroke-width="0.9"/><circle cx="560.00" cy="276.71" r="2.0" fill="none" stroke="#666666" stroke-width="0.9"/><circle cx="560.22" cy="276.56" r="2.0" fill="none" stroke="#666666" stroke-width="0.9"/><circle cx="560.44" cy="276.43" r="2.0" fill="none" stroke="#666666" stroke-width="0.9"/><circle cx="560.65" cy="277.06" r="2.0" fill="none" stroke="#666666" stroke-width="0.9"/><circle cx="560.87" cy="276.61" r="2.0" fill="none" stroke="#666666" stroke-width="0.9"/><circle cx="561.08" cy="276.32" r="2.0" fill="none" stroke="#666666" stroke-width="0.9"/><circle cx="561.30" cy="276.98" r="2.0" fill="none" stroke="#666666" stroke-width="0.9"/><circle cx="561.52" cy="276.63" r="2.0" fill="none" stroke="#666666" stroke-width="0.9"/><circle cx="561.73" cy="277.05" r="2.0" fill="none" stroke="#666666" stroke-width="0.9"/><circle cx="561.95" cy="277.54" r="2.0" fill="none" stroke="#666666" stroke-width="0.9"/><circle cx="562.16" cy="276.97" r="2.0" fill="none" stroke="#666666" stroke-width="0.9"/><circle cx="562.38" cy="277.29" r="2.0" fill="none" stroke="#666666" stroke-width="0.9"/><circle cx="562.60" cy="276.99" r="2.0" fill="none" stroke="#666666" stroke-width="0.9"/><circle cx="562.81" cy="277.19" r="2.0" fill="none" stroke="#666666" stroke-width="0.9"/><circle cx="563.03" cy="276.94" r="2.0" fill="none" stroke="#666666" stroke-width="0.9"/><circle cx="563.24" cy="277.76" r="2.0" fill="none" stroke="#666666" stroke-width="0.9"/><circle cx="563.46" cy="276.38" r="2.0" fill="none" stroke="#666666" stroke-width="0.9"/><circle cx="563.68" cy="276.62" r="2.0" fill="none" stroke="#666666" stroke-width="0.9"/><circle cx="563.89" cy="277.19" r="2.0" fill="none" stroke="#666666" stroke-width="0.9"/><circle cx="564.11" cy="277.38" r="2.0" fill="none" stroke="#666666" stroke-width="0.9"/><circle cx="564.32" cy="277.09" r="2.0" fill="none" stroke="#666666" stroke-width="0.9"/><circle cx="564.54" cy="276.88" r="2.0" fill="none" stroke="#666666" stroke-width="0.9"/><circle cx="564.76" cy="276.97" r="2.0" fill="none" stroke="#666666" stroke-width="0.9"/><circle cx="564.97" cy="276.99" r="2.0" fill="none" stroke="#666666" stroke-width="0.9"/><circle cx="565.19" cy="277.77" r="2.0" fill="none" stroke="#666666" stroke-width="0.9"/><circle cx="565.40" cy="277.50" r="2.0" fill="none" stroke="#666666" stroke-width="0.9"/><circle cx="565.62" cy="276.71" r="2.0" fill="none" stroke="#666666" stroke-width="0.9"/><circle cx="565.84" cy="277.07" r="2.0" fill="none" stroke="#666666" stroke-width="0.9"/><circle cx="566.05" cy="277.65" r="2.0" fill="none" stroke="#666666" stroke-width="0.9"/><circle cx="566.27" cy="277.45" r="2.0" fill="none" stroke="#666666" stroke-width="0.9"/><circle cx="566.48" cy="277.64" r="2.0" fill="none" stroke="#666666" stroke-width="0.9"/><circle cx="566.70" cy="277.51" r="2.0" fill="none" stroke="#666666" stroke-width="0.9"/><circle cx="566.92" cy="276.81" r="2.0" fill="none" stroke="#666666" stroke-width="0.9"/><circle cx="567.13" cy="277.26" r="2.0" fill="none" stroke="#666666" stroke-width="0.9"/><circle cx="567.35" cy="276.83" r="2.0" fill="none" stroke="#666666" stroke-width="0.9"/><circle cx="567.56" cy="277.13" r="2.0" fill="none" stroke="#666666" stroke-width="0.9"/><circle cx="567.78" cy="277.69" r="2.0" fill="none" stroke="#666666" stroke-width="0.9"/><circle cx="568.00" cy="277.41" r="2.0" fill="none" stroke="#666666" stroke-width="0.9"/><circle cx="568.21" cy="276.46" r="2.0" fill="none" stroke="#666666" stroke-width="0.9"/><circle cx="568.43" cy="277.46" r="2.0" fill="none" stroke="#666666" stroke-width="0.9"/><circle cx="568.64" cy="277.55" r="2.0" fill="none" stroke="#666666" stroke-width="0.9"/><circle cx="568.86" cy="276.81" r="2.0" fill="none" stroke="#666666" stroke-width="0.9"/><circle cx="569.08" cy="277.19" r="2.0" fill="none" stroke="#666666" stroke-width="0.9"/><circle cx="569.29" cy="277.22" r="2.0" fill="none" stroke="#666666" stroke-width="0.9"/><circle cx="569.51" cy="276.75" r="2.0" fill="none" stroke="#666666" stroke-width="0.9"/><circle cx="569.72" cy="277.80" r="2.0" fill="none" stroke="#666666" stroke-width="0.9"/><circle cx="569.94" cy="277.09" r="2.0" fill="none" stroke="#666666" stroke-width="0.9"/><circle cx="570.16" cy="277.57" r="2.0" fill="none" stroke="#666666" stroke-width="0.9"/><circle cx="570.37" cy="277.69" r="2.0" fill="none" stroke="#666666" stroke-width="0.9"/><circle cx="570.59" cy="277.50" r="2.0" fill="none" stroke="#666666" stroke-width="0.9"/><circle cx="570.80" cy="276.87" r="2.0" fill="none" stroke="#666666" stroke-width="0.9"/><circle cx="571.02" cy="277.29" r="2.0" fill="none" stroke="#666666" stroke-width="0.9"/><circle cx="571.24" cy="277.84" r="2.0" fill="none" stroke="#666666" stroke-width="0.9"/><circle cx="571.45" cy="277.61" r="2.0" fill="none" stroke="#666666" stroke-width="0.9"/><circle cx="571.67" cy="276.76" r="2.0" fill="none" stroke="#666666" stroke-width="0.9"/><circle cx="571.88" cy="276.93" r="2.0" fill="none" stroke="#666666" stroke-width="0.9"/><circle cx="572.10" cy="277.61" r="2.0" fill="none" stroke="#666666" stroke-width="0.9"/><circle cx="572.32" cy="276.48" r="2.0" fill="none" stroke="#666666" stroke-width="0.9"/><circle cx="572.53" cy="277.39" r="2.0" fill="none" stroke="#666666" stroke-width="0.9"/><circle cx="572.75" cy="277.66" r="2.0" fill="none" stroke="#666666" stroke-width="0.9"/><circle cx="572.96" cy="277.32" r="2.0" fill="none" stroke="#666666" stroke-width="0.9"/><circle cx="573.18" cy="276.97" r="2.0" fill="none" stroke="#666666" stroke-width="0.9"/><circle cx="573.40" cy="276.76" r="2.0" fill="none" stroke="#666666" stroke-width="0.9"/><circle cx="573.61" cy="276.95" r="2.0" fill="none" stroke="#666666" stroke-width="0.9"/><circle cx="573.83" cy="277.42" r="2.0" fill="none" stroke="#666666" stroke-width="0.9"/><circle cx="574.04" cy="277.47" r="2.0" fill="none" stroke="#666666" stroke-width="0.9"/><circle cx="574.26" cy="277.76" r="2.0" fill="none" stroke="#666666" stroke-width="0.9"/><circle cx="574.48" cy="277.32" r="2.0" fill="none" stroke="#666666" stroke-width="0.9"/><circle cx="574.69" cy="277.49" r="2.0" fill="none" stroke="#666666" stroke-width="0.9"/><circle cx="574.91" cy="277.22" r="2.0" fill="none" stroke="#666666" stroke-width="0.9"/><circle cx="575.12" cy="277.71" r="2.0" fill="none" stroke="#666666" stroke-width="0.9"/><circle cx="575.34" cy="277.47" r="2.0" fill="none" stroke="#666666" stroke-width="0.9"/><circle cx="575.56" cy="277.59" r="2.0" fill="none" stroke="#666666" stroke-width="0.9"/><circle cx="575.77" cy="277.70" r="2.0" fill="none" stroke="#666666" stroke-width="0.9"/><circle cx="575.99" cy="277.70" r="2.0" fill="none" stroke="#666666" stroke-width="0.9"/><circle cx="576.20" cy="277.65" r="2.0" fill="none" stroke="#666666" stroke-width="0.9"/><circle cx="576.42" cy="277.70" r="2.0" fill="none" stroke="#666666" stroke-width="0.9"/><circle cx="576.64" cy="277.15" r="2.0" fill="none" stroke="#666666" stroke-width="0.9"/><circle cx="576.85" cy="277.30" r="2.0" fill="none" stroke="#666666" stroke-width="0.9"/><circle cx="577.07" cy="277.76" r="2.0" fill="none" stroke="#666666" stroke-width="0.9"/><circle cx="577.28" cy="277.17" r="2.0" fill="none" stroke="#666666" stroke-width="0.9"/><circle cx="577.50" cy="277.25" r="2.0" fill="none" stroke="#666666" stroke-width="0.9"/><circle cx="577.72" cy="276.88" r="2.0" fill="none" stroke="#666666" stroke-width="0.9"/><circle cx="577.93" cy="277.41" r="2.0" fill="none" stroke="#666666" stroke-width="0.9"/><circle cx="578.15" cy="277.42" r="2.0" fill="none" stroke="#666666" stroke-width="0.9"/><circle cx="578.36" cy="277.57" r="2.0" fill="none" stroke="#666666" stroke-width="0.9"/><circle cx="578.58" cy="277.32" r="2.0" fill="none" stroke="#666666" stroke-width="0.9"/><circle cx="578.80" cy="277.20" r="2.0" fill="none" stroke="#666666" stroke-width="0.9"/><circle cx="579.01" cy="277.31" r="2.0" fill="none" stroke="#666666" stroke-width="0.9"/><circle cx="579.23" cy="277.45" r="2.0" fill="none" stroke="#666666" stroke-width="0.9"/><circle cx="579.44" cy="277.19" r="2.0" fill="none" stroke="#666666" stroke-width="0.9"/><circle cx="579.66" cy="277.34" r="2.0" fill="none" stroke="#666666" stroke-width="0.9"/><circle cx="579.88" cy="277.30" r="2.0" fill="none" stroke="#666666" stroke-width="0.9"/><circle cx="580.09" cy="277.67" r="2.0" fill="none" stroke="#666666" stroke-width="0.9"/><circle cx="580.31" cy="277.32" r="2.0" fill="none" stroke="#666666" stroke-width="0.9"/><circle cx="580.52" cy="277.70" r="2.0" fill="none" stroke="#666666" stroke-width="0.9"/><circle cx="580.74" cy="277.65" r="2.0" fill="none" stroke="#666666" stroke-width="0.9"/><circle cx="580.96" cy="277.34" r="2.0" fill="none" stroke="#666666" stroke-width="0.9"/><circle cx="581.17" cy="276.73" r="2.0" fill="none" stroke="#666666" stroke-width="0.9"/><circle cx="581.39" cy="277.08" r="2.0" fill="none" stroke="#666666" stroke-width="0.9"/><circle cx="581.60" cy="277.40" r="2.0" fill="none" stroke="#666666" stroke-width="0.9"/><circle cx="581.82" cy="277.46" r="2.0" fill="none" stroke="#666666" stroke-width="0.9"/><circle cx="582.04" cy="277.09" r="2.0" fill="none" stroke="#666666" stroke-width="0.9"/><circle cx="582.25" cy="276.97" r="2.0" fill="none" stroke="#666666" stroke-width="0.9"/><circle cx="582.47" cy="277.03" r="2.0" fill="none" stroke="#666666" stroke-width="0.9"/><circle cx="582.68" cy="277.47" r="2.0" fill="none" stroke="#666666" stroke-width="0.9"/><circle cx="582.90" cy="277.36" r="2.0" fill="none" stroke="#666666" stroke-width="0.9"/><circle cx="583.12" cy="277.53" r="2.0" fill="none" stroke="#666666" stroke-width="0.9"/><circle cx="583.33" cy="277.51" r="2.0" fill="none" stroke="#666666" stroke-width="0.9"/><circle cx="583.55" cy="277.70" r="2.0" fill="none" stroke="#666666" stroke-width="0.9"/><circle cx="583.76" cy="277.51" r="2.0" fill="none" stroke="#666666" stroke-width="0.9"/><circle cx="583.98" cy="278.11" r="2.0" fill="none" stroke="#666666" stroke-width="0.9"/><circle cx="584.20" cy="277.81" r="2.0" fill="none" stroke="#666666" stroke-width="0.9"/><circle cx="584.41" cy="277.31" r="2.0" fill="none" stroke="#666666" stroke-width="0.9"/><circle cx="584.63" cy="277.73" r="2.0" fill="none" stroke="#666666" stroke-width="0.9"/><circle cx="584.84" cy="277.28" r="2.0" fill="none" stroke="#666666" stroke-width="0.9"/><circle cx="585.06" cy="277.85" r="2.0" fill="none" stroke="#666666" stroke-width="0.9"/><circle cx="585.28" cy="277.57" r="2.0" fill="none" stroke="#666666" stroke-width="0.9"/><circle cx="585.49" cy="277.33" r="2.0" fill="none" stroke="#666666" stroke-width="0.9"/><circle cx="585.71" cy="277.78" r="2.0" fill="none" stroke="#666666" stroke-width="0.9"/><circle cx="585.92" cy="277.69" r="2.0" fill="none" stroke="#666666" stroke-width="0.9"/><circle cx="586.14" cy="276.70" r="2.0" fill="none" stroke="#666666" stroke-width="0.9"/><circle cx="586.36" cy="277.68" r="2.0" fill="none" stroke="#666666" stroke-width="0.9"/><circle cx="586.57" cy="277.69" r="2.0" fill="none" stroke="#666666" stroke-width="0.9"/><circle cx="586.79" cy="277.65" r="2.0" fill="none" stroke="#666666" stroke-width="0.9"/><circle cx="587.00" cy="277.47" r="2.0" fill="none" stroke="#666666" stroke-width="0.9"/><circle cx="587.22" cy="277.49" r="2.0" fill="none" stroke="#666666" stroke-width="0.9"/><circle cx="587.44" cy="277.18" r="2.0" fill="none" stroke="#666666" stroke-width="0.9"/><circle cx="587.65" cy="277.24" r="2.0" fill="none" stroke="#666666" stroke-width="0.9"/><circle cx="587.87" cy="277.62" r="2.0" fill="none" stroke="#666666" stroke-width="0.9"/><circle cx="588.08" cy="277.60" r="2.0" fill="none" stroke="#666666" stroke-width="0.9"/><circle cx="588.30" cy="277.94" r="2.0" fill="none" stroke="#666666" stroke-width="0.9"/><circle cx="588.52" cy="277.95" r="2.0" fill="none" stroke="#666666" stroke-width="0.9"/><circle cx="588.73" cy="277.71" r="2.0" fill="none" stroke="#666666" stroke-width="0.9"/><circle cx="588.95" cy="277.24" r="2.0" fill="none" stroke="#666666" stroke-width="0.9"/><circle cx="589.16" cy="277.42" r="2.0" fill="none" stroke="#666666" stroke-width="0.9"/><circle cx="589.38" cy="277.20" r="2.0" fill="none" stroke="#666666" stroke-width="0.9"/><circle cx="589.60" cy="277.15" r="2.0" fill="none" stroke="#666666" stroke-width="0.9"/><circle cx="589.81" cy="277.48" r="2.0" fill="none" stroke="#666666" stroke-width="0.9"/><circle cx="590.03" cy="276.76" r="2.0" fill="none" stroke="#666666" stroke-width="0.9"/><circle cx="590.24" cy="277.58" r="2.0" fill="none" stroke="#666666" stroke-width="0.9"/><circle cx="590.46" cy="277.60" r="2.0" fill="none" stroke="#666666" stroke-width="0.9"/><circle cx="590.68" cy="277.53" r="2.0" fill="none" stroke="#666666" stroke-width="0.9"/><circle cx="590.89" cy="277.02" r="2.0" fill="none" stroke="#666666" stroke-width="0.9"/><circle cx="591.11" cy="277.42" r="2.0" fill="none" stroke="#666666" stroke-width="0.9"/><circle cx="591.32" cy="277.60" r="2.0" fill="none" stroke="#666666" stroke-width="0.9"/><circle cx="591.54" cy="277.22" r="2.0" fill="none" stroke="#666666" stroke-width="0.9"/><circle cx="591.76" cy="276.99" r="2.0" fill="none" stroke="#666666" stroke-width="0.9"/><circle cx="591.97" cy="277.37" r="2.0" fill="none" stroke="#666666" stroke-width="0.9"/><circle cx="592.19" cy="277.41" r="2.0" fill="none" stroke="#666666" stroke-width="0.9"/><circle cx="592.40" cy="276.97" r="2.0" fill="none" stroke="#666666" stroke-width="0.9"/><circle cx="592.62" cy="276.99" r="2.0" fill="none" stroke="#666666" stroke-width="0.9"/><circle cx="592.84" cy="277.00" r="2.0" fill="none" stroke="#666666" stroke-width="0.9"/><circle cx="593.05" cy="277.54" r="2.0" fill="none" stroke="#666666" stroke-width="0.9"/><circle cx="593.27" cy="277.19" r="2.0" fill="none" stroke="#666666" stroke-width="0.9"/><circle cx="593.48" cy="277.15" r="2.0" fill="none" stroke="#666666" stroke-width="0.9"/><circle cx="593.70" cy="277.84" r="2.0" fill="none" stroke="#666666" stroke-width="0.9"/><circle cx="593.92" cy="276.86" r="2.0" fill="none" stroke="#666666" stroke-width="0.9"/><circle cx="594.13" cy="277.21" r="2.0" fill="none" stroke="#666666" stroke-width="0.9"/><circle cx="594.35" cy="277.34" r="2.0" fill="none" stroke="#666666" stroke-width="0.9"/><circle cx="594.56" cy="276.49" r="2.0" fill="none" stroke="#666666" stroke-width="0.9"/><circle cx="594.78" cy="277.17" r="2.0" fill="none" stroke="#666666" stroke-width="0.9"/><circle cx="595.00" cy="277.44" r="2.0" fill="none" stroke="#666666" stroke-width="0.9"/><circle cx="595.21" cy="277.22" r="2.0" fill="none" stroke="#666666" stroke-width="0.9"/><circle cx="595.43" cy="277.00" r="2.0" fill="none" stroke="#666666" stroke-width="0.9"/><circle cx="595.64" cy="276.91" r="2.0" fill="none" stroke="#666666" stroke-width="0.9"/><circle cx="595.86" cy="277.19" r="2.0" fill="none" stroke="#666666" stroke-width="0.9"/><circle cx="596.08" cy="277.44" r="2.0" fill="none" stroke="#666666" stroke-width="0.9"/><circle cx="596.29" cy="277.38" r="2.0" fill="none" stroke="#666666" stroke-width="0.9"/><circle cx="596.51" cy="277.41" r="2.0" fill="none" stroke="#666666" stroke-width="0.9"/><circle cx="596.72" cy="277.48" r="2.0" fill="none" stroke="#666666" stroke-width="0.9"/><circle cx="596.94" cy="277.13" r="2.0" fill="none" stroke="#666666" stroke-width="0.9"/><circle cx="597.16" cy="277.27" r="2.0" fill="none" stroke="#666666" stroke-width="0.9"/><circle cx="597.37" cy="277.08" r="2.0" fill="none" stroke="#666666" stroke-width="0.9"/><circle cx="597.59" cy="277.37" r="2.0" fill="none" stroke="#666666" stroke-width="0.9"/><circle cx="597.80" cy="277.37" r="2.0" fill="none" stroke="#666666" stroke-width="0.9"/><circle cx="598.02" cy="277.13" r="2.0" fill="none" stroke="#666666" stroke-width="0.9"/><circle cx="598.24" cy="277.18" r="2.0" fill="none" stroke="#666666" stroke-width="0.9"/><circle cx="598.45" cy="276.67" r="2.0" fill="none" stroke="#666666" stroke-width="0.9"/><circle cx="598.67" cy="277.35" r="2.0" fill="none" stroke="#666666" stroke-width="0.9"/><circle cx="598.88" cy="276.97" r="2.0" fill="none" stroke="#666666" stroke-width="0.9"/><circle cx="599.10" cy="277.04" r="2.0" fill="none" stroke="#666666" stroke-width="0.9"/><circle cx="599.32" cy="277.43" r="2.0" fill="none" stroke="#666666" stroke-width="0.9"/><circle cx="599.53" cy="276.71" r="2.0" fill="none" stroke="#666666" stroke-width="0.9"/><circle cx="599.75" cy="276.86" r="2.0" fill="none" stroke="#666666" stroke-width="0.9"/><circle cx="599.96" cy="277.61" r="2.0" fill="none" stroke="#666666" stroke-width="0.9"/><circle cx="600.18" cy="276.64" r="2.0" fill="none" stroke="#666666" stroke-width="0.9"/><circle cx="600.40" cy="276.49" r="2.0" fill="none" stroke="#666666" stroke-width="0.9"/><circle cx="600.61" cy="277.06" r="2.0" fill="none" stroke="#666666" stroke-width="0.9"/><circle cx="600.83" cy="276.14" r="2.0" fill="none" stroke="#666666" stroke-width="0.9"/><circle cx="601.04" cy="276.65" r="2.0" fill="none" stroke="#666666" stroke-width="0.9"/><circle cx="601.26" cy="277.09" r="2.0" fill="none" stroke="#666666" stroke-width="0.9"/><circle cx="601.48" cy="276.44" r="2.0" fill="none" stroke="#666666" stroke-width="0.9"/><circle cx="601.69" cy="276.74" r="2.0" fill="none" stroke="#666666" stroke-width="0.9"/><circle cx="601.91" cy="277.06" r="2.0" fill="none" stroke="#666666" stroke-width="0.9"/><circle cx="602.12" cy="277.32" r="2.0" fill="none" stroke="#666666" stroke-width="0.9"/><circle cx="602.34" cy="276.41" r="2.0" fill="none" stroke="#666666" stroke-width="0.9"/><circle cx="602.56" cy="276.74" r="2.0" fill="none" stroke="#666666" stroke-width="0.9"/><circle cx="602.77" cy="276.19" r="2.0" fill="none" stroke="#666666" stroke-width="0.9"/><circle cx="602.99" cy="276.25" r="2.0" fill="none" stroke="#666666" stroke-width="0.9"/><circle cx="603.20" cy="276.56" r="2.0" fill="none" stroke="#666666" stroke-width="0.9"/><circle cx="603.42" cy="276.53" r="2.0" fill="none" stroke="#666666" stroke-width="0.9"/><circle cx="603.64" cy="275.61" r="2.0" fill="none" stroke="#666666" stroke-width="0.9"/><circle cx="603.85" cy="275.60" r="2.0" fill="none" stroke="#666666" stroke-width="0.9"/><circle cx="604.07" cy="275.84" r="2.0" fill="none" stroke="#666666" stroke-width="0.9"/><circle cx="604.28" cy="276.07" r="2.0" fill="none" stroke="#666666" stroke-width="0.9"/><circle cx="604.50" cy="276.12" r="2.0" fill="none" stroke="#666666" stroke-width="0.9"/><circle cx="604.72" cy="275.67" r="2.0" fill="none" stroke="#666666" stroke-width="0.9"/><circle cx="604.93" cy="274.55" r="2.0" fill="none" stroke="#666666" stroke-width="0.9"/><circle cx="605.15" cy="274.87" r="2.0" fill="none" stroke="#666666" stroke-width="0.9"/><circle cx="605.36" cy="275.01" r="2.0" fill="none" stroke="#666666" stroke-width="0.9"/><circle cx="605.58" cy="275.25" r="2.0" fill="none" stroke="#666666" stroke-width="0.9"/><circle cx="605.80" cy="274.37" r="2.0" fill="none" stroke="#666666" stroke-width="0.9"/><circle cx="606.01" cy="274.69" r="2.0" fill="none" stroke="#666666" stroke-width="0.9"/><circle cx="606.23" cy="274.03" r="2.0" fill="none" stroke="#666666" stroke-width="0.9"/><circle cx="606.44" cy="273.43" r="2.0" fill="none" stroke="#666666" stroke-width="0.9"/><circle cx="606.66" cy="273.03" r="2.0" fill="none" stroke="#666666" stroke-width="0.9"/><circle cx="606.88" cy="273.32" r="2.0" fill="none" stroke="#666666" stroke-width="0.9"/><circle cx="607.09" cy="273.39" r="2.0" fill="none" stroke="#666666" stroke-width="0.9"/><circle cx="607.31" cy="272.85" r="2.0" fill="none" stroke="#666666" stroke-width="0.9"/><circle cx="607.52" cy="271.70" r="2.0" fill="none" stroke="#666666" stroke-width="0.9"/><circle cx="607.74" cy="272.33" r="2.0" fill="none" stroke="#666666" stroke-width="0.9"/><circle cx="607.96" cy="273.22" r="2.0" fill="none" stroke="#666666" stroke-width="0.9"/><circle cx="608.17" cy="271.05" r="2.0" fill="none" stroke="#666666" stroke-width="0.9"/><circle cx="608.39" cy="271.55" r="2.0" fill="none" stroke="#666666" stroke-width="0.9"/><circle cx="608.60" cy="260.21" r="2.0" fill="none" stroke="#666666" stroke-width="0.9"/><circle cx="608.82" cy="272.54" r="2.0" fill="none" stroke="#666666" stroke-width="0.9"/><circle cx="609.04" cy="271.00" r="2.0" fill="none" stroke="#666666" stroke-width="0.9"/><circle cx="609.25" cy="271.32" r="2.0" fill="none" stroke="#666666" stroke-width="0.9"/><circle cx="609.47" cy="268.82" r="2.0" fill="none" stroke="#666666" stroke-width="0.9"/><circle cx="609.68" cy="271.55" r="2.0" fill="none" stroke="#666666" stroke-width="0.9"/><circle cx="609.90" cy="274.09" r="2.0" fill="none" stroke="#666666" stroke-width="0.9"/><circle cx="610.12" cy="275.18" r="2.0" fill="none" stroke="#666666" stroke-width="0.9"/><circle cx="610.33" cy="269.08" r="2.0" fill="none" stroke="#666666" stroke-width="0.9"/><circle cx="610.55" cy="270.00" r="2.0" fill="none" stroke="#666666" stroke-width="0.9"/><circle cx="610.76" cy="269.87" r="2.0" fill="none" stroke="#666666" stroke-width="0.9"/><circle cx="610.98" cy="260.88" r="2.0" fill="none" stroke="#666666" stroke-width="0.9"/><circle cx="611.20" cy="264.80" r="2.0" fill="none" stroke="#666666" stroke-width="0.9"/><circle cx="611.41" cy="263.51" r="2.0" fill="none" stroke="#666666" stroke-width="0.9"/><circle cx="611.63" cy="268.27" r="2.0" fill="none" stroke="#666666" stroke-width="0.9"/><circle cx="611.84" cy="265.37" r="2.0" fill="none" stroke="#666666" stroke-width="0.9"/><circle cx="612.06" cy="266.68" r="2.0" fill="none" stroke="#666666" stroke-width="0.9"/><circle cx="612.28" cy="266.37" r="2.0" fill="none" stroke="#666666" stroke-width="0.9"/><circle cx="612.49" cy="263.04" r="2.0" fill="none" stroke="#666666" stroke-width="0.9"/><circle cx="612.71" cy="263.21" r="2.0" fill="none" stroke="#666666" stroke-width="0.9"/><circle cx="612.92" cy="263.88" r="2.0" fill="none" stroke="#666666" stroke-width="0.9"/><circle cx="613.14" cy="264.09" r="2.0" fill="none" stroke="#666666" stroke-width="0.9"/><circle cx="613.36" cy="268.90" r="2.0" fill="none" stroke="#666666" stroke-width="0.9"/><circle cx="613.57" cy="266.36" r="2.0" fill="none" stroke="#666666" stroke-width="0.9"/><circle cx="613.79" cy="262.49" r="2.0" fill="none" stroke="#666666" stroke-width="0.9"/><circle cx="614.00" cy="264.59" r="2.0" fill="none" stroke="#666666" stroke-width="0.9"/><circle cx="614.22" cy="265.63" r="2.0" fill="none" stroke="#666666" stroke-width="0.9"/><circle cx="614.44" cy="261.71" r="2.0" fill="none" stroke="#666666" stroke-width="0.9"/><circle cx="614.65" cy="265.52" r="2.0" fill="none" stroke="#666666" stroke-width="0.9"/><circle cx="614.87" cy="264.43" r="2.0" fill="none" stroke="#666666" stroke-width="0.9"/><circle cx="615.08" cy="259.17" r="2.0" fill="none" stroke="#666666" stroke-width="0.9"/><circle cx="615.30" cy="262.85" r="2.0" fill="none" stroke="#666666" stroke-width="0.9"/><circle cx="615.52" cy="256.84" r="2.0" fill="none" stroke="#666666" stroke-width="0.9"/><circle cx="615.73" cy="259.46" r="2.0" fill="none" stroke="#666666" stroke-width="0.9"/><circle cx="615.95" cy="258.25" r="2.0" fill="none" stroke="#666666" stroke-width="0.9"/><circle cx="616.16" cy="256.94" r="2.0" fill="none" stroke="#666666" stroke-width="0.9"/><circle cx="616.38" cy="267.19" r="2.0" fill="none" stroke="#666666" stroke-width="0.9"/><circle cx="616.60" cy="260.24" r="2.0" fill="none" stroke="#666666" stroke-width="0.9"/><circle cx="616.81" cy="263.83" r="2.0" fill="none" stroke="#666666" stroke-width="0.9"/><circle cx="617.03" cy="260.90" r="2.0" fill="none" stroke="#666666" stroke-width="0.9"/><circle cx="617.24" cy="259.46" r="2.0" fill="none" stroke="#666666" stroke-width="0.9"/><circle cx="617.46" cy="254.86" r="2.0" fill="none" stroke="#666666" stroke-width="0.9"/><circle cx="617.68" cy="258.69" r="2.0" fill="none" stroke="#666666" stroke-width="0.9"/><circle cx="617.89" cy="253.02" r="2.0" fill="none" stroke="#666666" stroke-width="0.9"/><circle cx="618.11" cy="259.59" r="2.0" fill="none" stroke="#666666" stroke-width="0.9"/><circle cx="618.32" cy="257.67" r="2.0" fill="none" stroke="#666666" stroke-width="0.9"/><circle cx="618.54" cy="256.78" r="2.0" fill="none" stroke="#666666" stroke-width="0.9"/><circle cx="618.76" cy="253.64" r="2.0" fill="none" stroke="#666666" stroke-width="0.9"/><circle cx="618.97" cy="256.40" r="2.0" fill="none" stroke="#666666" stroke-width="0.9"/><circle cx="619.19" cy="257.79" r="2.0" fill="none" stroke="#666666" stroke-width="0.9"/><circle cx="619.40" cy="256.45" r="2.0" fill="none" stroke="#666666" stroke-width="0.9"/><circle cx="619.62" cy="259.45" r="2.0" fill="none" stroke="#666666" stroke-width="0.9"/><circle cx="619.84" cy="250.53" r="2.0" fill="none" stroke="#666666" stroke-width="0.9"/><circle cx="620.05" cy="251.75" r="2.0" fill="none" stroke="#666666" stroke-width="0.9"/><circle cx="620.27" cy="252.35" r="2.0" fill="none" stroke="#666666" stroke-width="0.9"/><circle cx="620.48" cy="252.41" r="2.0" fill="none" stroke="#666666" stroke-width="0.9"/><circle cx="620.70" cy="254.81" r="2.0" fill="none" stroke="#666666" stroke-width="0.9"/><circle cx="620.92" cy="253.75" r="2.0" fill="none" stroke="#666666" stroke-width="0.9"/><circle cx="621.13" cy="249.46" r="2.0" fill="none" stroke="#666666" stroke-width="0.9"/><circle cx="621.35" cy="254.13" r="2.0" fill="none" stroke="#666666" stroke-width="0.9"/><circle cx="621.56" cy="253.69" r="2.0" fill="none" stroke="#666666" stroke-width="0.9"/><circle cx="621.78" cy="245.74" r="2.0" fill="none" stroke="#666666" stroke-width="0.9"/><circle cx="622.00" cy="245.38" r="2.0" fill="none" stroke="#666666" stroke-width="0.9"/><circle cx="622.21" cy="248.64" r="2.0" fill="none" stroke="#666666" stroke-width="0.9"/><circle cx="622.43" cy="246.98" r="2.0" fill="none" stroke="#666666" stroke-width="0.9"/><circle cx="622.64" cy="247.18" r="2.0" fill="none" stroke="#666666" stroke-width="0.9"/><circle cx="622.86" cy="242.33" r="2.0" fill="none" stroke="#666666" stroke-width="0.9"/><circle cx="623.08" cy="247.39" r="2.0" fill="none" stroke="#666666" stroke-width="0.9"/><circle cx="623.29" cy="244.81" r="2.0" fill="none" stroke="#666666" stroke-width="0.9"/><circle cx="623.51" cy="242.63" r="2.0" fill="none" stroke="#666666" stroke-width="0.9"/><circle cx="623.72" cy="238.68" r="2.0" fill="none" stroke="#666666" stroke-width="0.9"/><circle cx="623.94" cy="243.17" r="2.0" fill="none" stroke="#666666" stroke-width="0.9"/><circle cx="624.16" cy="240.16" r="2.0" fill="none" stroke="#666666" stroke-width="0.9"/><circle cx="624.37" cy="241.00" r="2.0" fill="none" stroke="#666666" stroke-width="0.9"/><circle cx="624.59" cy="240.05" r="2.0" fill="none" stroke="#666666" stroke-width="0.9"/><circle cx="624.80" cy="238.32" r="2.0" fill="none" stroke="#666666" stroke-width="0.9"/><circle cx="625.02" cy="234.78" r="2.0" fill="none" stroke="#666666" stroke-width="0.9"/><circle cx="625.24" cy="230.92" r="2.0" fill="none" stroke="#666666" stroke-width="0.9"/><circle cx="625.45" cy="234.20" r="2.0" fill="none" stroke="#666666" stroke-width="0.9"/><circle cx="625.67" cy="232.51" r="2.0" fill="none" stroke="#666666" stroke-width="0.9"/><circle cx="625.88" cy="230.45" r="2.0" fill="none" stroke="#666666" stroke-width="0.9"/><circle cx="626.10" cy="226.50" r="2.0" fill="none" stroke="#666666" stroke-width="0.9"/><circle cx="626.32" cy="223.82" r="2.0" fill="none" stroke="#666666" stroke-width="0.9"/><circle cx="626.53" cy="228.56" r="2.0" fill="none" stroke="#666666" stroke-width="0.9"/><circle cx="626.75" cy="220.57" r="2.0" fill="none" stroke="#666666" stroke-width="0.9"/><circle cx="626.96" cy="223.39" r="2.0" fill="none" stroke="#666666" stroke-width="0.9"/><circle cx="627.18" cy="214.52" r="2.0" fill="none" stroke="#666666" stroke-width="0.9"/><circle cx="627.40" cy="218.99" r="2.0" fill="none" stroke="#666666" stroke-width="0.9"/><circle cx="627.61" cy="217.36" r="2.0" fill="none" stroke="#666666" stroke-width="0.9"/><circle cx="627.83" cy="213.58" r="2.0" fill="none" stroke="#666666" stroke-width="0.9"/><circle cx="628.04" cy="208.40" r="2.0" fill="none" stroke="#666666" stroke-width="0.9"/><circle cx="628.26" cy="210.37" r="2.0" fill="none" stroke="#666666" stroke-width="0.9"/><circle cx="628.48" cy="202.38" r="2.0" fill="none" stroke="#666666" stroke-width="0.9"/><circle cx="628.69" cy="200.30" r="2.0" fill="none" stroke="#666666" stroke-width="0.9"/><circle cx="628.91" cy="200.91" r="2.0" fill="none" stroke="#666666" stroke-width="0.9"/><circle cx="629.12" cy="202.99" r="2.0" fill="none" stroke="#666666" stroke-width="0.9"/><circle cx="629.34" cy="203.23" r="2.0" fill="none" stroke="#666666" stroke-width="0.9"/><circle cx="629.56" cy="213.33" r="2.0" fill="none" stroke="#666666" stroke-width="0.9"/><circle cx="629.77" cy="213.70" r="2.0" fill="none" stroke="#666666" stroke-width="0.9"/><circle cx="629.99" cy="217.61" r="2.0" fill="none" stroke="#666666" stroke-width="0.9"/><circle cx="630.20" cy="228.86" r="2.0" fill="none" stroke="#666666" stroke-width="0.9"/><circle cx="630.42" cy="223.70" r="2.0" fill="none" stroke="#666666" stroke-width="0.9"/><circle cx="630.64" cy="231.32" r="2.0" fill="none" stroke="#666666" stroke-width="0.9"/><circle cx="630.85" cy="233.87" r="2.0" fill="none" stroke="#666666" stroke-width="0.9"/><circle cx="631.07" cy="235.48" r="2.0" fill="none" stroke="#666666" stroke-width="0.9"/><circle cx="631.28" cy="236.43" r="2.0" fill="none" stroke="#666666" stroke-width="0.9"/><circle cx="631.50" cy="238.36" r="2.0" fill="none" stroke="#666666" stroke-width="0.9"/><circle cx="631.72" cy="240.56" r="2.0" fill="none" stroke="#666666" stroke-width="0.9"/><circle cx="631.93" cy="245.86" r="2.0" fill="none" stroke="#666666" stroke-width="0.9"/><circle cx="632.15" cy="244.96" r="2.0" fill="none" stroke="#666666" stroke-width="0.9"/><circle cx="632.36" cy="247.50" r="2.0" fill="none" stroke="#666666" stroke-width="0.9"/><circle cx="632.58" cy="251.01" r="2.0" fill="none" stroke="#666666" stroke-width="0.9"/><circle cx="632.80" cy="252.18" r="2.0" fill="none" stroke="#666666" stroke-width="0.9"/><circle cx="633.01" cy="252.65" r="2.0" fill="none" stroke="#666666" stroke-width="0.9"/><circle cx="633.23" cy="255.79" r="2.0" fill="none" stroke="#666666" stroke-width="0.9"/><circle cx="633.44" cy="258.50" r="2.0" fill="none" stroke="#666666" stroke-width="0.9"/><circle cx="633.66" cy="262.33" r="2.0" fill="none" stroke="#666666" stroke-width="0.9"/><circle cx="633.88" cy="264.28" r="2.0" fill="none" stroke="#666666" stroke-width="0.9"/><circle cx="634.09" cy="266.56" r="2.0" fill="none" stroke="#666666" stroke-width="0.9"/><circle cx="634.31" cy="269.99" r="2.0" fill="none" stroke="#666666" stroke-width="0.9"/><circle cx="634.52" cy="272.19" r="2.0" fill="none" stroke="#666666" stroke-width="0.9"/><circle cx="634.74" cy="270.74" r="2.0" fill="none" stroke="#666666" stroke-width="0.9"/><circle cx="634.96" cy="272.95" r="2.0" fill="none" stroke="#666666" stroke-width="0.9"/><circle cx="635.17" cy="274.14" r="2.0" fill="none" stroke="#666666" stroke-width="0.9"/><circle cx="635.39" cy="275.34" r="2.0" fill="none" stroke="#666666" stroke-width="0.9"/><circle cx="635.60" cy="274.72" r="2.0" fill="none" stroke="#666666" stroke-width="0.9"/><circle cx="635.82" cy="275.22" r="2.0" fill="none" stroke="#666666" stroke-width="0.9"/><circle cx="636.04" cy="276.07" r="2.0" fill="none" stroke="#666666" stroke-width="0.9"/><circle cx="636.25" cy="276.78" r="2.0" fill="none" stroke="#666666" stroke-width="0.9"/><circle cx="636.47" cy="276.14" r="2.0" fill="none" stroke="#666666" stroke-width="0.9"/><circle cx="636.68" cy="276.70" r="2.0" fill="none" stroke="#666666" stroke-width="0.9"/><circle cx="636.90" cy="276.89" r="2.0" fill="none" stroke="#666666" stroke-width="0.9"/><circle cx="637.12" cy="276.67" r="2.0" fill="none" stroke="#666666" stroke-width="0.9"/><circle cx="637.33" cy="276.64" r="2.0" fill="none" stroke="#666666" stroke-width="0.9"/><circle cx="637.55" cy="276.71" r="2.0" fill="none" stroke="#666666" stroke-width="0.9"/><circle cx="637.76" cy="276.60" r="2.0" fill="none" stroke="#666666" stroke-width="0.9"/><circle cx="637.98" cy="277.51" r="2.0" fill="none" stroke="#666666" stroke-width="0.9"/><circle cx="638.20" cy="276.22" r="2.0" fill="none" stroke="#666666" stroke-width="0.9"/><circle cx="638.41" cy="276.97" r="2.0" fill="none" stroke="#666666" stroke-width="0.9"/><circle cx="638.63" cy="276.57" r="2.0" fill="none" stroke="#666666" stroke-width="0.9"/><circle cx="638.84" cy="277.08" r="2.0" fill="none" stroke="#666666" stroke-width="0.9"/><circle cx="639.06" cy="276.76" r="2.0" fill="none" stroke="#666666" stroke-width="0.9"/><circle cx="639.28" cy="276.89" r="2.0" fill="none" stroke="#666666" stroke-width="0.9"/><circle cx="639.49" cy="277.39" r="2.0" fill="none" stroke="#666666" stroke-width="0.9"/><circle cx="639.71" cy="276.73" r="2.0" fill="none" stroke="#666666" stroke-width="0.9"/><circle cx="639.92" cy="276.66" r="2.0" fill="none" stroke="#666666" stroke-width="0.9"/><circle cx="640.14" cy="277.27" r="2.0" fill="none" stroke="#666666" stroke-width="0.9"/><circle cx="640.36" cy="277.61" r="2.0" fill="none" stroke="#666666" stroke-width="0.9"/><circle cx="640.57" cy="277.13" r="2.0" fill="none" stroke="#666666" stroke-width="0.9"/><circle cx="640.79" cy="277.21" r="2.0" fill="none" stroke="#666666" stroke-width="0.9"/><circle cx="641.00" cy="276.91" r="2.0" fill="none" stroke="#666666" stroke-width="0.9"/><circle cx="641.22" cy="276.96" r="2.0" fill="none" stroke="#666666" stroke-width="0.9"/><circle cx="641.44" cy="276.43" r="2.0" fill="none" stroke="#666666" stroke-width="0.9"/><circle cx="641.65" cy="276.77" r="2.0" fill="none" stroke="#666666" stroke-width="0.9"/><circle cx="641.87" cy="277.08" r="2.0" fill="none" stroke="#666666" stroke-width="0.9"/><circle cx="642.08" cy="276.96" r="2.0" fill="none" stroke="#666666" stroke-width="0.9"/><circle cx="642.30" cy="277.98" r="2.0" fill="none" stroke="#666666" stroke-width="0.9"/><circle cx="642.52" cy="277.31" r="2.0" fill="none" stroke="#666666" stroke-width="0.9"/><circle cx="642.73" cy="277.31" r="2.0" fill="none" stroke="#666666" stroke-width="0.9"/><circle cx="642.95" cy="277.03" r="2.0" fill="none" stroke="#666666" stroke-width="0.9"/><circle cx="643.16" cy="276.88" r="2.0" fill="none" stroke="#666666" stroke-width="0.9"/><circle cx="643.38" cy="276.90" r="2.0" fill="none" stroke="#666666" stroke-width="0.9"/><circle cx="643.60" cy="276.65" r="2.0" fill="none" stroke="#666666" stroke-width="0.9"/><circle cx="643.81" cy="277.18" r="2.0" fill="none" stroke="#666666" stroke-width="0.9"/><circle cx="644.03" cy="276.84" r="2.0" fill="none" stroke="#666666" stroke-width="0.9"/><circle cx="644.24" cy="276.97" r="2.0" fill="none" stroke="#666666" stroke-width="0.9"/><circle cx="644.46" cy="276.92" r="2.0" fill="none" stroke="#666666" stroke-width="0.9"/><circle cx="644.68" cy="276.80" r="2.0" fill="none" stroke="#666666" stroke-width="0.9"/><circle cx="644.89" cy="276.99" r="2.0" fill="none" stroke="#666666" stroke-width="0.9"/><circle cx="645.11" cy="276.82" r="2.0" fill="none" stroke="#666666" stroke-width="0.9"/><circle cx="645.32" cy="276.89" r="2.0" fill="none" stroke="#666666" stroke-width="0.9"/><circle cx="645.54" cy="276.52" r="2.0" fill="none" stroke="#666666" stroke-width="0.9"/><circle cx="645.76" cy="276.90" r="2.0" fill="none" stroke="#666666" stroke-width="0.9"/><circle cx="645.97" cy="276.74" r="2.0" fill="none" stroke="#666666" stroke-width="0.9"/><circle cx="646.19" cy="275.95" r="2.0" fill="none" stroke="#666666" stroke-width="0.9"/><circle cx="646.40" cy="276.61" r="2.0" fill="none" stroke="#666666" stroke-width="0.9"/><circle cx="646.62" cy="276.64" r="2.0" fill="none" stroke="#666666" stroke-width="0.9"/><circle cx="646.84" cy="276.43" r="2.0" fill="none" stroke="#666666" stroke-width="0.9"/><circle cx="647.05" cy="277.14" r="2.0" fill="none" stroke="#666666" stroke-width="0.9"/><circle cx="647.27" cy="276.54" r="2.0" fill="none" stroke="#666666" stroke-width="0.9"/><circle cx="647.48" cy="276.51" r="2.0" fill="none" stroke="#666666" stroke-width="0.9"/><circle cx="647.70" cy="276.61" r="2.0" fill="none" stroke="#666666" stroke-width="0.9"/><circle cx="647.92" cy="276.41" r="2.0" fill="none" stroke="#666666" stroke-width="0.9"/><circle cx="648.13" cy="276.47" r="2.0" fill="none" stroke="#666666" stroke-width="0.9"/><circle cx="648.35" cy="276.32" r="2.0" fill="none" stroke="#666666" stroke-width="0.9"/><circle cx="648.56" cy="276.94" r="2.0" fill="none" stroke="#666666" stroke-width="0.9"/><circle cx="648.78" cy="276.56" r="2.0" fill="none" stroke="#666666" stroke-width="0.9"/><circle cx="649.00" cy="276.89" r="2.0" fill="none" stroke="#666666" stroke-width="0.9"/><circle cx="649.21" cy="276.25" r="2.0" fill="none" stroke="#666666" stroke-width="0.9"/><circle cx="649.43" cy="276.63" r="2.0" fill="none" stroke="#666666" stroke-width="0.9"/><circle cx="649.64" cy="277.12" r="2.0" fill="none" stroke="#666666" stroke-width="0.9"/><circle cx="649.86" cy="276.62" r="2.0" fill="none" stroke="#666666" stroke-width="0.9"/><circle cx="650.08" cy="277.00" r="2.0" fill="none" stroke="#666666" stroke-width="0.9"/><circle cx="650.29" cy="276.29" r="2.0" fill="none" stroke="#666666" stroke-width="0.9"/><circle cx="650.51" cy="276.72" r="2.0" fill="none" stroke="#666666" stroke-width="0.9"/><circle cx="650.72" cy="277.32" r="2.0" fill="none" stroke="#666666" stroke-width="0.9"/><circle cx="650.94" cy="276.61" r="2.0" fill="none" stroke="#666666" stroke-width="0.9"/><circle cx="651.16" cy="276.04" r="2.0" fill="none" stroke="#666666" stroke-width="0.9"/><circle cx="651.37" cy="276.23" r="2.0" fill="none" stroke="#666666" stroke-width="0.9"/><circle cx="651.59" cy="276.52" r="2.0" fill="none" stroke="#666666" stroke-width="0.9"/><circle cx="651.80" cy="275.98" r="2.0" fill="none" stroke="#666666" stroke-width="0.9"/><circle cx="652.02" cy="275.94" r="2.0" fill="none" stroke="#666666" stroke-width="0.9"/><circle cx="652.24" cy="275.53" r="2.0" fill="none" stroke="#666666" stroke-width="0.9"/><circle cx="652.45" cy="275.68" r="2.0" fill="none" stroke="#666666" stroke-width="0.9"/><circle cx="652.67" cy="275.83" r="2.0" fill="none" stroke="#666666" stroke-width="0.9"/><circle cx="652.88" cy="276.22" r="2.0" fill="none" stroke="#666666" stroke-width="0.9"/><circle cx="653.10" cy="275.73" r="2.0" fill="none" stroke="#666666" stroke-width="0.9"/><circle cx="653.32" cy="275.66" r="2.0" fill="none" stroke="#666666" stroke-width="0.9"/><circle cx="653.53" cy="275.71" r="2.0" fill="none" stroke="#666666" stroke-width="0.9"/><circle cx="653.75" cy="275.48" r="2.0" fill="none" stroke="#666666" stroke-width="0.9"/><circle cx="653.96" cy="276.08" r="2.0" fill="none" stroke="#666666" stroke-width="0.9"/><circle cx="654.18" cy="275.29" r="2.0" fill="none" stroke="#666666" stroke-width="0.9"/><circle cx="654.40" cy="275.46" r="2.0" fill="none" stroke="#666666" stroke-width="0.9"/><circle cx="654.61" cy="275.22" r="2.0" fill="none" stroke="#666666" stroke-width="0.9"/><circle cx="654.83" cy="275.32" r="2.0" fill="none" stroke="#666666" stroke-width="0.9"/><circle cx="655.04" cy="275.31" r="2.0" fill="none" stroke="#666666" stroke-width="0.9"/><circle cx="655.26" cy="274.96" r="2.0" fill="none" stroke="#666666" stroke-width="0.9"/><circle cx="655.48" cy="274.62" r="2.0" fill="none" stroke="#666666" stroke-width="0.9"/><circle cx="655.69" cy="275.02" r="2.0" fill="none" stroke="#666666" stroke-width="0.9"/><circle cx="655.91" cy="274.63" r="2.0" fill="none" stroke="#666666" stroke-width="0.9"/><circle cx="656.12" cy="275.04" r="2.0" fill="none" stroke="#666666" stroke-width="0.9"/><circle cx="656.34" cy="274.38" r="2.0" fill="none" stroke="#666666" stroke-width="0.9"/><circle cx="656.56" cy="274.47" r="2.0" fill="none" stroke="#666666" stroke-width="0.9"/><circle cx="656.77" cy="275.00" r="2.0" fill="none" stroke="#666666" stroke-width="0.9"/><circle cx="656.99" cy="273.71" r="2.0" fill="none" stroke="#666666" stroke-width="0.9"/><circle cx="657.20" cy="274.63" r="2.0" fill="none" stroke="#666666" stroke-width="0.9"/><circle cx="657.42" cy="274.04" r="2.0" fill="none" stroke="#666666" stroke-width="0.9"/><circle cx="657.64" cy="274.65" r="2.0" fill="none" stroke="#666666" stroke-width="0.9"/><circle cx="657.85" cy="274.78" r="2.0" fill="none" stroke="#666666" stroke-width="0.9"/><circle cx="658.07" cy="273.44" r="2.0" fill="none" stroke="#666666" stroke-width="0.9"/><circle cx="658.28" cy="274.42" r="2.0" fill="none" stroke="#666666" stroke-width="0.9"/><circle cx="658.50" cy="274.69" r="2.0" fill="none" stroke="#666666" stroke-width="0.9"/><circle cx="658.72" cy="273.60" r="2.0" fill="none" stroke="#666666" stroke-width="0.9"/><circle cx="658.93" cy="274.23" r="2.0" fill="none" stroke="#666666" stroke-width="0.9"/><circle cx="659.15" cy="273.40" r="2.0" fill="none" stroke="#666666" stroke-width="0.9"/><circle cx="659.36" cy="272.17" r="2.0" fill="none" stroke="#666666" stroke-width="0.9"/><circle cx="659.58" cy="273.31" r="2.0" fill="none" stroke="#666666" stroke-width="0.9"/></g>
<circle cx="595.05" cy="182.10" r="2.0" fill="none" stroke="#666666" stroke-width="0.9"/>
<text x="604.60" y="185.20" font-size="7.4" fill="#000" text-anchor="start"  textLength="50.0" lengthAdjust="spacingAndGlyphs" stroke="#000" stroke-width="0.22">PTFMB-0%LiCl</text>
<text x="0" y="0" font-size="7.0" fill="#000" text-anchor="middle" transform="translate(522.40,227.40) rotate(-90)"  textLength="63.5" lengthAdjust="spacingAndGlyphs" stroke="#000" stroke-width="0.22">Normalized Intensity</text>
<text x="602.50" y="293.90" font-size="6.8" fill="#000" text-anchor="middle"  stroke="#000" stroke-width="0.22">2θ (°)</text>
<rect x="534.70" y="301.60" width="128.00" height="102.20" fill="none" stroke="#2a2a2a" stroke-width="1.0"/>
<line x1="532.50" y1="403.20" x2="534.70" y2="403.20" stroke="#222" stroke-width="0.8" />
<text x="531.90" y="405.20" font-size="5.8" fill="#000" text-anchor="end"  stroke="#000" stroke-width="0.22">0.0</text>
<line x1="532.50" y1="387.50" x2="534.70" y2="387.50" stroke="#222" stroke-width="0.8" />
<text x="531.90" y="389.50" font-size="5.8" fill="#000" text-anchor="end"  stroke="#000" stroke-width="0.22">0.2</text>
<line x1="532.50" y1="371.80" x2="534.70" y2="371.80" stroke="#222" stroke-width="0.8" />
<text x="531.90" y="373.80" font-size="5.8" fill="#000" text-anchor="end"  stroke="#000" stroke-width="0.22">0.4</text>
<line x1="532.50" y1="356.10" x2="534.70" y2="356.10" stroke="#222" stroke-width="0.8" />
<text x="531.90" y="358.10" font-size="5.8" fill="#000" text-anchor="end"  stroke="#000" stroke-width="0.22">0.6</text>
<line x1="532.50" y1="340.40" x2="534.70" y2="340.40" stroke="#222" stroke-width="0.8" />
<text x="531.90" y="342.40" font-size="5.8" fill="#000" text-anchor="end"  stroke="#000" stroke-width="0.22">0.8</text>
<line x1="532.50" y1="324.70" x2="534.70" y2="324.70" stroke="#222" stroke-width="0.8" />
<text x="531.90" y="326.70" font-size="5.8" fill="#000" text-anchor="end"  stroke="#000" stroke-width="0.22">1.0</text>
<line x1="532.50" y1="309.00" x2="534.70" y2="309.00" stroke="#222" stroke-width="0.8" />
<text x="531.90" y="311.00" font-size="5.8" fill="#000" text-anchor="end"  stroke="#000" stroke-width="0.22">1.2</text>
<line x1="533.40" y1="395.35" x2="534.70" y2="395.35" stroke="#222" stroke-width="0.6" />
<line x1="533.40" y1="379.65" x2="534.70" y2="379.65" stroke="#222" stroke-width="0.6" />
<line x1="533.40" y1="363.95" x2="534.70" y2="363.95" stroke="#222" stroke-width="0.6" />
<line x1="533.40" y1="348.25" x2="534.70" y2="348.25" stroke="#222" stroke-width="0.6" />
<line x1="533.40" y1="332.55" x2="534.70" y2="332.55" stroke="#222" stroke-width="0.6" />
<line x1="533.40" y1="316.85" x2="534.70" y2="316.85" stroke="#222" stroke-width="0.6" />
<line x1="534.30" y1="403.80" x2="534.30" y2="406.00" stroke="#222" stroke-width="0.8" />
<text x="534.30" y="411.80" font-size="5.8" fill="#000" text-anchor="middle"  stroke="#000" stroke-width="0.22">0</text>
<line x1="561.30" y1="403.80" x2="561.30" y2="406.00" stroke="#222" stroke-width="0.8" />
<text x="561.30" y="411.80" font-size="5.8" fill="#000" text-anchor="middle"  stroke="#000" stroke-width="0.22">10</text>
<line x1="588.30" y1="403.80" x2="588.30" y2="406.00" stroke="#222" stroke-width="0.8" />
<text x="588.30" y="411.80" font-size="5.8" fill="#000" text-anchor="middle"  stroke="#000" stroke-width="0.22">20</text>
<line x1="615.30" y1="403.80" x2="615.30" y2="406.00" stroke="#222" stroke-width="0.8" />
<text x="615.30" y="411.80" font-size="5.8" fill="#000" text-anchor="middle"  stroke="#000" stroke-width="0.22">30</text>
<line x1="642.30" y1="403.80" x2="642.30" y2="406.00" stroke="#222" stroke-width="0.8" />
<text x="642.30" y="411.80" font-size="5.8" fill="#000" text-anchor="middle"  stroke="#000" stroke-width="0.22">40</text>
<line x1="547.80" y1="403.80" x2="547.80" y2="405.10" stroke="#222" stroke-width="0.6" />
<line x1="574.80" y1="403.80" x2="574.80" y2="405.10" stroke="#222" stroke-width="0.6" />
<line x1="601.80" y1="403.80" x2="601.80" y2="405.10" stroke="#222" stroke-width="0.6" />
<line x1="628.80" y1="403.80" x2="628.80" y2="405.10" stroke="#222" stroke-width="0.6" />
<line x1="655.80" y1="403.80" x2="655.80" y2="405.10" stroke="#222" stroke-width="0.6" />
<g><circle cx="534.30" cy="402.38" r="2.0" fill="none" stroke="#e44a4a" stroke-width="0.9"/><circle cx="534.54" cy="402.23" r="2.0" fill="none" stroke="#e44a4a" stroke-width="0.9"/><circle cx="534.79" cy="402.09" r="2.0" fill="none" stroke="#e44a4a" stroke-width="0.9"/><circle cx="535.03" cy="402.06" r="2.0" fill="none" stroke="#e44a4a" stroke-width="0.9"/><circle cx="535.27" cy="402.10" r="2.0" fill="none" stroke="#e44a4a" stroke-width="0.9"/><circle cx="535.51" cy="402.25" r="2.0" fill="none" stroke="#e44a4a" stroke-width="0.9"/><circle cx="535.76" cy="402.21" r="2.0" fill="none" stroke="#e44a4a" stroke-width="0.9"/><circle cx="536.00" cy="402.29" r="2.0" fill="none" stroke="#e44a4a" stroke-width="0.9"/><circle cx="536.24" cy="402.43" r="2.0" fill="none" stroke="#e44a4a" stroke-width="0.9"/><circle cx="536.49" cy="402.32" r="2.0" fill="none" stroke="#e44a4a" stroke-width="0.9"/><circle cx="536.73" cy="402.13" r="2.0" fill="none" stroke="#e44a4a" stroke-width="0.9"/><circle cx="536.97" cy="402.23" r="2.0" fill="none" stroke="#e44a4a" stroke-width="0.9"/><circle cx="537.22" cy="402.30" r="2.0" fill="none" stroke="#e44a4a" stroke-width="0.9"/><circle cx="537.46" cy="402.40" r="2.0" fill="none" stroke="#e44a4a" stroke-width="0.9"/><circle cx="537.70" cy="402.27" r="2.0" fill="none" stroke="#e44a4a" stroke-width="0.9"/><circle cx="537.94" cy="402.33" r="2.0" fill="none" stroke="#e44a4a" stroke-width="0.9"/><circle cx="538.19" cy="402.25" r="2.0" fill="none" stroke="#e44a4a" stroke-width="0.9"/><circle cx="538.43" cy="402.19" r="2.0" fill="none" stroke="#e44a4a" stroke-width="0.9"/><circle cx="538.67" cy="402.56" r="2.0" fill="none" stroke="#e44a4a" stroke-width="0.9"/><circle cx="538.92" cy="402.27" r="2.0" fill="none" stroke="#e44a4a" stroke-width="0.9"/><circle cx="539.16" cy="402.45" r="2.0" fill="none" stroke="#e44a4a" stroke-width="0.9"/><circle cx="539.40" cy="402.38" r="2.0" fill="none" stroke="#e44a4a" stroke-width="0.9"/><circle cx="539.65" cy="402.42" r="2.0" fill="none" stroke="#e44a4a" stroke-width="0.9"/><circle cx="539.89" cy="402.11" r="2.0" fill="none" stroke="#e44a4a" stroke-width="0.9"/><circle cx="540.13" cy="402.17" r="2.0" fill="none" stroke="#e44a4a" stroke-width="0.9"/><circle cx="540.38" cy="402.19" r="2.0" fill="none" stroke="#e44a4a" stroke-width="0.9"/><circle cx="540.62" cy="402.35" r="2.0" fill="none" stroke="#e44a4a" stroke-width="0.9"/><circle cx="540.86" cy="402.45" r="2.0" fill="none" stroke="#e44a4a" stroke-width="0.9"/><circle cx="541.10" cy="402.31" r="2.0" fill="none" stroke="#e44a4a" stroke-width="0.9"/><circle cx="541.35" cy="402.23" r="2.0" fill="none" stroke="#e44a4a" stroke-width="0.9"/><circle cx="541.59" cy="402.27" r="2.0" fill="none" stroke="#e44a4a" stroke-width="0.9"/><circle cx="541.83" cy="402.17" r="2.0" fill="none" stroke="#e44a4a" stroke-width="0.9"/><circle cx="542.08" cy="402.30" r="2.0" fill="none" stroke="#e44a4a" stroke-width="0.9"/><circle cx="542.32" cy="402.02" r="2.0" fill="none" stroke="#e44a4a" stroke-width="0.9"/><circle cx="542.56" cy="402.17" r="2.0" fill="none" stroke="#e44a4a" stroke-width="0.9"/><circle cx="542.80" cy="402.00" r="2.0" fill="none" stroke="#e44a4a" stroke-width="0.9"/><circle cx="543.05" cy="402.23" r="2.0" fill="none" stroke="#e44a4a" stroke-width="0.9"/><circle cx="543.29" cy="402.29" r="2.0" fill="none" stroke="#e44a4a" stroke-width="0.9"/><circle cx="543.53" cy="402.37" r="2.0" fill="none" stroke="#e44a4a" stroke-width="0.9"/><circle cx="543.78" cy="402.15" r="2.0" fill="none" stroke="#e44a4a" stroke-width="0.9"/><circle cx="544.02" cy="402.12" r="2.0" fill="none" stroke="#e44a4a" stroke-width="0.9"/><circle cx="544.26" cy="402.24" r="2.0" fill="none" stroke="#e44a4a" stroke-width="0.9"/><circle cx="544.51" cy="402.20" r="2.0" fill="none" stroke="#e44a4a" stroke-width="0.9"/><circle cx="544.75" cy="402.29" r="2.0" fill="none" stroke="#e44a4a" stroke-width="0.9"/><circle cx="544.99" cy="402.31" r="2.0" fill="none" stroke="#e44a4a" stroke-width="0.9"/><circle cx="545.23" cy="402.30" r="2.0" fill="none" stroke="#e44a4a" stroke-width="0.9"/><circle cx="545.48" cy="402.50" r="2.0" fill="none" stroke="#e44a4a" stroke-width="0.9"/><circle cx="545.72" cy="402.39" r="2.0" fill="none" stroke="#e44a4a" stroke-width="0.9"/><circle cx="545.96" cy="402.25" r="2.0" fill="none" stroke="#e44a4a" stroke-width="0.9"/><circle cx="546.21" cy="402.24" r="2.0" fill="none" stroke="#e44a4a" stroke-width="0.9"/><circle cx="546.45" cy="402.12" r="2.0" fill="none" stroke="#e44a4a" stroke-width="0.9"/><circle cx="546.69" cy="402.18" r="2.0" fill="none" stroke="#e44a4a" stroke-width="0.9"/><circle cx="546.94" cy="402.20" r="2.0" fill="none" stroke="#e44a4a" stroke-width="0.9"/><circle cx="547.18" cy="402.25" r="2.0" fill="none" stroke="#e44a4a" stroke-width="0.9"/><circle cx="547.42" cy="402.55" r="2.0" fill="none" stroke="#e44a4a" stroke-width="0.9"/><circle cx="547.66" cy="402.25" r="2.0" fill="none" stroke="#e44a4a" stroke-width="0.9"/><circle cx="547.91" cy="402.37" r="2.0" fill="none" stroke="#e44a4a" stroke-width="0.9"/><circle cx="548.15" cy="402.19" r="2.0" fill="none" stroke="#e44a4a" stroke-width="0.9"/><circle cx="548.39" cy="402.30" r="2.0" fill="none" stroke="#e44a4a" stroke-width="0.9"/><circle cx="548.64" cy="402.30" r="2.0" fill="none" stroke="#e44a4a" stroke-width="0.9"/><circle cx="548.88" cy="402.33" r="2.0" fill="none" stroke="#e44a4a" stroke-width="0.9"/><circle cx="549.12" cy="402.30" r="2.0" fill="none" stroke="#e44a4a" stroke-width="0.9"/><circle cx="549.37" cy="402.51" r="2.0" fill="none" stroke="#e44a4a" stroke-width="0.9"/><circle cx="549.61" cy="402.47" r="2.0" fill="none" stroke="#e44a4a" stroke-width="0.9"/><circle cx="549.85" cy="402.10" r="2.0" fill="none" stroke="#e44a4a" stroke-width="0.9"/><circle cx="550.09" cy="402.20" r="2.0" fill="none" stroke="#e44a4a" stroke-width="0.9"/><circle cx="550.34" cy="402.32" r="2.0" fill="none" stroke="#e44a4a" stroke-width="0.9"/><circle cx="550.58" cy="402.30" r="2.0" fill="none" stroke="#e44a4a" stroke-width="0.9"/><circle cx="550.82" cy="402.31" r="2.0" fill="none" stroke="#e44a4a" stroke-width="0.9"/><circle cx="551.07" cy="401.83" r="2.0" fill="none" stroke="#e44a4a" stroke-width="0.9"/><circle cx="551.31" cy="402.19" r="2.0" fill="none" stroke="#e44a4a" stroke-width="0.9"/><circle cx="551.55" cy="402.26" r="2.0" fill="none" stroke="#e44a4a" stroke-width="0.9"/><circle cx="551.80" cy="402.35" r="2.0" fill="none" stroke="#e44a4a" stroke-width="0.9"/><circle cx="552.04" cy="402.57" r="2.0" fill="none" stroke="#e44a4a" stroke-width="0.9"/><circle cx="552.28" cy="402.24" r="2.0" fill="none" stroke="#e44a4a" stroke-width="0.9"/><circle cx="552.52" cy="402.08" r="2.0" fill="none" stroke="#e44a4a" stroke-width="0.9"/><circle cx="552.77" cy="402.14" r="2.0" fill="none" stroke="#e44a4a" stroke-width="0.9"/><circle cx="553.01" cy="402.22" r="2.0" fill="none" stroke="#e44a4a" stroke-width="0.9"/><circle cx="553.25" cy="402.34" r="2.0" fill="none" stroke="#e44a4a" stroke-width="0.9"/><circle cx="553.50" cy="402.41" r="2.0" fill="none" stroke="#e44a4a" stroke-width="0.9"/><circle cx="553.74" cy="402.25" r="2.0" fill="none" stroke="#e44a4a" stroke-width="0.9"/><circle cx="553.98" cy="402.31" r="2.0" fill="none" stroke="#e44a4a" stroke-width="0.9"/><circle cx="554.23" cy="402.41" r="2.0" fill="none" stroke="#e44a4a" stroke-width="0.9"/><circle cx="554.47" cy="402.04" r="2.0" fill="none" stroke="#e44a4a" stroke-width="0.9"/><circle cx="554.71" cy="402.38" r="2.0" fill="none" stroke="#e44a4a" stroke-width="0.9"/><circle cx="554.95" cy="402.33" r="2.0" fill="none" stroke="#e44a4a" stroke-width="0.9"/><circle cx="555.20" cy="402.57" r="2.0" fill="none" stroke="#e44a4a" stroke-width="0.9"/><circle cx="555.44" cy="402.04" r="2.0" fill="none" stroke="#e44a4a" stroke-width="0.9"/><circle cx="555.68" cy="402.28" r="2.0" fill="none" stroke="#e44a4a" stroke-width="0.9"/><circle cx="555.93" cy="402.27" r="2.0" fill="none" stroke="#e44a4a" stroke-width="0.9"/><circle cx="556.17" cy="402.22" r="2.0" fill="none" stroke="#e44a4a" stroke-width="0.9"/><circle cx="556.41" cy="402.37" r="2.0" fill="none" stroke="#e44a4a" stroke-width="0.9"/><circle cx="556.66" cy="402.34" r="2.0" fill="none" stroke="#e44a4a" stroke-width="0.9"/><circle cx="556.90" cy="402.22" r="2.0" fill="none" stroke="#e44a4a" stroke-width="0.9"/><circle cx="557.14" cy="402.37" r="2.0" fill="none" stroke="#e44a4a" stroke-width="0.9"/><circle cx="557.38" cy="402.22" r="2.0" fill="none" stroke="#e44a4a" stroke-width="0.9"/><circle cx="557.63" cy="402.10" r="2.0" fill="none" stroke="#e44a4a" stroke-width="0.9"/><circle cx="557.87" cy="402.16" r="2.0" fill="none" stroke="#e44a4a" stroke-width="0.9"/><circle cx="558.11" cy="402.07" r="2.0" fill="none" stroke="#e44a4a" stroke-width="0.9"/><circle cx="558.36" cy="402.12" r="2.0" fill="none" stroke="#e44a4a" stroke-width="0.9"/><circle cx="558.60" cy="402.03" r="2.0" fill="none" stroke="#e44a4a" stroke-width="0.9"/><circle cx="558.84" cy="402.22" r="2.0" fill="none" stroke="#e44a4a" stroke-width="0.9"/><circle cx="559.09" cy="402.20" r="2.0" fill="none" stroke="#e44a4a" stroke-width="0.9"/><circle cx="559.33" cy="402.40" r="2.0" fill="none" stroke="#e44a4a" stroke-width="0.9"/><circle cx="559.57" cy="402.28" r="2.0" fill="none" stroke="#e44a4a" stroke-width="0.9"/><circle cx="559.81" cy="402.35" r="2.0" fill="none" stroke="#e44a4a" stroke-width="0.9"/><circle cx="560.06" cy="402.27" r="2.0" fill="none" stroke="#e44a4a" stroke-width="0.9"/><circle cx="560.30" cy="402.40" r="2.0" fill="none" stroke="#e44a4a" stroke-width="0.9"/><circle cx="560.54" cy="402.22" r="2.0" fill="none" stroke="#e44a4a" stroke-width="0.9"/><circle cx="560.79" cy="401.92" r="2.0" fill="none" stroke="#e44a4a" stroke-width="0.9"/><circle cx="561.03" cy="402.36" r="2.0" fill="none" stroke="#e44a4a" stroke-width="0.9"/><circle cx="561.27" cy="402.18" r="2.0" fill="none" stroke="#e44a4a" stroke-width="0.9"/><circle cx="561.52" cy="402.18" r="2.0" fill="none" stroke="#e44a4a" stroke-width="0.9"/><circle cx="561.76" cy="402.36" r="2.0" fill="none" stroke="#e44a4a" stroke-width="0.9"/><circle cx="562.00" cy="402.30" r="2.0" fill="none" stroke="#e44a4a" stroke-width="0.9"/><circle cx="562.24" cy="402.33" r="2.0" fill="none" stroke="#e44a4a" stroke-width="0.9"/><circle cx="562.49" cy="402.20" r="2.0" fill="none" stroke="#e44a4a" stroke-width="0.9"/><circle cx="562.73" cy="402.34" r="2.0" fill="none" stroke="#e44a4a" stroke-width="0.9"/><circle cx="562.97" cy="401.92" r="2.0" fill="none" stroke="#e44a4a" stroke-width="0.9"/><circle cx="563.22" cy="402.15" r="2.0" fill="none" stroke="#e44a4a" stroke-width="0.9"/><circle cx="563.46" cy="402.11" r="2.0" fill="none" stroke="#e44a4a" stroke-width="0.9"/><circle cx="563.70" cy="401.98" r="2.0" fill="none" stroke="#e44a4a" stroke-width="0.9"/><circle cx="563.95" cy="402.08" r="2.0" fill="none" stroke="#e44a4a" stroke-width="0.9"/><circle cx="564.19" cy="402.27" r="2.0" fill="none" stroke="#e44a4a" stroke-width="0.9"/><circle cx="564.43" cy="402.21" r="2.0" fill="none" stroke="#e44a4a" stroke-width="0.9"/><circle cx="564.67" cy="402.25" r="2.0" fill="none" stroke="#e44a4a" stroke-width="0.9"/><circle cx="564.92" cy="402.22" r="2.0" fill="none" stroke="#e44a4a" stroke-width="0.9"/><circle cx="565.16" cy="402.13" r="2.0" fill="none" stroke="#e44a4a" stroke-width="0.9"/><circle cx="565.40" cy="402.52" r="2.0" fill="none" stroke="#e44a4a" stroke-width="0.9"/><circle cx="565.65" cy="402.48" r="2.0" fill="none" stroke="#e44a4a" stroke-width="0.9"/><circle cx="565.89" cy="402.30" r="2.0" fill="none" stroke="#e44a4a" stroke-width="0.9"/><circle cx="566.13" cy="402.20" r="2.0" fill="none" stroke="#e44a4a" stroke-width="0.9"/><circle cx="566.38" cy="402.32" r="2.0" fill="none" stroke="#e44a4a" stroke-width="0.9"/><circle cx="566.62" cy="402.29" r="2.0" fill="none" stroke="#e44a4a" stroke-width="0.9"/><circle cx="566.86" cy="402.11" r="2.0" fill="none" stroke="#e44a4a" stroke-width="0.9"/><circle cx="567.10" cy="402.17" r="2.0" fill="none" stroke="#e44a4a" stroke-width="0.9"/><circle cx="567.35" cy="402.27" r="2.0" fill="none" stroke="#e44a4a" stroke-width="0.9"/><circle cx="567.59" cy="402.30" r="2.0" fill="none" stroke="#e44a4a" stroke-width="0.9"/><circle cx="567.83" cy="402.45" r="2.0" fill="none" stroke="#e44a4a" stroke-width="0.9"/><circle cx="568.08" cy="402.20" r="2.0" fill="none" stroke="#e44a4a" stroke-width="0.9"/><circle cx="568.32" cy="402.25" r="2.0" fill="none" stroke="#e44a4a" stroke-width="0.9"/><circle cx="568.56" cy="402.39" r="2.0" fill="none" stroke="#e44a4a" stroke-width="0.9"/><circle cx="568.81" cy="402.20" r="2.0" fill="none" stroke="#e44a4a" stroke-width="0.9"/><circle cx="569.05" cy="402.31" r="2.0" fill="none" stroke="#e44a4a" stroke-width="0.9"/><circle cx="569.29" cy="402.31" r="2.0" fill="none" stroke="#e44a4a" stroke-width="0.9"/><circle cx="569.53" cy="402.48" r="2.0" fill="none" stroke="#e44a4a" stroke-width="0.9"/><circle cx="569.78" cy="402.15" r="2.0" fill="none" stroke="#e44a4a" stroke-width="0.9"/><circle cx="570.02" cy="402.36" r="2.0" fill="none" stroke="#e44a4a" stroke-width="0.9"/><circle cx="570.26" cy="402.22" r="2.0" fill="none" stroke="#e44a4a" stroke-width="0.9"/><circle cx="570.51" cy="402.23" r="2.0" fill="none" stroke="#e44a4a" stroke-width="0.9"/><circle cx="570.75" cy="402.34" r="2.0" fill="none" stroke="#e44a4a" stroke-width="0.9"/><circle cx="570.99" cy="402.09" r="2.0" fill="none" stroke="#e44a4a" stroke-width="0.9"/><circle cx="571.24" cy="401.94" r="2.0" fill="none" stroke="#e44a4a" stroke-width="0.9"/><circle cx="571.48" cy="401.76" r="2.0" fill="none" stroke="#e44a4a" stroke-width="0.9"/><circle cx="571.72" cy="401.51" r="2.0" fill="none" stroke="#e44a4a" stroke-width="0.9"/><circle cx="571.96" cy="401.46" r="2.0" fill="none" stroke="#e44a4a" stroke-width="0.9"/><circle cx="572.21" cy="401.07" r="2.0" fill="none" stroke="#e44a4a" stroke-width="0.9"/><circle cx="572.45" cy="400.98" r="2.0" fill="none" stroke="#e44a4a" stroke-width="0.9"/><circle cx="572.69" cy="400.92" r="2.0" fill="none" stroke="#e44a4a" stroke-width="0.9"/><circle cx="572.94" cy="400.02" r="2.0" fill="none" stroke="#e44a4a" stroke-width="0.9"/><circle cx="573.18" cy="399.57" r="2.0" fill="none" stroke="#e44a4a" stroke-width="0.9"/><circle cx="573.42" cy="398.76" r="2.0" fill="none" stroke="#e44a4a" stroke-width="0.9"/><circle cx="573.67" cy="398.81" r="2.0" fill="none" stroke="#e44a4a" stroke-width="0.9"/><circle cx="573.91" cy="397.55" r="2.0" fill="none" stroke="#e44a4a" stroke-width="0.9"/><circle cx="574.15" cy="397.63" r="2.0" fill="none" stroke="#e44a4a" stroke-width="0.9"/><circle cx="574.39" cy="396.53" r="2.0" fill="none" stroke="#e44a4a" stroke-width="0.9"/><circle cx="574.64" cy="394.81" r="2.0" fill="none" stroke="#e44a4a" stroke-width="0.9"/><circle cx="574.88" cy="394.69" r="2.0" fill="none" stroke="#e44a4a" stroke-width="0.9"/><circle cx="575.12" cy="393.11" r="2.0" fill="none" stroke="#e44a4a" stroke-width="0.9"/><circle cx="575.37" cy="392.38" r="2.0" fill="none" stroke="#e44a4a" stroke-width="0.9"/><circle cx="575.61" cy="391.19" r="2.0" fill="none" stroke="#e44a4a" stroke-width="0.9"/><circle cx="575.85" cy="389.32" r="2.0" fill="none" stroke="#e44a4a" stroke-width="0.9"/><circle cx="576.10" cy="387.65" r="2.0" fill="none" stroke="#e44a4a" stroke-width="0.9"/><circle cx="576.34" cy="386.51" r="2.0" fill="none" stroke="#e44a4a" stroke-width="0.9"/><circle cx="576.58" cy="385.45" r="2.0" fill="none" stroke="#e44a4a" stroke-width="0.9"/><circle cx="576.82" cy="384.20" r="2.0" fill="none" stroke="#e44a4a" stroke-width="0.9"/><circle cx="577.07" cy="382.50" r="2.0" fill="none" stroke="#e44a4a" stroke-width="0.9"/><circle cx="577.31" cy="379.66" r="2.0" fill="none" stroke="#e44a4a" stroke-width="0.9"/><circle cx="577.55" cy="379.32" r="2.0" fill="none" stroke="#e44a4a" stroke-width="0.9"/><circle cx="577.80" cy="377.86" r="2.0" fill="none" stroke="#e44a4a" stroke-width="0.9"/><circle cx="578.04" cy="376.02" r="2.0" fill="none" stroke="#e44a4a" stroke-width="0.9"/><circle cx="578.28" cy="374.89" r="2.0" fill="none" stroke="#e44a4a" stroke-width="0.9"/><circle cx="578.53" cy="373.53" r="2.0" fill="none" stroke="#e44a4a" stroke-width="0.9"/><circle cx="578.77" cy="370.34" r="2.0" fill="none" stroke="#e44a4a" stroke-width="0.9"/><circle cx="579.01" cy="367.33" r="2.0" fill="none" stroke="#e44a4a" stroke-width="0.9"/><circle cx="579.25" cy="366.41" r="2.0" fill="none" stroke="#e44a4a" stroke-width="0.9"/><circle cx="579.50" cy="366.76" r="2.0" fill="none" stroke="#e44a4a" stroke-width="0.9"/><circle cx="579.74" cy="361.63" r="2.0" fill="none" stroke="#e44a4a" stroke-width="0.9"/><circle cx="579.98" cy="361.32" r="2.0" fill="none" stroke="#e44a4a" stroke-width="0.9"/><circle cx="580.23" cy="357.47" r="2.0" fill="none" stroke="#e44a4a" stroke-width="0.9"/><circle cx="580.47" cy="358.30" r="2.0" fill="none" stroke="#e44a4a" stroke-width="0.9"/><circle cx="580.71" cy="358.20" r="2.0" fill="none" stroke="#e44a4a" stroke-width="0.9"/><circle cx="580.96" cy="354.26" r="2.0" fill="none" stroke="#e44a4a" stroke-width="0.9"/><circle cx="581.20" cy="353.04" r="2.0" fill="none" stroke="#e44a4a" stroke-width="0.9"/><circle cx="581.44" cy="352.71" r="2.0" fill="none" stroke="#e44a4a" stroke-width="0.9"/><circle cx="581.68" cy="350.46" r="2.0" fill="none" stroke="#e44a4a" stroke-width="0.9"/><circle cx="581.93" cy="348.18" r="2.0" fill="none" stroke="#e44a4a" stroke-width="0.9"/><circle cx="582.17" cy="347.22" r="2.0" fill="none" stroke="#e44a4a" stroke-width="0.9"/><circle cx="582.41" cy="342.93" r="2.0" fill="none" stroke="#e44a4a" stroke-width="0.9"/><circle cx="582.66" cy="341.69" r="2.0" fill="none" stroke="#e44a4a" stroke-width="0.9"/><circle cx="582.90" cy="341.29" r="2.0" fill="none" stroke="#e44a4a" stroke-width="0.9"/><circle cx="583.14" cy="339.37" r="2.0" fill="none" stroke="#e44a4a" stroke-width="0.9"/><circle cx="583.39" cy="335.24" r="2.0" fill="none" stroke="#e44a4a" stroke-width="0.9"/><circle cx="583.63" cy="334.38" r="2.0" fill="none" stroke="#e44a4a" stroke-width="0.9"/><circle cx="583.87" cy="335.76" r="2.0" fill="none" stroke="#e44a4a" stroke-width="0.9"/><circle cx="584.11" cy="331.10" r="2.0" fill="none" stroke="#e44a4a" stroke-width="0.9"/><circle cx="584.36" cy="326.24" r="2.0" fill="none" stroke="#e44a4a" stroke-width="0.9"/><circle cx="584.60" cy="327.73" r="2.0" fill="none" stroke="#e44a4a" stroke-width="0.9"/><circle cx="584.84" cy="329.34" r="2.0" fill="none" stroke="#e44a4a" stroke-width="0.9"/><circle cx="585.09" cy="324.70" r="2.0" fill="none" stroke="#e44a4a" stroke-width="0.9"/><circle cx="585.33" cy="324.70" r="2.0" fill="none" stroke="#e44a4a" stroke-width="0.9"/><circle cx="585.57" cy="324.70" r="2.0" fill="none" stroke="#e44a4a" stroke-width="0.9"/><circle cx="585.82" cy="330.57" r="2.0" fill="none" stroke="#e44a4a" stroke-width="0.9"/><circle cx="586.06" cy="329.57" r="2.0" fill="none" stroke="#e44a4a" stroke-width="0.9"/><circle cx="586.30" cy="324.70" r="2.0" fill="none" stroke="#e44a4a" stroke-width="0.9"/><circle cx="586.54" cy="328.48" r="2.0" fill="none" stroke="#e44a4a" stroke-width="0.9"/><circle cx="586.79" cy="328.10" r="2.0" fill="none" stroke="#e44a4a" stroke-width="0.9"/><circle cx="587.03" cy="330.69" r="2.0" fill="none" stroke="#e44a4a" stroke-width="0.9"/><circle cx="587.27" cy="333.69" r="2.0" fill="none" stroke="#e44a4a" stroke-width="0.9"/><circle cx="587.52" cy="333.03" r="2.0" fill="none" stroke="#e44a4a" stroke-width="0.9"/><circle cx="587.76" cy="338.10" r="2.0" fill="none" stroke="#e44a4a" stroke-width="0.9"/><circle cx="588.00" cy="339.62" r="2.0" fill="none" stroke="#e44a4a" stroke-width="0.9"/><circle cx="588.25" cy="342.37" r="2.0" fill="none" stroke="#e44a4a" stroke-width="0.9"/><circle cx="588.49" cy="344.76" r="2.0" fill="none" stroke="#e44a4a" stroke-width="0.9"/><circle cx="588.73" cy="343.49" r="2.0" fill="none" stroke="#e44a4a" stroke-width="0.9"/><circle cx="588.97" cy="351.42" r="2.0" fill="none" stroke="#e44a4a" stroke-width="0.9"/><circle cx="589.22" cy="353.78" r="2.0" fill="none" stroke="#e44a4a" stroke-width="0.9"/><circle cx="589.46" cy="352.66" r="2.0" fill="none" stroke="#e44a4a" stroke-width="0.9"/><circle cx="589.70" cy="358.20" r="2.0" fill="none" stroke="#e44a4a" stroke-width="0.9"/><circle cx="589.95" cy="358.37" r="2.0" fill="none" stroke="#e44a4a" stroke-width="0.9"/><circle cx="590.19" cy="362.02" r="2.0" fill="none" stroke="#e44a4a" stroke-width="0.9"/><circle cx="590.43" cy="361.69" r="2.0" fill="none" stroke="#e44a4a" stroke-width="0.9"/><circle cx="590.68" cy="364.97" r="2.0" fill="none" stroke="#e44a4a" stroke-width="0.9"/><circle cx="590.92" cy="366.34" r="2.0" fill="none" stroke="#e44a4a" stroke-width="0.9"/><circle cx="591.16" cy="369.59" r="2.0" fill="none" stroke="#e44a4a" stroke-width="0.9"/><circle cx="591.40" cy="370.54" r="2.0" fill="none" stroke="#e44a4a" stroke-width="0.9"/><circle cx="591.65" cy="374.13" r="2.0" fill="none" stroke="#e44a4a" stroke-width="0.9"/><circle cx="591.89" cy="372.76" r="2.0" fill="none" stroke="#e44a4a" stroke-width="0.9"/><circle cx="592.13" cy="374.73" r="2.0" fill="none" stroke="#e44a4a" stroke-width="0.9"/><circle cx="592.38" cy="376.58" r="2.0" fill="none" stroke="#e44a4a" stroke-width="0.9"/><circle cx="592.62" cy="377.68" r="2.0" fill="none" stroke="#e44a4a" stroke-width="0.9"/><circle cx="592.86" cy="379.15" r="2.0" fill="none" stroke="#e44a4a" stroke-width="0.9"/><circle cx="593.11" cy="380.04" r="2.0" fill="none" stroke="#e44a4a" stroke-width="0.9"/><circle cx="593.35" cy="379.79" r="2.0" fill="none" stroke="#e44a4a" stroke-width="0.9"/><circle cx="593.59" cy="382.66" r="2.0" fill="none" stroke="#e44a4a" stroke-width="0.9"/><circle cx="593.83" cy="383.31" r="2.0" fill="none" stroke="#e44a4a" stroke-width="0.9"/><circle cx="594.08" cy="382.97" r="2.0" fill="none" stroke="#e44a4a" stroke-width="0.9"/><circle cx="594.32" cy="383.69" r="2.0" fill="none" stroke="#e44a4a" stroke-width="0.9"/><circle cx="594.56" cy="384.64" r="2.0" fill="none" stroke="#e44a4a" stroke-width="0.9"/><circle cx="594.81" cy="383.69" r="2.0" fill="none" stroke="#e44a4a" stroke-width="0.9"/><circle cx="595.05" cy="384.11" r="2.0" fill="none" stroke="#e44a4a" stroke-width="0.9"/><circle cx="595.29" cy="385.73" r="2.0" fill="none" stroke="#e44a4a" stroke-width="0.9"/><circle cx="595.54" cy="384.92" r="2.0" fill="none" stroke="#e44a4a" stroke-width="0.9"/><circle cx="595.78" cy="387.16" r="2.0" fill="none" stroke="#e44a4a" stroke-width="0.9"/><circle cx="596.02" cy="385.96" r="2.0" fill="none" stroke="#e44a4a" stroke-width="0.9"/><circle cx="596.26" cy="388.11" r="2.0" fill="none" stroke="#e44a4a" stroke-width="0.9"/><circle cx="596.51" cy="387.33" r="2.0" fill="none" stroke="#e44a4a" stroke-width="0.9"/><circle cx="596.75" cy="387.75" r="2.0" fill="none" stroke="#e44a4a" stroke-width="0.9"/><circle cx="596.99" cy="388.01" r="2.0" fill="none" stroke="#e44a4a" stroke-width="0.9"/><circle cx="597.24" cy="387.63" r="2.0" fill="none" stroke="#e44a4a" stroke-width="0.9"/><circle cx="597.48" cy="388.60" r="2.0" fill="none" stroke="#e44a4a" stroke-width="0.9"/><circle cx="597.72" cy="388.63" r="2.0" fill="none" stroke="#e44a4a" stroke-width="0.9"/><circle cx="597.97" cy="388.96" r="2.0" fill="none" stroke="#e44a4a" stroke-width="0.9"/><circle cx="598.21" cy="387.77" r="2.0" fill="none" stroke="#e44a4a" stroke-width="0.9"/><circle cx="598.45" cy="388.97" r="2.0" fill="none" stroke="#e44a4a" stroke-width="0.9"/><circle cx="598.69" cy="388.63" r="2.0" fill="none" stroke="#e44a4a" stroke-width="0.9"/><circle cx="598.94" cy="389.07" r="2.0" fill="none" stroke="#e44a4a" stroke-width="0.9"/><circle cx="599.18" cy="388.57" r="2.0" fill="none" stroke="#e44a4a" stroke-width="0.9"/><circle cx="599.42" cy="389.69" r="2.0" fill="none" stroke="#e44a4a" stroke-width="0.9"/><circle cx="599.67" cy="389.72" r="2.0" fill="none" stroke="#e44a4a" stroke-width="0.9"/><circle cx="599.91" cy="389.71" r="2.0" fill="none" stroke="#e44a4a" stroke-width="0.9"/><circle cx="600.15" cy="389.42" r="2.0" fill="none" stroke="#e44a4a" stroke-width="0.9"/><circle cx="600.40" cy="389.98" r="2.0" fill="none" stroke="#e44a4a" stroke-width="0.9"/><circle cx="600.64" cy="389.50" r="2.0" fill="none" stroke="#e44a4a" stroke-width="0.9"/><circle cx="600.88" cy="389.57" r="2.0" fill="none" stroke="#e44a4a" stroke-width="0.9"/><circle cx="601.12" cy="389.44" r="2.0" fill="none" stroke="#e44a4a" stroke-width="0.9"/><circle cx="601.37" cy="389.79" r="2.0" fill="none" stroke="#e44a4a" stroke-width="0.9"/><circle cx="601.61" cy="389.50" r="2.0" fill="none" stroke="#e44a4a" stroke-width="0.9"/><circle cx="601.85" cy="390.41" r="2.0" fill="none" stroke="#e44a4a" stroke-width="0.9"/><circle cx="602.10" cy="390.58" r="2.0" fill="none" stroke="#e44a4a" stroke-width="0.9"/><circle cx="602.34" cy="390.77" r="2.0" fill="none" stroke="#e44a4a" stroke-width="0.9"/><circle cx="602.58" cy="390.88" r="2.0" fill="none" stroke="#e44a4a" stroke-width="0.9"/><circle cx="602.83" cy="391.27" r="2.0" fill="none" stroke="#e44a4a" stroke-width="0.9"/><circle cx="603.07" cy="390.60" r="2.0" fill="none" stroke="#e44a4a" stroke-width="0.9"/><circle cx="603.31" cy="390.84" r="2.0" fill="none" stroke="#e44a4a" stroke-width="0.9"/><circle cx="603.55" cy="391.91" r="2.0" fill="none" stroke="#e44a4a" stroke-width="0.9"/><circle cx="603.80" cy="391.15" r="2.0" fill="none" stroke="#e44a4a" stroke-width="0.9"/><circle cx="604.04" cy="391.52" r="2.0" fill="none" stroke="#e44a4a" stroke-width="0.9"/><circle cx="604.28" cy="391.70" r="2.0" fill="none" stroke="#e44a4a" stroke-width="0.9"/><circle cx="604.53" cy="391.54" r="2.0" fill="none" stroke="#e44a4a" stroke-width="0.9"/><circle cx="604.77" cy="391.05" r="2.0" fill="none" stroke="#e44a4a" stroke-width="0.9"/><circle cx="605.01" cy="391.66" r="2.0" fill="none" stroke="#e44a4a" stroke-width="0.9"/><circle cx="605.26" cy="392.68" r="2.0" fill="none" stroke="#e44a4a" stroke-width="0.9"/><circle cx="605.50" cy="391.86" r="2.0" fill="none" stroke="#e44a4a" stroke-width="0.9"/><circle cx="605.74" cy="392.49" r="2.0" fill="none" stroke="#e44a4a" stroke-width="0.9"/><circle cx="605.98" cy="391.61" r="2.0" fill="none" stroke="#e44a4a" stroke-width="0.9"/><circle cx="606.23" cy="392.61" r="2.0" fill="none" stroke="#e44a4a" stroke-width="0.9"/><circle cx="606.47" cy="392.59" r="2.0" fill="none" stroke="#e44a4a" stroke-width="0.9"/><circle cx="606.71" cy="392.78" r="2.0" fill="none" stroke="#e44a4a" stroke-width="0.9"/><circle cx="606.96" cy="393.16" r="2.0" fill="none" stroke="#e44a4a" stroke-width="0.9"/><circle cx="607.20" cy="393.14" r="2.0" fill="none" stroke="#e44a4a" stroke-width="0.9"/><circle cx="607.44" cy="393.10" r="2.0" fill="none" stroke="#e44a4a" stroke-width="0.9"/><circle cx="607.69" cy="392.29" r="2.0" fill="none" stroke="#e44a4a" stroke-width="0.9"/><circle cx="607.93" cy="393.15" r="2.0" fill="none" stroke="#e44a4a" stroke-width="0.9"/><circle cx="608.17" cy="393.07" r="2.0" fill="none" stroke="#e44a4a" stroke-width="0.9"/><circle cx="608.41" cy="393.29" r="2.0" fill="none" stroke="#e44a4a" stroke-width="0.9"/><circle cx="608.66" cy="393.33" r="2.0" fill="none" stroke="#e44a4a" stroke-width="0.9"/><circle cx="608.90" cy="393.35" r="2.0" fill="none" stroke="#e44a4a" stroke-width="0.9"/><circle cx="609.14" cy="393.02" r="2.0" fill="none" stroke="#e44a4a" stroke-width="0.9"/><circle cx="609.39" cy="394.70" r="2.0" fill="none" stroke="#e44a4a" stroke-width="0.9"/><circle cx="609.63" cy="393.92" r="2.0" fill="none" stroke="#e44a4a" stroke-width="0.9"/><circle cx="609.87" cy="394.06" r="2.0" fill="none" stroke="#e44a4a" stroke-width="0.9"/><circle cx="610.12" cy="393.32" r="2.0" fill="none" stroke="#e44a4a" stroke-width="0.9"/><circle cx="610.36" cy="393.79" r="2.0" fill="none" stroke="#e44a4a" stroke-width="0.9"/><circle cx="610.60" cy="393.00" r="2.0" fill="none" stroke="#e44a4a" stroke-width="0.9"/><circle cx="610.84" cy="392.80" r="2.0" fill="none" stroke="#e44a4a" stroke-width="0.9"/><circle cx="611.09" cy="393.28" r="2.0" fill="none" stroke="#e44a4a" stroke-width="0.9"/><circle cx="611.33" cy="392.71" r="2.0" fill="none" stroke="#e44a4a" stroke-width="0.9"/><circle cx="611.57" cy="392.97" r="2.0" fill="none" stroke="#e44a4a" stroke-width="0.9"/><circle cx="611.82" cy="392.32" r="2.0" fill="none" stroke="#e44a4a" stroke-width="0.9"/><circle cx="612.06" cy="392.30" r="2.0" fill="none" stroke="#e44a4a" stroke-width="0.9"/><circle cx="612.30" cy="391.88" r="2.0" fill="none" stroke="#e44a4a" stroke-width="0.9"/><circle cx="612.55" cy="391.89" r="2.0" fill="none" stroke="#e44a4a" stroke-width="0.9"/><circle cx="612.79" cy="392.29" r="2.0" fill="none" stroke="#e44a4a" stroke-width="0.9"/><circle cx="613.03" cy="390.85" r="2.0" fill="none" stroke="#e44a4a" stroke-width="0.9"/><circle cx="613.27" cy="391.05" r="2.0" fill="none" stroke="#e44a4a" stroke-width="0.9"/><circle cx="613.52" cy="390.18" r="2.0" fill="none" stroke="#e44a4a" stroke-width="0.9"/><circle cx="613.76" cy="390.22" r="2.0" fill="none" stroke="#e44a4a" stroke-width="0.9"/><circle cx="614.00" cy="389.41" r="2.0" fill="none" stroke="#e44a4a" stroke-width="0.9"/><circle cx="614.25" cy="390.01" r="2.0" fill="none" stroke="#e44a4a" stroke-width="0.9"/><circle cx="614.49" cy="388.39" r="2.0" fill="none" stroke="#e44a4a" stroke-width="0.9"/><circle cx="614.73" cy="389.81" r="2.0" fill="none" stroke="#e44a4a" stroke-width="0.9"/><circle cx="614.98" cy="389.71" r="2.0" fill="none" stroke="#e44a4a" stroke-width="0.9"/><circle cx="615.22" cy="389.72" r="2.0" fill="none" stroke="#e44a4a" stroke-width="0.9"/><circle cx="615.46" cy="390.94" r="2.0" fill="none" stroke="#e44a4a" stroke-width="0.9"/><circle cx="615.70" cy="390.38" r="2.0" fill="none" stroke="#e44a4a" stroke-width="0.9"/><circle cx="615.95" cy="390.84" r="2.0" fill="none" stroke="#e44a4a" stroke-width="0.9"/><circle cx="616.19" cy="390.81" r="2.0" fill="none" stroke="#e44a4a" stroke-width="0.9"/><circle cx="616.43" cy="391.48" r="2.0" fill="none" stroke="#e44a4a" stroke-width="0.9"/><circle cx="616.68" cy="392.10" r="2.0" fill="none" stroke="#e44a4a" stroke-width="0.9"/><circle cx="616.92" cy="392.36" r="2.0" fill="none" stroke="#e44a4a" stroke-width="0.9"/><circle cx="617.16" cy="392.48" r="2.0" fill="none" stroke="#e44a4a" stroke-width="0.9"/><circle cx="617.41" cy="392.34" r="2.0" fill="none" stroke="#e44a4a" stroke-width="0.9"/><circle cx="617.65" cy="392.69" r="2.0" fill="none" stroke="#e44a4a" stroke-width="0.9"/><circle cx="617.89" cy="392.63" r="2.0" fill="none" stroke="#e44a4a" stroke-width="0.9"/><circle cx="618.13" cy="392.43" r="2.0" fill="none" stroke="#e44a4a" stroke-width="0.9"/><circle cx="618.38" cy="393.19" r="2.0" fill="none" stroke="#e44a4a" stroke-width="0.9"/><circle cx="618.62" cy="393.32" r="2.0" fill="none" stroke="#e44a4a" stroke-width="0.9"/><circle cx="618.86" cy="393.08" r="2.0" fill="none" stroke="#e44a4a" stroke-width="0.9"/><circle cx="619.11" cy="393.12" r="2.0" fill="none" stroke="#e44a4a" stroke-width="0.9"/><circle cx="619.35" cy="394.16" r="2.0" fill="none" stroke="#e44a4a" stroke-width="0.9"/><circle cx="619.59" cy="393.67" r="2.0" fill="none" stroke="#e44a4a" stroke-width="0.9"/><circle cx="619.84" cy="393.48" r="2.0" fill="none" stroke="#e44a4a" stroke-width="0.9"/><circle cx="620.08" cy="393.36" r="2.0" fill="none" stroke="#e44a4a" stroke-width="0.9"/><circle cx="620.32" cy="393.82" r="2.0" fill="none" stroke="#e44a4a" stroke-width="0.9"/><circle cx="620.56" cy="394.09" r="2.0" fill="none" stroke="#e44a4a" stroke-width="0.9"/><circle cx="620.81" cy="393.02" r="2.0" fill="none" stroke="#e44a4a" stroke-width="0.9"/><circle cx="621.05" cy="394.88" r="2.0" fill="none" stroke="#e44a4a" stroke-width="0.9"/><circle cx="621.29" cy="393.25" r="2.0" fill="none" stroke="#e44a4a" stroke-width="0.9"/><circle cx="621.54" cy="394.00" r="2.0" fill="none" stroke="#e44a4a" stroke-width="0.9"/><circle cx="621.78" cy="393.91" r="2.0" fill="none" stroke="#e44a4a" stroke-width="0.9"/><circle cx="622.02" cy="393.78" r="2.0" fill="none" stroke="#e44a4a" stroke-width="0.9"/><circle cx="622.27" cy="393.65" r="2.0" fill="none" stroke="#e44a4a" stroke-width="0.9"/><circle cx="622.51" cy="394.12" r="2.0" fill="none" stroke="#e44a4a" stroke-width="0.9"/><circle cx="622.75" cy="394.28" r="2.0" fill="none" stroke="#e44a4a" stroke-width="0.9"/><circle cx="622.99" cy="393.66" r="2.0" fill="none" stroke="#e44a4a" stroke-width="0.9"/><circle cx="623.24" cy="393.33" r="2.0" fill="none" stroke="#e44a4a" stroke-width="0.9"/><circle cx="623.48" cy="393.69" r="2.0" fill="none" stroke="#e44a4a" stroke-width="0.9"/><circle cx="623.72" cy="392.14" r="2.0" fill="none" stroke="#e44a4a" stroke-width="0.9"/><circle cx="623.97" cy="392.91" r="2.0" fill="none" stroke="#e44a4a" stroke-width="0.9"/><circle cx="624.21" cy="391.48" r="2.0" fill="none" stroke="#e44a4a" stroke-width="0.9"/><circle cx="624.45" cy="391.02" r="2.0" fill="none" stroke="#e44a4a" stroke-width="0.9"/><circle cx="624.70" cy="390.06" r="2.0" fill="none" stroke="#e44a4a" stroke-width="0.9"/><circle cx="624.94" cy="390.56" r="2.0" fill="none" stroke="#e44a4a" stroke-width="0.9"/><circle cx="625.18" cy="388.52" r="2.0" fill="none" stroke="#e44a4a" stroke-width="0.9"/><circle cx="625.42" cy="387.37" r="2.0" fill="none" stroke="#e44a4a" stroke-width="0.9"/><circle cx="625.67" cy="387.09" r="2.0" fill="none" stroke="#e44a4a" stroke-width="0.9"/><circle cx="625.91" cy="384.52" r="2.0" fill="none" stroke="#e44a4a" stroke-width="0.9"/><circle cx="626.15" cy="383.66" r="2.0" fill="none" stroke="#e44a4a" stroke-width="0.9"/><circle cx="626.40" cy="381.44" r="2.0" fill="none" stroke="#e44a4a" stroke-width="0.9"/><circle cx="626.64" cy="379.20" r="2.0" fill="none" stroke="#e44a4a" stroke-width="0.9"/><circle cx="626.88" cy="378.55" r="2.0" fill="none" stroke="#e44a4a" stroke-width="0.9"/><circle cx="627.13" cy="375.81" r="2.0" fill="none" stroke="#e44a4a" stroke-width="0.9"/><circle cx="627.37" cy="375.55" r="2.0" fill="none" stroke="#e44a4a" stroke-width="0.9"/><circle cx="627.61" cy="375.45" r="2.0" fill="none" stroke="#e44a4a" stroke-width="0.9"/><circle cx="627.86" cy="374.06" r="2.0" fill="none" stroke="#e44a4a" stroke-width="0.9"/><circle cx="628.10" cy="372.21" r="2.0" fill="none" stroke="#e44a4a" stroke-width="0.9"/><circle cx="628.34" cy="372.71" r="2.0" fill="none" stroke="#e44a4a" stroke-width="0.9"/><circle cx="628.58" cy="372.21" r="2.0" fill="none" stroke="#e44a4a" stroke-width="0.9"/><circle cx="628.83" cy="372.89" r="2.0" fill="none" stroke="#e44a4a" stroke-width="0.9"/><circle cx="629.07" cy="373.27" r="2.0" fill="none" stroke="#e44a4a" stroke-width="0.9"/><circle cx="629.31" cy="374.66" r="2.0" fill="none" stroke="#e44a4a" stroke-width="0.9"/><circle cx="629.56" cy="375.39" r="2.0" fill="none" stroke="#e44a4a" stroke-width="0.9"/><circle cx="629.80" cy="377.18" r="2.0" fill="none" stroke="#e44a4a" stroke-width="0.9"/><circle cx="630.04" cy="377.22" r="2.0" fill="none" stroke="#e44a4a" stroke-width="0.9"/><circle cx="630.29" cy="378.91" r="2.0" fill="none" stroke="#e44a4a" stroke-width="0.9"/><circle cx="630.53" cy="380.09" r="2.0" fill="none" stroke="#e44a4a" stroke-width="0.9"/><circle cx="630.77" cy="381.35" r="2.0" fill="none" stroke="#e44a4a" stroke-width="0.9"/><circle cx="631.01" cy="383.49" r="2.0" fill="none" stroke="#e44a4a" stroke-width="0.9"/><circle cx="631.26" cy="384.70" r="2.0" fill="none" stroke="#e44a4a" stroke-width="0.9"/><circle cx="631.50" cy="386.28" r="2.0" fill="none" stroke="#e44a4a" stroke-width="0.9"/><circle cx="631.74" cy="386.95" r="2.0" fill="none" stroke="#e44a4a" stroke-width="0.9"/><circle cx="631.99" cy="387.70" r="2.0" fill="none" stroke="#e44a4a" stroke-width="0.9"/><circle cx="632.23" cy="387.71" r="2.0" fill="none" stroke="#e44a4a" stroke-width="0.9"/><circle cx="632.47" cy="387.33" r="2.0" fill="none" stroke="#e44a4a" stroke-width="0.9"/><circle cx="632.72" cy="389.18" r="2.0" fill="none" stroke="#e44a4a" stroke-width="0.9"/><circle cx="632.96" cy="388.19" r="2.0" fill="none" stroke="#e44a4a" stroke-width="0.9"/><circle cx="633.20" cy="388.50" r="2.0" fill="none" stroke="#e44a4a" stroke-width="0.9"/><circle cx="633.44" cy="388.85" r="2.0" fill="none" stroke="#e44a4a" stroke-width="0.9"/><circle cx="633.69" cy="389.86" r="2.0" fill="none" stroke="#e44a4a" stroke-width="0.9"/><circle cx="633.93" cy="390.29" r="2.0" fill="none" stroke="#e44a4a" stroke-width="0.9"/><circle cx="634.17" cy="390.09" r="2.0" fill="none" stroke="#e44a4a" stroke-width="0.9"/><circle cx="634.42" cy="390.47" r="2.0" fill="none" stroke="#e44a4a" stroke-width="0.9"/><circle cx="634.66" cy="390.28" r="2.0" fill="none" stroke="#e44a4a" stroke-width="0.9"/><circle cx="634.90" cy="391.38" r="2.0" fill="none" stroke="#e44a4a" stroke-width="0.9"/><circle cx="635.15" cy="391.61" r="2.0" fill="none" stroke="#e44a4a" stroke-width="0.9"/><circle cx="635.39" cy="391.18" r="2.0" fill="none" stroke="#e44a4a" stroke-width="0.9"/><circle cx="635.63" cy="392.00" r="2.0" fill="none" stroke="#e44a4a" stroke-width="0.9"/><circle cx="635.87" cy="392.11" r="2.0" fill="none" stroke="#e44a4a" stroke-width="0.9"/><circle cx="636.12" cy="391.76" r="2.0" fill="none" stroke="#e44a4a" stroke-width="0.9"/><circle cx="636.36" cy="392.18" r="2.0" fill="none" stroke="#e44a4a" stroke-width="0.9"/><circle cx="636.60" cy="392.85" r="2.0" fill="none" stroke="#e44a4a" stroke-width="0.9"/><circle cx="636.85" cy="392.69" r="2.0" fill="none" stroke="#e44a4a" stroke-width="0.9"/><circle cx="637.09" cy="393.03" r="2.0" fill="none" stroke="#e44a4a" stroke-width="0.9"/><circle cx="637.33" cy="392.69" r="2.0" fill="none" stroke="#e44a4a" stroke-width="0.9"/><circle cx="637.58" cy="393.03" r="2.0" fill="none" stroke="#e44a4a" stroke-width="0.9"/><circle cx="637.82" cy="393.54" r="2.0" fill="none" stroke="#e44a4a" stroke-width="0.9"/><circle cx="638.06" cy="392.66" r="2.0" fill="none" stroke="#e44a4a" stroke-width="0.9"/><circle cx="638.30" cy="393.39" r="2.0" fill="none" stroke="#e44a4a" stroke-width="0.9"/><circle cx="638.55" cy="393.41" r="2.0" fill="none" stroke="#e44a4a" stroke-width="0.9"/><circle cx="638.79" cy="393.73" r="2.0" fill="none" stroke="#e44a4a" stroke-width="0.9"/><circle cx="639.03" cy="393.57" r="2.0" fill="none" stroke="#e44a4a" stroke-width="0.9"/><circle cx="639.28" cy="393.78" r="2.0" fill="none" stroke="#e44a4a" stroke-width="0.9"/><circle cx="639.52" cy="393.52" r="2.0" fill="none" stroke="#e44a4a" stroke-width="0.9"/><circle cx="639.76" cy="393.60" r="2.0" fill="none" stroke="#e44a4a" stroke-width="0.9"/><circle cx="640.01" cy="393.44" r="2.0" fill="none" stroke="#e44a4a" stroke-width="0.9"/><circle cx="640.25" cy="393.65" r="2.0" fill="none" stroke="#e44a4a" stroke-width="0.9"/><circle cx="640.49" cy="394.17" r="2.0" fill="none" stroke="#e44a4a" stroke-width="0.9"/><circle cx="640.73" cy="394.31" r="2.0" fill="none" stroke="#e44a4a" stroke-width="0.9"/><circle cx="640.98" cy="394.42" r="2.0" fill="none" stroke="#e44a4a" stroke-width="0.9"/><circle cx="641.22" cy="393.87" r="2.0" fill="none" stroke="#e44a4a" stroke-width="0.9"/><circle cx="641.46" cy="394.54" r="2.0" fill="none" stroke="#e44a4a" stroke-width="0.9"/><circle cx="641.71" cy="393.84" r="2.0" fill="none" stroke="#e44a4a" stroke-width="0.9"/><circle cx="641.95" cy="394.36" r="2.0" fill="none" stroke="#e44a4a" stroke-width="0.9"/><circle cx="642.19" cy="394.51" r="2.0" fill="none" stroke="#e44a4a" stroke-width="0.9"/><circle cx="642.44" cy="394.50" r="2.0" fill="none" stroke="#e44a4a" stroke-width="0.9"/><circle cx="642.68" cy="394.04" r="2.0" fill="none" stroke="#e44a4a" stroke-width="0.9"/><circle cx="642.92" cy="394.67" r="2.0" fill="none" stroke="#e44a4a" stroke-width="0.9"/><circle cx="643.16" cy="394.89" r="2.0" fill="none" stroke="#e44a4a" stroke-width="0.9"/><circle cx="643.41" cy="395.19" r="2.0" fill="none" stroke="#e44a4a" stroke-width="0.9"/><circle cx="643.65" cy="395.44" r="2.0" fill="none" stroke="#e44a4a" stroke-width="0.9"/><circle cx="643.89" cy="395.21" r="2.0" fill="none" stroke="#e44a4a" stroke-width="0.9"/><circle cx="644.14" cy="394.65" r="2.0" fill="none" stroke="#e44a4a" stroke-width="0.9"/><circle cx="644.38" cy="394.94" r="2.0" fill="none" stroke="#e44a4a" stroke-width="0.9"/><circle cx="644.62" cy="395.44" r="2.0" fill="none" stroke="#e44a4a" stroke-width="0.9"/><circle cx="644.87" cy="396.05" r="2.0" fill="none" stroke="#e44a4a" stroke-width="0.9"/><circle cx="645.11" cy="395.00" r="2.0" fill="none" stroke="#e44a4a" stroke-width="0.9"/><circle cx="645.35" cy="395.30" r="2.0" fill="none" stroke="#e44a4a" stroke-width="0.9"/><circle cx="645.59" cy="396.13" r="2.0" fill="none" stroke="#e44a4a" stroke-width="0.9"/><circle cx="645.84" cy="395.62" r="2.0" fill="none" stroke="#e44a4a" stroke-width="0.9"/><circle cx="646.08" cy="395.96" r="2.0" fill="none" stroke="#e44a4a" stroke-width="0.9"/><circle cx="646.32" cy="395.39" r="2.0" fill="none" stroke="#e44a4a" stroke-width="0.9"/><circle cx="646.57" cy="395.58" r="2.0" fill="none" stroke="#e44a4a" stroke-width="0.9"/><circle cx="646.81" cy="396.05" r="2.0" fill="none" stroke="#e44a4a" stroke-width="0.9"/><circle cx="647.05" cy="396.58" r="2.0" fill="none" stroke="#e44a4a" stroke-width="0.9"/><circle cx="647.30" cy="396.08" r="2.0" fill="none" stroke="#e44a4a" stroke-width="0.9"/><circle cx="647.54" cy="395.30" r="2.0" fill="none" stroke="#e44a4a" stroke-width="0.9"/><circle cx="647.78" cy="395.98" r="2.0" fill="none" stroke="#e44a4a" stroke-width="0.9"/><circle cx="648.02" cy="396.33" r="2.0" fill="none" stroke="#e44a4a" stroke-width="0.9"/><circle cx="648.27" cy="395.96" r="2.0" fill="none" stroke="#e44a4a" stroke-width="0.9"/><circle cx="648.51" cy="396.43" r="2.0" fill="none" stroke="#e44a4a" stroke-width="0.9"/><circle cx="648.75" cy="395.86" r="2.0" fill="none" stroke="#e44a4a" stroke-width="0.9"/><circle cx="649.00" cy="396.89" r="2.0" fill="none" stroke="#e44a4a" stroke-width="0.9"/><circle cx="649.24" cy="396.57" r="2.0" fill="none" stroke="#e44a4a" stroke-width="0.9"/><circle cx="649.48" cy="396.05" r="2.0" fill="none" stroke="#e44a4a" stroke-width="0.9"/><circle cx="649.73" cy="396.22" r="2.0" fill="none" stroke="#e44a4a" stroke-width="0.9"/><circle cx="649.97" cy="396.45" r="2.0" fill="none" stroke="#e44a4a" stroke-width="0.9"/><circle cx="650.21" cy="397.07" r="2.0" fill="none" stroke="#e44a4a" stroke-width="0.9"/><circle cx="650.45" cy="396.70" r="2.0" fill="none" stroke="#e44a4a" stroke-width="0.9"/><circle cx="650.70" cy="396.58" r="2.0" fill="none" stroke="#e44a4a" stroke-width="0.9"/><circle cx="650.94" cy="396.94" r="2.0" fill="none" stroke="#e44a4a" stroke-width="0.9"/><circle cx="651.18" cy="396.86" r="2.0" fill="none" stroke="#e44a4a" stroke-width="0.9"/><circle cx="651.43" cy="396.68" r="2.0" fill="none" stroke="#e44a4a" stroke-width="0.9"/><circle cx="651.67" cy="397.08" r="2.0" fill="none" stroke="#e44a4a" stroke-width="0.9"/><circle cx="651.91" cy="396.89" r="2.0" fill="none" stroke="#e44a4a" stroke-width="0.9"/><circle cx="652.16" cy="397.16" r="2.0" fill="none" stroke="#e44a4a" stroke-width="0.9"/><circle cx="652.40" cy="397.45" r="2.0" fill="none" stroke="#e44a4a" stroke-width="0.9"/><circle cx="652.64" cy="397.60" r="2.0" fill="none" stroke="#e44a4a" stroke-width="0.9"/><circle cx="652.88" cy="397.44" r="2.0" fill="none" stroke="#e44a4a" stroke-width="0.9"/><circle cx="653.13" cy="397.53" r="2.0" fill="none" stroke="#e44a4a" stroke-width="0.9"/><circle cx="653.37" cy="397.03" r="2.0" fill="none" stroke="#e44a4a" stroke-width="0.9"/><circle cx="653.61" cy="397.28" r="2.0" fill="none" stroke="#e44a4a" stroke-width="0.9"/><circle cx="653.86" cy="397.80" r="2.0" fill="none" stroke="#e44a4a" stroke-width="0.9"/><circle cx="654.10" cy="396.91" r="2.0" fill="none" stroke="#e44a4a" stroke-width="0.9"/><circle cx="654.34" cy="396.66" r="2.0" fill="none" stroke="#e44a4a" stroke-width="0.9"/><circle cx="654.59" cy="397.42" r="2.0" fill="none" stroke="#e44a4a" stroke-width="0.9"/><circle cx="654.83" cy="397.15" r="2.0" fill="none" stroke="#e44a4a" stroke-width="0.9"/><circle cx="655.07" cy="397.33" r="2.0" fill="none" stroke="#e44a4a" stroke-width="0.9"/><circle cx="655.31" cy="397.10" r="2.0" fill="none" stroke="#e44a4a" stroke-width="0.9"/><circle cx="655.56" cy="397.27" r="2.0" fill="none" stroke="#e44a4a" stroke-width="0.9"/><circle cx="655.80" cy="397.18" r="2.0" fill="none" stroke="#e44a4a" stroke-width="0.9"/><circle cx="656.04" cy="397.31" r="2.0" fill="none" stroke="#e44a4a" stroke-width="0.9"/><circle cx="656.29" cy="397.47" r="2.0" fill="none" stroke="#e44a4a" stroke-width="0.9"/><circle cx="656.53" cy="397.40" r="2.0" fill="none" stroke="#e44a4a" stroke-width="0.9"/><circle cx="656.77" cy="397.51" r="2.0" fill="none" stroke="#e44a4a" stroke-width="0.9"/><circle cx="657.02" cy="397.48" r="2.0" fill="none" stroke="#e44a4a" stroke-width="0.9"/><circle cx="657.26" cy="397.42" r="2.0" fill="none" stroke="#e44a4a" stroke-width="0.9"/><circle cx="657.50" cy="396.62" r="2.0" fill="none" stroke="#e44a4a" stroke-width="0.9"/><circle cx="657.74" cy="397.10" r="2.0" fill="none" stroke="#e44a4a" stroke-width="0.9"/><circle cx="657.99" cy="396.81" r="2.0" fill="none" stroke="#e44a4a" stroke-width="0.9"/><circle cx="658.23" cy="397.70" r="2.0" fill="none" stroke="#e44a4a" stroke-width="0.9"/><circle cx="658.47" cy="397.38" r="2.0" fill="none" stroke="#e44a4a" stroke-width="0.9"/><circle cx="658.72" cy="397.04" r="2.0" fill="none" stroke="#e44a4a" stroke-width="0.9"/><circle cx="658.96" cy="396.97" r="2.0" fill="none" stroke="#e44a4a" stroke-width="0.9"/><circle cx="659.20" cy="397.18" r="2.0" fill="none" stroke="#e44a4a" stroke-width="0.9"/><circle cx="659.45" cy="397.43" r="2.0" fill="none" stroke="#e44a4a" stroke-width="0.9"/></g>
<circle cx="595.05" cy="307.30" r="2.0" fill="none" stroke="#e44a4a" stroke-width="0.9"/>
<text x="604.60" y="310.40" font-size="7.4" fill="#000" text-anchor="start"  textLength="50.0" lengthAdjust="spacingAndGlyphs" stroke="#000" stroke-width="0.22">PTFMB-4%LiCl</text>
<text x="0" y="0" font-size="7.0" fill="#000" text-anchor="middle" transform="translate(522.40,352.70) rotate(-90)"  textLength="63.5" lengthAdjust="spacingAndGlyphs" stroke="#000" stroke-width="0.22">Normalized Intensity</text>
<text x="602.50" y="419.10" font-size="6.8" fill="#000" text-anchor="middle"  stroke="#000" stroke-width="0.22">2θ (°)</text>
</svg>
</body></html>
